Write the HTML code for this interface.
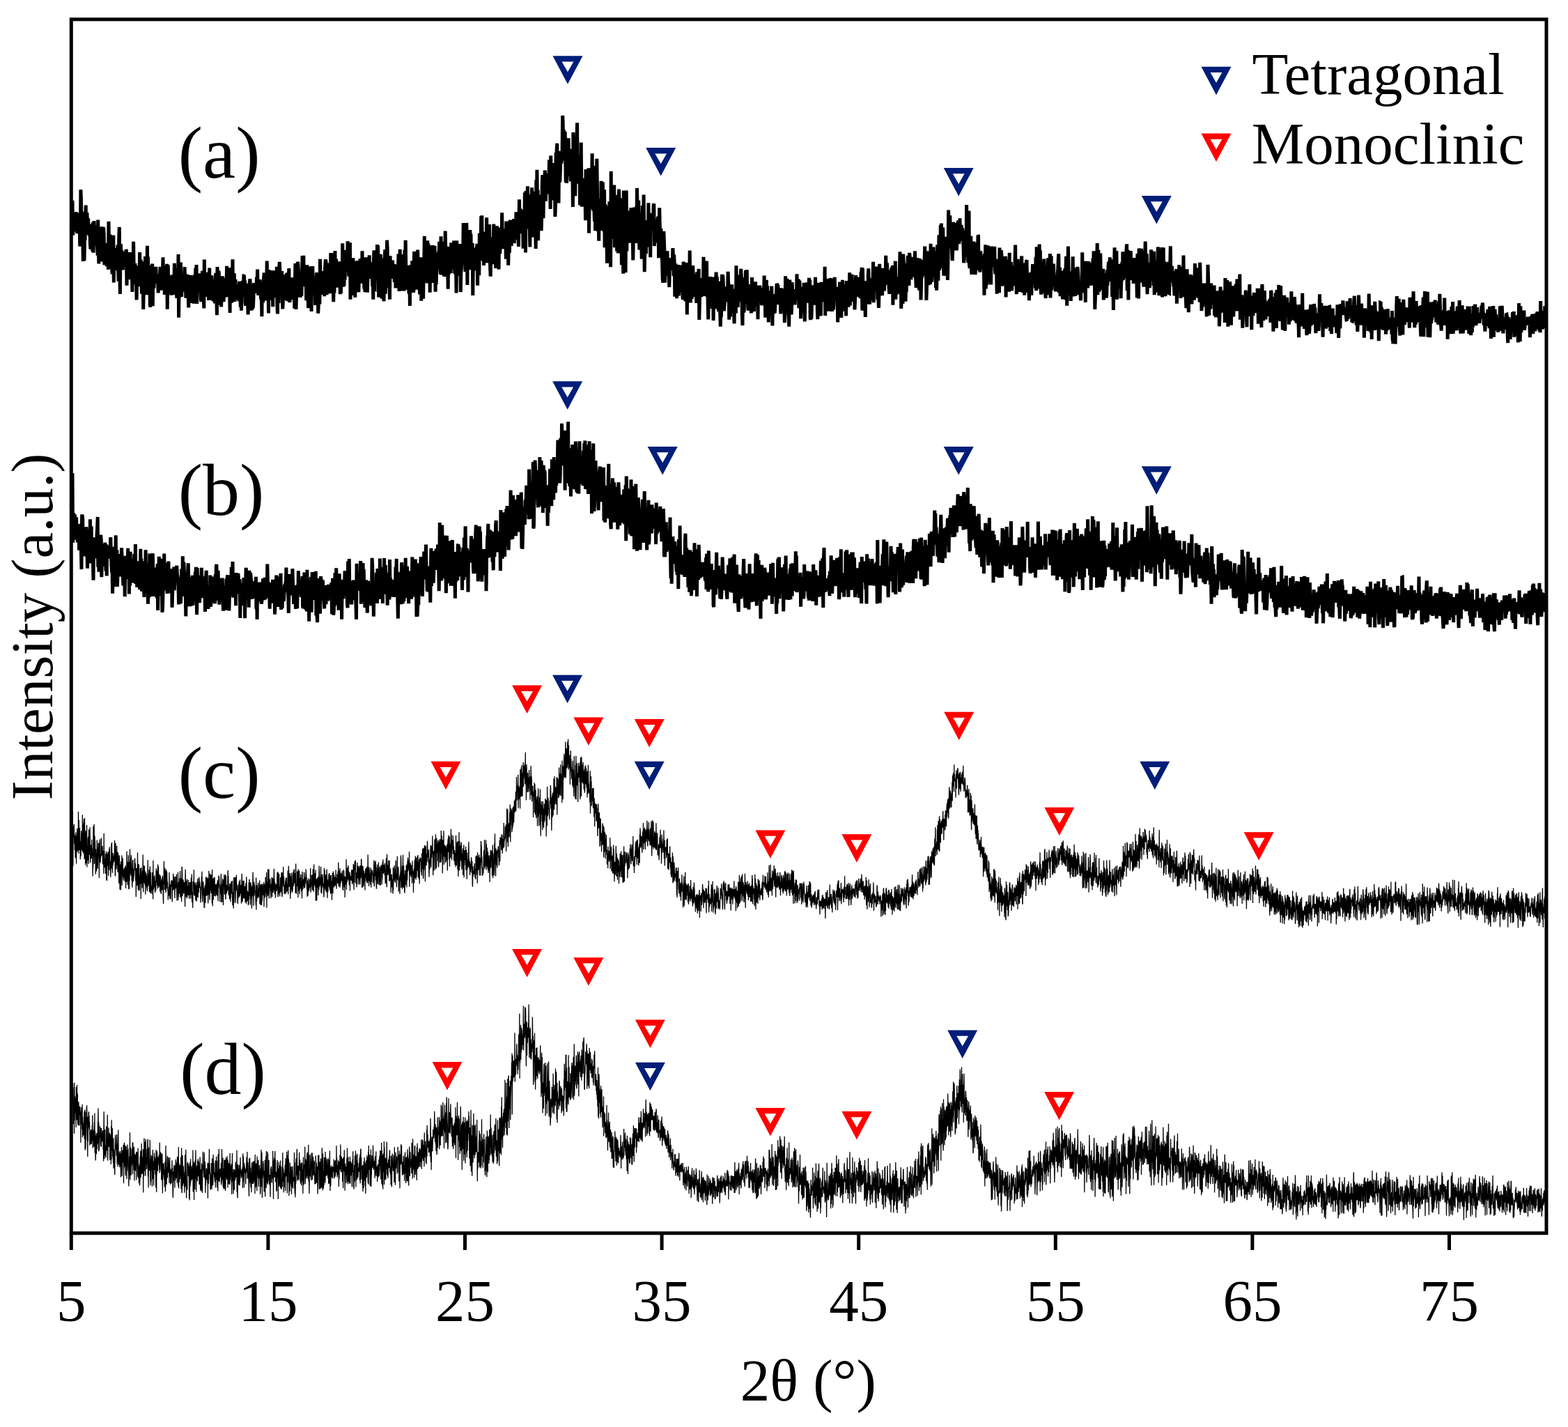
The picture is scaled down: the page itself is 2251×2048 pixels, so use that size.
<!DOCTYPE html><html><head><meta charset="utf-8"><style>html,body{margin:0;padding:0;background:#fff}svg{display:block}</style></head><body>
<svg xmlns="http://www.w3.org/2000/svg" width="2251" height="2048" viewBox="0 0 2251 2048">
<rect width="2251" height="2048" fill="#fff"/>
<polyline points="102.3,323.7 102.9,334.7 103.4,324.0 104.0,287.7 104.6,337.7 105.1,327.8 105.7,306.1 106.3,331.6 106.8,327.2 107.4,326.0 108.0,320.5 108.5,332.5 109.1,304.2 109.6,317.4 110.2,310.7 110.8,335.2 111.3,323.2 111.9,316.1 112.5,305.6 113.0,317.8 113.6,324.1 114.2,318.2 114.7,353.5 115.3,347.5 115.9,272.2 116.4,284.0 117.0,322.5 117.6,317.4 118.1,331.9 118.7,332.4 119.3,374.9 119.8,303.8 120.4,320.4 121.0,374.3 121.5,343.9 122.1,344.6 122.6,319.1 123.2,294.5 123.8,334.9 124.3,334.0 124.9,305.0 125.5,317.6 126.0,331.8 126.6,313.3 127.2,332.5 127.7,337.5 128.3,336.8 128.9,325.6 129.4,350.4 130.0,357.5 130.6,345.7 131.1,321.6 131.7,356.0 132.3,329.9 132.8,360.6 133.4,318.8 134.0,362.7 134.5,343.0 135.1,317.1 135.6,338.0 136.2,346.7 136.8,352.1 137.3,325.6 137.9,323.6 138.5,352.5 139.0,338.8 139.6,354.6 140.2,366.6 140.7,315.5 141.3,357.0 141.9,378.5 142.4,346.6 143.0,336.2 143.6,370.4 144.1,360.4 144.7,374.8 145.3,348.9 145.8,325.4 146.4,355.3 147.0,348.9 147.5,375.5 148.1,363.8 148.6,325.8 149.2,335.7 149.8,380.3 150.3,376.3 150.9,348.7 151.5,362.5 152.0,372.3 152.6,373.1 153.2,382.0 153.7,369.2 154.3,362.2 154.9,359.0 155.4,386.9 156.0,317.9 156.6,362.5 157.1,366.4 157.7,336.3 158.3,373.3 158.8,353.1 159.4,385.0 160.0,364.7 160.5,381.6 161.1,393.3 161.6,376.2 162.2,350.5 162.8,337.7 163.3,405.4 163.9,367.3 164.5,355.8 165.0,373.2 165.6,366.6 166.2,388.2 166.7,371.9 167.3,371.8 167.9,357.4 168.4,381.6 169.0,351.6 169.6,386.1 170.1,403.6 170.7,342.9 171.3,325.9 171.8,386.3 172.4,422.0 173.0,354.9 173.5,350.3 174.1,386.9 174.6,359.2 175.2,366.2 175.8,369.7 176.3,387.3 176.9,369.5 177.5,383.2 178.0,374.8 178.6,362.2 179.2,372.9 179.7,361.0 180.3,380.1 180.9,358.4 181.4,359.5 182.0,409.7 182.6,380.6 183.1,381.0 183.7,392.5 184.3,374.7 184.8,378.9 185.4,392.1 185.9,389.7 186.5,362.0 187.1,401.3 187.6,373.9 188.2,365.3 188.8,368.7 189.3,379.1 189.9,418.9 190.5,364.6 191.0,391.1 191.6,346.7 192.2,388.8 192.7,406.9 193.3,385.1 193.9,377.8 194.4,395.1 195.0,404.7 195.6,404.4 196.1,430.4 196.7,396.3 197.3,381.1 197.8,390.7 198.4,392.1 198.9,396.1 199.5,393.6 200.1,397.9 200.6,362.1 201.2,411.2 201.8,384.0 202.3,372.6 202.9,408.2 203.5,421.7 204.0,405.9 204.6,399.7 205.2,378.6 205.7,443.9 206.3,414.5 206.9,375.3 207.4,382.6 208.0,399.8 208.6,368.0 209.1,401.9 209.7,389.9 210.3,423.0 210.8,418.1 211.4,352.8 211.9,400.7 212.5,368.6 213.1,422.0 213.6,403.9 214.2,411.5 214.8,380.4 215.3,436.9 215.9,440.8 216.5,381.3 217.0,409.4 217.6,389.4 218.2,402.2 218.7,378.5 219.3,439.2 219.9,384.7 220.4,398.0 221.0,413.6 221.6,391.7 222.1,399.9 222.7,393.9 223.3,402.4 223.8,382.8 224.4,397.0 224.9,401.6 225.5,399.3 226.1,406.9 226.6,400.4 227.2,420.5 227.8,400.1 228.3,403.8 228.9,393.9 229.5,396.7 230.0,382.8 230.6,416.8 231.2,385.4 231.7,393.1 232.3,414.2 232.9,415.2 233.4,400.1 234.0,369.4 234.6,415.9 235.1,413.0 235.7,381.4 236.3,423.0 236.8,395.2 237.4,387.2 237.9,410.6 238.5,405.5 239.1,412.9 239.6,378.7 240.2,443.8 240.8,398.0 241.3,380.4 241.9,421.5 242.5,403.2 243.0,416.2 243.6,403.7 244.2,409.2 244.7,415.2 245.3,396.4 245.9,423.7 246.4,402.0 247.0,394.5 247.6,412.7 248.1,419.8 248.7,407.1 249.3,395.0 249.8,423.1 250.4,377.8 250.9,391.6 251.5,411.9 252.1,385.2 252.6,411.5 253.2,409.8 253.8,427.9 254.3,393.4 254.9,398.8 255.5,416.9 256.0,365.0 256.6,455.8 257.2,397.1 257.7,396.5 258.3,426.4 258.9,409.3 259.4,376.5 260.0,421.7 260.6,425.9 261.1,401.3 261.7,404.4 262.3,418.7 262.8,392.5 263.4,417.6 263.9,413.1 264.5,396.7 265.1,383.2 265.6,404.9 266.2,392.7 266.8,427.6 267.3,411.6 267.9,423.4 268.5,411.2 269.0,413.5 269.6,394.0 270.2,420.9 270.7,441.5 271.3,402.6 271.9,397.3 272.4,405.2 273.0,399.2 273.6,395.0 274.1,410.7 274.7,402.9 275.3,435.0 275.8,408.6 276.4,414.8 276.9,426.5 277.5,403.6 278.1,435.7 278.6,397.8 279.2,394.8 279.8,403.1 280.3,407.9 280.9,384.5 281.5,409.6 282.0,380.0 282.6,436.0 283.2,409.3 283.7,399.2 284.3,394.5 284.9,404.3 285.4,407.4 286.0,392.6 286.6,395.0 287.1,408.5 287.7,402.6 288.3,429.3 288.8,433.0 289.4,412.9 289.9,421.3 290.5,388.8 291.1,424.6 291.6,412.7 292.2,422.1 292.8,442.4 293.3,372.6 293.9,418.6 294.5,394.3 295.0,424.9 295.6,390.7 296.2,405.6 296.7,418.4 297.3,425.9 297.9,416.4 298.4,400.9 299.0,405.2 299.6,431.0 300.1,414.9 300.7,384.6 301.3,430.1 301.8,422.3 302.4,430.5 302.9,408.6 303.5,429.5 304.1,395.4 304.6,424.8 305.2,405.5 305.8,426.5 306.3,432.4 306.9,400.9 307.5,413.2 308.0,414.8 308.6,435.5 309.2,426.8 309.7,391.8 310.3,422.1 310.9,427.3 311.4,452.2 312.0,383.1 312.6,403.8 313.1,437.7 313.7,388.8 314.3,391.5 314.8,422.7 315.4,431.7 315.9,401.0 316.5,422.9 317.1,415.1 317.6,440.5 318.2,412.8 318.8,430.8 319.3,396.3 319.9,409.3 320.5,410.8 321.0,433.2 321.6,423.0 322.2,398.7 322.7,424.7 323.3,426.3 323.9,410.4 324.4,407.8 325.0,409.0 325.6,381.8 326.1,416.1 326.7,417.0 327.2,397.0 327.8,426.3 328.4,388.0 328.9,402.9 329.5,404.4 330.1,449.0 330.6,384.2 331.2,423.4 331.8,430.3 332.3,420.1 332.9,434.7 333.5,395.3 334.0,372.4 334.6,427.4 335.2,392.1 335.7,407.8 336.3,392.5 336.9,432.7 337.4,429.4 338.0,401.0 338.6,430.2 339.1,416.2 339.7,411.6 340.2,415.2 340.8,410.6 341.4,425.2 341.9,419.9 342.5,408.2 343.1,432.4 343.6,403.7 344.2,419.7 344.8,422.1 345.3,440.9 345.9,405.8 346.5,445.7 347.0,418.0 347.6,411.5 348.2,403.1 348.7,425.3 349.3,415.7 349.9,395.4 350.4,395.0 351.0,405.0 351.6,402.8 352.1,433.7 352.7,438.6 353.2,429.7 353.8,420.7 354.4,406.9 354.9,415.3 355.5,429.7 356.1,451.4 356.6,430.1 357.2,409.3 357.8,414.8 358.3,405.6 358.9,400.4 359.5,410.7 360.0,417.3 360.6,445.8 361.2,414.7 361.7,437.4 362.3,444.5 362.9,415.0 363.4,441.6 364.0,426.0 364.6,406.2 365.1,418.0 365.7,413.8 366.2,409.3 366.8,409.8 367.4,415.7 367.9,420.7 368.5,397.7 369.1,412.9 369.6,386.5 370.2,417.5 370.8,423.8 371.3,415.7 371.9,417.8 372.5,423.0 373.0,401.1 373.6,408.5 374.2,421.5 374.7,430.0 375.3,419.4 375.9,454.3 376.4,410.8 377.0,429.8 377.6,434.4 378.1,409.9 378.7,397.9 379.2,391.5 379.8,414.9 380.4,431.4 380.9,416.7 381.5,414.9 382.1,405.3 382.6,421.6 383.2,374.5 383.8,415.8 384.3,412.2 384.9,387.7 385.5,449.5 386.0,387.3 386.6,392.7 387.2,390.5 387.7,430.7 388.3,395.8 388.9,422.9 389.4,421.5 390.0,415.7 390.6,388.3 391.1,400.4 391.7,440.2 392.2,388.5 392.8,396.4 393.4,408.0 393.9,424.9 394.5,415.2 395.1,423.7 395.6,392.1 396.2,427.1 396.8,420.5 397.3,382.7 397.9,437.4 398.5,450.5 399.0,397.1 399.6,411.5 400.2,434.9 400.7,384.8 401.3,375.9 401.9,388.0 402.4,400.8 403.0,400.6 403.6,421.3 404.1,415.4 404.7,389.0 405.2,420.6 405.8,443.4 406.4,431.6 406.9,428.1 407.5,411.2 408.1,428.0 408.6,394.0 409.2,424.0 409.8,409.4 410.3,430.6 410.9,419.1 411.5,391.9 412.0,413.2 412.6,432.2 413.2,391.3 413.7,401.3 414.3,397.6 414.9,385.0 415.4,427.8 416.0,433.9 416.6,425.1 417.1,415.4 417.7,410.2 418.2,415.3 418.8,398.4 419.4,426.8 419.9,429.5 420.5,427.6 421.1,402.0 421.6,412.6 422.2,408.4 422.8,442.6 423.3,414.3 423.9,378.0 424.5,418.0 425.0,444.0 425.6,422.9 426.2,426.2 426.7,411.3 427.3,375.8 427.9,378.6 428.4,388.4 429.0,408.1 429.6,415.7 430.1,422.4 430.7,404.1 431.2,427.0 431.8,405.0 432.4,397.4 432.9,424.9 433.5,393.5 434.1,367.0 434.6,390.7 435.2,411.1 435.8,366.7 436.3,402.9 436.9,403.3 437.5,383.7 438.0,382.6 438.6,400.7 439.2,399.1 439.7,431.3 440.3,415.4 440.9,380.4 441.4,393.3 442.0,421.1 442.6,442.3 443.1,415.2 443.7,413.8 444.2,441.5 444.8,407.7 445.4,402.4 445.9,382.5 446.5,398.6 447.1,446.9 447.6,382.1 448.2,407.8 448.8,382.1 449.3,409.7 449.9,423.3 450.5,402.8 451.0,420.3 451.6,420.1 452.2,415.1 452.7,437.9 453.3,420.9 453.9,401.2 454.4,394.3 455.0,391.3 455.6,415.1 456.1,400.5 456.7,449.8 457.2,439.6 457.8,402.3 458.4,400.1 458.9,436.6 459.5,371.7 460.1,397.6 460.6,423.0 461.2,389.1 461.8,396.9 462.3,399.1 462.9,417.4 463.5,407.8 464.0,412.5 464.6,415.9 465.2,405.6 465.7,425.1 466.3,391.7 466.9,378.8 467.4,372.5 468.0,375.2 468.5,394.6 469.1,423.2 469.7,407.6 470.2,393.5 470.8,384.8 471.4,394.6 471.9,396.7 472.5,393.5 473.1,377.5 473.6,394.5 474.2,421.3 474.8,363.1 475.3,397.9 475.9,363.4 476.5,404.9 477.0,387.7 477.6,363.2 478.2,402.5 478.7,433.3 479.3,402.0 479.9,420.8 480.4,398.2 481.0,360.0 481.5,407.7 482.1,390.9 482.7,371.7 483.2,412.1 483.8,402.8 484.4,387.8 484.9,412.7 485.5,380.9 486.1,408.0 486.6,379.0 487.2,405.4 487.8,375.4 488.3,422.2 488.9,399.5 489.5,420.6 490.0,379.2 490.6,385.2 491.2,409.0 491.7,349.3 492.3,373.4 492.9,411.6 493.4,400.9 494.0,410.1 494.5,386.0 495.1,401.8 495.7,377.6 496.2,365.4 496.8,359.1 497.4,380.4 497.9,380.5 498.5,379.1 499.1,346.2 499.6,353.7 500.2,381.2 500.8,396.6 501.3,380.5 501.9,375.0 502.5,348.2 503.0,429.7 503.6,371.1 504.2,423.7 504.7,421.6 505.3,397.4 505.9,381.3 506.4,394.9 507.0,370.3 507.5,397.6 508.1,392.7 508.7,403.1 509.2,411.4 509.8,426.9 510.4,385.5 510.9,413.8 511.5,377.7 512.1,375.8 512.6,381.3 513.2,374.2 513.8,413.2 514.3,412.2 514.9,419.2 515.5,393.6 516.0,399.7 516.6,382.8 517.2,371.5 517.7,403.4 518.3,400.0 518.9,372.7 519.4,406.6 520.0,360.2 520.5,391.5 521.1,382.6 521.7,384.7 522.2,373.6 522.8,414.4 523.4,406.7 523.9,419.1 524.5,398.1 525.1,369.4 525.6,387.9 526.2,371.6 526.8,404.5 527.3,419.7 527.9,402.0 528.5,383.3 529.0,387.9 529.6,399.5 530.2,366.2 530.7,398.4 531.3,399.5 531.9,384.4 532.4,387.0 533.0,399.0 533.5,378.9 534.1,378.8 534.7,411.3 535.2,400.1 535.8,429.7 536.4,375.5 536.9,359.4 537.5,414.8 538.1,415.1 538.6,380.6 539.2,365.7 539.8,394.7 540.3,359.9 540.9,388.7 541.5,351.0 542.0,390.8 542.6,352.2 543.2,390.8 543.7,426.8 544.3,390.2 544.9,411.5 545.4,382.5 546.0,377.4 546.5,364.8 547.1,416.9 547.7,394.1 548.2,428.6 548.8,370.8 549.4,390.3 549.9,396.4 550.5,423.9 551.1,432.2 551.6,381.0 552.2,370.8 552.8,358.2 553.3,421.8 553.9,392.1 554.5,380.3 555.0,392.6 555.6,344.7 556.2,357.6 556.7,412.8 557.3,401.4 557.9,396.2 558.4,372.1 559.0,405.1 559.5,429.8 560.1,367.2 560.7,392.8 561.2,383.4 561.8,399.8 562.4,392.5 562.9,389.0 563.5,373.6 564.1,391.5 564.6,379.0 565.2,388.6 565.8,390.2 566.3,405.0 566.9,379.2 567.5,384.5 568.0,413.4 568.6,386.4 569.2,385.4 569.7,408.8 570.3,396.3 570.9,392.5 571.4,395.0 572.0,364.6 572.5,399.9 573.1,417.8 573.7,402.3 574.2,357.7 574.8,396.0 575.4,371.1 575.9,385.2 576.5,392.5 577.1,365.0 577.6,417.5 578.2,388.2 578.8,406.1 579.3,402.7 579.9,417.4 580.5,414.2 581.0,358.6 581.6,390.1 582.2,344.7 582.7,379.8 583.3,403.9 583.9,408.0 584.4,415.7 585.0,380.9 585.5,395.4 586.1,390.6 586.7,414.9 587.2,421.5 587.8,380.9 588.4,438.9 588.9,388.1 589.5,380.5 590.1,400.5 590.6,403.8 591.2,399.3 591.8,374.3 592.3,418.4 592.9,388.8 593.5,419.6 594.0,416.6 594.6,361.0 595.2,367.0 595.7,366.5 596.3,392.5 596.9,388.2 597.4,392.6 598.0,369.9 598.5,395.6 599.1,415.8 599.7,358.6 600.2,382.2 600.8,391.3 601.4,383.2 601.9,381.7 602.5,422.5 603.1,412.2 603.6,403.0 604.2,369.3 604.8,431.8 605.3,392.4 605.9,372.7 606.5,377.6 607.0,374.3 607.6,428.6 608.2,388.5 608.7,385.4 609.3,338.9 609.8,399.2 610.4,361.5 611.0,359.9 611.5,396.2 612.1,365.1 612.7,400.6 613.2,406.4 613.8,345.3 614.4,379.8 614.9,349.5 615.5,381.0 616.1,401.3 616.6,353.4 617.2,419.7 617.8,375.2 618.3,356.7 618.9,378.8 619.5,397.9 620.0,352.2 620.6,381.0 621.2,351.9 621.7,406.0 622.3,383.8 622.8,371.4 623.4,402.0 624.0,352.9 624.5,371.6 625.1,418.7 625.7,377.0 626.2,408.1 626.8,383.4 627.4,364.4 627.9,373.8 628.5,380.5 629.1,370.0 629.6,361.1 630.2,361.9 630.8,346.8 631.3,380.4 631.9,386.2 632.5,393.6 633.0,339.3 633.6,394.5 634.2,376.9 634.7,346.8 635.3,379.0 635.8,394.0 636.4,387.7 637.0,391.8 637.5,396.3 638.1,395.1 638.7,375.2 639.2,331.5 639.8,359.4 640.4,383.0 640.9,365.3 641.5,389.7 642.1,392.0 642.6,375.8 643.2,414.7 643.8,353.7 644.3,394.2 644.9,364.1 645.5,357.3 646.0,386.4 646.6,360.5 647.2,391.9 647.7,348.4 648.3,373.9 648.8,355.0 649.4,367.8 650.0,364.8 650.5,348.4 651.1,386.4 651.7,345.6 652.2,351.1 652.8,391.0 653.4,392.6 653.9,385.9 654.5,378.8 655.1,420.4 655.6,345.5 656.2,355.5 656.8,350.1 657.3,390.8 657.9,377.7 658.5,395.4 659.0,392.4 659.6,366.7 660.2,353.9 660.7,350.1 661.3,419.1 661.8,392.4 662.4,384.3 663.0,364.2 663.5,367.2 664.1,364.1 664.7,364.5 665.2,320.1 665.8,370.2 666.4,363.3 666.9,377.8 667.5,376.1 668.1,390.0 668.6,371.3 669.2,388.8 669.8,319.9 670.3,347.7 670.9,408.9 671.5,345.1 672.0,365.5 672.6,386.9 673.2,352.4 673.7,387.2 674.3,340.6 674.8,330.0 675.4,342.7 676.0,335.7 676.5,371.2 677.1,364.6 677.7,378.7 678.2,349.1 678.8,423.9 679.4,369.2 679.9,369.8 680.5,380.2 681.1,364.6 681.6,355.7 682.2,370.8 682.8,388.4 683.3,382.5 683.9,388.0 684.5,354.9 685.0,349.9 685.6,409.7 686.2,360.6 686.7,375.7 687.3,380.9 687.8,395.3 688.4,334.7 689.0,353.1 689.5,353.7 690.1,356.1 690.7,310.3 691.2,359.7 691.8,309.3 692.4,367.6 692.9,372.5 693.5,373.6 694.1,334.0 694.6,380.9 695.2,340.9 695.8,332.7 696.3,337.8 696.9,340.4 697.5,362.4 698.0,376.4 698.6,312.2 699.2,346.0 699.7,377.3 700.3,361.8 700.8,368.2 701.4,324.1 702.0,377.4 702.5,322.1 703.1,360.3 703.7,385.6 704.2,396.6 704.8,366.3 705.4,374.0 705.9,341.1 706.5,343.4 707.1,379.1 707.6,353.2 708.2,350.0 708.8,321.5 709.3,355.3 709.9,365.7 710.5,333.8 711.0,339.7 711.6,384.9 712.2,353.9 712.7,343.3 713.3,324.3 713.8,335.2 714.4,342.9 715.0,378.0 715.5,334.2 716.1,386.6 716.7,326.4 717.2,338.4 717.8,364.3 718.4,339.9 718.9,326.5 719.5,341.3 720.1,353.6 720.6,305.4 721.2,337.2 721.8,339.8 722.3,332.8 722.9,357.3 723.5,328.1 724.0,332.1 724.6,340.4 725.2,355.2 725.7,333.7 726.3,371.6 726.8,317.5 727.4,365.5 728.0,317.6 728.5,332.4 729.1,343.6 729.7,380.6 730.2,354.6 730.8,325.4 731.4,362.7 731.9,328.9 732.5,315.7 733.1,342.7 733.6,334.5 734.2,353.0 734.8,319.4 735.3,339.6 735.9,344.8 736.5,336.5 737.0,329.3 737.6,314.2 738.2,349.1 738.7,331.8 739.3,339.3 739.8,320.2 740.4,327.9 741.0,304.3 741.5,328.5 742.1,343.0 742.7,327.6 743.2,343.9 743.8,331.3 744.4,354.0 744.9,319.1 745.5,286.4 746.1,331.8 746.6,318.0 747.2,299.5 747.8,335.0 748.3,325.8 748.9,329.3 749.5,311.5 750.0,322.7 750.6,323.4 751.1,356.8 751.7,301.4 752.3,315.9 752.8,323.7 753.4,276.4 754.0,278.7 754.5,362.5 755.1,274.0 755.7,326.0 756.2,293.7 756.8,295.1 757.4,267.2 757.9,291.1 758.5,328.5 759.1,279.1 759.6,323.3 760.2,316.5 760.8,354.5 761.3,297.9 761.9,336.6 762.5,327.7 763.0,300.7 763.6,269.2 764.1,340.4 764.7,274.9 765.3,294.6 765.8,325.0 766.4,329.8 767.0,284.6 767.5,302.5 768.1,296.8 768.7,329.3 769.2,357.0 769.8,258.6 770.4,321.8 770.9,243.8 771.5,299.7 772.1,272.7 772.6,345.2 773.2,301.6 773.8,279.5 774.3,284.6 774.9,282.1 775.5,299.9 776.0,291.0 776.6,310.2 777.1,331.1 777.7,310.3 778.3,262.5 778.8,251.0 779.4,270.5 780.0,313.3 780.5,277.1 781.1,266.9 781.7,285.1 782.2,244.6 782.8,249.6 783.4,288.7 783.9,266.6 784.5,261.0 785.1,278.3 785.6,254.0 786.2,249.6 786.8,253.4 787.3,277.9 787.9,262.5 788.5,229.5 789.0,249.8 789.6,271.5 790.1,300.0 790.7,223.4 791.3,259.7 791.8,244.7 792.4,271.5 793.0,262.0 793.5,287.4 794.1,263.5 794.7,236.5 795.2,236.5 795.8,260.3 796.4,259.9 796.9,311.1 797.5,292.6 798.1,219.0 798.6,258.2 799.2,214.4 799.8,205.7 800.3,268.1 800.9,262.9 801.5,221.0 802.0,291.5 802.6,222.1 803.1,216.9 803.7,261.6 804.3,246.2 804.8,232.2 805.4,230.8 806.0,234.6 806.5,221.0 807.1,216.2 807.7,165.9 808.2,176.9 808.8,225.6 809.4,186.3 809.9,216.0 810.5,230.6 811.1,188.8 811.6,209.6 812.2,261.5 812.8,228.0 813.3,262.6 813.9,257.9 814.5,240.6 815.0,221.0 815.6,205.0 816.1,198.3 816.7,241.7 817.3,241.6 817.8,224.7 818.4,252.6 819.0,213.9 819.5,260.5 820.1,232.1 820.7,230.4 821.2,231.8 821.8,229.6 822.4,296.9 822.9,189.9 823.5,238.2 824.1,267.0 824.6,253.3 825.2,226.6 825.8,281.2 826.3,207.2 826.9,201.4 827.5,251.2 828.0,198.6 828.6,176.2 829.1,263.0 829.7,261.4 830.3,262.2 830.8,232.3 831.4,251.3 832.0,223.2 832.5,294.6 833.1,271.9 833.7,272.2 834.2,204.4 834.8,277.2 835.4,296.6 835.9,291.0 836.5,281.6 837.1,262.9 837.6,255.7 838.2,281.7 838.8,277.7 839.3,275.6 839.9,263.1 840.5,316.3 841.0,243.0 841.6,273.5 842.1,259.7 842.7,302.6 843.3,313.9 843.8,309.8 844.4,297.8 845.0,241.3 845.5,334.6 846.1,293.8 846.7,277.8 847.2,282.0 847.8,273.1 848.4,294.3 848.9,292.0 849.5,274.7 850.1,220.3 850.6,284.9 851.2,299.5 851.8,301.6 852.3,283.9 852.9,301.2 853.5,317.7 854.0,277.4 854.6,331.2 855.1,238.1 855.7,257.8 856.3,268.3 856.8,227.7 857.4,267.1 858.0,330.1 858.5,330.7 859.1,299.6 859.7,345.6 860.2,305.1 860.8,285.2 861.4,306.7 861.9,296.8 862.5,322.1 863.1,259.7 863.6,331.1 864.2,290.6 864.8,328.5 865.3,261.3 865.9,293.6 866.5,308.2 867.0,332.2 867.6,272.2 868.1,355.2 868.7,321.8 869.3,293.4 869.8,344.0 870.4,312.5 871.0,343.4 871.5,377.6 872.1,333.2 872.7,296.3 873.2,299.7 873.8,329.4 874.4,321.4 874.9,289.3 875.5,294.6 876.1,333.9 876.6,383.2 877.2,245.8 877.8,337.1 878.3,310.4 878.9,339.6 879.5,342.7 880.0,319.6 880.6,289.3 881.1,278.8 881.7,265.6 882.3,355.3 882.8,314.6 883.4,305.6 884.0,313.7 884.5,283.8 885.1,331.4 885.7,360.8 886.2,356.1 886.8,279.7 887.4,363.4 887.9,303.6 888.5,271.6 889.1,291.5 889.6,299.5 890.2,326.9 890.8,298.0 891.3,284.5 891.9,319.3 892.4,380.3 893.0,306.9 893.6,339.3 894.1,328.5 894.7,392.8 895.3,273.4 895.8,356.2 896.4,290.4 897.0,309.3 897.5,322.9 898.1,391.3 898.7,304.4 899.2,273.4 899.8,360.5 900.4,302.0 900.9,318.2 901.5,324.0 902.1,327.2 902.6,320.0 903.2,332.2 903.8,335.8 904.3,348.7 904.9,314.5 905.4,306.3 906.0,298.2 906.6,342.9 907.1,326.2 907.7,342.5 908.3,342.5 908.8,373.4 909.4,334.3 910.0,349.2 910.5,297.6 911.1,301.2 911.7,322.0 912.2,298.6 912.8,348.9 913.4,296.5 913.9,333.3 914.5,269.9 915.1,303.8 915.6,323.9 916.2,326.3 916.8,287.6 917.3,336.4 917.9,358.5 918.4,350.6 919.0,318.1 919.6,320.3 920.1,305.7 920.7,351.3 921.3,371.6 921.8,323.3 922.4,295.0 923.0,341.9 923.5,354.5 924.1,279.5 924.7,341.3 925.2,390.3 925.8,358.3 926.4,352.1 926.9,348.9 927.5,364.3 928.1,316.4 928.6,318.1 929.2,346.9 929.8,320.7 930.3,342.1 930.9,291.3 931.4,352.2 932.0,353.6 932.6,334.6 933.1,336.7 933.7,369.2 934.3,307.2 934.8,310.5 935.4,305.8 936.0,320.3 936.5,306.5 937.1,329.5 937.7,313.4 938.2,295.0 938.8,292.2 939.4,353.1 939.9,325.1 940.5,322.9 941.1,329.8 941.6,328.7 942.2,348.5 942.8,345.5 943.3,321.5 943.9,317.7 944.4,313.3 945.0,311.0 945.6,370.3 946.1,321.0 946.7,298.3 947.3,325.2 947.8,327.7 948.4,353.3 949.0,328.3 949.5,360.3 950.1,358.5 950.7,378.7 951.2,399.4 951.8,405.7 952.4,384.5 952.9,331.9 953.5,349.6 954.1,365.1 954.6,405.6 955.2,377.2 955.8,389.9 956.3,361.9 956.9,379.7 957.4,383.8 958.0,360.3 958.6,388.0 959.1,395.7 959.7,371.0 960.3,397.4 960.8,412.2 961.4,380.2 962.0,380.2 962.5,375.1 963.1,370.1 963.7,387.9 964.2,377.4 964.8,380.4 965.4,371.3 965.9,356.0 966.5,369.2 967.1,396.3 967.6,365.4 968.2,377.2 968.8,425.6 969.3,415.4 969.9,378.2 970.4,405.7 971.0,380.4 971.6,428.1 972.1,383.0 972.7,397.4 973.3,424.8 973.8,380.1 974.4,424.3 975.0,381.6 975.5,403.7 976.1,393.5 976.7,398.4 977.2,403.7 977.8,399.3 978.4,380.5 978.9,418.7 979.5,415.9 980.1,427.5 980.6,429.6 981.2,375.5 981.8,428.1 982.3,428.5 982.9,392.5 983.4,423.8 984.0,432.4 984.6,393.2 985.1,377.1 985.7,397.3 986.3,451.4 986.8,409.4 987.4,381.4 988.0,400.4 988.5,386.2 989.1,398.1 989.7,408.0 990.2,359.6 990.8,413.6 991.4,434.4 991.9,403.3 992.5,399.9 993.1,428.9 993.6,383.2 994.2,383.9 994.8,381.3 995.3,405.6 995.9,416.6 996.4,407.4 997.0,420.1 997.6,425.9 998.1,419.6 998.7,394.4 999.3,405.2 999.8,435.0 1000.4,390.6 1001.0,406.3 1001.5,403.4 1002.1,408.2 1002.7,391.1 1003.2,386.0 1003.8,458.9 1004.4,430.9 1004.9,399.0 1005.5,411.9 1006.1,426.4 1006.6,406.9 1007.2,425.6 1007.8,402.1 1008.3,407.3 1008.9,412.8 1009.4,405.8 1010.0,368.7 1010.6,415.5 1011.1,420.4 1011.7,424.7 1012.3,396.7 1012.8,422.6 1013.4,420.4 1014.0,382.6 1014.5,374.5 1015.1,426.0 1015.7,398.9 1016.2,436.5 1016.8,458.5 1017.4,406.7 1017.9,404.9 1018.5,418.1 1019.1,431.4 1019.6,397.1 1020.2,442.7 1020.8,438.0 1021.3,432.0 1021.9,409.4 1022.4,437.3 1023.0,436.3 1023.6,397.6 1024.1,460.1 1024.7,415.1 1025.3,428.0 1025.8,411.3 1026.4,428.7 1027.0,443.5 1027.5,406.5 1028.1,390.6 1028.7,413.5 1029.2,397.5 1029.8,408.0 1030.4,420.1 1030.9,421.4 1031.5,447.1 1032.1,403.7 1032.6,429.7 1033.2,413.6 1033.7,449.1 1034.3,468.7 1034.9,429.3 1035.4,455.3 1036.0,413.9 1036.6,393.9 1037.1,400.2 1037.7,394.5 1038.3,406.5 1038.8,420.1 1039.4,446.4 1040.0,438.1 1040.5,433.8 1041.1,417.2 1041.7,411.7 1042.2,426.1 1042.8,428.2 1043.4,430.6 1043.9,432.9 1044.5,423.8 1045.1,389.9 1045.6,405.3 1046.2,410.9 1046.7,458.6 1047.3,418.7 1047.9,439.6 1048.4,454.6 1049.0,433.5 1049.6,419.9 1050.1,422.0 1050.7,408.4 1051.3,433.4 1051.8,448.7 1052.4,438.0 1053.0,441.6 1053.5,440.4 1054.1,464.4 1054.7,414.7 1055.2,429.4 1055.8,439.4 1056.4,449.4 1056.9,381.2 1057.5,416.0 1058.1,421.7 1058.6,406.3 1059.2,441.0 1059.7,429.1 1060.3,417.6 1060.9,394.5 1061.4,400.1 1062.0,406.2 1062.6,432.6 1063.1,401.6 1063.7,385.8 1064.3,397.0 1064.8,412.7 1065.4,454.0 1066.0,467.1 1066.5,414.2 1067.1,440.1 1067.7,448.2 1068.2,445.9 1068.8,420.2 1069.4,398.5 1069.9,413.2 1070.5,388.1 1071.1,426.0 1071.6,435.6 1072.2,387.2 1072.7,420.2 1073.3,426.3 1073.9,443.3 1074.4,445.4 1075.0,434.9 1075.6,408.0 1076.1,413.7 1076.7,442.2 1077.3,410.2 1077.8,420.6 1078.4,449.5 1079.0,424.3 1079.5,398.0 1080.1,417.5 1080.7,434.5 1081.2,420.1 1081.8,444.4 1082.4,446.9 1082.9,413.0 1083.5,415.9 1084.1,423.4 1084.6,404.3 1085.2,432.4 1085.7,422.5 1086.3,439.6 1086.9,415.1 1087.4,410.1 1088.0,458.2 1088.6,410.2 1089.1,415.4 1089.7,412.8 1090.3,420.3 1090.8,409.5 1091.4,424.9 1092.0,413.3 1092.5,418.4 1093.1,432.1 1093.7,438.1 1094.2,433.9 1094.8,412.8 1095.4,432.7 1095.9,423.6 1096.5,423.8 1097.1,395.5 1097.6,437.5 1098.2,423.3 1098.7,455.6 1099.3,436.9 1099.9,406.1 1100.4,401.7 1101.0,445.9 1101.6,410.4 1102.1,437.7 1102.7,420.4 1103.3,462.5 1103.8,427.1 1104.4,452.2 1105.0,449.0 1105.5,417.7 1106.1,420.0 1106.7,451.7 1107.2,425.8 1107.8,410.7 1108.4,446.8 1108.9,467.5 1109.5,425.3 1110.1,450.4 1110.6,423.3 1111.2,449.8 1111.7,422.1 1112.3,449.5 1112.9,435.9 1113.4,423.3 1114.0,430.7 1114.6,417.2 1115.1,407.2 1115.7,408.4 1116.3,425.9 1116.8,408.6 1117.4,434.7 1118.0,436.3 1118.5,435.3 1119.1,418.6 1119.7,428.3 1120.2,426.9 1120.8,450.4 1121.4,413.4 1121.9,420.8 1122.5,423.4 1123.1,425.1 1123.6,414.6 1124.2,416.7 1124.7,445.3 1125.3,416.6 1125.9,443.7 1126.4,463.2 1127.0,450.0 1127.6,396.4 1128.1,441.3 1128.7,436.2 1129.3,437.4 1129.8,399.7 1130.4,441.2 1131.0,409.1 1131.5,450.5 1132.1,446.7 1132.7,468.6 1133.2,421.3 1133.8,401.6 1134.4,446.3 1134.9,443.2 1135.5,421.2 1136.1,451.5 1136.6,439.7 1137.2,405.2 1137.7,421.4 1138.3,419.7 1138.9,425.5 1139.4,430.6 1140.0,415.1 1140.6,423.7 1141.1,437.3 1141.7,425.6 1142.3,422.1 1142.8,421.5 1143.4,424.9 1144.0,393.3 1144.5,429.3 1145.1,408.5 1145.7,428.2 1146.2,400.6 1146.8,442.2 1147.4,430.2 1147.9,402.5 1148.5,430.0 1149.1,412.6 1149.6,457.1 1150.2,434.2 1150.7,411.7 1151.3,429.4 1151.9,424.9 1152.4,446.2 1153.0,431.5 1153.6,434.1 1154.1,405.7 1154.7,438.8 1155.3,461.4 1155.8,436.0 1156.4,424.1 1157.0,427.6 1157.5,408.1 1158.1,427.8 1158.7,405.4 1159.2,425.2 1159.8,417.7 1160.4,410.0 1160.9,434.6 1161.5,398.7 1162.1,423.9 1162.6,401.6 1163.2,456.5 1163.7,459.0 1164.3,439.4 1164.9,457.7 1165.4,435.1 1166.0,434.2 1166.6,417.4 1167.1,409.3 1167.7,427.1 1168.3,415.6 1168.8,417.3 1169.4,437.6 1170.0,422.7 1170.5,397.8 1171.1,421.2 1171.7,411.7 1172.2,419.9 1172.8,406.0 1173.4,445.9 1173.9,458.2 1174.5,405.8 1175.0,436.4 1175.6,435.6 1176.2,406.5 1176.7,427.0 1177.3,449.8 1177.9,440.0 1178.4,453.4 1179.0,404.9 1179.6,412.3 1180.1,430.4 1180.7,431.5 1181.3,425.8 1181.8,418.6 1182.4,418.2 1183.0,414.8 1183.5,433.2 1184.1,382.7 1184.7,453.1 1185.2,415.9 1185.8,400.1 1186.4,434.3 1186.9,400.3 1187.5,431.3 1188.0,417.5 1188.6,434.6 1189.2,437.9 1189.7,446.6 1190.3,415.3 1190.9,418.8 1191.4,423.5 1192.0,399.0 1192.6,433.8 1193.1,425.6 1193.7,399.9 1194.3,444.1 1194.8,446.7 1195.4,399.9 1196.0,432.7 1196.5,444.3 1197.1,437.1 1197.7,405.3 1198.2,397.9 1198.8,420.1 1199.4,413.4 1199.9,421.7 1200.5,419.9 1201.0,430.8 1201.6,411.7 1202.2,418.6 1202.7,462.5 1203.3,418.9 1203.9,433.8 1204.4,425.9 1205.0,424.6 1205.6,404.7 1206.1,429.7 1206.7,419.5 1207.3,434.6 1207.8,456.0 1208.4,423.3 1209.0,433.2 1209.5,401.8 1210.1,421.6 1210.7,446.7 1211.2,418.3 1211.8,408.0 1212.4,422.6 1212.9,415.6 1213.5,414.5 1214.0,412.0 1214.6,453.4 1215.2,403.0 1215.7,410.9 1216.3,408.0 1216.9,439.7 1217.4,412.8 1218.0,440.6 1218.6,420.4 1219.1,416.9 1219.7,391.3 1220.3,438.4 1220.8,426.4 1221.4,423.9 1222.0,414.5 1222.5,409.1 1223.1,393.8 1223.7,432.9 1224.2,420.8 1224.8,409.5 1225.4,404.5 1225.9,417.7 1226.5,413.8 1227.0,444.5 1227.6,429.0 1228.2,404.4 1228.7,395.2 1229.3,410.5 1229.9,398.3 1230.4,415.8 1231.0,421.6 1231.6,425.6 1232.1,421.5 1232.7,410.5 1233.3,424.6 1233.8,397.7 1234.4,412.2 1235.0,428.1 1235.5,418.6 1236.1,390.4 1236.7,392.4 1237.2,384.0 1237.8,445.5 1238.4,384.9 1238.9,410.3 1239.5,445.8 1240.0,432.0 1240.6,436.3 1241.2,403.3 1241.7,425.6 1242.3,455.0 1242.9,411.3 1243.4,419.4 1244.0,406.1 1244.6,411.4 1245.1,418.4 1245.7,436.7 1246.3,395.0 1246.8,385.3 1247.4,411.6 1248.0,414.8 1248.5,436.6 1249.1,423.9 1249.7,399.3 1250.2,420.9 1250.8,430.9 1251.4,415.6 1251.9,404.0 1252.5,422.5 1253.0,403.5 1253.6,375.7 1254.2,434.2 1254.7,386.0 1255.3,403.4 1255.9,403.6 1256.4,403.1 1257.0,403.9 1257.6,382.5 1258.1,418.6 1258.7,409.2 1259.3,409.2 1259.8,428.1 1260.4,428.4 1261.0,432.6 1261.5,441.9 1262.1,415.8 1262.7,378.8 1263.2,411.0 1263.8,407.1 1264.4,407.9 1264.9,395.3 1265.5,389.8 1266.0,420.9 1266.6,423.9 1267.2,384.9 1267.7,415.5 1268.3,402.1 1268.9,397.9 1269.4,417.6 1270.0,403.7 1270.6,394.1 1271.1,405.3 1271.7,366.7 1272.3,392.8 1272.8,395.4 1273.4,377.2 1274.0,406.5 1274.5,408.0 1275.1,391.5 1275.7,399.3 1276.2,414.9 1276.8,421.9 1277.4,387.6 1277.9,408.0 1278.5,420.8 1279.0,400.6 1279.6,386.5 1280.2,386.4 1280.7,394.5 1281.3,381.0 1281.9,437.8 1282.4,389.2 1283.0,406.8 1283.6,403.0 1284.1,411.4 1284.7,392.0 1285.3,374.7 1285.8,429.8 1286.4,397.4 1287.0,401.0 1287.5,402.4 1288.1,422.3 1288.7,412.9 1289.2,420.5 1289.8,413.8 1290.4,401.0 1290.9,402.8 1291.5,383.9 1292.0,361.2 1292.6,393.2 1293.2,377.3 1293.7,442.9 1294.3,426.9 1294.9,419.5 1295.4,386.7 1296.0,436.1 1296.6,364.6 1297.1,373.9 1297.7,381.9 1298.3,378.4 1298.8,399.0 1299.4,400.1 1300.0,432.7 1300.5,415.2 1301.1,419.3 1301.7,403.9 1302.2,393.0 1302.8,382.6 1303.4,366.8 1303.9,378.9 1304.5,388.1 1305.0,409.9 1305.6,362.9 1306.2,368.9 1306.7,399.2 1307.3,374.8 1307.9,401.2 1308.4,386.7 1309.0,380.0 1309.6,368.7 1310.1,392.4 1310.7,380.0 1311.3,382.1 1311.8,381.5 1312.4,397.2 1313.0,396.3 1313.5,360.3 1314.1,390.1 1314.7,400.7 1315.2,412.9 1315.8,407.9 1316.3,396.6 1316.9,370.3 1317.5,377.4 1318.0,409.8 1318.6,378.4 1319.2,411.7 1319.7,416.4 1320.3,371.0 1320.9,400.0 1321.4,389.1 1322.0,430.5 1322.6,407.3 1323.1,380.9 1323.7,398.6 1324.3,372.7 1324.8,387.5 1325.4,394.3 1326.0,393.0 1326.5,396.0 1327.1,372.2 1327.7,353.5 1328.2,382.5 1328.8,372.0 1329.3,375.6 1329.9,430.9 1330.5,411.7 1331.0,385.4 1331.6,360.6 1332.2,363.1 1332.7,395.5 1333.3,409.1 1333.9,382.2 1334.4,390.2 1335.0,392.3 1335.6,407.9 1336.1,349.7 1336.7,389.4 1337.3,394.0 1337.8,404.5 1338.4,393.3 1339.0,363.5 1339.5,373.4 1340.1,354.6 1340.7,388.1 1341.2,387.8 1341.8,393.8 1342.3,364.3 1342.9,360.6 1343.5,413.0 1344.0,386.1 1344.6,416.8 1345.2,390.4 1345.7,351.4 1346.3,395.4 1346.9,402.8 1347.4,368.0 1348.0,337.4 1348.6,388.0 1349.1,370.8 1349.7,378.0 1350.3,323.0 1350.8,379.3 1351.4,320.6 1352.0,350.3 1352.5,384.6 1353.1,328.6 1353.7,326.6 1354.2,354.1 1354.8,395.5 1355.3,393.8 1355.9,347.3 1356.5,379.0 1357.0,369.3 1357.6,361.6 1358.2,362.8 1358.7,339.9 1359.3,370.5 1359.9,375.1 1360.4,402.0 1361.0,370.7 1361.6,301.5 1362.1,325.4 1362.7,356.4 1363.3,350.2 1363.8,309.4 1364.4,344.4 1365.0,339.1 1365.5,344.8 1366.1,342.5 1366.7,363.5 1367.2,374.1 1367.8,357.1 1368.3,318.9 1368.9,323.3 1369.5,326.7 1370.0,338.7 1370.6,330.8 1371.2,332.2 1371.7,320.0 1372.3,359.2 1372.9,356.9 1373.4,359.0 1374.0,337.0 1374.6,348.1 1375.1,319.2 1375.7,316.9 1376.3,326.6 1376.8,350.2 1377.4,334.6 1378.0,313.4 1378.5,339.4 1379.1,346.2 1379.7,340.5 1380.2,322.8 1380.8,338.1 1381.3,327.6 1381.9,329.5 1382.5,334.5 1383.0,353.4 1383.6,377.1 1384.2,372.4 1384.7,353.6 1385.3,332.7 1385.9,335.6 1386.4,337.5 1387.0,368.6 1387.6,294.1 1388.1,351.6 1388.7,304.7 1389.3,347.9 1389.8,377.2 1390.4,330.6 1391.0,302.4 1391.5,379.5 1392.1,384.9 1392.7,364.4 1393.2,381.5 1393.8,338.7 1394.3,381.7 1394.9,393.9 1395.5,372.3 1396.0,365.6 1396.6,387.9 1397.2,385.7 1397.7,346.6 1398.3,392.4 1398.9,380.3 1399.4,368.8 1400.0,394.1 1400.6,387.0 1401.1,384.2 1401.7,358.6 1402.3,387.9 1402.8,347.9 1403.4,369.6 1404.0,337.5 1404.5,338.3 1405.1,384.5 1405.7,374.4 1406.2,378.9 1406.8,390.5 1407.3,385.9 1407.9,360.3 1408.5,380.6 1409.0,377.9 1409.6,368.6 1410.2,377.1 1410.7,372.3 1411.3,366.7 1411.9,373.4 1412.4,385.5 1413.0,423.6 1413.6,364.1 1414.1,392.1 1414.7,351.3 1415.3,414.5 1415.8,375.1 1416.4,385.0 1417.0,408.7 1417.5,402.9 1418.1,352.3 1418.7,394.4 1419.2,378.7 1419.8,396.2 1420.3,386.9 1420.9,399.0 1421.5,390.2 1422.0,381.6 1422.6,408.5 1423.2,353.6 1423.7,376.4 1424.3,366.0 1424.9,382.7 1425.4,377.1 1426.0,383.0 1426.6,376.4 1427.1,377.0 1427.7,353.8 1428.3,386.2 1428.8,393.3 1429.4,375.4 1430.0,374.4 1430.5,374.9 1431.1,421.6 1431.7,392.0 1432.2,396.2 1432.8,382.7 1433.3,378.9 1433.9,371.6 1434.5,420.2 1435.0,355.6 1435.6,395.8 1436.2,389.6 1436.7,385.2 1437.3,359.2 1437.9,366.0 1438.4,410.6 1439.0,377.3 1439.6,409.0 1440.1,405.0 1440.7,403.5 1441.3,407.3 1441.8,368.1 1442.4,383.1 1443.0,406.3 1443.5,367.8 1444.1,426.5 1444.7,382.3 1445.2,392.4 1445.8,373.4 1446.3,401.4 1446.9,379.7 1447.5,389.7 1448.0,372.2 1448.6,418.7 1449.2,362.9 1449.7,404.4 1450.3,400.4 1450.9,404.5 1451.4,376.1 1452.0,416.6 1452.6,415.5 1453.1,400.0 1453.7,403.2 1454.3,394.2 1454.8,410.1 1455.4,381.7 1456.0,408.8 1456.5,406.1 1457.1,370.8 1457.6,351.5 1458.2,396.0 1458.8,395.1 1459.3,422.1 1459.9,399.4 1460.5,388.6 1461.0,371.8 1461.6,396.6 1462.2,386.9 1462.7,376.8 1463.3,396.0 1463.9,418.9 1464.4,400.1 1465.0,377.8 1465.6,404.7 1466.1,376.9 1466.7,367.5 1467.3,407.9 1467.8,387.6 1468.4,420.0 1469.0,404.4 1469.5,382.6 1470.1,402.6 1470.6,423.6 1471.2,394.6 1471.8,377.6 1472.3,385.4 1472.9,382.4 1473.5,375.3 1474.0,373.1 1474.6,406.5 1475.2,419.9 1475.7,391.2 1476.3,413.6 1476.9,416.0 1477.4,431.1 1478.0,394.7 1478.6,391.5 1479.1,406.5 1479.7,400.2 1480.3,404.2 1480.8,423.6 1481.4,389.9 1482.0,402.5 1482.5,379.1 1483.1,395.1 1483.6,385.0 1484.2,383.3 1484.8,393.7 1485.3,389.2 1485.9,405.1 1486.5,413.5 1487.0,368.7 1487.6,417.3 1488.2,354.3 1488.7,402.4 1489.3,411.4 1489.9,384.8 1490.4,393.0 1491.0,382.2 1491.6,414.8 1492.1,350.5 1492.7,378.3 1493.3,359.4 1493.8,400.8 1494.4,422.4 1495.0,420.3 1495.5,410.0 1496.1,401.8 1496.6,381.9 1497.2,420.6 1497.8,408.9 1498.3,380.2 1498.9,371.7 1499.5,384.3 1500.0,417.7 1500.6,420.9 1501.2,428.0 1501.7,381.3 1502.3,389.3 1502.9,423.3 1503.4,400.5 1504.0,411.1 1504.6,370.4 1505.1,388.9 1505.7,395.7 1506.3,389.1 1506.8,387.8 1507.4,364.0 1508.0,427.5 1508.5,398.5 1509.1,367.2 1509.6,416.5 1510.2,396.8 1510.8,409.4 1511.3,391.6 1511.9,380.0 1512.5,380.5 1513.0,401.9 1513.6,410.2 1514.2,404.6 1514.7,407.6 1515.3,418.4 1515.9,400.5 1516.4,414.4 1517.0,416.4 1517.6,400.4 1518.1,393.2 1518.7,386.2 1519.3,371.1 1519.8,364.2 1520.4,420.1 1521.0,394.2 1521.5,383.7 1522.1,425.1 1522.6,413.2 1523.2,395.4 1523.8,413.7 1524.3,390.4 1524.9,401.0 1525.5,429.5 1526.0,414.6 1526.6,388.5 1527.2,407.3 1527.7,416.8 1528.3,391.4 1528.9,385.5 1529.4,430.2 1530.0,387.8 1530.6,367.8 1531.1,396.5 1531.7,438.8 1532.3,407.0 1532.8,413.9 1533.4,353.5 1534.0,385.5 1534.5,420.4 1535.1,389.5 1535.6,423.5 1536.2,407.6 1536.8,406.5 1537.3,432.0 1537.9,389.9 1538.5,391.0 1539.0,402.7 1539.6,405.3 1540.2,368.2 1540.7,425.3 1541.3,405.8 1541.9,398.1 1542.4,413.5 1543.0,393.7 1543.6,425.0 1544.1,402.7 1544.7,415.5 1545.3,384.1 1545.8,396.0 1546.4,408.6 1547.0,382.9 1547.5,388.5 1548.1,400.3 1548.6,423.0 1549.2,416.1 1549.8,418.9 1550.3,407.2 1550.9,418.8 1551.5,431.3 1552.0,404.5 1552.6,409.7 1553.2,412.6 1553.7,362.2 1554.3,399.2 1554.9,409.3 1555.4,415.8 1556.0,394.9 1556.6,420.1 1557.1,388.6 1557.7,397.6 1558.3,433.9 1558.8,374.7 1559.4,399.4 1560.0,398.1 1560.5,399.1 1561.1,390.5 1561.6,413.5 1562.2,379.9 1562.8,375.0 1563.3,410.1 1563.9,377.4 1564.5,408.0 1565.0,401.0 1565.6,387.0 1566.2,393.7 1566.7,398.5 1567.3,409.6 1567.9,387.5 1568.4,396.1 1569.0,370.6 1569.6,394.7 1570.1,360.3 1570.7,399.3 1571.3,390.7 1571.8,443.9 1572.4,427.0 1573.0,396.9 1573.5,419.9 1574.1,405.9 1574.6,375.9 1575.2,349.1 1575.8,423.1 1576.3,408.0 1576.9,358.8 1577.5,413.1 1578.0,418.8 1578.6,385.4 1579.2,416.2 1579.7,363.6 1580.3,395.0 1580.9,400.3 1581.4,416.0 1582.0,407.9 1582.6,404.2 1583.1,411.2 1583.7,385.8 1584.3,430.5 1584.8,392.4 1585.4,416.1 1586.0,399.4 1586.5,394.3 1587.1,411.7 1587.6,408.8 1588.2,427.6 1588.8,422.0 1589.3,387.6 1589.9,409.9 1590.5,401.3 1591.0,382.4 1591.6,375.8 1592.2,404.0 1592.7,387.3 1593.3,369.3 1593.9,396.2 1594.4,402.6 1595.0,399.9 1595.6,372.4 1596.1,385.3 1596.7,425.9 1597.3,380.9 1597.8,390.0 1598.4,445.0 1598.9,403.8 1599.5,385.8 1600.1,355.3 1600.6,402.4 1601.2,366.6 1601.8,395.0 1602.3,377.1 1602.9,360.0 1603.5,429.7 1604.0,392.5 1604.6,413.9 1605.2,409.9 1605.7,378.8 1606.3,395.9 1606.9,386.3 1607.4,414.0 1608.0,402.5 1608.6,385.8 1609.1,428.1 1609.7,403.9 1610.3,402.5 1610.8,376.0 1611.4,401.0 1611.9,361.2 1612.5,401.8 1613.1,372.0 1613.6,395.5 1614.2,385.6 1614.8,396.2 1615.3,398.8 1615.9,389.8 1616.5,389.7 1617.0,359.1 1617.6,350.3 1618.2,417.2 1618.7,402.5 1619.3,358.7 1619.9,430.5 1620.4,374.7 1621.0,400.6 1621.6,398.6 1622.1,391.7 1622.7,402.2 1623.3,360.0 1623.8,388.2 1624.4,383.5 1624.9,390.6 1625.5,382.7 1626.1,374.8 1626.6,372.8 1627.2,406.9 1627.8,370.0 1628.3,395.6 1628.9,395.2 1629.5,385.5 1630.0,396.4 1630.6,398.8 1631.2,375.9 1631.7,394.2 1632.3,427.3 1632.9,364.0 1633.4,380.2 1634.0,370.2 1634.6,428.5 1635.1,356.4 1635.7,386.2 1636.3,405.6 1636.8,367.3 1637.4,382.7 1637.9,370.3 1638.5,356.8 1639.1,383.7 1639.6,395.8 1640.2,377.0 1640.8,389.2 1641.3,400.5 1641.9,411.6 1642.5,359.9 1643.0,399.6 1643.6,373.4 1644.2,346.6 1644.7,370.5 1645.3,401.0 1645.9,394.0 1646.4,364.2 1647.0,422.2 1647.6,396.7 1648.1,386.8 1648.7,376.9 1649.3,397.6 1649.8,380.6 1650.4,413.3 1650.9,396.0 1651.5,402.6 1652.1,383.1 1652.6,358.3 1653.2,401.3 1653.8,368.7 1654.3,388.2 1654.9,390.4 1655.5,374.2 1656.0,410.0 1656.6,360.8 1657.2,423.2 1657.7,379.1 1658.3,412.4 1658.9,419.6 1659.4,373.9 1660.0,376.8 1660.6,412.6 1661.1,396.8 1661.7,394.8 1662.3,354.5 1662.8,358.7 1663.4,405.0 1663.9,424.1 1664.5,379.2 1665.1,376.2 1665.6,399.1 1666.2,404.7 1666.8,407.0 1667.3,386.3 1667.9,355.1 1668.5,426.6 1669.0,386.0 1669.6,422.9 1670.2,355.4 1670.7,404.9 1671.3,387.1 1671.9,375.2 1672.4,418.2 1673.0,425.1 1673.6,386.5 1674.1,412.3 1674.7,377.0 1675.3,386.7 1675.8,394.7 1676.4,392.9 1676.9,413.5 1677.5,375.8 1678.1,420.8 1678.6,421.0 1679.2,397.0 1679.8,377.5 1680.3,353.4 1680.9,401.0 1681.5,388.0 1682.0,405.0 1682.6,381.7 1683.2,403.5 1683.7,402.5 1684.3,404.2 1684.9,410.1 1685.4,410.5 1686.0,424.5 1686.6,389.3 1687.1,419.9 1687.7,408.9 1688.3,397.6 1688.8,386.2 1689.4,435.8 1689.9,411.5 1690.5,396.5 1691.1,408.5 1691.6,407.4 1692.2,397.0 1692.8,380.2 1693.3,410.9 1693.9,404.8 1694.5,402.7 1695.0,428.0 1695.6,382.7 1696.2,390.0 1696.7,412.3 1697.3,425.8 1697.9,421.6 1698.4,424.0 1699.0,366.6 1699.6,419.9 1700.1,418.5 1700.7,423.8 1701.3,397.3 1701.8,420.8 1702.4,430.4 1702.9,442.1 1703.5,416.4 1704.1,386.4 1704.6,413.0 1705.2,424.3 1705.8,422.0 1706.3,448.3 1706.9,409.0 1707.5,394.0 1708.0,401.3 1708.6,425.5 1709.2,398.7 1709.7,394.5 1710.3,398.5 1710.9,436.5 1711.4,418.7 1712.0,408.4 1712.6,430.4 1713.1,427.6 1713.7,397.3 1714.3,430.7 1714.8,420.1 1715.4,378.1 1715.9,394.4 1716.5,421.1 1717.1,425.4 1717.6,411.5 1718.2,398.8 1718.8,421.8 1719.3,384.2 1719.9,427.8 1720.5,415.2 1721.0,417.7 1721.6,406.6 1722.2,433.7 1722.7,376.8 1723.3,403.4 1723.9,429.8 1724.4,406.9 1725.0,446.1 1725.6,427.7 1726.1,406.6 1726.7,440.5 1727.3,419.2 1727.8,431.5 1728.4,410.3 1728.9,410.9 1729.5,434.5 1730.1,423.9 1730.6,408.9 1731.2,407.0 1731.8,434.4 1732.3,454.4 1732.9,408.4 1733.5,435.7 1734.0,379.9 1734.6,399.4 1735.2,436.4 1735.7,452.8 1736.3,425.9 1736.9,434.8 1737.4,429.9 1738.0,443.5 1738.6,406.5 1739.1,437.1 1739.7,418.2 1740.2,420.0 1740.8,426.0 1741.4,422.5 1741.9,412.6 1742.5,421.8 1743.1,409.6 1743.6,452.9 1744.2,439.0 1744.8,419.3 1745.3,455.1 1745.9,449.7 1746.5,435.6 1747.0,417.5 1747.6,431.7 1748.2,437.4 1748.7,452.0 1749.3,424.2 1749.9,417.4 1750.4,468.3 1751.0,452.3 1751.6,433.3 1752.1,411.5 1752.7,436.6 1753.2,447.9 1753.8,441.5 1754.4,442.8 1754.9,429.0 1755.5,448.6 1756.1,417.7 1756.6,420.7 1757.2,419.7 1757.8,417.2 1758.3,463.0 1758.9,399.0 1759.5,433.0 1760.0,411.7 1760.6,407.3 1761.2,430.8 1761.7,402.0 1762.3,427.6 1762.9,468.8 1763.4,427.4 1764.0,437.3 1764.6,415.0 1765.1,437.8 1765.7,404.4 1766.2,433.0 1766.8,427.7 1767.4,466.6 1767.9,428.6 1768.5,424.0 1769.1,420.8 1769.6,410.2 1770.2,443.1 1770.8,454.5 1771.3,424.3 1771.9,442.3 1772.5,424.9 1773.0,437.4 1773.6,438.4 1774.2,407.6 1774.7,418.5 1775.3,446.4 1775.9,400.5 1776.4,431.5 1777.0,426.0 1777.6,416.7 1778.1,432.5 1778.7,436.7 1779.2,440.5 1779.8,393.6 1780.4,458.8 1780.9,424.7 1781.5,448.8 1782.1,430.5 1782.6,423.4 1783.2,431.7 1783.8,470.7 1784.3,457.7 1784.9,427.5 1785.5,436.7 1786.0,451.0 1786.6,442.5 1787.2,434.8 1787.7,430.6 1788.3,416.6 1788.9,445.7 1789.4,451.3 1790.0,469.3 1790.6,425.4 1791.1,444.5 1791.7,433.8 1792.2,454.3 1792.8,433.0 1793.4,424.4 1793.9,408.0 1794.5,446.2 1795.1,437.5 1795.6,452.9 1796.2,426.5 1796.8,473.3 1797.3,424.2 1797.9,443.7 1798.5,442.2 1799.0,453.3 1799.6,433.3 1800.2,421.5 1800.7,420.5 1801.3,449.1 1801.9,438.0 1802.4,441.9 1803.0,423.6 1803.6,438.9 1804.1,440.2 1804.7,446.6 1805.2,413.8 1805.8,424.9 1806.4,464.6 1806.9,431.1 1807.5,436.1 1808.1,431.3 1808.6,414.1 1809.2,420.8 1809.8,443.7 1810.3,427.5 1810.9,469.9 1811.5,414.8 1812.0,408.0 1812.6,432.3 1813.2,419.7 1813.7,460.2 1814.3,432.2 1814.9,446.9 1815.4,417.0 1816.0,449.4 1816.6,449.0 1817.1,458.4 1817.7,442.8 1818.2,447.4 1818.8,442.2 1819.4,453.9 1819.9,433.5 1820.5,448.2 1821.1,431.3 1821.6,450.9 1822.2,436.0 1822.8,430.5 1823.3,430.1 1823.9,462.9 1824.5,417.1 1825.0,418.4 1825.6,450.5 1826.2,426.0 1826.7,434.1 1827.3,433.8 1827.9,475.6 1828.4,431.4 1829.0,430.8 1829.6,435.9 1830.1,445.3 1830.7,449.4 1831.2,420.2 1831.8,448.8 1832.4,471.1 1832.9,416.1 1833.5,451.0 1834.1,453.9 1834.6,445.0 1835.2,440.0 1835.8,408.9 1836.3,460.4 1836.9,438.6 1837.5,440.4 1838.0,461.0 1838.6,410.3 1839.2,442.8 1839.7,452.4 1840.3,454.3 1840.9,452.9 1841.4,473.4 1842.0,448.5 1842.6,459.1 1843.1,455.8 1843.7,423.8 1844.2,434.1 1844.8,474.9 1845.4,441.5 1845.9,444.6 1846.5,426.9 1847.1,440.9 1847.6,427.2 1848.2,437.4 1848.8,454.1 1849.3,434.5 1849.9,437.7 1850.5,465.7 1851.0,453.5 1851.6,454.3 1852.2,461.3 1852.7,439.4 1853.3,441.8 1853.9,418.2 1854.4,458.1 1855.0,444.8 1855.6,447.9 1856.1,432.5 1856.7,457.0 1857.2,457.3 1857.8,451.1 1858.4,426.0 1858.9,436.8 1859.5,448.4 1860.1,437.1 1860.6,454.7 1861.2,463.7 1861.8,438.7 1862.3,447.0 1862.9,440.0 1863.5,464.6 1864.0,462.8 1864.6,484.3 1865.2,450.3 1865.7,437.0 1866.3,456.3 1866.9,447.2 1867.4,453.4 1868.0,468.5 1868.6,446.8 1869.1,461.3 1869.7,420.9 1870.2,466.3 1870.8,453.3 1871.4,448.1 1871.9,444.5 1872.5,471.9 1873.1,444.6 1873.6,470.0 1874.2,444.8 1874.8,452.8 1875.3,457.4 1875.9,481.3 1876.5,456.1 1877.0,456.1 1877.6,451.9 1878.2,448.6 1878.7,444.4 1879.3,478.9 1879.9,474.2 1880.4,443.7 1881.0,455.8 1881.5,437.0 1882.1,467.0 1882.7,463.6 1883.2,455.6 1883.8,442.8 1884.4,465.0 1884.9,463.0 1885.5,452.0 1886.1,464.9 1886.6,436.0 1887.2,446.5 1887.8,441.6 1888.3,456.5 1888.9,478.1 1889.5,455.7 1890.0,470.8 1890.6,454.7 1891.2,449.6 1891.7,469.2 1892.3,462.7 1892.9,474.8 1893.4,468.7 1894.0,444.3 1894.5,422.4 1895.1,457.4 1895.7,439.5 1896.2,436.3 1896.8,435.4 1897.4,447.0 1897.9,453.0 1898.5,455.9 1899.1,483.6 1899.6,439.4 1900.2,455.8 1900.8,439.1 1901.3,442.6 1901.9,457.0 1902.5,461.8 1903.0,438.9 1903.6,471.7 1904.2,443.8 1904.7,469.3 1905.3,455.7 1905.9,468.6 1906.4,464.1 1907.0,452.7 1907.5,463.0 1908.1,438.7 1908.7,439.4 1909.2,452.0 1909.8,475.1 1910.4,446.9 1910.9,449.0 1911.5,479.2 1912.1,457.6 1912.6,456.8 1913.2,442.5 1913.8,457.1 1914.3,464.0 1914.9,455.1 1915.5,465.8 1916.0,459.7 1916.6,469.1 1917.2,465.9 1917.7,452.8 1918.3,466.0 1918.9,478.2 1919.4,458.0 1920.0,437.4 1920.5,456.0 1921.1,450.5 1921.7,484.9 1922.2,462.8 1922.8,437.7 1923.4,449.7 1923.9,471.4 1924.5,436.2 1925.1,444.9 1925.6,451.2 1926.2,449.0 1926.8,442.8 1927.3,452.2 1927.9,431.4 1928.5,442.2 1929.0,441.7 1929.6,445.4 1930.2,445.2 1930.7,448.9 1931.3,444.0 1931.9,442.9 1932.4,453.0 1933.0,459.9 1933.5,460.5 1934.1,432.3 1934.7,451.1 1935.2,457.9 1935.8,444.4 1936.4,454.3 1936.9,445.3 1937.5,453.4 1938.1,428.1 1938.6,454.7 1939.2,442.2 1939.8,438.9 1940.3,444.9 1940.9,462.1 1941.5,461.7 1942.0,452.5 1942.6,460.8 1943.2,444.0 1943.7,432.9 1944.3,424.7 1944.9,449.3 1945.4,447.9 1946.0,450.4 1946.5,450.9 1947.1,466.4 1947.7,438.0 1948.2,440.0 1948.8,476.0 1949.4,460.8 1949.9,446.7 1950.5,423.6 1951.1,439.6 1951.6,446.2 1952.2,450.0 1952.8,453.7 1953.3,448.3 1953.9,466.7 1954.5,435.7 1955.0,447.8 1955.6,442.7 1956.2,462.2 1956.7,454.3 1957.3,462.6 1957.9,453.2 1958.4,484.7 1959.0,462.0 1959.5,442.5 1960.1,452.5 1960.7,447.4 1961.2,462.9 1961.8,465.9 1962.4,458.2 1962.9,450.7 1963.5,444.3 1964.1,474.9 1964.6,468.5 1965.2,421.6 1965.8,454.6 1966.3,442.4 1966.9,448.8 1967.5,476.9 1968.0,438.7 1968.6,440.0 1969.2,487.0 1969.7,447.9 1970.3,451.2 1970.9,470.1 1971.4,447.7 1972.0,455.2 1972.5,458.2 1973.1,474.2 1973.7,432.9 1974.2,443.7 1974.8,453.5 1975.4,467.9 1975.9,446.6 1976.5,461.9 1977.1,448.5 1977.6,450.2 1978.2,473.5 1978.8,452.6 1979.3,489.3 1979.9,461.1 1980.5,471.9 1981.0,466.6 1981.6,434.4 1982.2,434.7 1982.7,463.3 1983.3,440.9 1983.9,448.9 1984.4,451.9 1985.0,443.7 1985.5,473.8 1986.1,468.1 1986.7,459.5 1987.2,465.1 1987.8,444.0 1988.4,469.7 1988.9,444.8 1989.5,479.8 1990.1,447.5 1990.6,449.1 1991.2,474.2 1991.8,466.8 1992.3,443.3 1992.9,466.2 1993.5,457.4 1994.0,457.7 1994.6,466.6 1995.2,466.6 1995.7,472.7 1996.3,464.7 1996.9,462.5 1997.4,456.1 1998.0,480.0 1998.5,446.0 1999.1,486.3 1999.7,490.4 2000.2,490.2 2000.8,455.8 2001.4,489.3 2001.9,475.1 2002.5,474.0 2003.1,493.7 2003.6,461.0 2004.2,466.6 2004.8,439.4 2005.3,425.1 2005.9,462.5 2006.5,464.6 2007.0,468.7 2007.6,462.8 2008.2,428.9 2008.7,463.9 2009.3,474.9 2009.9,481.5 2010.4,444.5 2011.0,445.4 2011.5,448.1 2012.1,448.7 2012.7,434.1 2013.2,447.6 2013.8,480.5 2014.4,441.8 2014.9,429.8 2015.5,452.7 2016.1,449.2 2016.6,466.2 2017.2,445.4 2017.8,453.3 2018.3,443.6 2018.9,441.5 2019.5,460.6 2020.0,456.8 2020.6,454.1 2021.2,462.1 2021.7,442.7 2022.3,454.6 2022.8,457.0 2023.4,470.7 2024.0,426.7 2024.5,448.5 2025.1,459.6 2025.7,444.9 2026.2,454.2 2026.8,462.4 2027.4,459.2 2027.9,427.9 2028.5,435.1 2029.1,418.2 2029.6,460.8 2030.2,454.4 2030.8,470.1 2031.3,451.8 2031.9,434.9 2032.5,465.6 2033.0,432.1 2033.6,450.2 2034.2,447.2 2034.7,460.7 2035.3,462.3 2035.8,443.6 2036.4,439.3 2037.0,448.8 2037.5,441.6 2038.1,462.8 2038.7,455.0 2039.2,469.1 2039.8,483.0 2040.4,438.0 2040.9,441.8 2041.5,456.7 2042.1,455.7 2042.6,445.5 2043.2,426.8 2043.8,483.3 2044.3,451.6 2044.9,434.6 2045.5,418.0 2046.0,469.9 2046.6,455.3 2047.2,450.9 2047.7,436.7 2048.3,449.6 2048.8,445.7 2049.4,418.7 2050.0,483.8 2050.5,457.2 2051.1,446.7 2051.7,438.2 2052.2,443.2 2052.8,484.1 2053.4,457.0 2053.9,433.5 2054.5,463.9 2055.1,458.6 2055.6,459.1 2056.2,450.2 2056.8,449.7 2057.3,455.0 2057.9,449.3 2058.5,433.0 2059.0,438.6 2059.6,452.5 2060.2,430.6 2060.7,450.7 2061.3,448.2 2061.8,462.6 2062.4,454.9 2063.0,448.7 2063.5,448.8 2064.1,458.8 2064.7,465.8 2065.2,438.4 2065.8,432.2 2066.4,443.0 2066.9,421.8 2067.5,442.6 2068.1,464.8 2068.6,466.9 2069.2,474.6 2069.8,454.7 2070.3,456.0 2070.9,446.0 2071.5,447.1 2072.0,458.2 2072.6,466.7 2073.2,460.3 2073.7,427.6 2074.3,461.4 2074.8,455.0 2075.4,447.3 2076.0,457.1 2076.5,467.1 2077.1,457.3 2077.7,446.2 2078.2,486.8 2078.8,447.7 2079.4,462.0 2079.9,472.3 2080.5,445.3 2081.1,463.4 2081.6,445.8 2082.2,453.3 2082.8,447.2 2083.3,479.1 2083.9,439.9 2084.5,463.6 2085.0,457.8 2085.6,433.0 2086.2,479.0 2086.7,450.8 2087.3,454.7 2087.8,460.7 2088.4,447.1 2089.0,448.9 2089.5,458.0 2090.1,447.9 2090.7,459.9 2091.2,474.3 2091.8,446.6 2092.4,439.8 2092.9,457.6 2093.5,464.3 2094.1,467.7 2094.6,446.3 2095.2,431.1 2095.8,470.6 2096.3,468.7 2096.9,478.6 2097.5,448.6 2098.0,467.3 2098.6,472.8 2099.2,438.4 2099.7,473.7 2100.3,478.4 2100.8,468.2 2101.4,467.8 2102.0,470.4 2102.5,458.3 2103.1,444.0 2103.7,450.1 2104.2,459.1 2104.8,450.9 2105.4,473.6 2105.9,456.1 2106.5,459.7 2107.1,439.5 2107.6,465.7 2108.2,452.3 2108.8,479.1 2109.3,439.8 2109.9,464.6 2110.5,455.7 2111.0,456.1 2111.6,481.1 2112.2,472.0 2112.7,450.0 2113.3,477.2 2113.8,452.3 2114.4,469.8 2115.0,439.0 2115.5,456.1 2116.1,456.4 2116.7,455.9 2117.2,440.5 2117.8,436.8 2118.4,459.5 2118.9,467.0 2119.5,460.0 2120.1,455.4 2120.6,441.2 2121.2,456.1 2121.8,452.6 2122.3,450.5 2122.9,461.3 2123.5,461.2 2124.0,463.9 2124.6,455.9 2125.2,448.8 2125.7,456.5 2126.3,455.0 2126.8,438.9 2127.4,454.4 2128.0,438.5 2128.5,434.7 2129.1,448.5 2129.7,450.6 2130.2,466.7 2130.8,454.5 2131.4,464.6 2131.9,475.6 2132.5,459.5 2133.1,462.6 2133.6,449.6 2134.2,467.8 2134.8,458.5 2135.3,458.5 2135.9,444.0 2136.5,446.4 2137.0,449.7 2137.6,459.2 2138.2,471.2 2138.7,439.9 2139.3,453.9 2139.8,454.7 2140.4,486.0 2141.0,456.2 2141.5,452.2 2142.1,467.8 2142.7,445.6 2143.2,465.6 2143.8,439.0 2144.4,483.6 2144.9,458.8 2145.5,454.3 2146.1,443.8 2146.6,457.9 2147.2,460.8 2147.8,451.2 2148.3,474.4 2148.9,456.2 2149.5,461.4 2150.0,463.8 2150.6,476.8 2151.2,456.1 2151.7,461.6 2152.3,464.4 2152.8,468.3 2153.4,439.2 2154.0,475.0 2154.5,459.9 2155.1,452.8 2155.7,461.2 2156.2,438.8 2156.8,452.7 2157.4,464.2 2157.9,478.3 2158.5,461.2 2159.1,467.0 2159.6,458.9 2160.2,472.8 2160.8,457.9 2161.3,468.3 2161.9,458.9 2162.5,451.5 2163.0,451.3 2163.6,455.6 2164.1,477.1 2164.7,492.1 2165.3,461.2 2165.8,455.0 2166.4,470.1 2167.0,469.7 2167.5,457.8 2168.1,486.9 2168.7,474.7 2169.2,475.6 2169.8,465.3 2170.4,466.1 2170.9,476.0 2171.5,448.0 2172.1,454.9 2172.6,465.4 2173.2,447.0 2173.8,483.6 2174.3,456.8 2174.9,459.0 2175.5,467.8 2176.0,481.7 2176.6,463.4 2177.1,454.8 2177.7,452.8 2178.3,466.4 2178.8,456.8 2179.4,491.4 2180.0,478.2 2180.5,435.2 2181.1,452.4 2181.7,467.4 2182.2,490.3 2182.8,439.4 2183.4,457.8 2183.9,477.1 2184.5,454.8 2185.1,463.7 2185.6,456.9 2186.2,470.5 2186.8,449.8 2187.3,462.8 2187.9,445.5 2188.5,473.8 2189.0,469.4 2189.6,461.8 2190.1,462.6 2190.7,462.4 2191.3,457.7 2191.8,463.8 2192.4,466.2 2193.0,461.0 2193.5,454.8 2194.1,457.0 2194.7,456.3 2195.2,466.8 2195.8,463.3 2196.4,484.3 2196.9,459.3 2197.5,462.1 2198.1,453.9 2198.6,462.3 2199.2,455.9 2199.8,451.0 2200.3,462.8 2200.9,479.2 2201.5,450.8 2202.0,453.2 2202.6,460.2 2203.1,463.5 2203.7,475.5 2204.3,453.0 2204.8,458.8 2205.4,451.2 2206.0,450.2 2206.5,454.8 2207.1,447.3 2207.7,465.3 2208.2,472.3 2208.8,454.1 2209.4,451.8 2209.9,475.3 2210.5,457.4 2211.1,477.2 2211.6,432.1 2212.2,457.8 2212.8,447.8 2213.3,453.4 2213.9,469.1 2214.5,472.3 2215.0,457.5 2215.6,470.6 2216.1,446.3 2216.7,462.7 2217.3,457.6 2217.8,439.3 2218.4,470.1 2219.0,451.4" fill="none" stroke="#000" stroke-width="5.0" stroke-linejoin="miter" stroke-miterlimit="2"/>
<polyline points="102.3,726.9 102.9,714.3 103.4,720.8 104.0,679.3 104.6,779.0 105.1,767.4 105.7,736.4 106.3,763.5 106.8,754.6 107.4,738.2 108.0,774.7 108.5,748.3 109.1,750.2 109.6,742.3 110.2,772.0 110.8,762.1 111.3,778.4 111.9,755.7 112.5,773.6 113.0,752.1 113.6,789.7 114.2,776.0 114.7,779.5 115.3,781.5 115.9,751.9 116.4,790.1 117.0,817.1 117.6,740.2 118.1,738.9 118.7,744.1 119.3,792.9 119.8,778.6 120.4,798.4 121.0,791.5 121.5,781.5 122.1,783.3 122.6,774.6 123.2,795.8 123.8,756.2 124.3,770.8 124.9,784.4 125.5,815.8 126.0,765.1 126.6,759.2 127.2,769.8 127.7,800.7 128.3,777.1 128.9,808.5 129.4,745.3 130.0,805.3 130.6,803.8 131.1,755.4 131.7,787.1 132.3,808.5 132.8,786.5 133.4,805.0 134.0,832.7 134.5,791.3 135.1,780.6 135.6,771.3 136.2,799.8 136.8,783.4 137.3,784.1 137.9,786.0 138.5,801.3 139.0,767.6 139.6,758.8 140.2,741.9 140.7,813.7 141.3,791.7 141.9,820.6 142.4,790.8 143.0,776.7 143.6,801.2 144.1,790.6 144.7,767.6 145.3,775.3 145.8,828.3 146.4,800.6 147.0,802.2 147.5,788.9 148.1,781.0 148.6,812.8 149.2,793.4 149.8,780.8 150.3,793.6 150.9,778.7 151.5,800.8 152.0,819.8 152.6,781.2 153.2,826.5 153.7,785.3 154.3,802.0 154.9,782.8 155.4,795.3 156.0,801.1 156.6,791.9 157.1,787.0 157.7,787.9 158.3,785.4 158.8,771.0 159.4,797.3 160.0,810.8 160.5,821.3 161.1,816.5 161.6,851.6 162.2,810.8 162.8,795.8 163.3,842.3 163.9,784.9 164.5,825.2 165.0,787.5 165.6,813.8 166.2,768.2 166.7,825.4 167.3,804.8 167.9,789.2 168.4,842.0 169.0,824.3 169.6,810.4 170.1,795.2 170.7,809.5 171.3,807.5 171.8,825.5 172.4,827.3 173.0,798.7 173.5,801.4 174.1,802.1 174.6,786.3 175.2,801.6 175.8,811.8 176.3,827.5 176.9,840.3 177.5,798.4 178.0,825.6 178.6,806.2 179.2,856.3 179.7,814.6 180.3,825.8 180.9,797.6 181.4,800.4 182.0,820.7 182.6,809.4 183.1,824.3 183.7,786.7 184.3,830.9 184.8,800.3 185.4,852.5 185.9,813.0 186.5,840.7 187.1,791.7 187.6,828.0 188.2,802.2 188.8,810.5 189.3,820.9 189.9,814.4 190.5,826.2 191.0,836.0 191.6,834.4 192.2,820.1 192.7,795.1 193.3,806.4 193.9,818.8 194.4,781.0 195.0,838.0 195.6,818.8 196.1,818.8 196.7,842.7 197.3,837.4 197.8,828.9 198.4,805.3 198.9,831.2 199.5,832.2 200.1,808.3 200.6,846.1 201.2,835.8 201.8,787.8 202.3,828.6 202.9,801.9 203.5,848.6 204.0,842.4 204.6,805.6 205.2,810.0 205.7,829.2 206.3,822.8 206.9,857.0 207.4,842.0 208.0,822.5 208.6,839.2 209.1,789.4 209.7,834.4 210.3,845.2 210.8,825.4 211.4,815.4 211.9,839.9 212.5,866.6 213.1,833.4 213.6,808.4 214.2,857.2 214.8,794.5 215.3,839.7 215.9,819.4 216.5,848.1 217.0,814.7 217.6,855.8 218.2,836.7 218.7,798.8 219.3,794.4 219.9,825.6 220.4,855.9 221.0,834.3 221.6,833.3 222.1,827.8 222.7,846.1 223.3,839.6 223.8,837.9 224.4,814.6 224.9,855.0 225.5,858.4 226.1,809.3 226.6,875.9 227.2,846.9 227.8,824.8 228.3,798.9 228.9,846.1 229.5,844.4 230.0,823.4 230.6,801.7 231.2,855.1 231.7,824.0 232.3,826.3 232.9,878.7 233.4,873.9 234.0,852.6 234.6,827.2 235.1,847.4 235.7,794.5 236.3,837.8 236.8,822.3 237.4,813.0 237.9,807.8 238.5,845.9 239.1,838.2 239.6,839.6 240.2,852.0 240.8,821.9 241.3,815.1 241.9,805.6 242.5,831.5 243.0,851.2 243.6,835.1 244.2,849.3 244.7,817.0 245.3,829.8 245.9,824.7 246.4,816.2 247.0,871.8 247.6,853.9 248.1,825.3 248.7,825.4 249.3,838.1 249.8,813.5 250.4,847.1 250.9,816.3 251.5,832.8 252.1,821.3 252.6,831.1 253.2,816.0 253.8,811.8 254.3,822.6 254.9,827.8 255.5,834.8 256.0,841.3 256.6,867.4 257.2,854.8 257.7,835.9 258.3,853.4 258.9,828.3 259.4,866.4 260.0,850.5 260.6,816.6 261.1,854.3 261.7,855.5 262.3,798.3 262.8,827.8 263.4,832.8 263.9,806.9 264.5,822.4 265.1,824.6 265.6,850.6 266.2,847.0 266.8,884.4 267.3,834.8 267.9,862.3 268.5,843.3 269.0,846.8 269.6,821.6 270.2,808.4 270.7,828.7 271.3,855.8 271.9,870.3 272.4,853.1 273.0,851.4 273.6,828.0 274.1,869.6 274.7,866.4 275.3,833.7 275.8,842.2 276.4,825.8 276.9,868.7 277.5,850.3 278.1,841.7 278.6,850.5 279.2,851.2 279.8,836.5 280.3,822.3 280.9,821.7 281.5,813.9 282.0,851.9 282.6,882.2 283.2,815.0 283.7,846.6 284.3,851.3 284.9,827.6 285.4,848.0 286.0,825.8 286.6,865.1 287.1,834.6 287.7,846.5 288.3,856.5 288.8,837.7 289.4,814.8 289.9,836.2 290.5,858.1 291.1,843.9 291.6,849.3 292.2,827.3 292.8,848.0 293.3,857.9 293.9,846.3 294.5,877.9 295.0,842.4 295.6,828.4 296.2,818.8 296.7,865.6 297.3,845.2 297.9,863.4 298.4,854.1 299.0,873.8 299.6,867.7 300.1,840.0 300.7,851.0 301.3,864.7 301.8,825.6 302.4,870.8 302.9,866.8 303.5,863.0 304.1,843.0 304.6,851.5 305.2,827.6 305.8,847.4 306.3,836.5 306.9,847.9 307.5,838.1 308.0,851.2 308.6,866.3 309.2,824.4 309.7,862.0 310.3,812.9 310.9,810.0 311.4,844.4 312.0,846.5 312.6,853.9 313.1,818.7 313.7,845.4 314.3,848.6 314.8,867.6 315.4,844.7 315.9,855.3 316.5,830.0 317.1,843.3 317.6,838.9 318.2,858.3 318.8,829.8 319.3,832.4 319.9,856.1 320.5,876.6 321.0,852.9 321.6,851.6 322.2,840.6 322.7,864.8 323.3,855.5 323.9,875.6 324.4,852.0 325.0,830.5 325.6,836.9 326.1,829.8 326.7,825.4 327.2,867.7 327.8,860.0 328.4,825.6 328.9,876.4 329.5,850.6 330.1,830.3 330.6,853.0 331.2,845.3 331.8,833.4 332.3,813.7 332.9,847.1 333.5,851.4 334.0,806.0 334.6,855.8 335.2,856.9 335.7,838.5 336.3,848.3 336.9,841.7 337.4,832.4 338.0,840.4 338.6,869.2 339.1,822.0 339.7,850.4 340.2,849.6 340.8,834.5 341.4,839.0 341.9,822.9 342.5,832.1 343.1,846.7 343.6,852.0 344.2,831.3 344.8,886.9 345.3,836.8 345.9,848.6 346.5,842.6 347.0,839.7 347.6,868.4 348.2,838.4 348.7,869.0 349.3,865.8 349.9,829.0 350.4,864.1 351.0,835.8 351.6,887.2 352.1,840.4 352.7,831.1 353.2,814.8 353.8,825.3 354.4,837.3 354.9,830.4 355.5,826.5 356.1,835.6 356.6,843.9 357.2,871.8 357.8,818.8 358.3,838.2 358.9,831.5 359.5,822.1 360.0,826.4 360.6,832.5 361.2,859.9 361.7,844.6 362.3,838.9 362.9,858.3 363.4,852.8 364.0,844.3 364.6,854.6 365.1,834.3 365.7,858.8 366.2,856.2 366.8,841.4 367.4,827.9 367.9,874.1 368.5,850.1 369.1,889.0 369.6,837.7 370.2,863.1 370.8,841.5 371.3,853.1 371.9,862.9 372.5,835.5 373.0,847.3 373.6,851.8 374.2,851.0 374.7,859.2 375.3,866.5 375.9,863.3 376.4,853.8 377.0,843.6 377.6,830.4 378.1,837.1 378.7,840.7 379.2,861.1 379.8,843.6 380.4,828.8 380.9,860.3 381.5,836.3 382.1,837.0 382.6,846.1 383.2,858.0 383.8,809.6 384.3,831.2 384.9,853.1 385.5,844.1 386.0,835.7 386.6,841.2 387.2,873.7 387.7,842.8 388.3,862.5 388.9,863.9 389.4,843.0 390.0,858.1 390.6,843.1 391.1,840.5 391.7,831.9 392.2,865.6 392.8,844.2 393.4,841.7 393.9,832.1 394.5,881.6 395.1,863.6 395.6,849.0 396.2,839.6 396.8,825.6 397.3,856.3 397.9,856.2 398.5,827.5 399.0,870.7 399.6,864.1 400.2,834.7 400.7,841.4 401.3,843.5 401.9,853.3 402.4,848.0 403.0,822.7 403.6,875.0 404.1,855.4 404.7,871.2 405.2,871.0 405.8,846.3 406.4,855.4 406.9,862.0 407.5,862.4 408.1,846.6 408.6,838.8 409.2,849.7 409.8,835.5 410.3,839.5 410.9,814.5 411.5,850.1 412.0,831.2 412.6,839.1 413.2,847.4 413.7,853.5 414.3,880.0 414.9,851.4 415.4,824.0 416.0,850.0 416.6,837.6 417.1,854.3 417.7,835.9 418.2,835.4 418.8,838.6 419.4,836.5 419.9,816.2 420.5,835.6 421.1,846.5 421.6,866.9 422.2,841.6 422.8,840.3 423.3,856.5 423.9,855.9 424.5,873.9 425.0,856.9 425.6,846.8 426.2,869.8 426.7,873.2 427.3,839.4 427.9,850.2 428.4,819.3 429.0,841.7 429.6,833.0 430.1,844.4 430.7,840.0 431.2,845.4 431.8,846.6 432.4,856.8 432.9,852.5 433.5,839.2 434.1,827.0 434.6,869.8 435.2,873.1 435.8,841.4 436.3,858.8 436.9,823.4 437.5,822.9 438.0,845.0 438.6,874.8 439.2,832.0 439.7,835.7 440.3,877.5 440.9,817.8 441.4,861.3 442.0,858.7 442.6,847.0 443.1,853.8 443.7,891.8 444.2,831.5 444.8,845.5 445.4,847.0 445.9,839.3 446.5,828.2 447.1,878.8 447.6,855.2 448.2,821.1 448.8,839.3 449.3,858.4 449.9,858.4 450.5,826.5 451.0,849.8 451.6,855.9 452.2,858.2 452.7,858.2 453.3,819.8 453.9,883.4 454.4,855.1 455.0,882.7 455.6,893.1 456.1,848.6 456.7,830.0 457.2,866.4 457.8,848.3 458.4,843.5 458.9,833.4 459.5,880.8 460.1,843.7 460.6,827.0 461.2,843.6 461.8,831.2 462.3,854.2 462.9,844.1 463.5,832.9 464.0,861.9 464.6,840.1 465.2,864.1 465.7,873.5 466.3,845.0 466.9,840.0 467.4,854.9 468.0,867.1 468.5,851.4 469.1,853.9 469.7,850.9 470.2,856.9 470.8,862.5 471.4,838.9 471.9,842.9 472.5,852.0 473.1,839.3 473.6,853.3 474.2,860.3 474.8,850.2 475.3,839.7 475.9,836.4 476.5,881.2 477.0,865.5 477.6,829.8 478.2,834.6 478.7,882.8 479.3,876.1 479.9,851.4 480.4,869.5 481.0,822.3 481.5,848.6 482.1,861.6 482.7,815.2 483.2,834.2 483.8,861.9 484.4,867.9 484.9,837.0 485.5,852.6 486.1,875.7 486.6,840.3 487.2,823.2 487.8,845.7 488.3,839.6 488.9,869.6 489.5,849.1 490.0,831.8 490.6,888.6 491.2,836.9 491.7,854.0 492.3,857.5 492.9,859.2 493.4,848.2 494.0,855.4 494.5,843.6 495.1,819.3 495.7,840.5 496.2,840.7 496.8,840.9 497.4,846.6 497.9,833.2 498.5,867.9 499.1,872.3 499.6,805.4 500.2,844.8 500.8,832.0 501.3,802.1 501.9,852.1 502.5,833.9 503.0,838.3 503.6,833.5 504.2,864.5 504.7,867.3 505.3,850.3 505.9,857.8 506.4,843.5 507.0,848.1 507.5,832.5 508.1,846.4 508.7,833.2 509.2,852.6 509.8,860.7 510.4,851.6 510.9,867.2 511.5,889.0 512.1,808.9 512.6,846.7 513.2,836.4 513.8,838.5 514.3,822.5 514.9,847.7 515.5,842.2 516.0,835.7 516.6,842.5 517.2,836.5 517.7,805.1 518.3,866.7 518.9,841.9 519.4,830.3 520.0,853.1 520.5,835.6 521.1,808.1 521.7,863.9 522.2,816.9 522.8,843.4 523.4,849.5 523.9,872.0 524.5,869.0 525.1,849.9 525.6,832.6 526.2,838.9 526.8,866.7 527.3,879.7 527.9,856.4 528.5,833.9 529.0,865.2 529.6,838.7 530.2,837.9 530.7,840.2 531.3,856.4 531.9,850.3 532.4,863.7 533.0,869.3 533.5,854.4 534.1,800.8 534.7,812.6 535.2,847.3 535.8,843.0 536.4,884.6 536.9,843.3 537.5,840.9 538.1,861.3 538.6,863.5 539.2,838.9 539.8,852.1 540.3,821.7 540.9,825.2 541.5,865.9 542.0,816.1 542.6,859.8 543.2,855.1 543.7,856.6 544.3,859.2 544.9,852.5 545.4,801.5 546.0,822.7 546.5,830.2 547.1,858.6 547.7,820.2 548.2,828.1 548.8,834.4 549.4,865.9 549.9,814.1 550.5,815.6 551.1,852.8 551.6,801.0 552.2,847.2 552.8,832.3 553.3,811.1 553.9,832.8 554.5,821.8 555.0,843.8 555.6,847.5 556.2,868.8 556.7,840.2 557.3,842.3 557.9,829.3 558.4,839.8 559.0,860.4 559.5,803.0 560.1,852.9 560.7,829.7 561.2,841.4 561.8,846.3 562.4,856.5 562.9,844.5 563.5,832.1 564.1,845.8 564.6,839.9 565.2,835.6 565.8,843.6 566.3,856.8 566.9,842.2 567.5,842.5 568.0,813.6 568.6,836.7 569.2,801.9 569.7,853.6 570.3,820.2 570.9,865.2 571.4,887.6 572.0,830.9 572.5,865.9 573.1,847.0 573.7,827.4 574.2,821.5 574.8,850.2 575.4,867.3 575.9,845.8 576.5,807.2 577.1,816.8 577.6,833.6 578.2,866.5 578.8,844.1 579.3,845.0 579.9,863.3 580.5,833.8 581.0,836.2 581.6,834.2 582.2,800.9 582.7,847.6 583.3,846.4 583.9,858.0 584.4,813.0 585.0,820.7 585.5,857.0 586.1,844.2 586.7,866.1 587.2,819.5 587.8,841.5 588.4,823.2 588.9,843.7 589.5,827.1 590.1,848.3 590.6,859.6 591.2,851.1 591.8,799.4 592.3,856.5 592.9,846.2 593.5,815.1 594.0,818.3 594.6,836.9 595.2,848.6 595.7,827.2 596.3,802.6 596.9,841.9 597.4,839.3 598.0,885.3 598.5,808.3 599.1,884.7 599.7,870.7 600.2,840.4 600.8,868.3 601.4,835.5 601.9,853.5 602.5,817.6 603.1,834.2 603.6,811.1 604.2,799.1 604.8,825.9 605.3,817.1 605.9,842.0 606.5,855.8 607.0,825.1 607.6,829.1 608.2,831.1 608.7,791.5 609.3,831.3 609.8,825.2 610.4,823.2 611.0,800.6 611.5,781.5 612.1,816.8 612.7,827.9 613.2,848.4 613.8,843.3 614.4,849.3 614.9,826.0 615.5,841.7 616.1,812.6 616.6,829.2 617.2,834.8 617.8,864.6 618.3,819.0 618.9,786.7 619.5,841.1 620.0,795.3 620.6,809.7 621.2,804.1 621.7,790.7 622.3,836.6 622.8,820.5 623.4,794.6 624.0,808.0 624.5,796.9 625.1,817.9 625.7,796.5 626.2,787.7 626.8,789.5 627.4,793.1 627.9,807.5 628.5,781.6 629.1,798.1 629.6,808.5 630.2,848.2 630.8,817.6 631.3,750.1 631.9,789.6 632.5,792.2 633.0,807.3 633.6,833.5 634.2,816.6 634.7,753.5 635.3,808.0 635.8,804.1 636.4,810.6 637.0,830.5 637.5,779.8 638.1,825.7 638.7,768.5 639.2,804.2 639.8,811.3 640.4,851.2 640.9,789.2 641.5,768.8 642.1,818.6 642.6,790.8 643.2,837.3 643.8,790.2 644.3,787.0 644.9,831.3 645.5,807.4 646.0,826.7 646.6,776.3 647.2,840.7 647.7,794.3 648.3,823.9 648.8,786.1 649.4,775.0 650.0,802.1 650.5,811.3 651.1,840.8 651.7,815.4 652.2,823.3 652.8,822.3 653.4,858.8 653.9,792.0 654.5,835.4 655.1,806.0 655.6,814.4 656.2,797.5 656.8,833.0 657.3,782.5 657.9,781.0 658.5,804.1 659.0,784.2 659.6,822.9 660.2,827.3 660.7,792.3 661.3,824.2 661.8,793.9 662.4,806.7 663.0,807.7 663.5,846.9 664.1,807.3 664.7,787.9 665.2,787.7 665.8,832.4 666.4,771.4 666.9,796.7 667.5,798.5 668.1,755.2 668.6,796.4 669.2,827.8 669.8,811.1 670.3,786.7 670.9,820.9 671.5,817.0 672.0,849.6 672.6,789.5 673.2,797.0 673.7,806.3 674.3,802.2 674.8,807.1 675.4,802.7 676.0,789.6 676.5,769.4 677.1,792.3 677.7,773.7 678.2,781.1 678.8,792.2 679.4,815.5 679.9,823.0 680.5,780.4 681.1,810.2 681.6,821.2 682.2,801.8 682.8,765.4 683.3,753.4 683.9,820.1 684.5,822.6 685.0,807.8 685.6,777.2 686.2,834.2 686.7,828.5 687.3,799.5 687.8,795.2 688.4,755.4 689.0,817.0 689.5,762.8 690.1,814.9 690.7,815.8 691.2,801.0 691.8,834.7 692.4,791.1 692.9,811.7 693.5,816.2 694.1,803.5 694.6,788.0 695.2,825.4 695.8,806.8 696.3,792.5 696.9,792.9 697.5,799.4 698.0,848.2 698.6,798.4 699.2,790.3 699.7,771.3 700.3,767.5 700.8,751.8 701.4,800.2 702.0,795.3 702.5,770.9 703.1,760.3 703.7,786.5 704.2,781.5 704.8,762.1 705.4,798.6 705.9,794.1 706.5,788.8 707.1,806.7 707.6,773.4 708.2,818.4 708.8,763.4 709.3,797.4 709.9,799.3 710.5,778.1 711.0,791.2 711.6,753.0 712.2,747.1 712.7,776.0 713.3,763.1 713.8,792.4 714.4,778.7 715.0,791.2 715.5,783.6 716.1,780.1 716.7,776.9 717.2,765.6 717.8,762.9 718.4,819.3 718.9,732.1 719.5,767.4 720.1,793.9 720.6,779.9 721.2,801.9 721.8,781.6 722.3,739.7 722.9,760.3 723.5,735.2 724.0,789.1 724.6,798.9 725.2,755.3 725.7,777.1 726.3,754.7 726.8,730.6 727.4,752.6 728.0,726.0 728.5,748.5 729.1,765.8 729.7,777.0 730.2,789.4 730.8,751.8 731.4,764.2 731.9,767.9 732.5,770.5 733.1,703.5 733.6,739.0 734.2,774.4 734.8,730.1 735.3,760.8 735.9,773.6 736.5,710.8 737.0,749.2 737.6,758.4 738.2,752.7 738.7,717.1 739.3,759.3 739.8,738.1 740.4,769.1 741.0,759.6 741.5,736.6 742.1,752.5 742.7,732.0 743.2,731.1 743.8,710.3 744.4,740.2 744.9,763.3 745.5,746.8 746.1,742.9 746.6,728.3 747.2,730.0 747.8,758.2 748.3,706.4 748.9,786.8 749.5,737.6 750.0,787.9 750.6,764.6 751.1,727.3 751.7,753.2 752.3,741.4 752.8,745.6 753.4,752.9 754.0,719.9 754.5,717.2 755.1,721.1 755.7,696.9 756.2,723.2 756.8,734.6 757.4,734.3 757.9,732.0 758.5,716.5 759.1,745.2 759.6,673.6 760.2,713.9 760.8,714.8 761.3,744.6 761.9,737.9 762.5,740.5 763.0,720.0 763.6,742.6 764.1,692.7 764.7,718.8 765.3,663.1 765.8,758.5 766.4,754.9 767.0,699.3 767.5,692.5 768.1,660.6 768.7,674.5 769.2,715.7 769.8,708.3 770.4,674.7 770.9,698.9 771.5,694.3 772.1,722.5 772.6,728.2 773.2,704.4 773.8,712.4 774.3,709.0 774.9,656.1 775.5,712.9 776.0,706.4 776.6,726.5 777.1,660.9 777.7,726.1 778.3,690.3 778.8,712.7 779.4,736.0 780.0,667.8 780.5,671.4 781.1,729.0 781.7,674.7 782.2,678.7 782.8,717.7 783.4,696.8 783.9,721.1 784.5,708.5 785.1,699.8 785.6,724.9 786.2,754.8 786.8,696.4 787.3,735.9 787.9,726.7 788.5,700.2 789.0,708.5 789.6,672.7 790.1,680.3 790.7,702.4 791.3,693.2 791.8,726.2 792.4,659.2 793.0,683.6 793.5,673.7 794.1,684.9 794.7,717.2 795.2,656.0 795.8,707.0 796.4,669.3 796.9,675.0 797.5,707.4 798.1,673.8 798.6,696.8 799.2,681.6 799.8,673.2 800.3,667.4 800.9,631.5 801.5,655.4 802.0,677.4 802.6,677.2 803.1,633.2 803.7,693.4 804.3,679.4 804.8,628.7 805.4,632.2 806.0,668.3 806.5,607.7 807.1,630.3 807.7,644.6 808.2,641.5 808.8,644.7 809.4,657.4 809.9,628.7 810.5,638.0 811.1,703.4 811.6,617.7 812.2,643.1 812.8,658.5 813.3,640.9 813.9,689.2 814.5,661.7 815.0,680.3 815.6,605.2 816.1,693.1 816.7,692.7 817.3,645.7 817.8,697.9 818.4,672.6 819.0,689.8 819.5,712.5 820.1,670.4 820.7,643.3 821.2,668.9 821.8,638.1 822.4,650.5 822.9,652.1 823.5,654.1 824.1,701.5 824.6,693.9 825.2,651.5 825.8,702.5 826.3,633.5 826.9,659.5 827.5,673.0 828.0,706.4 828.6,694.6 829.1,687.5 829.7,708.0 830.3,693.2 830.8,708.7 831.4,655.7 832.0,633.4 832.5,664.0 833.1,694.0 833.7,679.7 834.2,694.6 834.8,689.8 835.4,684.7 835.9,691.6 836.5,654.4 837.1,697.3 837.6,646.7 838.2,667.6 838.8,636.3 839.3,681.6 839.9,632.4 840.5,702.0 841.0,638.5 841.6,676.9 842.1,668.6 842.7,652.7 843.3,702.3 843.8,665.0 844.4,709.0 845.0,653.4 845.5,659.5 846.1,633.4 846.7,692.0 847.2,701.1 847.8,686.5 848.4,678.8 848.9,662.8 849.5,736.9 850.1,701.9 850.6,645.2 851.2,680.4 851.8,636.4 852.3,724.1 852.9,733.8 853.5,722.8 854.0,689.8 854.6,678.4 855.1,661.0 855.7,704.1 856.3,676.4 856.8,685.0 857.4,679.7 858.0,687.4 858.5,714.4 859.1,732.3 859.7,698.9 860.2,696.5 860.8,672.0 861.4,669.9 861.9,674.0 862.5,717.4 863.1,703.8 863.6,720.2 864.2,708.7 864.8,690.9 865.3,673.0 865.9,693.2 866.5,670.7 867.0,747.2 867.6,710.0 868.1,696.9 868.7,749.7 869.3,698.4 869.8,719.9 870.4,705.0 871.0,717.4 871.5,702.4 872.1,722.1 872.7,743.4 873.2,685.7 873.8,665.8 874.4,744.4 874.9,719.6 875.5,735.8 876.1,711.5 876.6,752.2 877.2,759.2 877.8,694.9 878.3,735.3 878.9,707.7 879.5,686.3 880.0,715.1 880.6,734.3 881.1,692.4 881.7,694.5 882.3,749.7 882.8,723.8 883.4,732.2 884.0,698.8 884.5,709.7 885.1,726.9 885.7,728.6 886.2,728.0 886.8,759.7 887.4,729.0 887.9,692.2 888.5,706.8 889.1,724.9 889.6,754.2 890.2,711.7 890.8,718.5 891.3,726.8 891.9,712.3 892.4,710.1 893.0,723.2 893.6,750.4 894.1,739.6 894.7,723.1 895.3,738.5 895.8,702.2 896.4,752.3 897.0,747.0 897.5,737.8 898.1,696.1 898.7,776.3 899.2,683.4 899.8,711.0 900.4,713.2 900.9,748.7 901.5,701.4 902.1,739.5 902.6,731.4 903.2,728.8 903.8,754.0 904.3,766.6 904.9,744.7 905.4,730.5 906.0,688.2 906.6,768.9 907.1,731.0 907.7,697.9 908.3,741.7 908.8,769.8 909.4,735.9 910.0,714.1 910.5,788.2 911.1,753.2 911.7,747.8 912.2,762.6 912.8,694.6 913.4,740.0 913.9,738.3 914.5,790.8 915.1,730.6 915.6,731.4 916.2,714.1 916.8,726.7 917.3,740.4 917.9,751.0 918.4,741.7 919.0,789.1 919.6,757.4 920.1,761.0 920.7,777.1 921.3,762.0 921.8,738.0 922.4,716.8 923.0,757.7 923.5,733.0 924.1,779.0 924.7,735.4 925.2,705.1 925.8,753.5 926.4,775.8 926.9,749.3 927.5,757.6 928.1,756.8 928.6,789.5 929.2,759.3 929.8,751.8 930.3,739.4 930.9,717.7 931.4,781.3 932.0,775.6 932.6,731.3 933.1,763.7 933.7,757.5 934.3,742.4 934.8,743.6 935.4,765.5 936.0,724.4 936.5,738.4 937.1,747.4 937.7,748.5 938.2,744.0 938.8,752.6 939.4,758.8 939.9,729.6 940.5,750.5 941.1,738.4 941.6,781.1 942.2,721.5 942.8,746.3 943.3,766.2 943.9,746.6 944.4,746.2 945.0,742.6 945.6,760.7 946.1,731.1 946.7,753.9 947.3,754.1 947.8,726.9 948.4,763.1 949.0,748.7 949.5,765.1 950.1,777.0 950.7,767.1 951.2,736.7 951.8,768.0 952.4,730.0 952.9,748.3 953.5,799.0 954.1,766.6 954.6,799.4 955.2,765.5 955.8,770.7 956.3,749.3 956.9,792.2 957.4,770.5 958.0,788.4 958.6,786.0 959.1,789.3 959.7,786.5 960.3,780.5 960.8,782.6 961.4,770.1 962.0,742.6 962.5,796.5 963.1,829.9 963.7,811.1 964.2,837.7 964.8,801.3 965.4,772.7 965.9,772.6 966.5,807.9 967.1,800.2 967.6,790.5 968.2,809.1 968.8,777.1 969.3,805.6 969.9,789.9 970.4,799.1 971.0,820.2 971.6,794.0 972.1,824.9 972.7,824.4 973.3,782.9 973.8,845.2 974.4,774.1 975.0,797.4 975.5,814.6 976.1,754.4 976.7,821.4 977.2,824.0 977.8,799.3 978.4,807.5 978.9,806.8 979.5,798.8 980.1,824.9 980.6,796.4 981.2,803.4 981.8,812.1 982.3,822.3 982.9,827.8 983.4,776.4 984.0,765.7 984.6,804.3 985.1,806.4 985.7,786.2 986.3,814.5 986.8,821.5 987.4,816.9 988.0,842.9 988.5,789.3 989.1,811.1 989.7,849.8 990.2,825.1 990.8,789.5 991.4,816.4 991.9,836.5 992.5,855.2 993.1,827.0 993.6,837.6 994.2,792.3 994.8,810.0 995.3,839.5 995.9,796.6 996.4,815.1 997.0,779.3 997.6,847.0 998.1,815.0 998.7,829.5 999.3,788.4 999.8,792.6 1000.4,856.0 1001.0,813.0 1001.5,809.4 1002.1,830.9 1002.7,832.1 1003.2,781.8 1003.8,801.9 1004.4,822.8 1004.9,822.2 1005.5,829.4 1006.1,814.0 1006.6,817.3 1007.2,827.5 1007.8,809.6 1008.3,807.0 1008.9,813.0 1009.4,824.4 1010.0,821.6 1010.6,815.2 1011.1,820.1 1011.7,824.4 1012.3,832.1 1012.8,833.2 1013.4,800.4 1014.0,846.0 1014.5,794.7 1015.1,838.0 1015.7,813.1 1016.2,839.2 1016.8,849.1 1017.4,790.4 1017.9,840.4 1018.5,834.1 1019.1,819.6 1019.6,836.9 1020.2,819.6 1020.8,832.1 1021.3,809.0 1021.9,846.0 1022.4,842.3 1023.0,845.7 1023.6,818.0 1024.1,868.2 1024.7,871.2 1025.3,830.2 1025.8,823.9 1026.4,824.4 1027.0,846.4 1027.5,853.4 1028.1,818.1 1028.7,792.7 1029.2,842.4 1029.8,832.7 1030.4,837.1 1030.9,844.2 1031.5,811.8 1032.1,835.5 1032.6,828.4 1033.2,842.0 1033.7,859.0 1034.3,834.8 1034.9,817.8 1035.4,859.9 1036.0,849.4 1036.6,831.3 1037.1,799.5 1037.7,818.1 1038.3,838.6 1038.8,846.8 1039.4,825.5 1040.0,844.9 1040.5,823.7 1041.1,828.0 1041.7,847.2 1042.2,831.4 1042.8,839.7 1043.4,854.5 1043.9,859.8 1044.5,825.6 1045.1,832.5 1045.6,811.3 1046.2,811.8 1046.7,843.9 1047.3,827.8 1047.9,801.4 1048.4,849.0 1049.0,821.9 1049.6,832.5 1050.1,847.2 1050.7,847.0 1051.3,838.1 1051.8,799.6 1052.4,850.6 1053.0,827.5 1053.5,811.2 1054.1,795.6 1054.7,865.8 1055.2,842.4 1055.8,841.9 1056.4,851.8 1056.9,838.2 1057.5,810.5 1058.1,853.4 1058.6,859.9 1059.2,850.3 1059.7,870.6 1060.3,878.0 1060.9,824.4 1061.4,831.5 1062.0,858.0 1062.6,843.9 1063.1,844.7 1063.7,859.1 1064.3,855.3 1064.8,831.9 1065.4,843.2 1066.0,826.7 1066.5,837.0 1067.1,818.9 1067.7,802.1 1068.2,831.2 1068.8,829.4 1069.4,858.9 1069.9,872.5 1070.5,841.9 1071.1,850.8 1071.6,828.9 1072.2,823.2 1072.7,836.0 1073.3,836.1 1073.9,847.7 1074.4,844.1 1075.0,874.8 1075.6,837.7 1076.1,809.4 1076.7,844.4 1077.3,828.9 1077.8,846.0 1078.4,864.2 1079.0,829.1 1079.5,840.3 1080.1,852.0 1080.7,823.0 1081.2,846.0 1081.8,852.5 1082.4,857.7 1082.9,863.3 1083.5,852.5 1084.1,849.3 1084.6,813.9 1085.2,794.4 1085.7,822.2 1086.3,869.4 1086.9,843.4 1087.4,796.4 1088.0,832.6 1088.6,847.9 1089.1,804.1 1089.7,851.9 1090.3,817.8 1090.8,861.0 1091.4,840.9 1092.0,888.0 1092.5,813.8 1093.1,845.6 1093.7,810.7 1094.2,862.6 1094.8,842.2 1095.4,857.9 1095.9,841.6 1096.5,816.3 1097.1,826.4 1097.6,814.8 1098.2,818.4 1098.7,841.9 1099.3,860.1 1099.9,855.8 1100.4,848.9 1101.0,827.4 1101.6,848.6 1102.1,821.5 1102.7,842.3 1103.3,854.7 1103.8,834.3 1104.4,828.6 1105.0,829.3 1105.5,849.8 1106.1,831.5 1106.7,809.4 1107.2,829.2 1107.8,816.2 1108.4,866.8 1108.9,837.3 1109.5,807.8 1110.1,842.1 1110.6,850.9 1111.2,844.1 1111.7,829.5 1112.3,839.4 1112.9,841.9 1113.4,856.1 1114.0,843.4 1114.6,880.9 1115.1,831.8 1115.7,866.1 1116.3,836.3 1116.8,802.2 1117.4,812.6 1118.0,799.8 1118.5,801.7 1119.1,859.2 1119.7,822.4 1120.2,847.2 1120.8,817.7 1121.4,834.9 1121.9,814.3 1122.5,852.0 1123.1,829.9 1123.6,825.9 1124.2,831.5 1124.7,877.5 1125.3,843.4 1125.9,850.9 1126.4,809.9 1127.0,821.5 1127.6,840.0 1128.1,797.5 1128.7,860.4 1129.3,839.3 1129.8,833.5 1130.4,829.9 1131.0,829.1 1131.5,823.7 1132.1,861.0 1132.7,847.0 1133.2,857.9 1133.8,827.3 1134.4,815.8 1134.9,860.1 1135.5,809.5 1136.1,821.7 1136.6,847.9 1137.2,855.4 1137.7,808.3 1138.3,828.9 1138.9,835.1 1139.4,832.1 1140.0,817.9 1140.6,848.3 1141.1,824.8 1141.7,830.6 1142.3,791.2 1142.8,833.5 1143.4,797.6 1144.0,850.0 1144.5,845.9 1145.1,826.4 1145.7,839.7 1146.2,838.9 1146.8,834.0 1147.4,844.2 1147.9,834.8 1148.5,828.0 1149.1,821.9 1149.6,870.7 1150.2,841.7 1150.7,837.7 1151.3,852.5 1151.9,830.8 1152.4,831.1 1153.0,851.9 1153.6,859.2 1154.1,852.3 1154.7,810.1 1155.3,840.6 1155.8,839.2 1156.4,848.7 1157.0,822.5 1157.5,819.5 1158.1,838.0 1158.7,823.0 1159.2,819.7 1159.8,839.1 1160.4,858.5 1160.9,842.7 1161.5,861.8 1162.1,820.2 1162.6,853.4 1163.2,839.2 1163.7,822.0 1164.3,830.8 1164.9,822.0 1165.4,834.4 1166.0,823.9 1166.6,863.0 1167.1,831.1 1167.7,810.1 1168.3,834.0 1168.8,845.2 1169.4,831.3 1170.0,854.2 1170.5,819.3 1171.1,820.2 1171.7,868.6 1172.2,836.7 1172.8,847.0 1173.4,846.0 1173.9,847.4 1174.5,836.8 1175.0,832.0 1175.6,856.8 1176.2,825.8 1176.7,837.5 1177.3,848.5 1177.9,827.2 1178.4,804.8 1179.0,843.6 1179.6,855.5 1180.1,839.2 1180.7,801.4 1181.3,846.4 1181.8,872.1 1182.4,803.5 1183.0,786.0 1183.5,828.5 1184.1,834.6 1184.7,848.4 1185.2,849.2 1185.8,835.2 1186.4,844.0 1186.9,840.0 1187.5,836.0 1188.0,832.5 1188.6,830.7 1189.2,847.4 1189.7,841.7 1190.3,825.6 1190.9,855.2 1191.4,819.9 1192.0,829.6 1192.6,836.8 1193.1,797.3 1193.7,826.9 1194.3,850.9 1194.8,850.1 1195.4,811.3 1196.0,818.4 1196.5,813.7 1197.1,830.1 1197.7,833.4 1198.2,803.9 1198.8,840.9 1199.4,836.2 1199.9,833.5 1200.5,822.0 1201.0,831.5 1201.6,800.7 1202.2,839.6 1202.7,839.3 1203.3,833.2 1203.9,812.5 1204.4,860.0 1205.0,857.3 1205.6,799.3 1206.1,843.6 1206.7,838.6 1207.3,788.2 1207.8,845.8 1208.4,848.4 1209.0,849.7 1209.5,838.5 1210.1,822.5 1210.7,824.9 1211.2,844.3 1211.8,856.7 1212.4,824.3 1212.9,828.0 1213.5,846.5 1214.0,791.2 1214.6,841.0 1215.2,827.6 1215.7,789.4 1216.3,846.2 1216.9,813.4 1217.4,846.0 1218.0,856.9 1218.6,806.1 1219.1,806.7 1219.7,829.2 1220.3,795.5 1220.8,842.7 1221.4,832.0 1222.0,846.8 1222.5,792.8 1223.1,831.3 1223.7,835.9 1224.2,792.5 1224.8,843.4 1225.4,799.9 1225.9,829.2 1226.5,800.5 1227.0,840.0 1227.6,857.1 1228.2,825.7 1228.7,824.8 1229.3,848.4 1229.9,815.2 1230.4,824.2 1231.0,838.4 1231.6,830.6 1232.1,852.0 1232.7,844.6 1233.3,857.9 1233.8,821.5 1234.4,842.9 1235.0,806.8 1235.5,839.0 1236.1,854.9 1236.7,866.1 1237.2,799.1 1237.8,819.2 1238.4,835.7 1238.9,806.2 1239.5,832.7 1240.0,832.6 1240.6,813.6 1241.2,812.7 1241.7,805.5 1242.3,828.3 1242.9,846.2 1243.4,828.1 1244.0,866.5 1244.6,795.2 1245.1,811.9 1245.7,835.2 1246.3,801.5 1246.8,829.2 1247.4,837.9 1248.0,826.0 1248.5,818.5 1249.1,840.2 1249.7,830.5 1250.2,836.2 1250.8,832.9 1251.4,810.2 1251.9,802.2 1252.5,815.7 1253.0,826.0 1253.6,819.2 1254.2,840.3 1254.7,827.4 1255.3,840.7 1255.9,824.8 1256.4,809.2 1257.0,838.3 1257.6,831.9 1258.1,806.9 1258.7,814.9 1259.3,866.4 1259.8,775.0 1260.4,843.1 1261.0,823.0 1261.5,820.4 1262.1,816.0 1262.7,811.8 1263.2,865.4 1263.8,812.8 1264.4,815.2 1264.9,835.7 1265.5,827.8 1266.0,817.1 1266.6,814.9 1267.2,795.2 1267.7,840.2 1268.3,800.0 1268.9,774.2 1269.4,839.2 1270.0,833.4 1270.6,825.6 1271.1,809.3 1271.7,841.3 1272.3,798.4 1272.8,777.5 1273.4,821.5 1274.0,833.5 1274.5,829.8 1275.1,857.1 1275.7,833.6 1276.2,813.5 1276.8,814.0 1277.4,834.3 1277.9,816.2 1278.5,814.7 1279.0,783.9 1279.6,811.1 1280.2,792.4 1280.7,821.1 1281.3,819.1 1281.9,829.9 1282.4,850.1 1283.0,812.8 1283.6,843.4 1284.1,794.8 1284.7,819.1 1285.3,834.1 1285.8,853.0 1286.4,795.2 1287.0,811.1 1287.5,818.6 1288.1,814.0 1288.7,797.9 1289.2,785.0 1289.8,792.7 1290.4,814.3 1290.9,790.4 1291.5,849.4 1292.0,839.0 1292.6,779.6 1293.2,806.3 1293.7,840.8 1294.3,843.1 1294.9,836.8 1295.4,788.5 1296.0,808.6 1296.6,839.8 1297.1,817.5 1297.7,806.8 1298.3,825.0 1298.8,834.1 1299.4,818.0 1300.0,820.0 1300.5,835.8 1301.1,804.6 1301.7,797.8 1302.2,829.9 1302.8,792.3 1303.4,824.7 1303.9,801.1 1304.5,831.3 1305.0,792.2 1305.6,837.0 1306.2,820.6 1306.7,809.1 1307.3,798.3 1307.9,812.0 1308.4,796.6 1309.0,790.8 1309.6,834.8 1310.1,825.0 1310.7,837.0 1311.3,785.9 1311.8,773.8 1312.4,780.4 1313.0,824.0 1313.5,826.7 1314.1,773.7 1314.7,830.1 1315.2,800.8 1315.8,785.2 1316.3,807.0 1316.9,819.4 1317.5,803.4 1318.0,803.7 1318.6,789.9 1319.2,777.9 1319.7,798.4 1320.3,772.8 1320.9,817.2 1321.4,787.4 1322.0,830.7 1322.6,771.6 1323.1,831.8 1323.7,785.0 1324.3,784.3 1324.8,808.0 1325.4,820.0 1326.0,800.4 1326.5,793.4 1327.1,841.2 1327.7,810.3 1328.2,774.8 1328.8,793.7 1329.3,833.5 1329.9,805.0 1330.5,814.8 1331.0,839.4 1331.6,784.6 1332.2,804.3 1332.7,782.2 1333.3,795.2 1333.9,805.6 1334.4,765.8 1335.0,795.8 1335.6,794.9 1336.1,813.1 1336.7,777.8 1337.3,762.8 1337.8,796.7 1338.4,764.2 1339.0,790.6 1339.5,797.8 1340.1,766.8 1340.7,781.7 1341.2,761.7 1341.8,732.6 1342.3,751.2 1342.9,737.1 1343.5,780.2 1344.0,756.7 1344.6,775.1 1345.2,776.2 1345.7,798.6 1346.3,768.7 1346.9,766.9 1347.4,784.9 1348.0,807.1 1348.6,771.5 1349.1,779.5 1349.7,767.8 1350.3,756.7 1350.8,738.8 1351.4,768.1 1352.0,763.6 1352.5,763.3 1353.1,808.0 1353.7,760.2 1354.2,773.0 1354.8,758.6 1355.3,788.8 1355.9,758.5 1356.5,801.1 1357.0,757.7 1357.6,777.9 1358.2,782.1 1358.7,756.3 1359.3,777.5 1359.9,761.1 1360.4,744.1 1361.0,745.3 1361.6,764.6 1362.1,792.8 1362.7,747.1 1363.3,766.9 1363.8,739.6 1364.4,760.0 1365.0,728.7 1365.5,738.2 1366.1,752.9 1366.7,737.8 1367.2,746.6 1367.8,770.9 1368.3,748.2 1368.9,736.0 1369.5,725.3 1370.0,738.4 1370.6,770.5 1371.2,745.7 1371.7,743.7 1372.3,759.9 1372.9,761.5 1373.4,764.0 1374.0,736.6 1374.6,724.9 1375.1,709.4 1375.7,728.0 1376.3,733.4 1376.8,754.2 1377.4,745.5 1378.0,727.3 1378.5,755.1 1379.1,712.2 1379.7,715.5 1380.2,712.3 1380.8,713.2 1381.3,729.0 1381.9,716.5 1382.5,717.7 1383.0,760.4 1383.6,706.1 1384.2,715.8 1384.7,732.8 1385.3,747.5 1385.9,749.5 1386.4,735.8 1387.0,734.9 1387.6,738.1 1388.1,759.4 1388.7,727.4 1389.3,699.9 1389.8,751.9 1390.4,725.9 1391.0,749.3 1391.5,779.6 1392.1,754.9 1392.7,791.1 1393.2,723.2 1393.8,761.3 1394.3,765.5 1394.9,775.5 1395.5,744.4 1396.0,762.9 1396.6,762.5 1397.2,762.4 1397.7,733.1 1398.3,726.3 1398.9,773.0 1399.4,769.5 1400.0,763.7 1400.6,776.4 1401.1,786.0 1401.7,740.5 1402.3,780.9 1402.8,796.0 1403.4,786.8 1404.0,778.5 1404.5,781.3 1405.1,737.5 1405.7,757.5 1406.2,789.5 1406.8,799.5 1407.3,778.9 1407.9,760.4 1408.5,767.5 1409.0,788.7 1409.6,813.4 1410.2,788.5 1410.7,761.8 1411.3,786.2 1411.9,782.8 1412.4,823.3 1413.0,787.2 1413.6,776.1 1414.1,774.3 1414.7,750.9 1415.3,755.1 1415.8,767.6 1416.4,761.2 1417.0,782.5 1417.5,781.1 1418.1,799.1 1418.7,811.5 1419.2,783.8 1419.8,777.1 1420.3,743.1 1420.9,790.2 1421.5,796.6 1422.0,767.4 1422.6,775.8 1423.2,770.0 1423.7,807.1 1424.3,798.5 1424.9,811.5 1425.4,761.8 1426.0,836.2 1426.6,770.1 1427.1,767.2 1427.7,792.9 1428.3,778.0 1428.8,827.8 1429.4,782.0 1430.0,776.9 1430.5,812.0 1431.1,817.6 1431.7,775.4 1432.2,783.2 1432.8,785.8 1433.3,790.1 1433.9,829.0 1434.5,819.8 1435.0,815.9 1435.6,820.4 1436.2,794.4 1436.7,812.3 1437.3,792.7 1437.9,778.8 1438.4,829.1 1439.0,758.1 1439.6,794.8 1440.1,782.9 1440.7,760.4 1441.3,787.1 1441.8,796.6 1442.4,804.8 1443.0,778.3 1443.5,811.2 1444.1,802.0 1444.7,812.5 1445.2,756.0 1445.8,786.6 1446.3,783.4 1446.9,808.1 1447.5,781.1 1448.0,785.9 1448.6,773.0 1449.2,772.1 1449.7,777.6 1450.3,816.7 1450.9,775.2 1451.4,748.1 1452.0,803.2 1452.6,788.1 1453.1,808.7 1453.7,808.5 1454.3,791.3 1454.8,789.2 1455.4,786.7 1456.0,797.9 1456.5,782.3 1457.1,802.2 1457.6,826.4 1458.2,784.6 1458.8,785.4 1459.3,785.2 1459.9,810.6 1460.5,811.5 1461.0,827.3 1461.6,812.6 1462.2,800.7 1462.7,807.4 1463.3,771.4 1463.9,809.5 1464.4,801.6 1465.0,840.4 1465.6,826.1 1466.1,781.2 1466.7,786.5 1467.3,815.9 1467.8,755.9 1468.4,779.3 1469.0,805.5 1469.5,811.0 1470.1,801.7 1470.6,821.6 1471.2,792.3 1471.8,799.8 1472.3,793.9 1472.9,775.5 1473.5,798.7 1474.0,786.5 1474.6,799.3 1475.2,748.8 1475.7,799.9 1476.3,786.6 1476.9,785.1 1477.4,798.5 1478.0,788.0 1478.6,816.4 1479.1,822.9 1479.7,815.5 1480.3,817.1 1480.8,804.8 1481.4,798.1 1482.0,771.2 1482.5,789.6 1483.1,821.6 1483.6,812.4 1484.2,786.7 1484.8,798.7 1485.3,817.8 1485.9,792.8 1486.5,828.9 1487.0,780.4 1487.6,811.7 1488.2,809.6 1488.7,798.8 1489.3,801.2 1489.9,805.9 1490.4,748.6 1491.0,804.2 1491.6,817.7 1492.1,802.4 1492.7,817.3 1493.3,769.9 1493.8,792.4 1494.4,800.3 1495.0,788.1 1495.5,817.4 1496.1,803.0 1496.6,782.5 1497.2,809.3 1497.8,809.2 1498.3,783.5 1498.9,805.0 1499.5,799.7 1500.0,799.1 1500.6,766.2 1501.2,817.5 1501.7,804.5 1502.3,790.6 1502.9,798.1 1503.4,797.6 1504.0,784.4 1504.6,778.5 1505.1,792.3 1505.7,777.9 1506.3,780.0 1506.8,766.1 1507.4,784.5 1508.0,811.1 1508.5,795.0 1509.1,791.8 1509.6,784.5 1510.2,782.4 1510.8,760.4 1511.3,825.9 1511.9,776.7 1512.5,760.8 1513.0,800.5 1513.6,797.7 1514.2,781.8 1514.7,762.0 1515.3,764.1 1515.9,825.9 1516.4,790.9 1517.0,779.9 1517.6,832.8 1518.1,782.5 1518.7,774.7 1519.3,805.8 1519.8,802.3 1520.4,827.7 1521.0,762.1 1521.5,801.3 1522.1,759.5 1522.6,805.3 1523.2,781.9 1523.8,786.1 1524.3,780.5 1524.9,814.2 1525.5,831.1 1526.0,794.9 1526.6,791.5 1527.2,786.4 1527.7,808.5 1528.3,775.4 1528.9,849.2 1529.4,792.9 1530.0,834.9 1530.6,801.5 1531.1,769.0 1531.7,765.0 1532.3,789.9 1532.8,783.7 1533.4,794.1 1534.0,774.7 1534.5,850.8 1535.1,846.4 1535.6,761.0 1536.2,811.1 1536.8,826.9 1537.3,793.7 1537.9,796.3 1538.5,825.4 1539.0,813.6 1539.6,775.4 1540.2,828.9 1540.7,791.2 1541.3,842.4 1541.9,780.4 1542.4,750.8 1543.0,803.2 1543.6,827.5 1544.1,811.9 1544.7,803.8 1545.3,779.8 1545.8,820.1 1546.4,758.7 1547.0,816.9 1547.5,772.4 1548.1,785.6 1548.6,769.4 1549.2,778.1 1549.8,831.2 1550.3,771.7 1550.9,801.9 1551.5,779.6 1552.0,820.1 1552.6,766.6 1553.2,796.8 1553.7,816.7 1554.3,846.9 1554.9,769.5 1555.4,776.2 1556.0,794.4 1556.6,828.6 1557.1,772.2 1557.7,813.4 1558.3,780.6 1558.8,771.1 1559.4,758.4 1560.0,797.0 1560.5,815.9 1561.1,791.2 1561.6,745.4 1562.2,780.4 1562.8,814.8 1563.3,812.4 1563.9,798.7 1564.5,825.8 1565.0,763.4 1565.6,764.3 1566.2,846.8 1566.7,807.9 1567.3,788.2 1567.9,781.9 1568.4,740.9 1569.0,812.5 1569.6,746.2 1570.1,748.6 1570.7,792.7 1571.3,828.5 1571.8,785.1 1572.4,802.9 1573.0,784.5 1573.5,803.8 1574.1,756.5 1574.6,843.4 1575.2,772.9 1575.8,808.2 1576.3,748.3 1576.9,836.7 1577.5,805.9 1578.0,842.4 1578.6,781.0 1579.2,820.5 1579.7,792.6 1580.3,795.8 1580.9,827.2 1581.4,776.2 1582.0,814.6 1582.6,842.9 1583.1,838.6 1583.7,822.8 1584.3,806.0 1584.8,775.9 1585.4,832.2 1586.0,783.0 1586.5,827.3 1587.1,791.6 1587.6,799.8 1588.2,799.7 1588.8,814.2 1589.3,789.7 1589.9,804.4 1590.5,787.8 1591.0,812.8 1591.6,807.0 1592.2,810.4 1592.7,780.0 1593.3,808.0 1593.9,801.2 1594.4,814.2 1595.0,801.4 1595.6,776.7 1596.1,817.7 1596.7,783.9 1597.3,807.0 1597.8,749.9 1598.4,812.3 1598.9,816.1 1599.5,777.8 1600.1,814.2 1600.6,791.0 1601.2,833.5 1601.8,816.1 1602.3,769.9 1602.9,795.1 1603.5,757.3 1604.0,792.3 1604.6,813.2 1605.2,820.1 1605.7,797.5 1606.3,794.3 1606.9,804.0 1607.4,785.5 1608.0,808.0 1608.6,827.3 1609.1,804.9 1609.7,821.1 1610.3,781.4 1610.8,788.5 1611.4,808.6 1611.9,849.4 1612.5,825.0 1613.1,841.9 1613.6,801.8 1614.2,830.7 1614.8,759.7 1615.3,812.5 1615.9,749.0 1616.5,828.7 1617.0,810.1 1617.6,826.1 1618.2,807.2 1618.7,785.0 1619.3,778.5 1619.9,800.6 1620.4,831.6 1621.0,810.1 1621.6,781.4 1622.1,780.2 1622.7,776.4 1623.3,787.8 1623.8,790.2 1624.4,780.2 1624.9,791.5 1625.5,752.7 1626.1,827.9 1626.6,795.7 1627.2,826.0 1627.8,795.7 1628.3,783.5 1628.9,789.8 1629.5,792.5 1630.0,770.7 1630.6,777.0 1631.2,831.7 1631.7,807.7 1632.3,772.1 1632.9,796.7 1633.4,763.4 1634.0,816.8 1634.6,758.3 1635.1,803.6 1635.7,782.2 1636.3,781.8 1636.8,761.0 1637.4,773.7 1637.9,761.1 1638.5,758.1 1639.1,789.4 1639.6,834.9 1640.2,770.3 1640.8,802.8 1641.3,778.7 1641.9,762.0 1642.5,811.6 1643.0,794.8 1643.6,807.2 1644.2,782.7 1644.7,783.7 1645.3,760.7 1645.9,774.2 1646.4,821.2 1647.0,726.3 1647.6,790.5 1648.1,816.7 1648.7,800.8 1649.3,803.0 1649.8,775.7 1650.4,809.4 1650.9,810.3 1651.5,781.8 1652.1,823.2 1652.6,771.5 1653.2,725.4 1653.8,783.3 1654.3,781.0 1654.9,763.6 1655.5,773.1 1656.0,771.4 1656.6,740.7 1657.2,814.2 1657.7,785.1 1658.3,841.2 1658.9,785.0 1659.4,795.0 1660.0,749.7 1660.6,810.1 1661.1,760.2 1661.7,799.1 1662.3,808.4 1662.8,804.7 1663.4,767.2 1663.9,768.1 1664.5,805.2 1665.1,815.5 1665.6,821.9 1666.2,787.5 1666.8,785.9 1667.3,830.7 1667.9,775.1 1668.5,807.0 1669.0,782.2 1669.6,756.6 1670.2,764.0 1670.7,800.8 1671.3,795.7 1671.9,802.3 1672.4,783.0 1673.0,779.8 1673.6,798.2 1674.1,787.7 1674.7,755.2 1675.3,782.5 1675.8,831.8 1676.4,775.5 1676.9,805.9 1677.5,791.7 1678.1,810.6 1678.6,774.2 1679.2,765.2 1679.8,804.8 1680.3,778.9 1680.9,794.3 1681.5,788.2 1682.0,817.5 1682.6,801.7 1683.2,799.4 1683.7,774.5 1684.3,761.3 1684.9,778.1 1685.4,816.1 1686.0,813.1 1686.6,810.9 1687.1,789.1 1687.7,775.4 1688.3,824.3 1688.8,803.0 1689.4,811.2 1689.9,778.6 1690.5,784.7 1691.1,814.6 1691.6,816.9 1692.2,778.8 1692.8,807.6 1693.3,775.7 1693.9,828.8 1694.5,816.8 1695.0,852.6 1695.6,836.0 1696.2,788.8 1696.7,807.9 1697.3,793.5 1697.9,807.3 1698.4,821.6 1699.0,804.8 1699.6,806.5 1700.1,776.5 1700.7,818.4 1701.3,805.9 1701.8,820.1 1702.4,829.4 1702.9,807.9 1703.5,822.6 1704.1,794.9 1704.6,828.6 1705.2,808.1 1705.8,796.2 1706.3,804.3 1706.9,779.3 1707.5,796.1 1708.0,801.1 1708.6,811.1 1709.2,809.1 1709.7,797.6 1710.3,807.7 1710.9,766.7 1711.4,814.2 1712.0,824.3 1712.6,829.5 1713.1,835.9 1713.7,809.2 1714.3,812.0 1714.8,803.9 1715.4,804.1 1715.9,816.9 1716.5,842.6 1717.1,779.6 1717.6,804.7 1718.2,820.9 1718.8,794.7 1719.3,824.2 1719.9,787.4 1720.5,808.8 1721.0,782.1 1721.6,822.1 1722.2,800.5 1722.7,830.1 1723.3,811.0 1723.9,797.6 1724.4,808.8 1725.0,820.2 1725.6,817.6 1726.1,812.8 1726.7,811.1 1727.3,818.6 1727.8,835.7 1728.4,807.3 1728.9,827.9 1729.5,792.6 1730.1,838.1 1730.6,827.0 1731.2,812.9 1731.8,813.6 1732.3,786.5 1732.9,822.5 1733.5,816.0 1734.0,793.3 1734.6,812.6 1735.2,833.0 1735.7,825.3 1736.3,827.5 1736.9,811.3 1737.4,839.3 1738.0,822.3 1738.6,839.7 1739.1,866.8 1739.7,784.0 1740.2,813.6 1740.8,823.8 1741.4,809.3 1741.9,844.2 1742.5,817.3 1743.1,857.1 1743.6,839.3 1744.2,833.0 1744.8,824.4 1745.3,841.6 1745.9,834.8 1746.5,854.2 1747.0,833.8 1747.6,846.0 1748.2,833.9 1748.7,832.6 1749.3,795.6 1749.9,826.6 1750.4,834.2 1751.0,803.8 1751.6,799.6 1752.1,821.0 1752.7,832.9 1753.2,793.9 1753.8,833.6 1754.4,846.4 1754.9,822.8 1755.5,832.6 1756.1,837.1 1756.6,815.2 1757.2,840.5 1757.8,837.3 1758.3,804.2 1758.9,838.9 1759.5,846.0 1760.0,807.8 1760.6,846.2 1761.2,824.1 1761.7,803.1 1762.3,809.2 1762.9,812.3 1763.4,840.4 1764.0,820.5 1764.6,822.4 1765.1,805.4 1765.7,830.8 1766.2,806.1 1766.8,817.5 1767.4,842.8 1767.9,843.9 1768.5,820.7 1769.1,830.2 1769.6,841.7 1770.2,831.3 1770.8,855.1 1771.3,857.8 1771.9,830.2 1772.5,808.2 1773.0,829.2 1773.6,858.5 1774.2,854.3 1774.7,855.5 1775.3,854.4 1775.9,823.1 1776.4,838.4 1777.0,854.2 1777.6,838.5 1778.1,850.5 1778.7,814.4 1779.2,810.5 1779.8,872.6 1780.4,848.9 1780.9,846.1 1781.5,862.6 1782.1,877.3 1782.6,880.7 1783.2,789.1 1783.8,842.6 1784.3,855.0 1784.9,799.0 1785.5,801.6 1786.0,832.4 1786.6,871.8 1787.2,854.0 1787.7,877.2 1788.3,841.8 1788.9,856.9 1789.4,865.6 1790.0,845.6 1790.6,836.7 1791.1,839.5 1791.7,791.7 1792.2,843.6 1792.8,802.5 1793.4,822.3 1793.9,851.2 1794.5,845.6 1795.1,800.6 1795.6,848.2 1796.2,852.6 1796.8,842.4 1797.3,851.7 1797.9,849.6 1798.5,807.3 1799.0,835.3 1799.6,833.9 1800.2,816.9 1800.7,838.8 1801.3,824.7 1801.9,838.4 1802.4,824.1 1803.0,859.7 1803.6,881.5 1804.1,830.0 1804.7,841.5 1805.2,841.9 1805.8,849.3 1806.4,838.1 1806.9,800.4 1807.5,848.1 1808.1,839.4 1808.6,822.2 1809.2,838.4 1809.8,832.9 1810.3,846.7 1810.9,836.7 1811.5,837.5 1812.0,844.7 1812.6,847.4 1813.2,843.4 1813.7,864.6 1814.3,847.9 1814.9,829.6 1815.4,875.1 1816.0,846.1 1816.6,872.4 1817.1,825.1 1817.7,854.6 1818.2,875.7 1818.8,867.7 1819.4,846.6 1819.9,834.6 1820.5,834.5 1821.1,842.2 1821.6,828.2 1822.2,832.5 1822.8,828.3 1823.3,828.4 1823.9,850.5 1824.5,815.4 1825.0,849.5 1825.6,858.8 1826.2,830.6 1826.7,831.4 1827.3,847.7 1827.9,846.8 1828.4,863.9 1829.0,813.9 1829.6,846.8 1830.1,871.9 1830.7,849.8 1831.2,878.3 1831.8,885.3 1832.4,839.7 1832.9,874.2 1833.5,857.9 1834.1,849.2 1834.6,844.9 1835.2,846.1 1835.8,834.8 1836.3,847.3 1836.9,865.9 1837.5,871.4 1838.0,844.3 1838.6,859.7 1839.2,858.9 1839.7,812.0 1840.3,863.2 1840.9,831.1 1841.4,832.7 1842.0,865.8 1842.6,879.8 1843.1,833.8 1843.7,837.7 1844.2,836.8 1844.8,843.9 1845.4,846.5 1845.9,839.2 1846.5,826.2 1847.1,882.5 1847.6,845.2 1848.2,841.0 1848.8,868.5 1849.3,847.9 1849.9,871.9 1850.5,867.1 1851.0,870.6 1851.6,848.0 1852.2,865.2 1852.7,829.4 1853.3,832.5 1853.9,856.4 1854.4,850.4 1855.0,877.6 1855.6,851.3 1856.1,827.0 1856.7,857.2 1857.2,851.5 1857.8,859.6 1858.4,837.6 1858.9,844.2 1859.5,858.0 1860.1,869.3 1860.6,864.1 1861.2,869.8 1861.8,834.1 1862.3,854.4 1862.9,861.5 1863.5,873.7 1864.0,862.3 1864.6,854.1 1865.2,856.1 1865.7,856.6 1866.3,834.9 1866.9,858.5 1867.4,871.1 1868.0,869.6 1868.6,828.0 1869.1,858.1 1869.7,833.8 1870.2,875.8 1870.8,866.8 1871.4,869.6 1871.9,847.4 1872.5,826.9 1873.1,841.3 1873.6,852.5 1874.2,834.0 1874.8,842.0 1875.3,886.3 1875.9,837.0 1876.5,867.0 1877.0,828.2 1877.6,862.2 1878.2,871.6 1878.7,865.3 1879.3,877.5 1879.9,886.9 1880.4,836.1 1881.0,862.4 1881.5,866.6 1882.1,865.1 1882.7,883.7 1883.2,862.8 1883.8,877.6 1884.4,876.9 1884.9,860.8 1885.5,867.2 1886.1,846.4 1886.6,863.6 1887.2,861.6 1887.8,856.3 1888.3,851.3 1888.9,874.1 1889.5,857.0 1890.0,894.9 1890.6,879.5 1891.2,870.8 1891.7,849.6 1892.3,873.1 1892.9,861.1 1893.4,860.3 1894.0,841.8 1894.5,868.0 1895.1,862.8 1895.7,851.8 1896.2,848.6 1896.8,854.8 1897.4,838.7 1897.9,850.6 1898.5,880.2 1899.1,849.1 1899.6,894.4 1900.2,838.6 1900.8,875.7 1901.3,875.7 1901.9,876.8 1902.5,867.8 1903.0,834.6 1903.6,876.6 1904.2,875.4 1904.7,859.7 1905.3,823.0 1905.9,875.4 1906.4,844.9 1907.0,854.8 1907.5,878.0 1908.1,879.3 1908.7,864.9 1909.2,850.5 1909.8,885.1 1910.4,876.6 1910.9,856.6 1911.5,844.3 1912.1,863.3 1912.6,838.3 1913.2,886.1 1913.8,866.9 1914.3,853.7 1914.9,865.5 1915.5,833.8 1916.0,858.3 1916.6,849.7 1917.2,835.3 1917.7,849.9 1918.3,864.9 1918.9,837.8 1919.4,856.7 1920.0,837.5 1920.5,862.9 1921.1,833.0 1921.7,870.9 1922.2,870.2 1922.8,872.9 1923.4,887.9 1923.9,862.9 1924.5,862.2 1925.1,869.7 1925.6,853.3 1926.2,831.5 1926.8,841.9 1927.3,842.0 1927.9,863.7 1928.5,851.1 1929.0,854.9 1929.6,869.6 1930.2,864.0 1930.7,891.8 1931.3,860.5 1931.9,846.9 1932.4,880.8 1933.0,855.1 1933.5,860.5 1934.1,876.9 1934.7,864.6 1935.2,872.6 1935.8,852.5 1936.4,857.6 1936.9,872.1 1937.5,854.1 1938.1,856.4 1938.6,861.9 1939.2,887.0 1939.8,885.2 1940.3,866.3 1940.9,863.9 1941.5,852.2 1942.0,883.2 1942.6,869.4 1943.2,877.6 1943.7,841.7 1944.3,875.6 1944.9,865.7 1945.4,875.1 1946.0,879.4 1946.5,863.8 1947.1,858.1 1947.7,874.3 1948.2,845.3 1948.8,885.7 1949.4,869.2 1949.9,847.0 1950.5,883.8 1951.1,878.9 1951.6,887.7 1952.2,879.6 1952.8,871.9 1953.3,863.9 1953.9,848.3 1954.5,876.1 1955.0,873.7 1955.6,858.2 1956.2,873.8 1956.7,851.1 1957.3,881.0 1957.9,867.2 1958.4,868.6 1959.0,853.8 1959.5,879.4 1960.1,867.4 1960.7,856.2 1961.2,870.9 1961.8,861.8 1962.4,880.9 1962.9,841.7 1963.5,847.4 1964.1,896.0 1964.6,857.4 1965.2,872.6 1965.8,858.9 1966.3,868.3 1966.9,900.2 1967.5,834.8 1968.0,873.4 1968.6,865.9 1969.2,865.6 1969.7,853.0 1970.3,850.6 1970.9,886.0 1971.4,872.9 1972.0,846.8 1972.5,865.2 1973.1,844.8 1973.7,900.5 1974.2,871.0 1974.8,837.6 1975.4,879.4 1975.9,874.9 1976.5,870.1 1977.1,868.0 1977.6,856.9 1978.2,862.4 1978.8,834.4 1979.3,885.3 1979.9,896.1 1980.5,873.1 1981.0,874.8 1981.6,844.5 1982.2,858.9 1982.7,843.7 1983.3,845.4 1983.9,873.7 1984.4,887.2 1985.0,864.5 1985.5,901.1 1986.1,878.2 1986.7,831.0 1987.2,859.4 1987.8,885.6 1988.4,868.0 1988.9,881.6 1989.5,839.8 1990.1,885.2 1990.6,847.5 1991.2,870.9 1991.8,898.2 1992.3,866.9 1992.9,862.2 1993.5,877.5 1994.0,853.0 1994.6,851.2 1995.2,880.8 1995.7,842.9 1996.3,846.8 1996.9,892.8 1997.4,846.7 1998.0,872.7 1998.5,882.9 1999.1,865.0 1999.7,849.6 2000.2,878.6 2000.8,851.6 2001.4,898.4 2001.9,900.0 2002.5,850.3 2003.1,875.0 2003.6,855.3 2004.2,871.9 2004.8,862.2 2005.3,851.1 2005.9,874.0 2006.5,840.8 2007.0,870.9 2007.6,863.8 2008.2,854.2 2008.7,880.1 2009.3,866.8 2009.9,860.9 2010.4,863.7 2011.0,862.8 2011.5,880.5 2012.1,861.6 2012.7,828.5 2013.2,828.3 2013.8,849.4 2014.4,846.0 2014.9,861.3 2015.5,844.2 2016.1,852.7 2016.6,886.1 2017.2,844.2 2017.8,878.5 2018.3,863.1 2018.9,885.5 2019.5,879.0 2020.0,865.8 2020.6,881.8 2021.2,868.3 2021.7,847.1 2022.3,872.5 2022.8,872.6 2023.4,862.9 2024.0,868.7 2024.5,857.8 2025.1,869.7 2025.7,860.2 2026.2,840.2 2026.8,860.2 2027.4,889.3 2027.9,877.2 2028.5,887.7 2029.1,864.1 2029.6,857.6 2030.2,847.2 2030.8,866.2 2031.3,879.8 2031.9,876.5 2032.5,875.2 2033.0,855.5 2033.6,865.1 2034.2,851.1 2034.7,876.2 2035.3,872.5 2035.8,853.0 2036.4,865.1 2037.0,827.6 2037.5,874.4 2038.1,850.6 2038.7,857.8 2039.2,873.2 2039.8,874.4 2040.4,853.4 2040.9,889.1 2041.5,895.9 2042.1,887.1 2042.6,885.1 2043.2,865.5 2043.8,886.6 2044.3,851.1 2044.9,847.6 2045.5,867.7 2046.0,869.3 2046.6,851.9 2047.2,893.5 2047.7,842.7 2048.3,833.3 2048.8,859.6 2049.4,891.8 2050.0,877.9 2050.5,871.8 2051.1,868.6 2051.7,875.4 2052.2,871.7 2052.8,868.4 2053.4,865.0 2053.9,841.9 2054.5,882.4 2055.1,860.5 2055.6,873.3 2056.2,875.3 2056.8,883.9 2057.3,855.4 2057.9,880.9 2058.5,881.4 2059.0,866.5 2059.6,867.5 2060.2,870.8 2060.7,852.5 2061.3,861.5 2061.8,851.0 2062.4,887.6 2063.0,856.8 2063.5,852.4 2064.1,871.7 2064.7,877.9 2065.2,863.8 2065.8,854.8 2066.4,876.4 2066.9,883.2 2067.5,844.5 2068.1,884.3 2068.6,842.6 2069.2,880.5 2069.8,863.3 2070.3,866.2 2070.9,881.2 2071.5,892.3 2072.0,902.2 2072.6,891.0 2073.2,880.3 2073.7,849.2 2074.3,863.4 2074.8,871.6 2075.4,860.4 2076.0,878.3 2076.5,865.6 2077.1,896.4 2077.7,866.4 2078.2,850.0 2078.8,861.3 2079.4,858.2 2079.9,879.5 2080.5,889.8 2081.1,884.0 2081.6,883.9 2082.2,858.5 2082.8,852.2 2083.3,856.7 2083.9,869.0 2084.5,863.4 2085.0,872.6 2085.6,883.4 2086.2,869.5 2086.7,893.1 2087.3,857.0 2087.8,877.4 2088.4,867.3 2089.0,882.6 2089.5,867.5 2090.1,860.3 2090.7,866.1 2091.2,855.2 2091.8,852.0 2092.4,879.1 2092.9,858.9 2093.5,884.8 2094.1,901.2 2094.6,861.9 2095.2,879.7 2095.8,866.0 2096.3,839.9 2096.9,865.6 2097.5,888.1 2098.0,849.4 2098.6,864.3 2099.2,864.1 2099.7,845.8 2100.3,871.0 2100.8,864.3 2101.4,874.6 2102.0,866.9 2102.5,845.9 2103.1,868.2 2103.7,875.4 2104.2,863.0 2104.8,874.7 2105.4,874.6 2105.9,836.1 2106.5,876.0 2107.1,838.1 2107.6,848.7 2108.2,865.4 2108.8,853.4 2109.3,855.9 2109.9,883.5 2110.5,852.3 2111.0,884.8 2111.6,894.1 2112.2,888.2 2112.7,852.4 2113.3,846.3 2113.8,869.3 2114.4,899.0 2115.0,865.7 2115.5,860.8 2116.1,867.2 2116.7,879.9 2117.2,886.4 2117.8,869.4 2118.4,867.7 2118.9,877.0 2119.5,870.4 2120.1,864.1 2120.6,844.8 2121.2,872.0 2121.8,861.8 2122.3,867.2 2122.9,866.5 2123.5,858.2 2124.0,879.0 2124.6,886.5 2125.2,878.9 2125.7,862.2 2126.3,874.1 2126.8,881.8 2127.4,870.5 2128.0,882.1 2128.5,852.0 2129.1,869.3 2129.7,893.2 2130.2,887.0 2130.8,871.1 2131.4,874.8 2131.9,904.1 2132.5,889.1 2133.1,863.5 2133.6,878.2 2134.2,867.4 2134.8,865.6 2135.3,857.0 2135.9,884.7 2136.5,906.3 2137.0,886.7 2137.6,855.7 2138.2,882.0 2138.7,853.5 2139.3,877.6 2139.8,889.4 2140.4,895.5 2141.0,876.0 2141.5,878.9 2142.1,874.4 2142.7,871.8 2143.2,896.4 2143.8,860.6 2144.4,851.4 2144.9,899.0 2145.5,906.3 2146.1,851.3 2146.6,887.3 2147.2,885.4 2147.8,867.9 2148.3,860.3 2148.9,876.0 2149.5,869.0 2150.0,885.3 2150.6,864.7 2151.2,890.3 2151.7,864.6 2152.3,896.6 2152.8,886.1 2153.4,889.6 2154.0,868.0 2154.5,870.1 2155.1,872.0 2155.7,890.0 2156.2,863.9 2156.8,862.1 2157.4,870.0 2157.9,878.2 2158.5,872.0 2159.1,872.1 2159.6,854.5 2160.2,864.2 2160.8,857.8 2161.3,887.7 2161.9,872.2 2162.5,882.3 2163.0,854.2 2163.6,872.2 2164.1,877.9 2164.7,857.7 2165.3,863.4 2165.8,865.2 2166.4,874.5 2167.0,876.4 2167.5,852.4 2168.1,877.0 2168.7,875.2 2169.2,876.3 2169.8,859.9 2170.4,871.1 2170.9,889.9 2171.5,887.9 2172.1,862.9 2172.6,893.9 2173.2,865.3 2173.8,858.5 2174.3,886.7 2174.9,875.3 2175.5,902.8 2176.0,867.2 2176.6,872.2 2177.1,880.4 2177.7,873.7 2178.3,864.2 2178.8,869.7 2179.4,869.2 2180.0,869.1 2180.5,868.7 2181.1,847.4 2181.7,881.4 2182.2,860.0 2182.8,865.1 2183.4,857.3 2183.9,865.3 2184.5,881.7 2185.1,885.6 2185.6,872.3 2186.2,869.9 2186.8,860.1 2187.3,863.3 2187.9,870.4 2188.5,864.8 2189.0,853.0 2189.6,867.5 2190.1,851.8 2190.7,895.3 2191.3,870.4 2191.8,858.1 2192.4,872.3 2193.0,855.2 2193.5,862.0 2194.1,887.0 2194.7,883.2 2195.2,848.5 2195.8,849.3 2196.4,857.5 2196.9,896.0 2197.5,865.2 2198.1,867.8 2198.6,857.0 2199.2,882.4 2199.8,877.2 2200.3,839.5 2200.9,851.6 2201.5,837.7 2202.0,846.9 2202.6,851.6 2203.1,844.1 2203.7,853.8 2204.3,872.7 2204.8,879.2 2205.4,865.4 2206.0,874.4 2206.5,845.7 2207.1,885.5 2207.7,897.3 2208.2,863.7 2208.8,874.1 2209.4,871.5 2209.9,836.7 2210.5,881.5 2211.1,874.3 2211.6,845.5 2212.2,862.6 2212.8,885.0 2213.3,877.2 2213.9,850.3 2214.5,861.9 2215.0,860.7 2215.6,872.8 2216.1,861.2 2216.7,872.1 2217.3,869.4 2217.8,851.4 2218.4,878.3 2219.0,876.6" fill="none" stroke="#000" stroke-width="5.0" stroke-linejoin="miter" stroke-miterlimit="2"/>
<polyline points="102.3,1236.7 102.6,1157.6 102.9,1207.4 103.1,1189.6 103.4,1191.9 103.7,1196.4 104.0,1163.7 104.3,1196.5 104.6,1185.2 104.8,1243.0 105.1,1205.4 105.4,1195.1 105.7,1196.6 106.0,1189.7 106.3,1182.9 106.5,1195.2 106.8,1211.2 107.1,1198.3 107.4,1220.2 107.7,1199.4 108.0,1203.7 108.2,1231.4 108.5,1213.5 108.8,1194.6 109.1,1200.7 109.4,1214.0 109.6,1239.4 109.9,1199.7 110.2,1200.4 110.5,1223.1 110.8,1189.1 111.1,1200.1 111.3,1221.5 111.6,1216.2 111.9,1207.6 112.2,1218.2 112.5,1164.8 112.8,1224.9 113.0,1189.4 113.3,1176.8 113.6,1212.0 113.9,1219.9 114.2,1199.5 114.5,1188.3 114.7,1208.3 115.0,1207.1 115.3,1233.5 115.6,1221.8 115.9,1212.1 116.1,1228.7 116.4,1205.3 116.7,1192.6 117.0,1219.8 117.3,1220.0 117.6,1205.9 117.8,1195.9 118.1,1214.3 118.4,1169.2 118.7,1222.9 119.0,1219.5 119.3,1181.6 119.5,1212.2 119.8,1194.1 120.1,1225.0 120.4,1175.4 120.7,1195.6 121.0,1224.7 121.2,1232.9 121.5,1174.0 121.8,1203.8 122.1,1218.7 122.4,1202.2 122.6,1241.5 122.9,1192.2 123.2,1219.9 123.5,1195.2 123.8,1239.0 124.1,1213.8 124.3,1207.8 124.6,1184.1 124.9,1244.6 125.2,1228.2 125.5,1228.4 125.8,1235.3 126.0,1221.5 126.3,1204.3 126.6,1201.6 126.9,1201.8 127.2,1240.0 127.5,1190.6 127.7,1205.9 128.0,1210.9 128.3,1220.5 128.6,1226.7 128.9,1195.3 129.1,1187.2 129.4,1217.2 129.7,1238.2 130.0,1230.5 130.3,1221.4 130.6,1212.4 130.8,1223.0 131.1,1214.0 131.4,1232.2 131.7,1205.0 132.0,1220.9 132.3,1216.9 132.5,1228.1 132.8,1222.9 133.1,1257.7 133.4,1244.4 133.7,1244.5 134.0,1185.8 134.2,1214.2 134.5,1209.9 134.8,1229.0 135.1,1182.7 135.4,1239.8 135.6,1238.1 135.9,1199.5 136.2,1204.9 136.5,1208.0 136.8,1221.9 137.1,1231.8 137.3,1254.7 137.6,1218.5 137.9,1234.2 138.2,1224.5 138.5,1250.4 138.8,1234.2 139.0,1244.3 139.3,1205.5 139.6,1219.7 139.9,1210.0 140.2,1246.9 140.5,1233.6 140.7,1218.6 141.0,1216.4 141.3,1231.3 141.6,1212.9 141.9,1209.5 142.1,1231.7 142.4,1260.1 142.7,1220.7 143.0,1216.0 143.3,1206.6 143.6,1204.3 143.8,1233.2 144.1,1238.4 144.4,1225.6 144.7,1230.7 145.0,1227.5 145.3,1228.0 145.5,1202.5 145.8,1219.1 146.1,1228.1 146.4,1214.4 146.7,1219.3 147.0,1214.2 147.2,1221.8 147.5,1240.2 147.8,1221.0 148.1,1225.1 148.4,1240.1 148.6,1237.6 148.9,1253.9 149.2,1196.0 149.5,1241.3 149.8,1221.0 150.1,1230.6 150.3,1241.5 150.6,1245.5 150.9,1245.0 151.2,1231.7 151.5,1254.0 151.8,1225.3 152.0,1227.7 152.3,1242.2 152.6,1221.8 152.9,1263.3 153.2,1246.1 153.5,1263.9 153.7,1230.5 154.0,1225.3 154.3,1233.9 154.6,1242.7 154.9,1222.8 155.1,1237.6 155.4,1231.8 155.7,1256.7 156.0,1222.4 156.3,1248.5 156.6,1223.1 156.8,1218.4 157.1,1222.4 157.4,1215.4 157.7,1235.7 158.0,1249.3 158.3,1236.4 158.5,1243.5 158.8,1258.9 159.1,1238.5 159.4,1237.6 159.7,1230.7 160.0,1210.8 160.2,1246.6 160.5,1209.0 160.8,1245.4 161.1,1235.5 161.4,1252.8 161.6,1235.1 161.9,1224.0 162.2,1241.9 162.5,1228.3 162.8,1234.1 163.1,1237.7 163.3,1235.2 163.6,1234.6 163.9,1225.2 164.2,1235.0 164.5,1206.0 164.8,1235.8 165.0,1220.5 165.3,1255.2 165.6,1257.6 165.9,1209.8 166.2,1241.2 166.5,1237.4 166.7,1223.9 167.0,1247.5 167.3,1233.0 167.6,1213.8 167.9,1236.2 168.1,1238.2 168.4,1242.1 168.7,1222.5 169.0,1250.0 169.3,1252.0 169.6,1224.3 169.8,1231.7 170.1,1240.5 170.4,1233.5 170.7,1267.8 171.0,1245.3 171.3,1227.5 171.5,1231.0 171.8,1241.9 172.1,1276.7 172.4,1240.5 172.7,1245.2 173.0,1251.1 173.2,1243.1 173.5,1277.4 173.8,1236.3 174.1,1255.2 174.4,1246.8 174.6,1253.7 174.9,1227.5 175.2,1270.7 175.5,1243.2 175.8,1245.6 176.1,1231.6 176.3,1234.8 176.6,1253.8 176.9,1260.1 177.2,1256.8 177.5,1263.6 177.8,1256.5 178.0,1246.7 178.3,1258.6 178.6,1255.2 178.9,1245.2 179.2,1257.4 179.4,1265.6 179.7,1250.5 180.0,1242.1 180.3,1257.8 180.6,1275.1 180.9,1244.6 181.1,1246.5 181.4,1246.0 181.7,1265.8 182.0,1221.7 182.3,1253.6 182.6,1265.7 182.8,1236.9 183.1,1270.2 183.4,1256.6 183.7,1241.2 184.0,1252.1 184.3,1227.3 184.5,1241.4 184.8,1275.8 185.1,1236.9 185.4,1276.3 185.7,1248.9 185.9,1264.4 186.2,1250.9 186.5,1218.4 186.8,1242.4 187.1,1253.4 187.4,1234.5 187.6,1231.8 187.9,1256.4 188.2,1242.1 188.5,1227.3 188.8,1241.9 189.1,1263.9 189.3,1245.1 189.6,1265.3 189.9,1273.8 190.2,1252.7 190.5,1236.4 190.8,1234.1 191.0,1252.3 191.3,1265.3 191.6,1256.8 191.9,1260.9 192.2,1247.0 192.4,1257.7 192.7,1246.9 193.0,1249.1 193.3,1235.5 193.6,1231.7 193.9,1247.3 194.1,1238.6 194.4,1240.8 194.7,1264.0 195.0,1253.1 195.3,1287.3 195.6,1268.0 195.8,1246.1 196.1,1266.2 196.4,1260.4 196.7,1245.8 197.0,1271.2 197.3,1244.8 197.5,1223.5 197.8,1267.3 198.1,1247.5 198.4,1277.3 198.7,1247.3 198.9,1240.0 199.2,1278.6 199.5,1241.7 199.8,1259.8 200.1,1277.4 200.4,1258.7 200.6,1256.1 200.9,1258.7 201.2,1269.1 201.5,1246.1 201.8,1266.1 202.1,1265.7 202.3,1289.9 202.6,1253.1 202.9,1245.0 203.2,1268.3 203.5,1252.5 203.8,1262.2 204.0,1260.1 204.3,1274.6 204.6,1249.2 204.9,1257.2 205.2,1226.4 205.4,1246.2 205.7,1280.2 206.0,1249.3 206.3,1249.1 206.6,1242.0 206.9,1267.1 207.1,1261.6 207.4,1242.7 207.7,1268.6 208.0,1263.0 208.3,1270.0 208.6,1250.6 208.8,1283.8 209.1,1265.4 209.4,1258.2 209.7,1252.7 210.0,1256.6 210.3,1272.0 210.5,1256.4 210.8,1275.2 211.1,1268.4 211.4,1279.1 211.7,1271.8 211.9,1259.7 212.2,1234.2 212.5,1264.9 212.8,1271.8 213.1,1263.2 213.4,1268.7 213.6,1254.6 213.9,1255.9 214.2,1248.2 214.5,1280.2 214.8,1263.6 215.1,1254.7 215.3,1243.2 215.6,1259.6 215.9,1281.7 216.2,1268.2 216.5,1252.0 216.8,1281.7 217.0,1281.8 217.3,1275.7 217.6,1273.1 217.9,1278.3 218.2,1269.9 218.4,1273.2 218.7,1251.9 219.0,1283.3 219.3,1266.0 219.6,1290.6 219.9,1234.9 220.1,1272.7 220.4,1276.6 220.7,1258.5 221.0,1269.5 221.3,1273.6 221.6,1271.4 221.8,1256.2 222.1,1261.7 222.4,1277.7 222.7,1281.3 223.0,1265.2 223.3,1265.0 223.5,1266.8 223.8,1278.3 224.1,1249.8 224.4,1246.2 224.7,1266.0 224.9,1249.3 225.2,1256.5 225.5,1265.7 225.8,1271.1 226.1,1250.0 226.4,1275.6 226.6,1240.6 226.9,1272.2 227.2,1243.4 227.5,1247.6 227.8,1273.7 228.1,1259.5 228.3,1254.3 228.6,1259.1 228.9,1271.5 229.2,1264.5 229.5,1264.9 229.8,1279.7 230.0,1255.7 230.3,1259.1 230.6,1258.5 230.9,1281.4 231.2,1279.1 231.4,1283.1 231.7,1265.3 232.0,1263.7 232.3,1277.4 232.6,1260.6 232.9,1277.2 233.1,1275.8 233.4,1256.7 233.7,1265.1 234.0,1264.6 234.3,1289.7 234.6,1297.3 234.8,1265.1 235.1,1266.7 235.4,1235.9 235.7,1269.4 236.0,1266.6 236.3,1252.3 236.5,1277.3 236.8,1245.8 237.1,1264.0 237.4,1268.8 237.7,1250.3 237.9,1278.6 238.2,1281.3 238.5,1248.6 238.8,1248.4 239.1,1275.4 239.4,1267.0 239.6,1251.2 239.9,1263.5 240.2,1266.1 240.5,1265.7 240.8,1278.7 241.1,1272.8 241.3,1291.4 241.6,1286.2 241.9,1276.9 242.2,1282.3 242.5,1285.6 242.8,1277.5 243.0,1251.8 243.3,1279.6 243.6,1269.2 243.9,1289.8 244.2,1269.6 244.4,1275.4 244.7,1272.8 245.0,1290.8 245.3,1270.9 245.6,1265.1 245.9,1272.8 246.1,1262.9 246.4,1271.0 246.7,1268.8 247.0,1272.5 247.3,1294.5 247.6,1263.7 247.8,1269.6 248.1,1266.5 248.4,1278.1 248.7,1253.7 249.0,1260.2 249.3,1268.9 249.5,1276.7 249.8,1269.0 250.1,1263.0 250.4,1258.3 250.7,1276.5 250.9,1288.9 251.2,1274.2 251.5,1272.5 251.8,1275.9 252.1,1257.7 252.4,1266.1 252.6,1266.8 252.9,1274.2 253.2,1270.0 253.5,1254.6 253.8,1285.3 254.1,1292.8 254.3,1267.3 254.6,1276.0 254.9,1274.4 255.2,1281.1 255.5,1251.8 255.8,1292.0 256.0,1265.1 256.3,1287.5 256.6,1272.4 256.9,1266.4 257.2,1269.7 257.4,1283.0 257.7,1260.6 258.0,1266.9 258.3,1265.6 258.6,1250.1 258.9,1288.3 259.1,1279.3 259.4,1271.8 259.7,1286.7 260.0,1260.2 260.3,1271.3 260.6,1293.9 260.8,1284.6 261.1,1244.8 261.4,1244.0 261.7,1259.8 262.0,1285.8 262.3,1267.0 262.5,1270.2 262.8,1280.4 263.1,1262.2 263.4,1275.7 263.7,1282.8 263.9,1278.9 264.2,1278.1 264.5,1266.1 264.8,1279.6 265.1,1268.3 265.4,1289.3 265.6,1301.2 265.9,1264.9 266.2,1247.8 266.5,1268.8 266.8,1278.4 267.1,1286.5 267.3,1286.9 267.6,1264.8 267.9,1264.8 268.2,1289.4 268.5,1261.4 268.8,1287.4 269.0,1271.8 269.3,1283.7 269.6,1283.1 269.9,1284.0 270.2,1284.6 270.4,1263.1 270.7,1278.5 271.0,1275.2 271.3,1278.8 271.6,1289.9 271.9,1272.0 272.1,1266.8 272.4,1266.7 272.7,1271.8 273.0,1284.5 273.3,1265.9 273.6,1289.5 273.8,1279.2 274.1,1273.0 274.4,1259.8 274.7,1278.6 275.0,1283.9 275.3,1254.6 275.5,1289.9 275.8,1295.3 276.1,1279.7 276.4,1281.5 276.7,1303.1 276.9,1290.3 277.2,1265.0 277.5,1275.5 277.8,1273.8 278.1,1273.9 278.4,1248.2 278.6,1284.7 278.9,1268.1 279.2,1277.6 279.5,1274.0 279.8,1286.0 280.1,1272.1 280.3,1266.2 280.6,1282.0 280.9,1292.4 281.2,1271.8 281.5,1291.9 281.8,1278.7 282.0,1269.3 282.3,1293.8 282.6,1265.9 282.9,1287.7 283.2,1269.7 283.4,1281.0 283.7,1260.9 284.0,1265.6 284.3,1288.3 284.6,1277.8 284.9,1276.0 285.1,1270.3 285.4,1280.9 285.7,1258.9 286.0,1262.2 286.3,1273.7 286.6,1265.6 286.8,1267.2 287.1,1274.7 287.4,1273.9 287.7,1272.9 288.0,1295.4 288.3,1287.6 288.5,1290.2 288.8,1275.2 289.1,1269.5 289.4,1258.2 289.7,1271.4 289.9,1250.7 290.2,1268.6 290.5,1284.6 290.8,1294.8 291.1,1287.0 291.4,1265.3 291.6,1281.4 291.9,1266.1 292.2,1285.3 292.5,1274.2 292.8,1285.7 293.1,1302.9 293.3,1286.5 293.6,1302.9 293.9,1277.6 294.2,1271.6 294.5,1291.4 294.8,1296.0 295.0,1268.9 295.3,1276.4 295.6,1258.4 295.9,1273.1 296.2,1286.1 296.4,1274.4 296.7,1268.7 297.0,1258.7 297.3,1279.8 297.6,1285.0 297.9,1282.6 298.1,1278.5 298.4,1260.3 298.7,1296.4 299.0,1274.8 299.3,1273.7 299.6,1284.2 299.8,1249.7 300.1,1274.7 300.4,1273.8 300.7,1279.9 301.0,1291.5 301.3,1281.1 301.5,1253.6 301.8,1271.4 302.1,1277.9 302.4,1277.2 302.7,1260.2 302.9,1255.6 303.2,1282.0 303.5,1279.5 303.8,1275.2 304.1,1254.9 304.4,1296.6 304.6,1248.1 304.9,1271.1 305.2,1300.4 305.5,1273.6 305.8,1278.2 306.1,1261.4 306.3,1291.6 306.6,1260.1 306.9,1278.5 307.2,1277.1 307.5,1262.9 307.8,1286.0 308.0,1258.6 308.3,1267.3 308.6,1275.1 308.9,1270.5 309.2,1281.0 309.4,1286.5 309.7,1272.0 310.0,1269.0 310.3,1269.3 310.6,1271.1 310.9,1285.1 311.1,1272.9 311.4,1280.3 311.7,1274.4 312.0,1265.4 312.3,1285.7 312.6,1263.1 312.8,1275.5 313.1,1293.2 313.4,1262.4 313.7,1274.8 314.0,1256.6 314.3,1269.4 314.5,1257.6 314.8,1271.1 315.1,1269.0 315.4,1277.0 315.7,1294.3 315.9,1278.8 316.2,1283.3 316.5,1274.8 316.8,1272.5 317.1,1265.5 317.4,1254.0 317.6,1276.3 317.9,1294.9 318.2,1281.1 318.5,1269.1 318.8,1295.1 319.1,1270.3 319.3,1268.1 319.6,1261.0 319.9,1264.0 320.2,1272.5 320.5,1299.3 320.7,1273.0 321.0,1263.2 321.3,1268.2 321.6,1272.8 321.9,1255.1 322.2,1277.0 322.4,1283.8 322.7,1279.3 323.0,1282.6 323.3,1260.1 323.6,1255.3 323.9,1290.9 324.1,1288.7 324.4,1257.3 324.7,1278.2 325.0,1276.1 325.3,1282.4 325.6,1278.4 325.8,1270.0 326.1,1278.4 326.4,1278.0 326.7,1275.6 327.0,1254.1 327.2,1248.9 327.5,1266.9 327.8,1256.9 328.1,1279.4 328.4,1285.0 328.7,1279.7 328.9,1272.2 329.2,1277.5 329.5,1290.6 329.8,1268.1 330.1,1287.8 330.4,1285.3 330.6,1280.1 330.9,1294.3 331.2,1268.5 331.5,1288.3 331.8,1266.1 332.1,1268.1 332.3,1264.7 332.6,1282.6 332.9,1266.2 333.2,1278.1 333.5,1264.0 333.7,1290.3 334.0,1299.5 334.3,1280.4 334.6,1297.3 334.9,1284.5 335.2,1303.7 335.4,1279.1 335.7,1259.2 336.0,1295.8 336.3,1276.6 336.6,1265.8 336.9,1270.4 337.1,1258.9 337.4,1276.3 337.7,1265.6 338.0,1296.1 338.3,1286.4 338.6,1258.7 338.8,1260.6 339.1,1271.9 339.4,1255.8 339.7,1277.4 340.0,1278.3 340.2,1269.6 340.5,1272.4 340.8,1284.9 341.1,1296.0 341.4,1296.9 341.7,1279.5 341.9,1289.4 342.2,1270.5 342.5,1284.2 342.8,1267.9 343.1,1288.1 343.4,1264.7 343.6,1268.0 343.9,1279.5 344.2,1286.3 344.5,1262.6 344.8,1273.4 345.1,1281.4 345.3,1282.6 345.6,1269.9 345.9,1281.1 346.2,1276.9 346.5,1296.8 346.7,1286.8 347.0,1264.4 347.3,1254.0 347.6,1281.5 347.9,1294.5 348.2,1282.5 348.4,1290.9 348.7,1274.6 349.0,1264.1 349.3,1289.2 349.6,1281.4 349.9,1288.4 350.1,1263.7 350.4,1282.3 350.7,1272.7 351.0,1289.7 351.3,1273.2 351.6,1272.8 351.8,1273.0 352.1,1295.0 352.4,1280.3 352.7,1270.9 353.0,1267.7 353.2,1267.4 353.5,1297.3 353.8,1258.2 354.1,1269.7 354.4,1287.4 354.7,1293.8 354.9,1277.9 355.2,1289.0 355.5,1288.7 355.8,1291.4 356.1,1280.1 356.4,1299.3 356.6,1282.1 356.9,1297.9 357.2,1266.6 357.5,1290.9 357.8,1264.7 358.1,1261.8 358.3,1285.6 358.6,1269.8 358.9,1285.0 359.2,1266.9 359.5,1298.8 359.7,1279.8 360.0,1266.2 360.3,1281.7 360.6,1290.1 360.9,1270.4 361.2,1285.8 361.4,1304.0 361.7,1289.9 362.0,1279.5 362.3,1272.8 362.6,1286.4 362.9,1261.5 363.1,1251.5 363.4,1271.5 363.7,1266.6 364.0,1300.2 364.3,1281.1 364.6,1267.7 364.8,1265.5 365.1,1285.3 365.4,1269.5 365.7,1272.4 366.0,1278.2 366.2,1280.4 366.5,1280.4 366.8,1280.6 367.1,1294.8 367.4,1299.5 367.7,1259.5 367.9,1305.8 368.2,1280.7 368.5,1294.0 368.8,1270.3 369.1,1283.0 369.4,1281.7 369.6,1280.4 369.9,1289.2 370.2,1286.6 370.5,1267.0 370.8,1277.6 371.1,1287.6 371.3,1287.1 371.6,1274.9 371.9,1275.5 372.2,1277.0 372.5,1265.7 372.7,1263.5 373.0,1297.4 373.3,1274.0 373.6,1279.7 373.9,1269.6 374.2,1293.9 374.4,1299.3 374.7,1275.7 375.0,1284.4 375.3,1269.2 375.6,1299.1 375.9,1289.1 376.1,1268.0 376.4,1292.8 376.7,1282.1 377.0,1282.7 377.3,1281.9 377.6,1269.6 377.8,1271.1 378.1,1284.9 378.4,1276.8 378.7,1266.0 379.0,1301.4 379.2,1274.6 379.5,1270.4 379.8,1268.7 380.1,1285.1 380.4,1288.4 380.7,1279.7 380.9,1287.0 381.2,1258.8 381.5,1272.1 381.8,1270.9 382.1,1276.4 382.4,1282.1 382.6,1251.9 382.9,1302.8 383.2,1265.7 383.5,1280.1 383.8,1285.8 384.1,1286.0 384.3,1278.6 384.6,1247.6 384.9,1262.6 385.2,1284.5 385.5,1264.4 385.7,1262.7 386.0,1247.2 386.3,1289.6 386.6,1281.1 386.9,1264.3 387.2,1273.2 387.4,1273.5 387.7,1261.3 388.0,1271.3 388.3,1277.4 388.6,1280.9 388.9,1289.3 389.1,1274.5 389.4,1268.6 389.7,1278.8 390.0,1266.4 390.3,1258.9 390.6,1287.3 390.8,1269.1 391.1,1275.0 391.4,1281.2 391.7,1260.2 392.0,1281.0 392.2,1278.6 392.5,1272.0 392.8,1277.8 393.1,1264.0 393.4,1246.7 393.7,1269.5 393.9,1262.0 394.2,1283.1 394.5,1275.8 394.8,1266.3 395.1,1273.1 395.4,1288.6 395.6,1285.9 395.9,1276.7 396.2,1277.4 396.5,1268.9 396.8,1270.6 397.1,1279.1 397.3,1270.6 397.6,1275.5 397.9,1258.6 398.2,1251.9 398.5,1251.5 398.7,1266.4 399.0,1287.3 399.3,1285.5 399.6,1259.5 399.9,1252.8 400.2,1280.6 400.4,1276.6 400.7,1254.8 401.0,1283.6 401.3,1273.0 401.6,1286.6 401.9,1274.8 402.1,1281.3 402.4,1274.4 402.7,1259.2 403.0,1267.7 403.3,1262.3 403.6,1280.2 403.8,1258.4 404.1,1251.9 404.4,1278.2 404.7,1283.6 405.0,1287.1 405.2,1282.8 405.5,1251.9 405.8,1261.4 406.1,1263.1 406.4,1269.3 406.7,1243.9 406.9,1269.3 407.2,1272.6 407.5,1257.9 407.8,1270.5 408.1,1283.2 408.4,1269.5 408.6,1281.5 408.9,1280.9 409.2,1273.6 409.5,1273.2 409.8,1264.2 410.1,1283.3 410.3,1262.9 410.6,1260.1 410.9,1276.7 411.2,1259.6 411.5,1273.2 411.7,1280.6 412.0,1269.0 412.3,1269.2 412.6,1278.8 412.9,1276.8 413.2,1249.5 413.4,1252.1 413.7,1283.4 414.0,1272.2 414.3,1242.8 414.6,1251.4 414.9,1267.6 415.1,1255.6 415.4,1272.7 415.7,1268.0 416.0,1272.9 416.3,1253.1 416.6,1274.3 416.8,1290.1 417.1,1257.3 417.4,1282.3 417.7,1278.3 418.0,1274.2 418.2,1265.7 418.5,1252.6 418.8,1255.9 419.1,1275.3 419.4,1277.8 419.7,1280.6 419.9,1277.5 420.2,1276.7 420.5,1260.8 420.8,1251.5 421.1,1268.2 421.4,1271.6 421.6,1266.6 421.9,1247.5 422.2,1259.3 422.5,1247.9 422.8,1267.2 423.1,1253.0 423.3,1263.5 423.6,1269.3 423.9,1267.1 424.2,1281.7 424.5,1252.3 424.7,1239.6 425.0,1276.7 425.3,1282.1 425.6,1282.5 425.9,1268.9 426.2,1271.9 426.4,1267.0 426.7,1250.2 427.0,1258.8 427.3,1271.4 427.6,1258.7 427.9,1288.2 428.1,1247.3 428.4,1260.4 428.7,1278.7 429.0,1258.4 429.3,1252.1 429.6,1249.4 429.8,1257.0 430.1,1283.5 430.4,1270.4 430.7,1271.7 431.0,1259.4 431.2,1275.6 431.5,1266.9 431.8,1254.7 432.1,1260.3 432.4,1268.0 432.7,1279.5 432.9,1264.9 433.2,1271.6 433.5,1289.6 433.8,1256.2 434.1,1250.9 434.4,1277.3 434.6,1270.9 434.9,1264.5 435.2,1268.8 435.5,1261.8 435.8,1271.8 436.1,1261.7 436.3,1275.2 436.6,1251.8 436.9,1256.0 437.2,1267.1 437.5,1260.1 437.7,1274.0 438.0,1265.2 438.3,1259.3 438.6,1268.2 438.9,1259.5 439.2,1247.3 439.4,1252.3 439.7,1256.3 440.0,1260.2 440.3,1266.9 440.6,1276.6 440.9,1272.3 441.1,1286.9 441.4,1280.9 441.7,1263.6 442.0,1285.4 442.3,1279.8 442.6,1260.5 442.8,1269.6 443.1,1278.8 443.4,1268.8 443.7,1277.9 444.0,1270.6 444.2,1274.2 444.5,1262.1 444.8,1270.4 445.1,1261.6 445.4,1273.9 445.7,1245.9 445.9,1269.9 446.2,1280.7 446.5,1272.8 446.8,1265.6 447.1,1272.3 447.4,1255.9 447.6,1256.1 447.9,1261.7 448.2,1264.2 448.5,1277.4 448.8,1255.4 449.1,1277.8 449.3,1247.3 449.6,1256.6 449.9,1265.5 450.2,1279.7 450.5,1258.7 450.7,1240.6 451.0,1270.9 451.3,1265.6 451.6,1253.2 451.9,1253.6 452.2,1257.7 452.4,1267.1 452.7,1273.8 453.0,1248.5 453.3,1292.7 453.6,1265.5 453.9,1261.6 454.1,1273.9 454.4,1267.3 454.7,1292.7 455.0,1278.9 455.3,1261.6 455.6,1261.3 455.8,1260.1 456.1,1261.9 456.4,1273.9 456.7,1258.3 457.0,1285.1 457.2,1265.0 457.5,1264.2 457.8,1277.2 458.1,1242.5 458.4,1254.9 458.7,1273.0 458.9,1266.1 459.2,1265.8 459.5,1270.7 459.8,1258.8 460.1,1263.9 460.4,1249.8 460.6,1243.7 460.9,1280.9 461.2,1254.9 461.5,1257.5 461.8,1282.5 462.0,1278.5 462.3,1259.7 462.6,1259.7 462.9,1265.0 463.2,1254.6 463.5,1272.4 463.7,1267.7 464.0,1267.5 464.3,1274.9 464.6,1274.4 464.9,1287.7 465.2,1283.9 465.4,1245.7 465.7,1276.6 466.0,1252.7 466.3,1249.0 466.6,1274.4 466.9,1257.6 467.1,1262.2 467.4,1278.6 467.7,1258.1 468.0,1255.3 468.3,1269.8 468.5,1280.4 468.8,1272.2 469.1,1247.5 469.4,1258.2 469.7,1264.1 470.0,1288.8 470.2,1276.5 470.5,1276.0 470.8,1280.2 471.1,1262.3 471.4,1271.6 471.7,1271.8 471.9,1254.4 472.2,1265.7 472.5,1272.5 472.8,1253.0 473.1,1275.3 473.4,1274.7 473.6,1277.9 473.9,1256.4 474.2,1266.8 474.5,1282.7 474.8,1274.8 475.0,1256.0 475.3,1267.9 475.6,1282.0 475.9,1264.3 476.2,1269.6 476.5,1291.8 476.7,1264.5 477.0,1263.6 477.3,1253.0 477.6,1257.0 477.9,1282.3 478.2,1263.0 478.4,1250.6 478.7,1253.5 479.0,1264.6 479.3,1273.5 479.6,1255.5 479.9,1272.7 480.1,1258.4 480.4,1268.4 480.7,1270.2 481.0,1271.2 481.3,1258.8 481.5,1261.9 481.8,1269.8 482.1,1248.4 482.4,1265.7 482.7,1269.6 483.0,1275.8 483.2,1263.0 483.5,1261.1 483.8,1264.9 484.1,1254.5 484.4,1260.6 484.7,1267.9 484.9,1266.3 485.2,1250.5 485.5,1259.0 485.8,1237.7 486.1,1272.2 486.4,1256.3 486.6,1265.4 486.9,1249.4 487.2,1261.4 487.5,1267.6 487.8,1273.9 488.0,1246.0 488.3,1272.1 488.6,1260.1 488.9,1252.8 489.2,1267.5 489.5,1258.3 489.7,1258.2 490.0,1253.4 490.3,1264.3 490.6,1262.0 490.9,1259.4 491.2,1250.1 491.4,1255.3 491.7,1266.1 492.0,1276.4 492.3,1260.9 492.6,1277.9 492.9,1260.9 493.1,1248.1 493.4,1268.4 493.7,1249.5 494.0,1265.6 494.3,1273.4 494.5,1257.1 494.8,1259.6 495.1,1288.1 495.4,1263.4 495.7,1263.6 496.0,1269.7 496.2,1259.2 496.5,1259.3 496.8,1264.8 497.1,1233.2 497.4,1276.9 497.7,1247.4 497.9,1247.2 498.2,1266.3 498.5,1260.2 498.8,1245.0 499.1,1262.2 499.4,1246.2 499.6,1251.4 499.9,1241.7 500.2,1249.7 500.5,1264.1 500.8,1260.8 501.0,1262.9 501.3,1270.1 501.6,1258.6 501.9,1251.2 502.2,1255.6 502.5,1278.4 502.7,1259.2 503.0,1262.5 503.3,1257.5 503.6,1261.5 503.9,1263.6 504.2,1258.4 504.4,1256.6 504.7,1249.1 505.0,1248.3 505.3,1263.0 505.6,1267.0 505.9,1268.9 506.1,1258.6 506.4,1248.2 506.7,1265.3 507.0,1265.0 507.3,1239.9 507.5,1267.1 507.8,1264.4 508.1,1277.2 508.4,1244.1 508.7,1242.2 509.0,1266.6 509.2,1236.0 509.5,1248.5 509.8,1244.2 510.1,1245.0 510.4,1234.4 510.7,1254.1 510.9,1268.3 511.2,1262.0 511.5,1261.9 511.8,1252.4 512.1,1273.6 512.4,1262.7 512.6,1268.8 512.9,1238.1 513.2,1260.4 513.5,1242.7 513.8,1260.3 514.0,1258.5 514.3,1242.8 514.6,1258.1 514.9,1269.6 515.2,1261.8 515.5,1262.8 515.7,1245.6 516.0,1247.7 516.3,1242.5 516.6,1257.1 516.9,1269.5 517.2,1260.6 517.4,1255.3 517.7,1242.1 518.0,1260.5 518.3,1252.4 518.6,1232.6 518.9,1234.6 519.1,1251.0 519.4,1244.3 519.7,1274.3 520.0,1255.2 520.3,1242.5 520.5,1248.9 520.8,1273.3 521.1,1243.3 521.4,1263.5 521.7,1259.5 522.0,1271.7 522.2,1260.6 522.5,1249.5 522.8,1260.5 523.1,1255.0 523.4,1265.7 523.7,1253.5 523.9,1277.5 524.2,1253.0 524.5,1259.3 524.8,1246.4 525.1,1255.6 525.4,1254.4 525.6,1256.0 525.9,1264.6 526.2,1247.7 526.5,1244.0 526.8,1267.0 527.0,1250.6 527.3,1246.0 527.6,1267.5 527.9,1263.0 528.2,1226.4 528.5,1249.3 528.7,1263.0 529.0,1263.6 529.3,1247.7 529.6,1272.1 529.9,1244.4 530.2,1250.9 530.4,1255.2 530.7,1253.6 531.0,1263.1 531.3,1265.6 531.6,1253.0 531.9,1270.0 532.1,1245.4 532.4,1251.0 532.7,1273.7 533.0,1254.6 533.3,1266.0 533.5,1248.3 533.8,1250.3 534.1,1252.1 534.4,1255.4 534.7,1249.3 535.0,1253.5 535.2,1261.2 535.5,1267.4 535.8,1254.5 536.1,1260.8 536.4,1263.9 536.7,1240.5 536.9,1234.6 537.2,1272.1 537.5,1268.6 537.8,1253.7 538.1,1257.2 538.4,1241.9 538.6,1236.7 538.9,1256.6 539.2,1235.4 539.5,1263.6 539.8,1244.8 540.0,1256.2 540.3,1275.6 540.6,1275.0 540.9,1249.5 541.2,1265.2 541.5,1240.5 541.7,1245.7 542.0,1256.9 542.3,1268.9 542.6,1245.7 542.9,1258.9 543.2,1253.6 543.4,1237.5 543.7,1250.8 544.0,1270.0 544.3,1251.2 544.6,1258.2 544.9,1262.0 545.1,1243.5 545.4,1266.7 545.7,1269.9 546.0,1270.9 546.3,1267.6 546.5,1246.6 546.8,1245.2 547.1,1242.9 547.4,1241.5 547.7,1242.9 548.0,1264.0 548.2,1269.6 548.5,1244.8 548.8,1262.0 549.1,1237.6 549.4,1248.7 549.7,1240.8 549.9,1233.4 550.2,1253.3 550.5,1253.6 550.8,1247.9 551.1,1246.6 551.4,1241.1 551.6,1251.3 551.9,1245.8 552.2,1255.8 552.5,1238.7 552.8,1255.8 553.0,1259.2 553.3,1268.0 553.6,1265.7 553.9,1255.5 554.2,1245.1 554.5,1231.5 554.7,1253.3 555.0,1270.3 555.3,1273.3 555.6,1225.9 555.9,1244.5 556.2,1249.4 556.4,1241.2 556.7,1255.9 557.0,1254.2 557.3,1247.6 557.6,1253.4 557.9,1234.9 558.1,1242.3 558.4,1243.3 558.7,1264.8 559.0,1234.7 559.3,1251.6 559.5,1263.5 559.8,1253.6 560.1,1264.0 560.4,1246.5 560.7,1259.6 561.0,1265.3 561.2,1281.2 561.5,1263.3 561.8,1271.7 562.1,1254.8 562.4,1255.9 562.7,1273.6 562.9,1261.8 563.2,1271.9 563.5,1263.5 563.8,1280.4 564.1,1282.5 564.4,1245.2 564.6,1277.5 564.9,1260.5 565.2,1261.1 565.5,1254.0 565.8,1264.1 566.0,1242.2 566.3,1246.9 566.6,1246.5 566.9,1259.2 567.2,1266.8 567.5,1264.7 567.7,1260.3 568.0,1248.9 568.3,1235.0 568.6,1260.9 568.9,1257.9 569.2,1260.5 569.4,1273.3 569.7,1254.1 570.0,1253.9 570.3,1228.7 570.6,1263.2 570.9,1255.9 571.1,1247.7 571.4,1261.2 571.7,1244.0 572.0,1249.9 572.3,1279.8 572.5,1265.2 572.8,1267.3 573.1,1265.1 573.4,1263.7 573.7,1258.3 574.0,1283.1 574.2,1254.9 574.5,1264.5 574.8,1253.0 575.1,1251.4 575.4,1227.6 575.7,1232.4 575.9,1273.9 576.2,1273.1 576.5,1249.9 576.8,1254.7 577.1,1262.3 577.4,1243.0 577.6,1276.1 577.9,1242.3 578.2,1246.0 578.5,1226.8 578.8,1272.8 579.0,1255.2 579.3,1274.0 579.6,1242.2 579.9,1258.3 580.2,1255.1 580.5,1256.5 580.7,1279.4 581.0,1281.7 581.3,1270.8 581.6,1248.9 581.9,1264.8 582.2,1270.3 582.4,1260.5 582.7,1260.6 583.0,1259.4 583.3,1242.1 583.6,1256.4 583.9,1273.4 584.1,1240.6 584.4,1254.1 584.7,1263.6 585.0,1235.6 585.3,1251.1 585.5,1231.1 585.8,1244.9 586.1,1234.5 586.4,1241.0 586.7,1246.1 587.0,1248.8 587.2,1249.6 587.5,1222.3 587.8,1272.7 588.1,1248.5 588.4,1237.7 588.7,1243.7 588.9,1255.8 589.2,1238.7 589.5,1246.2 589.8,1245.4 590.1,1258.5 590.4,1241.6 590.6,1257.3 590.9,1255.8 591.2,1249.3 591.5,1267.4 591.8,1251.3 592.0,1235.6 592.3,1254.8 592.6,1252.5 592.9,1250.2 593.2,1253.8 593.5,1280.9 593.7,1253.6 594.0,1256.5 594.3,1247.2 594.6,1267.6 594.9,1249.5 595.2,1239.6 595.4,1234.0 595.7,1257.0 596.0,1259.9 596.3,1228.6 596.6,1239.8 596.9,1257.6 597.1,1262.4 597.4,1230.9 597.7,1242.7 598.0,1258.9 598.3,1240.4 598.5,1241.2 598.8,1239.7 599.1,1229.1 599.4,1246.9 599.7,1250.0 600.0,1226.9 600.2,1246.6 600.5,1259.8 600.8,1247.5 601.1,1257.1 601.4,1236.7 601.7,1262.1 601.9,1232.9 602.2,1268.4 602.5,1236.8 602.8,1232.8 603.1,1230.2 603.3,1236.3 603.6,1234.9 603.9,1231.9 604.2,1236.5 604.5,1249.6 604.8,1252.2 605.0,1235.5 605.3,1256.5 605.6,1226.1 605.9,1225.5 606.2,1223.8 606.5,1247.1 606.7,1217.7 607.0,1219.5 607.3,1255.6 607.6,1261.3 607.9,1256.1 608.2,1217.2 608.4,1237.5 608.7,1248.4 609.0,1238.2 609.3,1214.5 609.6,1231.7 609.8,1212.9 610.1,1219.1 610.4,1265.2 610.7,1244.8 611.0,1215.1 611.3,1214.4 611.5,1241.0 611.8,1226.2 612.1,1242.2 612.4,1225.2 612.7,1231.1 613.0,1236.9 613.2,1219.2 613.5,1206.7 613.8,1216.5 614.1,1223.1 614.4,1229.6 614.7,1231.4 614.9,1231.1 615.2,1238.9 615.5,1219.2 615.8,1250.6 616.1,1258.8 616.3,1235.9 616.6,1233.2 616.9,1247.7 617.2,1239.2 617.5,1232.5 617.8,1227.4 618.0,1219.2 618.3,1212.9 618.6,1238.3 618.9,1245.3 619.2,1213.8 619.5,1227.3 619.7,1231.1 620.0,1221.9 620.3,1217.0 620.6,1221.9 620.9,1199.6 621.2,1226.1 621.4,1222.6 621.7,1256.2 622.0,1239.4 622.3,1221.2 622.6,1225.7 622.8,1249.7 623.1,1247.9 623.4,1227.7 623.7,1223.1 624.0,1204.4 624.3,1219.8 624.5,1221.8 624.8,1213.7 625.1,1248.0 625.4,1197.2 625.7,1221.4 626.0,1228.8 626.2,1229.0 626.5,1246.3 626.8,1202.8 627.1,1211.7 627.4,1223.3 627.7,1223.6 627.9,1216.1 628.2,1210.5 628.5,1236.1 628.8,1206.1 629.1,1212.5 629.3,1240.5 629.6,1244.5 629.9,1232.4 630.2,1208.1 630.5,1208.3 630.8,1207.6 631.0,1204.4 631.3,1214.5 631.6,1238.2 631.9,1223.5 632.2,1209.8 632.5,1209.5 632.7,1203.9 633.0,1237.4 633.3,1192.1 633.6,1224.3 633.9,1200.3 634.2,1205.7 634.4,1199.6 634.7,1234.1 635.0,1219.4 635.3,1253.3 635.6,1206.1 635.8,1205.3 636.1,1228.9 636.4,1228.6 636.7,1216.7 637.0,1192.3 637.3,1241.0 637.5,1228.7 637.8,1226.3 638.1,1212.4 638.4,1229.8 638.7,1212.9 639.0,1221.4 639.2,1218.1 639.5,1238.5 639.8,1214.2 640.1,1216.0 640.4,1236.4 640.7,1224.0 640.9,1220.6 641.2,1217.5 641.5,1234.3 641.8,1211.8 642.1,1227.6 642.3,1249.5 642.6,1226.6 642.9,1209.9 643.2,1204.1 643.5,1223.1 643.8,1203.7 644.0,1198.6 644.3,1210.4 644.6,1205.6 644.9,1233.4 645.2,1200.6 645.5,1243.5 645.7,1210.5 646.0,1222.8 646.3,1230.7 646.6,1224.3 646.9,1231.4 647.2,1207.3 647.4,1189.7 647.7,1218.4 648.0,1197.5 648.3,1213.1 648.6,1234.6 648.8,1218.5 649.1,1212.9 649.4,1205.4 649.7,1217.2 650.0,1218.9 650.3,1199.0 650.5,1225.6 650.8,1206.2 651.1,1224.5 651.4,1215.1 651.7,1235.5 652.0,1233.6 652.2,1221.7 652.5,1220.0 652.8,1227.8 653.1,1241.2 653.4,1236.8 653.7,1224.1 653.9,1226.4 654.2,1244.3 654.5,1199.0 654.8,1230.1 655.1,1209.9 655.3,1242.1 655.6,1216.2 655.9,1221.9 656.2,1208.4 656.5,1224.2 656.8,1235.5 657.0,1248.1 657.3,1207.0 657.6,1218.8 657.9,1258.1 658.2,1238.9 658.5,1225.8 658.7,1233.5 659.0,1194.2 659.3,1249.4 659.6,1229.1 659.9,1206.9 660.2,1243.8 660.4,1218.8 660.7,1213.4 661.0,1235.5 661.3,1234.0 661.6,1222.1 661.8,1227.8 662.1,1210.2 662.4,1209.0 662.7,1242.1 663.0,1248.2 663.3,1236.0 663.5,1235.4 663.8,1224.9 664.1,1228.8 664.4,1217.8 664.7,1255.7 665.0,1223.4 665.2,1237.3 665.5,1231.8 665.8,1212.4 666.1,1259.4 666.4,1227.2 666.7,1221.9 666.9,1234.5 667.2,1220.6 667.5,1233.8 667.8,1220.1 668.1,1241.7 668.3,1234.8 668.6,1215.1 668.9,1249.0 669.2,1237.4 669.5,1219.5 669.8,1240.2 670.0,1241.4 670.3,1261.7 670.6,1223.8 670.9,1248.1 671.2,1235.0 671.5,1245.2 671.7,1233.2 672.0,1236.3 672.3,1244.3 672.6,1220.8 672.9,1208.3 673.2,1237.9 673.4,1232.0 673.7,1239.7 674.0,1247.7 674.3,1235.9 674.6,1255.9 674.8,1238.9 675.1,1241.3 675.4,1251.6 675.7,1248.5 676.0,1239.2 676.3,1242.5 676.5,1230.3 676.8,1232.6 677.1,1242.9 677.4,1253.1 677.7,1235.8 678.0,1253.9 678.2,1269.6 678.5,1272.8 678.8,1243.3 679.1,1257.9 679.4,1251.8 679.7,1254.2 679.9,1254.8 680.2,1250.3 680.5,1254.5 680.8,1245.5 681.1,1239.1 681.3,1246.2 681.6,1249.5 681.9,1259.6 682.2,1247.6 682.5,1252.7 682.8,1262.1 683.0,1229.1 683.3,1238.4 683.6,1249.5 683.9,1242.2 684.2,1227.6 684.5,1255.4 684.7,1240.5 685.0,1227.5 685.3,1267.7 685.6,1223.3 685.9,1240.9 686.2,1231.6 686.4,1242.4 686.7,1248.6 687.0,1229.3 687.3,1239.1 687.6,1238.6 687.8,1226.4 688.1,1256.4 688.4,1242.5 688.7,1236.0 689.0,1230.7 689.3,1235.2 689.5,1241.7 689.8,1233.2 690.1,1256.8 690.4,1207.0 690.7,1209.6 691.0,1235.6 691.2,1213.6 691.5,1238.0 691.8,1229.8 692.1,1246.8 692.4,1244.4 692.7,1256.7 692.9,1251.2 693.2,1255.7 693.5,1245.6 693.8,1253.0 694.1,1245.0 694.3,1229.8 694.6,1220.6 694.9,1221.1 695.2,1244.4 695.5,1205.3 695.8,1239.9 696.0,1227.0 696.3,1247.5 696.6,1240.0 696.9,1226.7 697.2,1237.2 697.5,1205.5 697.7,1240.5 698.0,1243.2 698.3,1211.2 698.6,1248.4 698.9,1234.8 699.2,1238.7 699.4,1216.6 699.7,1244.5 700.0,1244.1 700.3,1235.8 700.6,1222.3 700.8,1246.3 701.1,1252.9 701.4,1241.2 701.7,1249.4 702.0,1227.4 702.3,1237.5 702.5,1240.5 702.8,1237.3 703.1,1266.0 703.4,1240.9 703.7,1227.3 704.0,1246.4 704.2,1219.8 704.5,1239.7 704.8,1245.0 705.1,1227.3 705.4,1229.5 705.7,1220.7 705.9,1235.3 706.2,1223.9 706.5,1257.0 706.8,1241.7 707.1,1229.5 707.3,1212.8 707.6,1260.2 707.9,1249.8 708.2,1238.2 708.5,1234.1 708.8,1233.5 709.0,1224.4 709.3,1256.6 709.6,1233.2 709.9,1210.3 710.2,1220.8 710.5,1196.5 710.7,1238.5 711.0,1239.7 711.3,1253.4 711.6,1257.6 711.9,1217.6 712.2,1234.3 712.4,1241.6 712.7,1238.6 713.0,1220.3 713.3,1238.2 713.6,1233.7 713.8,1245.4 714.1,1225.9 714.4,1222.7 714.7,1218.7 715.0,1220.3 715.3,1214.6 715.5,1220.2 715.8,1231.6 716.1,1230.7 716.4,1242.3 716.7,1238.5 717.0,1231.2 717.2,1205.9 717.5,1228.9 717.8,1236.3 718.1,1201.4 718.4,1203.2 718.7,1204.7 718.9,1202.7 719.2,1212.3 719.5,1202.6 719.8,1220.0 720.1,1197.2 720.3,1211.3 720.6,1205.4 720.9,1198.2 721.2,1225.1 721.5,1210.4 721.8,1216.7 722.0,1203.9 722.3,1217.4 722.6,1215.4 722.9,1204.1 723.2,1180.9 723.5,1216.0 723.7,1213.4 724.0,1205.6 724.3,1205.7 724.6,1203.3 724.9,1203.5 725.2,1186.2 725.4,1198.5 725.7,1202.9 726.0,1189.3 726.3,1183.6 726.6,1222.0 726.8,1203.9 727.1,1190.5 727.4,1187.1 727.7,1160.5 728.0,1172.6 728.3,1188.2 728.5,1208.8 728.8,1161.5 729.1,1179.5 729.4,1214.9 729.7,1196.7 730.0,1192.2 730.2,1202.1 730.5,1182.9 730.8,1181.1 731.1,1192.7 731.4,1193.7 731.7,1165.9 731.9,1201.3 732.2,1154.6 732.5,1168.3 732.8,1208.4 733.1,1169.0 733.3,1184.5 733.6,1160.3 733.9,1168.9 734.2,1162.4 734.5,1166.0 734.8,1179.8 735.0,1194.2 735.3,1181.0 735.6,1189.7 735.9,1159.8 736.2,1186.6 736.5,1173.0 736.7,1183.4 737.0,1157.3 737.3,1159.0 737.6,1180.5 737.9,1168.9 738.2,1160.9 738.4,1148.8 738.7,1156.1 739.0,1163.4 739.3,1165.8 739.6,1146.8 739.8,1148.8 740.1,1158.8 740.4,1136.1 740.7,1164.0 741.0,1149.7 741.3,1146.9 741.5,1114.9 741.8,1124.3 742.1,1131.3 742.4,1136.8 742.7,1128.6 743.0,1148.6 743.2,1144.3 743.5,1137.7 743.8,1111.7 744.1,1159.7 744.4,1135.0 744.6,1146.6 744.9,1127.7 745.2,1136.4 745.5,1145.5 745.8,1138.1 746.1,1147.6 746.3,1130.4 746.6,1160.6 746.9,1104.2 747.2,1122.6 747.5,1143.6 747.8,1125.1 748.0,1121.5 748.3,1101.6 748.6,1143.3 748.9,1098.1 749.2,1131.7 749.5,1126.4 749.7,1135.3 750.0,1142.8 750.3,1110.9 750.6,1108.5 750.9,1114.7 751.1,1093.7 751.4,1129.3 751.7,1110.9 752.0,1118.1 752.3,1098.7 752.6,1114.2 752.8,1104.2 753.1,1111.2 753.4,1095.7 753.7,1125.8 754.0,1102.4 754.3,1079.8 754.5,1122.3 754.8,1109.4 755.1,1101.6 755.4,1148.6 755.7,1114.9 756.0,1097.1 756.2,1108.2 756.5,1123.2 756.8,1115.1 757.1,1136.9 757.4,1135.0 757.6,1109.0 757.9,1121.6 758.2,1131.0 758.5,1116.5 758.8,1116.4 759.1,1136.4 759.3,1130.9 759.6,1105.0 759.9,1117.9 760.2,1120.6 760.5,1125.5 760.8,1117.5 761.0,1147.8 761.3,1115.3 761.6,1114.3 761.9,1133.6 762.2,1098.9 762.5,1117.1 762.7,1141.6 763.0,1114.3 763.3,1121.8 763.6,1150.3 763.9,1141.9 764.1,1136.9 764.4,1140.3 764.7,1127.7 765.0,1142.6 765.3,1135.9 765.6,1173.1 765.8,1148.0 766.1,1136.1 766.4,1140.9 766.7,1143.1 767.0,1123.2 767.3,1132.0 767.5,1166.5 767.8,1125.0 768.1,1137.6 768.4,1161.4 768.7,1169.1 769.0,1133.4 769.2,1169.8 769.5,1144.3 769.8,1174.1 770.1,1158.2 770.4,1147.6 770.6,1162.9 770.9,1161.2 771.2,1142.8 771.5,1185.5 771.8,1150.3 772.1,1172.6 772.3,1149.7 772.6,1131.2 772.9,1142.0 773.2,1157.4 773.5,1169.4 773.8,1185.6 774.0,1162.2 774.3,1157.6 774.6,1144.6 774.9,1162.4 775.2,1168.1 775.5,1132.4 775.7,1184.1 776.0,1182.4 776.3,1199.8 776.6,1154.1 776.9,1168.6 777.1,1168.9 777.4,1150.0 777.7,1157.6 778.0,1156.4 778.3,1179.1 778.6,1178.0 778.8,1191.2 779.1,1165.0 779.4,1150.0 779.7,1176.9 780.0,1175.5 780.3,1179.6 780.5,1188.0 780.8,1160.4 781.1,1180.7 781.4,1153.5 781.7,1170.5 782.0,1178.2 782.2,1165.8 782.5,1170.5 782.8,1145.9 783.1,1156.8 783.4,1168.5 783.6,1147.8 783.9,1152.7 784.2,1200.5 784.5,1168.9 784.8,1152.1 785.1,1148.6 785.3,1185.0 785.6,1129.0 785.9,1157.6 786.2,1171.8 786.5,1153.2 786.8,1169.4 787.0,1144.9 787.3,1160.4 787.6,1160.9 787.9,1160.1 788.2,1161.8 788.5,1159.8 788.7,1176.2 789.0,1154.4 789.3,1149.0 789.6,1153.5 789.9,1152.8 790.1,1133.4 790.4,1127.0 790.7,1135.4 791.0,1160.4 791.3,1144.8 791.6,1148.1 791.8,1192.1 792.1,1170.9 792.4,1149.2 792.7,1141.8 793.0,1172.9 793.3,1138.1 793.5,1169.4 793.8,1158.4 794.1,1170.4 794.4,1136.2 794.7,1161.4 795.0,1117.4 795.2,1142.9 795.5,1162.2 795.8,1155.4 796.1,1114.1 796.4,1153.9 796.6,1149.5 796.9,1140.5 797.2,1129.1 797.5,1135.6 797.8,1130.1 798.1,1154.1 798.3,1145.6 798.6,1154.7 798.9,1147.9 799.2,1115.2 799.5,1137.5 799.8,1169.4 800.0,1116.0 800.3,1137.8 800.6,1120.0 800.9,1117.5 801.2,1134.7 801.5,1145.5 801.7,1142.3 802.0,1136.7 802.3,1143.9 802.6,1101.4 802.9,1140.4 803.1,1133.0 803.4,1122.7 803.7,1124.6 804.0,1110.0 804.3,1141.9 804.6,1109.9 804.8,1097.3 805.1,1120.2 805.4,1110.1 805.7,1117.5 806.0,1142.3 806.3,1114.6 806.5,1118.0 806.8,1151.9 807.1,1091.5 807.4,1119.3 807.7,1131.5 808.0,1136.3 808.2,1147.3 808.5,1099.2 808.8,1119.0 809.1,1106.7 809.4,1100.0 809.6,1094.7 809.9,1081.8 810.2,1110.2 810.5,1116.1 810.8,1085.7 811.1,1114.5 811.3,1092.3 811.6,1083.9 811.9,1064.4 812.2,1116.6 812.5,1109.4 812.8,1091.8 813.0,1089.7 813.3,1074.0 813.6,1102.7 813.9,1092.4 814.2,1101.4 814.5,1094.6 814.7,1067.9 815.0,1064.6 815.3,1096.0 815.6,1060.7 815.9,1093.4 816.1,1104.5 816.4,1069.6 816.7,1102.3 817.0,1092.8 817.3,1101.6 817.6,1083.4 817.8,1094.2 818.1,1102.3 818.4,1125.9 818.7,1108.9 819.0,1105.8 819.3,1077.3 819.5,1104.7 819.8,1088.9 820.1,1099.7 820.4,1106.0 820.7,1118.2 821.0,1112.8 821.2,1107.0 821.5,1103.8 821.8,1127.6 822.1,1091.8 822.4,1107.6 822.6,1130.2 822.9,1105.3 823.2,1122.8 823.5,1124.5 823.8,1143.0 824.1,1129.9 824.3,1085.3 824.6,1112.9 824.9,1118.4 825.2,1127.9 825.5,1121.4 825.8,1146.5 826.0,1134.4 826.3,1097.9 826.6,1107.5 826.9,1084.8 827.2,1147.4 827.5,1117.7 827.7,1118.1 828.0,1095.2 828.3,1113.5 828.6,1127.3 828.9,1113.4 829.1,1113.3 829.4,1109.3 829.7,1151.1 830.0,1109.9 830.3,1095.1 830.6,1109.9 830.8,1112.3 831.1,1116.1 831.4,1113.4 831.7,1099.3 832.0,1113.6 832.3,1122.7 832.5,1094.2 832.8,1147.3 833.1,1142.7 833.4,1087.2 833.7,1109.7 834.0,1131.1 834.2,1136.0 834.5,1142.7 834.8,1086.1 835.1,1097.3 835.4,1106.4 835.6,1122.6 835.9,1097.5 836.2,1120.5 836.5,1120.6 836.8,1124.5 837.1,1093.8 837.3,1116.2 837.6,1114.2 837.9,1106.7 838.2,1132.5 838.5,1108.3 838.8,1134.3 839.0,1103.5 839.3,1137.7 839.6,1136.7 839.9,1099.9 840.2,1116.9 840.5,1116.6 840.7,1098.5 841.0,1125.5 841.3,1123.6 841.6,1102.8 841.9,1118.1 842.1,1130.7 842.4,1116.1 842.7,1108.8 843.0,1144.6 843.3,1106.8 843.6,1127.3 843.8,1139.7 844.1,1135.8 844.4,1097.8 844.7,1121.1 845.0,1124.9 845.3,1124.7 845.5,1138.0 845.8,1137.7 846.1,1132.6 846.4,1135.5 846.7,1147.5 847.0,1151.9 847.2,1106.3 847.5,1167.5 847.8,1128.0 848.1,1148.7 848.4,1113.9 848.6,1131.3 848.9,1121.2 849.2,1156.8 849.5,1154.7 849.8,1142.6 850.1,1140.9 850.3,1150.0 850.6,1131.3 850.9,1137.1 851.2,1135.6 851.5,1159.9 851.8,1149.1 852.0,1130.8 852.3,1155.6 852.6,1159.1 852.9,1172.6 853.2,1145.5 853.5,1160.8 853.7,1186.3 854.0,1152.8 854.3,1153.5 854.6,1167.3 854.9,1154.1 855.1,1162.6 855.4,1156.6 855.7,1153.9 856.0,1178.8 856.3,1162.3 856.6,1154.6 856.8,1166.1 857.1,1169.4 857.4,1176.9 857.7,1187.0 858.0,1200.0 858.3,1159.3 858.5,1174.2 858.8,1153.5 859.1,1183.2 859.4,1188.7 859.7,1173.6 860.0,1171.2 860.2,1171.4 860.5,1165.7 860.8,1196.3 861.1,1215.1 861.4,1174.5 861.6,1213.7 861.9,1191.0 862.2,1174.8 862.5,1202.7 862.8,1206.6 863.1,1202.9 863.3,1195.2 863.6,1222.6 863.9,1197.4 864.2,1211.1 864.5,1212.5 864.8,1193.0 865.0,1181.5 865.3,1184.1 865.6,1202.5 865.9,1213.1 866.2,1185.3 866.5,1200.0 866.7,1230.4 867.0,1187.0 867.3,1217.4 867.6,1216.5 867.9,1222.8 868.1,1193.7 868.4,1218.0 868.7,1196.0 869.0,1232.2 869.3,1204.1 869.6,1220.9 869.8,1206.2 870.1,1218.9 870.4,1197.9 870.7,1222.0 871.0,1226.6 871.3,1219.4 871.5,1240.7 871.8,1225.4 872.1,1231.3 872.4,1228.3 872.7,1246.2 873.0,1214.8 873.2,1220.3 873.5,1221.5 873.8,1232.7 874.1,1228.8 874.4,1236.6 874.6,1230.4 874.9,1220.9 875.2,1227.2 875.5,1234.0 875.8,1202.2 876.1,1247.0 876.3,1223.5 876.6,1226.7 876.9,1234.9 877.2,1229.2 877.5,1215.2 877.8,1230.6 878.0,1250.6 878.3,1246.7 878.6,1249.3 878.9,1227.8 879.2,1232.1 879.5,1247.9 879.7,1253.5 880.0,1236.0 880.3,1224.1 880.6,1212.6 880.9,1253.8 881.1,1218.1 881.4,1242.3 881.7,1248.2 882.0,1265.6 882.3,1240.2 882.6,1236.8 882.8,1244.1 883.1,1245.0 883.4,1255.5 883.7,1247.8 884.0,1230.2 884.3,1213.9 884.5,1243.8 884.8,1232.1 885.1,1258.0 885.4,1224.7 885.7,1243.7 885.9,1232.4 886.2,1230.9 886.5,1262.5 886.8,1244.3 887.1,1240.2 887.4,1251.9 887.6,1233.3 887.9,1238.7 888.2,1235.6 888.5,1268.3 888.8,1248.1 889.1,1252.0 889.3,1258.3 889.6,1242.4 889.9,1243.1 890.2,1224.7 890.5,1250.6 890.8,1247.7 891.0,1239.1 891.3,1258.9 891.6,1221.6 891.9,1248.8 892.2,1226.3 892.4,1228.9 892.7,1240.3 893.0,1259.2 893.3,1227.7 893.6,1229.8 893.9,1227.0 894.1,1266.8 894.4,1248.0 894.7,1246.4 895.0,1266.7 895.3,1244.0 895.6,1214.5 895.8,1234.1 896.1,1225.3 896.4,1265.2 896.7,1222.1 897.0,1243.3 897.3,1232.9 897.5,1233.6 897.8,1239.1 898.1,1236.9 898.4,1229.9 898.7,1222.8 898.9,1229.8 899.2,1224.7 899.5,1226.2 899.8,1238.7 900.1,1235.1 900.4,1242.8 900.6,1233.6 900.9,1260.3 901.2,1227.0 901.5,1223.4 901.8,1248.4 902.1,1226.6 902.3,1236.8 902.6,1247.1 902.9,1233.3 903.2,1229.8 903.5,1245.9 903.8,1237.7 904.0,1226.5 904.3,1217.9 904.6,1227.8 904.9,1211.5 905.2,1220.9 905.4,1217.8 905.7,1234.8 906.0,1240.3 906.3,1222.3 906.6,1224.6 906.9,1216.0 907.1,1212.1 907.4,1223.6 907.7,1235.7 908.0,1234.2 908.3,1235.3 908.6,1224.2 908.8,1200.0 909.1,1238.5 909.4,1243.1 909.7,1237.7 910.0,1237.2 910.3,1239.3 910.5,1253.1 910.8,1229.0 911.1,1244.1 911.4,1234.5 911.7,1232.5 911.9,1222.1 912.2,1219.1 912.5,1209.1 912.8,1230.1 913.1,1218.5 913.4,1207.1 913.6,1212.3 913.9,1206.6 914.2,1240.9 914.5,1217.7 914.8,1221.7 915.1,1204.8 915.3,1206.5 915.6,1231.7 915.9,1215.2 916.2,1220.3 916.5,1239.7 916.8,1242.2 917.0,1224.4 917.3,1221.3 917.6,1217.7 917.9,1210.7 918.2,1238.5 918.4,1198.2 918.7,1211.4 919.0,1188.5 919.3,1195.9 919.6,1215.8 919.9,1215.8 920.1,1213.8 920.4,1205.2 920.7,1200.0 921.0,1201.5 921.3,1202.8 921.6,1220.1 921.8,1224.0 922.1,1211.1 922.4,1198.7 922.7,1193.3 923.0,1207.7 923.3,1200.8 923.5,1181.0 923.8,1218.9 924.1,1201.7 924.4,1197.4 924.7,1190.3 924.9,1189.7 925.2,1210.3 925.5,1187.7 925.8,1199.6 926.1,1205.4 926.4,1219.3 926.6,1203.9 926.9,1195.8 927.2,1190.4 927.5,1206.0 927.8,1208.0 928.1,1191.3 928.3,1203.5 928.6,1195.1 928.9,1177.8 929.2,1185.3 929.5,1207.0 929.8,1214.6 930.0,1205.9 930.3,1195.7 930.6,1189.9 930.9,1204.9 931.2,1202.7 931.4,1180.0 931.7,1206.9 932.0,1191.1 932.3,1207.6 932.6,1206.2 932.9,1208.7 933.1,1213.0 933.4,1208.9 933.7,1188.5 934.0,1189.1 934.3,1213.5 934.6,1207.1 934.8,1183.2 935.1,1178.3 935.4,1212.7 935.7,1228.4 936.0,1212.4 936.3,1200.1 936.5,1206.2 936.8,1177.2 937.1,1191.8 937.4,1215.7 937.7,1214.1 937.9,1179.2 938.2,1218.4 938.5,1211.0 938.8,1215.9 939.1,1202.7 939.4,1205.4 939.6,1192.9 939.9,1209.6 940.2,1216.6 940.5,1195.2 940.8,1210.8 941.1,1200.5 941.3,1219.2 941.6,1218.7 941.9,1181.3 942.2,1212.9 942.5,1219.8 942.8,1201.5 943.0,1205.8 943.3,1206.7 943.6,1195.3 943.9,1207.6 944.2,1227.5 944.4,1215.0 944.7,1227.6 945.0,1221.6 945.3,1224.2 945.6,1211.8 945.9,1219.7 946.1,1234.5 946.4,1228.3 946.7,1215.1 947.0,1203.3 947.3,1200.8 947.6,1214.8 947.8,1217.3 948.1,1190.8 948.4,1215.2 948.7,1216.9 949.0,1216.6 949.3,1206.8 949.5,1239.5 949.8,1224.0 950.1,1197.8 950.4,1205.8 950.7,1223.8 950.9,1220.6 951.2,1216.3 951.5,1214.7 951.8,1212.7 952.1,1210.3 952.4,1204.1 952.6,1223.5 952.9,1191.5 953.2,1209.3 953.5,1233.1 953.8,1209.9 954.1,1205.7 954.3,1242.6 954.6,1233.1 954.9,1219.7 955.2,1215.2 955.5,1220.0 955.8,1219.2 956.0,1221.1 956.3,1215.8 956.6,1231.5 956.9,1219.2 957.2,1205.1 957.4,1211.8 957.7,1227.5 958.0,1216.2 958.3,1203.3 958.6,1246.9 958.9,1235.7 959.1,1224.9 959.4,1225.0 959.7,1237.7 960.0,1248.4 960.3,1225.6 960.6,1238.4 960.8,1226.8 961.1,1238.6 961.4,1222.0 961.7,1214.5 962.0,1237.6 962.3,1236.4 962.5,1246.3 962.8,1230.6 963.1,1255.1 963.4,1240.8 963.7,1258.4 963.9,1236.9 964.2,1259.2 964.5,1241.4 964.8,1244.6 965.1,1254.9 965.4,1223.6 965.6,1232.5 965.9,1267.2 966.2,1228.8 966.5,1241.3 966.8,1254.2 967.1,1265.7 967.3,1243.3 967.6,1251.5 967.9,1237.5 968.2,1246.9 968.5,1264.1 968.8,1256.7 969.0,1253.2 969.3,1259.3 969.6,1256.6 969.9,1257.7 970.2,1252.3 970.4,1245.7 970.7,1265.8 971.0,1245.1 971.3,1271.3 971.6,1284.9 971.9,1278.5 972.1,1288.1 972.4,1250.0 972.7,1265.8 973.0,1254.0 973.3,1255.7 973.6,1245.0 973.8,1251.6 974.1,1276.6 974.4,1275.4 974.7,1282.1 975.0,1281.9 975.3,1278.6 975.5,1260.8 975.8,1269.6 976.1,1280.3 976.4,1287.0 976.7,1268.7 976.9,1267.8 977.2,1268.7 977.5,1292.7 977.8,1280.8 978.1,1270.7 978.4,1265.6 978.6,1279.9 978.9,1255.2 979.2,1272.5 979.5,1268.7 979.8,1268.7 980.1,1278.2 980.3,1280.9 980.6,1302.6 980.9,1277.6 981.2,1284.8 981.5,1267.3 981.8,1257.4 982.0,1290.7 982.3,1300.6 982.6,1265.8 982.9,1276.9 983.2,1291.2 983.4,1279.3 983.7,1251.8 984.0,1290.6 984.3,1277.1 984.6,1287.6 984.9,1267.7 985.1,1289.9 985.4,1291.9 985.7,1271.1 986.0,1285.8 986.3,1272.5 986.6,1274.3 986.8,1269.6 987.1,1275.5 987.4,1272.7 987.7,1295.0 988.0,1278.5 988.3,1267.9 988.5,1298.0 988.8,1288.3 989.1,1293.8 989.4,1281.4 989.7,1290.7 989.9,1281.4 990.2,1271.3 990.5,1284.2 990.8,1284.9 991.1,1285.0 991.4,1293.6 991.6,1262.9 991.9,1287.5 992.2,1274.5 992.5,1280.9 992.8,1289.9 993.1,1285.5 993.3,1276.8 993.6,1294.3 993.9,1284.7 994.2,1296.8 994.5,1300.7 994.8,1281.6 995.0,1272.9 995.3,1287.3 995.6,1296.4 995.9,1290.6 996.2,1272.8 996.4,1266.6 996.7,1276.0 997.0,1276.0 997.3,1295.3 997.6,1288.7 997.9,1298.7 998.1,1287.3 998.4,1308.8 998.7,1288.9 999.0,1295.6 999.3,1284.2 999.6,1294.7 999.8,1302.6 1000.1,1299.1 1000.4,1305.3 1000.7,1282.8 1001.0,1295.8 1001.3,1311.0 1001.5,1293.7 1001.8,1288.8 1002.1,1288.0 1002.4,1284.4 1002.7,1292.5 1002.9,1307.4 1003.2,1296.2 1003.5,1290.4 1003.8,1281.2 1004.1,1277.1 1004.4,1316.9 1004.6,1285.1 1004.9,1291.9 1005.2,1284.9 1005.5,1292.7 1005.8,1285.6 1006.1,1291.9 1006.3,1307.9 1006.6,1281.8 1006.9,1296.9 1007.2,1289.8 1007.5,1299.1 1007.8,1282.5 1008.0,1295.3 1008.3,1278.9 1008.6,1268.9 1008.9,1274.8 1009.2,1279.1 1009.4,1277.0 1009.7,1286.4 1010.0,1303.2 1010.3,1276.7 1010.6,1295.4 1010.9,1291.8 1011.1,1281.7 1011.4,1279.1 1011.7,1295.0 1012.0,1295.6 1012.3,1285.9 1012.6,1288.2 1012.8,1289.8 1013.1,1274.6 1013.4,1291.2 1013.7,1293.5 1014.0,1310.4 1014.3,1275.1 1014.5,1279.8 1014.8,1290.9 1015.1,1283.1 1015.4,1285.2 1015.7,1290.0 1015.9,1286.5 1016.2,1289.5 1016.5,1295.0 1016.8,1271.2 1017.1,1296.4 1017.4,1263.9 1017.6,1309.6 1017.9,1300.6 1018.2,1282.9 1018.5,1301.7 1018.8,1288.3 1019.1,1295.0 1019.3,1298.7 1019.6,1294.0 1019.9,1290.0 1020.2,1297.2 1020.5,1287.8 1020.8,1285.7 1021.0,1279.1 1021.3,1269.3 1021.6,1308.3 1021.9,1299.0 1022.2,1274.0 1022.4,1294.6 1022.7,1292.5 1023.0,1264.8 1023.3,1280.5 1023.6,1288.9 1023.9,1309.8 1024.1,1302.7 1024.4,1304.6 1024.7,1293.8 1025.0,1301.6 1025.3,1276.7 1025.6,1297.2 1025.8,1298.6 1026.1,1275.7 1026.4,1293.1 1026.7,1307.6 1027.0,1312.2 1027.2,1306.3 1027.5,1281.9 1027.8,1288.9 1028.1,1283.9 1028.4,1303.9 1028.7,1280.1 1028.9,1277.7 1029.2,1271.0 1029.5,1291.8 1029.8,1294.5 1030.1,1282.6 1030.4,1280.7 1030.6,1287.2 1030.9,1304.6 1031.2,1273.7 1031.5,1288.6 1031.8,1291.4 1032.1,1293.3 1032.3,1303.3 1032.6,1298.4 1032.9,1291.9 1033.2,1305.5 1033.5,1301.8 1033.7,1291.9 1034.0,1291.2 1034.3,1274.9 1034.6,1289.9 1034.9,1279.3 1035.2,1275.2 1035.4,1285.0 1035.7,1268.4 1036.0,1277.8 1036.3,1282.0 1036.6,1291.6 1036.9,1284.0 1037.1,1292.1 1037.4,1305.5 1037.7,1296.7 1038.0,1274.2 1038.3,1267.0 1038.6,1276.7 1038.8,1276.9 1039.1,1264.4 1039.4,1267.2 1039.7,1267.2 1040.0,1279.6 1040.2,1302.5 1040.5,1305.5 1040.8,1274.5 1041.1,1280.7 1041.4,1270.3 1041.7,1267.2 1041.9,1284.6 1042.2,1285.8 1042.5,1278.0 1042.8,1292.1 1043.1,1281.1 1043.4,1297.0 1043.6,1279.0 1043.9,1294.1 1044.2,1282.2 1044.5,1285.8 1044.8,1291.2 1045.1,1269.3 1045.3,1275.8 1045.6,1283.2 1045.9,1280.8 1046.2,1286.7 1046.5,1274.8 1046.7,1268.9 1047.0,1282.4 1047.3,1286.7 1047.6,1274.5 1047.9,1296.9 1048.2,1291.1 1048.4,1292.7 1048.7,1292.0 1049.0,1273.8 1049.3,1306.7 1049.6,1275.4 1049.9,1287.5 1050.1,1291.3 1050.4,1287.0 1050.7,1285.4 1051.0,1274.4 1051.3,1279.0 1051.6,1283.8 1051.8,1297.7 1052.1,1276.1 1052.4,1291.0 1052.7,1288.2 1053.0,1284.3 1053.2,1277.3 1053.5,1281.9 1053.8,1264.4 1054.1,1284.6 1054.4,1287.0 1054.7,1277.7 1054.9,1289.2 1055.2,1286.8 1055.5,1275.4 1055.8,1292.5 1056.1,1277.4 1056.4,1307.6 1056.6,1271.9 1056.9,1274.2 1057.2,1276.1 1057.5,1285.6 1057.8,1295.7 1058.1,1283.9 1058.3,1278.4 1058.6,1303.6 1058.9,1293.9 1059.2,1279.5 1059.5,1281.2 1059.7,1265.5 1060.0,1282.7 1060.3,1301.1 1060.6,1269.3 1060.9,1266.4 1061.2,1283.4 1061.4,1255.7 1061.7,1297.0 1062.0,1265.0 1062.3,1273.5 1062.6,1279.6 1062.9,1294.4 1063.1,1285.5 1063.4,1260.1 1063.7,1262.3 1064.0,1283.0 1064.3,1257.5 1064.6,1277.2 1064.8,1271.2 1065.1,1289.0 1065.4,1293.3 1065.7,1254.6 1066.0,1284.6 1066.2,1286.8 1066.5,1271.2 1066.8,1272.9 1067.1,1266.2 1067.4,1275.5 1067.7,1283.7 1067.9,1293.8 1068.2,1294.8 1068.5,1275.8 1068.8,1269.7 1069.1,1289.7 1069.4,1253.7 1069.6,1263.1 1069.9,1285.5 1070.2,1302.9 1070.5,1269.7 1070.8,1279.4 1071.1,1265.9 1071.3,1277.3 1071.6,1277.2 1071.9,1269.7 1072.2,1282.2 1072.5,1276.0 1072.7,1283.4 1073.0,1275.5 1073.3,1264.4 1073.6,1279.2 1073.9,1287.0 1074.2,1268.9 1074.4,1292.3 1074.7,1282.4 1075.0,1273.4 1075.3,1277.7 1075.6,1272.7 1075.9,1267.3 1076.1,1287.3 1076.4,1287.3 1076.7,1272.5 1077.0,1275.5 1077.3,1275.4 1077.6,1285.4 1077.8,1294.0 1078.1,1270.7 1078.4,1281.5 1078.7,1278.0 1079.0,1284.5 1079.2,1294.3 1079.5,1268.9 1079.8,1256.0 1080.1,1276.9 1080.4,1261.2 1080.7,1297.4 1080.9,1271.4 1081.2,1276.1 1081.5,1282.0 1081.8,1281.7 1082.1,1274.9 1082.4,1279.6 1082.6,1290.1 1082.9,1276.4 1083.2,1300.3 1083.5,1283.9 1083.8,1254.7 1084.1,1290.1 1084.3,1261.0 1084.6,1284.2 1084.9,1305.3 1085.2,1292.1 1085.5,1267.6 1085.7,1270.9 1086.0,1279.9 1086.3,1295.5 1086.6,1271.3 1086.9,1291.3 1087.2,1282.3 1087.4,1277.6 1087.7,1276.7 1088.0,1296.9 1088.3,1261.6 1088.6,1265.5 1088.9,1287.6 1089.1,1288.5 1089.4,1263.0 1089.7,1267.0 1090.0,1264.3 1090.3,1282.8 1090.6,1269.3 1090.8,1292.0 1091.1,1284.6 1091.4,1278.9 1091.7,1278.0 1092.0,1281.5 1092.2,1284.6 1092.5,1275.3 1092.8,1277.8 1093.1,1283.4 1093.4,1273.8 1093.7,1285.3 1093.9,1272.6 1094.2,1265.5 1094.5,1275.8 1094.8,1291.7 1095.1,1289.8 1095.4,1255.5 1095.6,1276.3 1095.9,1267.2 1096.2,1268.9 1096.5,1268.4 1096.8,1269.5 1097.1,1266.0 1097.3,1268.5 1097.6,1273.8 1097.9,1257.9 1098.2,1257.4 1098.5,1258.4 1098.7,1258.0 1099.0,1276.8 1099.3,1257.9 1099.6,1269.0 1099.9,1270.4 1100.2,1277.3 1100.4,1269.6 1100.7,1280.7 1101.0,1268.2 1101.3,1271.4 1101.6,1276.8 1101.9,1252.3 1102.1,1272.4 1102.4,1284.4 1102.7,1268.9 1103.0,1264.8 1103.3,1288.0 1103.6,1268.2 1103.8,1280.3 1104.1,1241.8 1104.4,1267.6 1104.7,1260.9 1105.0,1270.2 1105.2,1278.6 1105.5,1264.1 1105.8,1263.1 1106.1,1240.8 1106.4,1273.5 1106.7,1279.0 1106.9,1266.3 1107.2,1259.5 1107.5,1268.2 1107.8,1275.0 1108.1,1270.7 1108.4,1285.5 1108.6,1257.7 1108.9,1249.2 1109.2,1268.2 1109.5,1276.1 1109.8,1258.2 1110.1,1263.1 1110.3,1256.5 1110.6,1250.2 1110.9,1255.7 1111.2,1242.1 1111.5,1266.2 1111.7,1268.2 1112.0,1272.6 1112.3,1255.2 1112.6,1257.2 1112.9,1246.6 1113.2,1248.9 1113.4,1273.1 1113.7,1287.7 1114.0,1253.3 1114.3,1260.1 1114.6,1273.8 1114.9,1257.2 1115.1,1270.4 1115.4,1261.4 1115.7,1261.5 1116.0,1274.0 1116.3,1262.2 1116.6,1251.9 1116.8,1273.4 1117.1,1265.3 1117.4,1259.5 1117.7,1257.0 1118.0,1271.2 1118.2,1258.0 1118.5,1266.7 1118.8,1275.8 1119.1,1264.5 1119.4,1276.9 1119.7,1251.7 1119.9,1272.2 1120.2,1271.5 1120.5,1285.3 1120.8,1266.4 1121.1,1275.4 1121.4,1264.7 1121.6,1255.6 1121.9,1257.5 1122.2,1259.4 1122.5,1274.7 1122.8,1258.8 1123.1,1267.3 1123.3,1276.2 1123.6,1279.8 1123.9,1276.8 1124.2,1282.5 1124.5,1255.7 1124.7,1262.4 1125.0,1270.8 1125.3,1279.0 1125.6,1272.8 1125.9,1259.9 1126.2,1265.9 1126.4,1251.0 1126.7,1276.3 1127.0,1249.8 1127.3,1270.4 1127.6,1279.3 1127.9,1277.6 1128.1,1251.9 1128.4,1270.7 1128.7,1265.1 1129.0,1265.7 1129.3,1285.6 1129.6,1271.8 1129.8,1254.3 1130.1,1258.0 1130.4,1276.4 1130.7,1271.5 1131.0,1257.7 1131.2,1252.2 1131.5,1263.8 1131.8,1265.0 1132.1,1278.0 1132.4,1263.4 1132.7,1276.6 1132.9,1282.2 1133.2,1253.5 1133.5,1264.0 1133.8,1285.9 1134.1,1265.5 1134.4,1270.0 1134.6,1280.2 1134.9,1262.7 1135.2,1266.4 1135.5,1253.9 1135.8,1276.7 1136.1,1266.2 1136.3,1267.6 1136.6,1248.3 1136.9,1281.7 1137.2,1279.0 1137.5,1264.0 1137.7,1284.9 1138.0,1249.3 1138.3,1271.9 1138.6,1255.5 1138.9,1297.0 1139.2,1250.1 1139.4,1260.8 1139.7,1265.7 1140.0,1281.9 1140.3,1282.4 1140.6,1278.0 1140.9,1271.7 1141.1,1296.4 1141.4,1267.2 1141.7,1278.0 1142.0,1292.9 1142.3,1262.5 1142.6,1267.0 1142.8,1286.9 1143.1,1280.4 1143.4,1262.4 1143.7,1276.4 1144.0,1296.1 1144.2,1273.9 1144.5,1285.0 1144.8,1278.2 1145.1,1270.0 1145.4,1293.8 1145.7,1287.4 1145.9,1290.0 1146.2,1276.3 1146.5,1279.1 1146.8,1280.5 1147.1,1283.0 1147.4,1275.0 1147.6,1273.6 1147.9,1292.5 1148.2,1267.8 1148.5,1274.8 1148.8,1275.7 1149.1,1274.4 1149.3,1267.5 1149.6,1272.2 1149.9,1288.6 1150.2,1276.8 1150.5,1273.1 1150.7,1298.1 1151.0,1267.4 1151.3,1291.9 1151.6,1285.1 1151.9,1267.7 1152.2,1277.7 1152.4,1278.1 1152.7,1295.6 1153.0,1291.9 1153.3,1279.8 1153.6,1270.7 1153.9,1265.6 1154.1,1281.5 1154.4,1269.0 1154.7,1281.8 1155.0,1281.7 1155.3,1287.9 1155.6,1294.5 1155.8,1285.5 1156.1,1289.5 1156.4,1283.0 1156.7,1295.7 1157.0,1293.6 1157.2,1301.8 1157.5,1299.8 1157.8,1278.3 1158.1,1271.0 1158.4,1292.8 1158.7,1298.2 1158.9,1279.7 1159.2,1302.2 1159.5,1287.9 1159.8,1286.1 1160.1,1290.7 1160.4,1272.7 1160.6,1270.3 1160.9,1283.7 1161.2,1275.3 1161.5,1287.2 1161.8,1287.5 1162.1,1265.1 1162.3,1279.4 1162.6,1293.1 1162.9,1265.4 1163.2,1284.4 1163.5,1274.0 1163.7,1267.9 1164.0,1299.5 1164.3,1299.2 1164.6,1283.9 1164.9,1283.2 1165.2,1302.7 1165.4,1300.8 1165.7,1288.5 1166.0,1297.6 1166.3,1289.9 1166.6,1285.7 1166.9,1295.3 1167.1,1284.7 1167.4,1295.2 1167.7,1286.8 1168.0,1284.7 1168.3,1283.7 1168.5,1294.2 1168.8,1299.1 1169.1,1294.1 1169.4,1281.1 1169.7,1296.2 1170.0,1281.0 1170.2,1278.8 1170.5,1288.2 1170.8,1298.5 1171.1,1297.4 1171.4,1296.2 1171.7,1304.6 1171.9,1299.5 1172.2,1287.4 1172.5,1299.0 1172.8,1288.5 1173.1,1295.3 1173.4,1297.4 1173.6,1290.9 1173.9,1276.9 1174.2,1290.4 1174.5,1288.9 1174.8,1291.0 1175.0,1288.1 1175.3,1281.2 1175.6,1276.5 1175.9,1299.2 1176.2,1300.6 1176.5,1296.6 1176.7,1292.5 1177.0,1312.5 1177.3,1299.8 1177.6,1293.5 1177.9,1301.6 1178.2,1292.9 1178.4,1300.6 1178.7,1296.6 1179.0,1299.2 1179.3,1294.7 1179.6,1289.7 1179.9,1299.3 1180.1,1305.4 1180.4,1285.6 1180.7,1289.5 1181.0,1284.1 1181.3,1303.4 1181.5,1292.8 1181.8,1303.8 1182.1,1287.5 1182.4,1303.3 1182.7,1289.8 1183.0,1291.0 1183.2,1300.9 1183.5,1292.0 1183.8,1290.1 1184.1,1304.5 1184.4,1295.0 1184.7,1307.5 1184.9,1318.2 1185.2,1289.7 1185.5,1291.7 1185.8,1280.1 1186.1,1283.2 1186.4,1300.2 1186.6,1297.1 1186.9,1296.8 1187.2,1298.3 1187.5,1285.6 1187.8,1277.4 1188.0,1303.8 1188.3,1295.6 1188.6,1303.9 1188.9,1292.5 1189.2,1299.9 1189.5,1287.4 1189.7,1292.3 1190.0,1290.6 1190.3,1295.5 1190.6,1305.1 1190.9,1297.7 1191.2,1269.6 1191.4,1290.2 1191.7,1291.1 1192.0,1298.5 1192.3,1292.0 1192.6,1283.9 1192.9,1282.9 1193.1,1287.0 1193.4,1283.3 1193.7,1303.3 1194.0,1295.3 1194.3,1290.0 1194.5,1298.4 1194.8,1309.5 1195.1,1286.9 1195.4,1288.4 1195.7,1285.7 1196.0,1276.7 1196.2,1282.2 1196.5,1279.2 1196.8,1292.4 1197.1,1291.9 1197.4,1295.7 1197.7,1280.0 1197.9,1296.5 1198.2,1277.7 1198.5,1285.0 1198.8,1298.8 1199.1,1298.1 1199.4,1296.5 1199.6,1306.0 1199.9,1295.8 1200.2,1283.4 1200.5,1283.5 1200.8,1278.1 1201.0,1287.4 1201.3,1277.9 1201.6,1279.0 1201.9,1275.4 1202.2,1268.5 1202.5,1306.4 1202.7,1292.6 1203.0,1264.4 1203.3,1288.0 1203.6,1278.3 1203.9,1263.2 1204.2,1281.2 1204.4,1285.1 1204.7,1288.4 1205.0,1293.2 1205.3,1274.5 1205.6,1281.9 1205.9,1288.5 1206.1,1287.1 1206.4,1285.5 1206.7,1282.6 1207.0,1293.2 1207.3,1269.4 1207.5,1267.0 1207.8,1297.4 1208.1,1284.8 1208.4,1291.1 1208.7,1282.6 1209.0,1276.9 1209.2,1276.0 1209.5,1281.6 1209.8,1275.7 1210.1,1279.5 1210.4,1279.3 1210.7,1287.8 1210.9,1287.5 1211.2,1295.0 1211.5,1273.2 1211.8,1279.5 1212.1,1288.9 1212.4,1283.1 1212.6,1257.3 1212.9,1283.1 1213.2,1279.5 1213.5,1275.1 1213.8,1275.6 1214.0,1272.7 1214.3,1290.4 1214.6,1285.9 1214.9,1281.4 1215.2,1289.9 1215.5,1288.1 1215.7,1271.4 1216.0,1269.2 1216.3,1269.6 1216.6,1286.2 1216.9,1278.9 1217.2,1290.4 1217.4,1283.9 1217.7,1277.0 1218.0,1267.0 1218.3,1276.3 1218.6,1299.8 1218.9,1272.2 1219.1,1270.9 1219.4,1276.5 1219.7,1291.3 1220.0,1278.1 1220.3,1268.0 1220.5,1272.6 1220.8,1277.0 1221.1,1278.9 1221.4,1287.7 1221.7,1299.1 1222.0,1290.8 1222.2,1283.9 1222.5,1277.6 1222.8,1270.2 1223.1,1283.1 1223.4,1289.7 1223.7,1285.3 1223.9,1276.3 1224.2,1283.7 1224.5,1275.2 1224.8,1275.7 1225.1,1275.0 1225.4,1277.8 1225.6,1276.2 1225.9,1286.4 1226.2,1276.8 1226.5,1275.8 1226.8,1286.4 1227.0,1283.0 1227.3,1287.1 1227.6,1269.2 1227.9,1288.6 1228.2,1276.1 1228.5,1266.3 1228.7,1274.5 1229.0,1264.4 1229.3,1266.5 1229.6,1271.9 1229.9,1284.5 1230.2,1263.0 1230.4,1278.1 1230.7,1272.9 1231.0,1289.8 1231.3,1277.0 1231.6,1280.7 1231.9,1288.2 1232.1,1264.7 1232.4,1271.6 1232.7,1260.8 1233.0,1266.8 1233.3,1277.6 1233.5,1272.9 1233.8,1278.4 1234.1,1271.0 1234.4,1268.5 1234.7,1273.8 1235.0,1267.1 1235.2,1265.0 1235.5,1260.7 1235.8,1274.6 1236.1,1280.1 1236.4,1264.6 1236.7,1271.9 1236.9,1254.8 1237.2,1265.3 1237.5,1277.3 1237.8,1264.6 1238.1,1281.1 1238.4,1273.4 1238.6,1280.8 1238.9,1272.3 1239.2,1264.3 1239.5,1277.7 1239.8,1284.9 1240.0,1273.4 1240.3,1282.2 1240.6,1272.0 1240.9,1275.7 1241.2,1290.9 1241.5,1279.1 1241.7,1270.7 1242.0,1285.0 1242.3,1280.4 1242.6,1275.2 1242.9,1287.0 1243.2,1258.7 1243.4,1286.3 1243.7,1299.1 1244.0,1284.1 1244.3,1263.6 1244.6,1294.6 1244.9,1305.1 1245.1,1287.7 1245.4,1272.3 1245.7,1276.2 1246.0,1281.6 1246.3,1284.9 1246.5,1294.5 1246.8,1288.9 1247.1,1262.3 1247.4,1281.1 1247.7,1282.8 1248.0,1302.2 1248.2,1279.1 1248.5,1271.6 1248.8,1282.2 1249.1,1287.9 1249.4,1267.9 1249.7,1296.1 1249.9,1284.6 1250.2,1294.1 1250.5,1293.0 1250.8,1291.7 1251.1,1300.3 1251.4,1303.0 1251.6,1283.3 1251.9,1286.8 1252.2,1297.7 1252.5,1289.4 1252.8,1282.4 1253.0,1289.3 1253.3,1280.3 1253.6,1283.9 1253.9,1266.3 1254.2,1290.5 1254.5,1307.3 1254.7,1296.7 1255.0,1296.6 1255.3,1291.9 1255.6,1283.0 1255.9,1295.4 1256.2,1291.4 1256.4,1289.7 1256.7,1293.6 1257.0,1285.9 1257.3,1293.0 1257.6,1298.3 1257.9,1301.9 1258.1,1293.7 1258.4,1300.5 1258.7,1294.3 1259.0,1270.3 1259.3,1273.6 1259.5,1290.5 1259.8,1281.5 1260.1,1298.1 1260.4,1279.5 1260.7,1288.4 1261.0,1287.0 1261.2,1285.1 1261.5,1286.7 1261.8,1292.2 1262.1,1293.3 1262.4,1287.2 1262.7,1294.1 1262.9,1297.7 1263.2,1290.4 1263.5,1285.5 1263.8,1285.6 1264.1,1287.6 1264.4,1287.0 1264.6,1293.1 1264.9,1315.7 1265.2,1303.4 1265.5,1292.7 1265.8,1298.2 1266.0,1298.2 1266.3,1304.9 1266.6,1306.5 1266.9,1282.8 1267.2,1314.6 1267.5,1283.9 1267.7,1293.3 1268.0,1284.1 1268.3,1275.4 1268.6,1274.6 1268.9,1312.1 1269.2,1307.3 1269.4,1282.6 1269.7,1281.2 1270.0,1307.3 1270.3,1282.8 1270.6,1297.0 1270.9,1312.9 1271.1,1300.1 1271.4,1307.4 1271.7,1294.6 1272.0,1275.3 1272.3,1284.1 1272.5,1274.3 1272.8,1295.5 1273.1,1279.0 1273.4,1293.5 1273.7,1287.1 1274.0,1285.1 1274.2,1297.3 1274.5,1287.3 1274.8,1283.7 1275.1,1302.1 1275.4,1291.6 1275.7,1277.0 1275.9,1303.9 1276.2,1277.6 1276.5,1294.2 1276.8,1297.2 1277.1,1289.2 1277.4,1283.4 1277.6,1288.5 1277.9,1288.2 1278.2,1280.6 1278.5,1300.4 1278.8,1285.6 1279.0,1284.3 1279.3,1305.6 1279.6,1284.2 1279.9,1276.1 1280.2,1290.9 1280.5,1291.7 1280.7,1291.9 1281.0,1312.7 1281.3,1285.9 1281.6,1305.2 1281.9,1300.5 1282.2,1306.3 1282.4,1290.6 1282.7,1288.3 1283.0,1289.5 1283.3,1294.7 1283.6,1301.2 1283.9,1308.1 1284.1,1273.3 1284.4,1302.0 1284.7,1294.8 1285.0,1291.4 1285.3,1280.3 1285.5,1294.2 1285.8,1272.1 1286.1,1303.1 1286.4,1280.8 1286.7,1289.0 1287.0,1288.4 1287.2,1295.8 1287.5,1276.3 1287.8,1298.1 1288.1,1293.8 1288.4,1305.2 1288.7,1292.4 1288.9,1287.9 1289.2,1269.8 1289.5,1285.2 1289.8,1305.6 1290.1,1284.0 1290.4,1283.5 1290.6,1287.0 1290.9,1297.0 1291.2,1270.2 1291.5,1306.4 1291.8,1293.9 1292.0,1295.1 1292.3,1287.6 1292.6,1307.6 1292.9,1283.0 1293.2,1295.6 1293.5,1288.2 1293.7,1274.2 1294.0,1285.5 1294.3,1294.1 1294.6,1283.8 1294.9,1282.4 1295.2,1286.2 1295.4,1277.4 1295.7,1274.9 1296.0,1286.7 1296.3,1276.3 1296.6,1291.6 1296.9,1292.9 1297.1,1298.6 1297.4,1295.3 1297.7,1282.5 1298.0,1289.4 1298.3,1273.3 1298.5,1289.2 1298.8,1279.7 1299.1,1298.4 1299.4,1277.4 1299.7,1286.1 1300.0,1276.5 1300.2,1290.5 1300.5,1290.5 1300.8,1273.7 1301.1,1303.7 1301.4,1288.6 1301.7,1269.0 1301.9,1274.1 1302.2,1264.6 1302.5,1262.7 1302.8,1281.5 1303.1,1261.6 1303.4,1286.5 1303.6,1265.9 1303.9,1278.5 1304.2,1299.7 1304.5,1278.5 1304.8,1281.6 1305.0,1294.5 1305.3,1278.5 1305.6,1287.0 1305.9,1273.2 1306.2,1277.5 1306.5,1282.5 1306.7,1281.2 1307.0,1273.1 1307.3,1283.1 1307.6,1286.8 1307.9,1287.0 1308.2,1280.7 1308.4,1270.3 1308.7,1286.6 1309.0,1288.0 1309.3,1269.0 1309.6,1255.2 1309.8,1276.4 1310.1,1288.4 1310.4,1286.6 1310.7,1265.4 1311.0,1290.5 1311.3,1267.6 1311.5,1285.8 1311.8,1271.7 1312.1,1285.6 1312.4,1280.5 1312.7,1272.7 1313.0,1282.0 1313.2,1267.7 1313.5,1270.2 1313.8,1270.5 1314.1,1264.7 1314.4,1282.6 1314.7,1282.3 1314.9,1272.5 1315.2,1262.3 1315.5,1276.5 1315.8,1274.4 1316.1,1277.6 1316.3,1270.7 1316.6,1268.2 1316.9,1284.4 1317.2,1263.7 1317.5,1267.6 1317.8,1251.1 1318.0,1265.1 1318.3,1263.7 1318.6,1264.8 1318.9,1273.8 1319.2,1261.4 1319.5,1271.5 1319.7,1263.1 1320.0,1262.0 1320.3,1247.4 1320.6,1270.0 1320.9,1271.9 1321.2,1255.2 1321.4,1258.8 1321.7,1246.1 1322.0,1260.4 1322.3,1252.5 1322.6,1267.2 1322.8,1261.8 1323.1,1268.8 1323.4,1253.8 1323.7,1244.6 1324.0,1260.8 1324.3,1255.2 1324.5,1279.7 1324.8,1263.0 1325.1,1275.1 1325.4,1265.4 1325.7,1256.4 1326.0,1243.6 1326.2,1256.7 1326.5,1265.2 1326.8,1259.3 1327.1,1261.6 1327.4,1261.0 1327.7,1243.7 1327.9,1260.4 1328.2,1248.6 1328.5,1256.2 1328.8,1270.5 1329.1,1235.3 1329.3,1253.0 1329.6,1259.0 1329.9,1266.4 1330.2,1255.5 1330.5,1245.7 1330.8,1262.4 1331.0,1259.9 1331.3,1234.9 1331.6,1254.0 1331.9,1234.9 1332.2,1228.9 1332.5,1241.8 1332.7,1242.1 1333.0,1228.5 1333.3,1270.0 1333.6,1235.0 1333.9,1252.0 1334.2,1254.7 1334.4,1269.3 1334.7,1241.2 1335.0,1261.1 1335.3,1230.5 1335.6,1241.3 1335.8,1236.3 1336.1,1228.8 1336.4,1242.2 1336.7,1258.2 1337.0,1259.4 1337.3,1242.7 1337.5,1221.9 1337.8,1224.3 1338.1,1238.6 1338.4,1237.2 1338.7,1236.0 1339.0,1225.7 1339.2,1217.7 1339.5,1231.6 1339.8,1225.2 1340.1,1240.0 1340.4,1215.6 1340.7,1231.6 1340.9,1236.2 1341.2,1242.1 1341.5,1240.9 1341.8,1206.3 1342.1,1203.4 1342.3,1217.3 1342.6,1204.7 1342.9,1187.3 1343.2,1229.1 1343.5,1216.9 1343.8,1221.9 1344.0,1211.2 1344.3,1221.4 1344.6,1210.0 1344.9,1207.5 1345.2,1226.9 1345.5,1190.5 1345.7,1209.5 1346.0,1184.0 1346.3,1219.1 1346.6,1198.2 1346.9,1186.0 1347.2,1178.0 1347.4,1196.0 1347.7,1221.0 1348.0,1202.9 1348.3,1177.8 1348.6,1171.2 1348.8,1222.0 1349.1,1187.1 1349.4,1175.6 1349.7,1194.0 1350.0,1198.5 1350.3,1209.6 1350.5,1187.7 1350.8,1180.8 1351.1,1196.6 1351.4,1178.1 1351.7,1191.3 1352.0,1188.3 1352.2,1197.1 1352.5,1176.3 1352.8,1175.8 1353.1,1186.6 1353.4,1187.9 1353.7,1164.1 1353.9,1171.2 1354.2,1182.1 1354.5,1174.8 1354.8,1205.7 1355.1,1186.3 1355.3,1191.9 1355.6,1175.3 1355.9,1176.4 1356.2,1176.1 1356.5,1186.6 1356.8,1169.2 1357.0,1191.2 1357.3,1162.9 1357.6,1182.8 1357.9,1172.9 1358.2,1164.2 1358.5,1186.3 1358.7,1177.8 1359.0,1162.8 1359.3,1154.6 1359.6,1172.5 1359.9,1151.8 1360.2,1166.7 1360.4,1148.2 1360.7,1159.1 1361.0,1146.3 1361.3,1153.1 1361.6,1173.9 1361.8,1173.8 1362.1,1146.1 1362.4,1147.4 1362.7,1129.4 1363.0,1151.8 1363.3,1160.5 1363.5,1135.7 1363.8,1133.8 1364.1,1147.7 1364.4,1135.5 1364.7,1143.4 1365.0,1158.4 1365.2,1144.3 1365.5,1145.6 1365.8,1158.9 1366.1,1138.1 1366.4,1142.3 1366.7,1133.6 1366.9,1122.6 1367.2,1149.6 1367.5,1112.7 1367.8,1129.1 1368.1,1113.1 1368.3,1115.9 1368.6,1109.1 1368.9,1120.2 1369.2,1127.7 1369.5,1136.4 1369.8,1097.3 1370.0,1121.4 1370.3,1114.0 1370.6,1111.3 1370.9,1117.4 1371.2,1121.1 1371.5,1117.5 1371.7,1118.8 1372.0,1144.8 1372.3,1120.0 1372.6,1122.8 1372.9,1105.2 1373.2,1131.8 1373.4,1112.6 1373.7,1117.7 1374.0,1109.6 1374.3,1117.7 1374.6,1107.8 1374.8,1103.5 1375.1,1102.2 1375.4,1114.3 1375.7,1119.0 1376.0,1127.4 1376.3,1138.5 1376.5,1140.9 1376.8,1111.3 1377.1,1110.5 1377.4,1127.9 1377.7,1108.5 1378.0,1132.3 1378.2,1131.4 1378.5,1107.7 1378.8,1128.0 1379.1,1136.2 1379.4,1124.6 1379.7,1115.8 1379.9,1117.3 1380.2,1124.9 1380.5,1110.6 1380.8,1123.4 1381.1,1116.6 1381.3,1110.6 1381.6,1107.8 1381.9,1126.0 1382.2,1108.7 1382.5,1122.3 1382.8,1098.8 1383.0,1119.4 1383.3,1124.1 1383.6,1128.0 1383.9,1136.0 1384.2,1132.0 1384.5,1133.5 1384.7,1124.7 1385.0,1116.6 1385.3,1116.1 1385.6,1121.9 1385.9,1134.9 1386.2,1145.0 1386.4,1138.2 1386.7,1137.5 1387.0,1145.1 1387.3,1133.2 1387.6,1140.2 1387.8,1137.8 1388.1,1142.7 1388.4,1138.6 1388.7,1126.7 1389.0,1138.7 1389.3,1134.5 1389.5,1166.0 1389.8,1163.4 1390.1,1139.8 1390.4,1138.0 1390.7,1149.5 1391.0,1132.2 1391.2,1166.3 1391.5,1151.6 1391.8,1147.6 1392.1,1166.9 1392.4,1170.8 1392.7,1158.1 1392.9,1169.5 1393.2,1138.1 1393.5,1150.1 1393.8,1150.0 1394.1,1141.6 1394.3,1172.8 1394.6,1191.3 1394.9,1148.3 1395.2,1158.6 1395.5,1179.6 1395.8,1164.1 1396.0,1168.7 1396.3,1160.1 1396.6,1175.1 1396.9,1160.2 1397.2,1182.5 1397.5,1180.8 1397.7,1180.1 1398.0,1167.2 1398.3,1175.1 1398.6,1184.6 1398.9,1169.0 1399.2,1169.1 1399.4,1154.3 1399.7,1176.7 1400.0,1182.6 1400.3,1197.3 1400.6,1171.8 1400.8,1169.9 1401.1,1203.9 1401.4,1203.6 1401.7,1177.1 1402.0,1186.2 1402.3,1170.8 1402.5,1193.7 1402.8,1211.8 1403.1,1206.7 1403.4,1184.8 1403.7,1202.6 1404.0,1191.3 1404.2,1205.3 1404.5,1195.7 1404.8,1211.5 1405.1,1220.6 1405.4,1210.0 1405.7,1211.6 1405.9,1213.1 1406.2,1220.3 1406.5,1205.3 1406.8,1209.5 1407.1,1210.9 1407.3,1230.3 1407.6,1216.9 1407.9,1223.0 1408.2,1212.4 1408.5,1201.0 1408.8,1215.2 1409.0,1226.0 1409.3,1217.2 1409.6,1215.0 1409.9,1218.4 1410.2,1230.6 1410.5,1230.5 1410.7,1226.1 1411.0,1215.4 1411.3,1219.7 1411.6,1258.2 1411.9,1228.1 1412.2,1238.9 1412.4,1236.0 1412.7,1216.0 1413.0,1250.8 1413.3,1236.3 1413.6,1225.1 1413.8,1246.8 1414.1,1231.2 1414.4,1243.3 1414.7,1223.8 1415.0,1239.1 1415.3,1250.6 1415.5,1237.3 1415.8,1226.8 1416.1,1235.2 1416.4,1254.7 1416.7,1227.6 1417.0,1231.1 1417.2,1258.9 1417.5,1251.8 1417.8,1250.8 1418.1,1246.8 1418.4,1258.2 1418.7,1264.6 1418.9,1260.9 1419.2,1234.9 1419.5,1265.2 1419.8,1237.9 1420.1,1279.9 1420.3,1254.0 1420.6,1267.5 1420.9,1264.7 1421.2,1253.5 1421.5,1276.6 1421.8,1265.3 1422.0,1289.1 1422.3,1272.0 1422.6,1268.7 1422.9,1293.5 1423.2,1282.9 1423.5,1266.9 1423.7,1257.7 1424.0,1291.3 1424.3,1283.5 1424.6,1284.1 1424.9,1266.1 1425.2,1263.3 1425.4,1260.6 1425.7,1285.7 1426.0,1270.7 1426.3,1281.1 1426.6,1247.7 1426.8,1286.7 1427.1,1266.4 1427.4,1247.3 1427.7,1260.8 1428.0,1281.6 1428.3,1295.4 1428.5,1249.9 1428.8,1262.0 1429.1,1280.5 1429.4,1260.9 1429.7,1274.9 1430.0,1268.3 1430.2,1282.3 1430.5,1264.0 1430.8,1278.2 1431.1,1272.8 1431.4,1285.0 1431.7,1283.3 1431.9,1296.8 1432.2,1287.8 1432.5,1306.3 1432.8,1266.2 1433.1,1282.5 1433.3,1295.1 1433.6,1287.2 1433.9,1258.6 1434.2,1290.2 1434.5,1280.6 1434.8,1314.6 1435.0,1285.6 1435.3,1295.2 1435.6,1275.8 1435.9,1295.7 1436.2,1260.0 1436.5,1275.5 1436.7,1283.3 1437.0,1268.8 1437.3,1300.1 1437.6,1288.6 1437.9,1308.6 1438.2,1271.7 1438.4,1279.0 1438.7,1297.1 1439.0,1283.2 1439.3,1299.6 1439.6,1297.5 1439.8,1280.8 1440.1,1291.6 1440.4,1296.8 1440.7,1293.4 1441.0,1288.1 1441.3,1284.9 1441.5,1288.3 1441.8,1303.1 1442.1,1316.3 1442.4,1274.4 1442.7,1279.5 1443.0,1289.9 1443.2,1309.7 1443.5,1281.9 1443.8,1320.0 1444.1,1320.2 1444.4,1264.9 1444.7,1301.0 1444.9,1299.9 1445.2,1287.3 1445.5,1269.8 1445.8,1295.5 1446.1,1287.2 1446.3,1306.2 1446.6,1298.6 1446.9,1280.2 1447.2,1315.2 1447.5,1313.6 1447.8,1309.4 1448.0,1291.8 1448.3,1302.3 1448.6,1292.1 1448.9,1284.1 1449.2,1267.8 1449.5,1293.8 1449.7,1266.2 1450.0,1298.7 1450.3,1273.3 1450.6,1292.4 1450.9,1286.1 1451.1,1275.5 1451.4,1276.7 1451.7,1282.0 1452.0,1307.1 1452.3,1293.3 1452.6,1285.2 1452.8,1298.4 1453.1,1273.9 1453.4,1269.4 1453.7,1276.8 1454.0,1300.1 1454.3,1283.7 1454.5,1288.4 1454.8,1288.2 1455.1,1281.4 1455.4,1301.5 1455.7,1294.9 1456.0,1275.5 1456.2,1273.2 1456.5,1285.0 1456.8,1274.1 1457.1,1284.8 1457.4,1293.5 1457.6,1284.8 1457.9,1286.0 1458.2,1277.2 1458.5,1273.0 1458.8,1269.9 1459.1,1297.9 1459.3,1272.3 1459.6,1282.3 1459.9,1282.2 1460.2,1285.9 1460.5,1276.0 1460.8,1260.0 1461.0,1304.9 1461.3,1265.8 1461.6,1285.9 1461.9,1264.9 1462.2,1285.9 1462.5,1264.3 1462.7,1297.8 1463.0,1282.3 1463.3,1256.7 1463.6,1296.5 1463.9,1252.2 1464.1,1270.9 1464.4,1288.3 1464.7,1269.4 1465.0,1289.6 1465.3,1273.9 1465.6,1265.7 1465.8,1288.0 1466.1,1272.8 1466.4,1266.0 1466.7,1283.1 1467.0,1267.9 1467.3,1253.7 1467.5,1261.2 1467.8,1297.7 1468.1,1297.3 1468.4,1249.8 1468.7,1278.5 1469.0,1283.5 1469.2,1264.4 1469.5,1275.8 1469.8,1254.4 1470.1,1262.5 1470.4,1279.2 1470.6,1265.0 1470.9,1263.4 1471.2,1261.9 1471.5,1247.9 1471.8,1251.6 1472.1,1257.1 1472.3,1261.7 1472.6,1252.1 1472.9,1285.9 1473.2,1240.3 1473.5,1248.3 1473.8,1253.3 1474.0,1267.4 1474.3,1242.6 1474.6,1263.3 1474.9,1249.2 1475.2,1249.5 1475.5,1264.3 1475.7,1268.8 1476.0,1271.0 1476.3,1243.2 1476.6,1270.2 1476.9,1270.1 1477.1,1260.8 1477.4,1262.0 1477.7,1256.5 1478.0,1253.8 1478.3,1266.0 1478.6,1275.7 1478.8,1251.5 1479.1,1258.7 1479.4,1265.5 1479.7,1236.3 1480.0,1273.5 1480.3,1257.4 1480.5,1270.5 1480.8,1248.6 1481.1,1240.9 1481.4,1249.6 1481.7,1254.9 1482.0,1239.6 1482.2,1262.5 1482.5,1254.5 1482.8,1237.9 1483.1,1257.0 1483.4,1249.3 1483.6,1251.6 1483.9,1246.2 1484.2,1242.2 1484.5,1236.0 1484.8,1252.6 1485.1,1251.7 1485.3,1257.1 1485.6,1242.3 1485.9,1256.5 1486.2,1261.5 1486.5,1236.6 1486.8,1253.5 1487.0,1278.2 1487.3,1244.6 1487.6,1246.9 1487.9,1250.2 1488.2,1244.2 1488.5,1261.3 1488.7,1249.5 1489.0,1249.2 1489.3,1240.8 1489.6,1257.1 1489.9,1249.2 1490.1,1245.3 1490.4,1246.4 1490.7,1269.9 1491.0,1250.2 1491.3,1253.5 1491.6,1266.8 1491.8,1248.9 1492.1,1261.9 1492.4,1237.3 1492.7,1257.7 1493.0,1223.2 1493.3,1251.0 1493.5,1243.6 1493.8,1239.9 1494.1,1261.8 1494.4,1257.3 1494.7,1258.6 1495.0,1266.3 1495.2,1254.1 1495.5,1254.5 1495.8,1246.4 1496.1,1270.1 1496.4,1257.7 1496.6,1236.9 1496.9,1235.7 1497.2,1237.0 1497.5,1236.8 1497.8,1261.4 1498.1,1249.0 1498.3,1258.1 1498.6,1235.7 1498.9,1235.3 1499.2,1259.3 1499.5,1219.9 1499.8,1229.5 1500.0,1218.2 1500.3,1235.4 1500.6,1270.7 1500.9,1233.8 1501.2,1255.5 1501.5,1262.4 1501.7,1234.4 1502.0,1233.6 1502.3,1246.0 1502.6,1249.8 1502.9,1222.7 1503.1,1231.6 1503.4,1260.9 1503.7,1231.2 1504.0,1245.2 1504.3,1252.8 1504.6,1236.3 1504.8,1237.9 1505.1,1233.2 1505.4,1231.7 1505.7,1232.1 1506.0,1219.7 1506.3,1232.9 1506.5,1236.0 1506.8,1246.9 1507.1,1233.2 1507.4,1230.2 1507.7,1260.1 1508.0,1237.4 1508.2,1234.6 1508.5,1230.9 1508.8,1236.8 1509.1,1226.5 1509.4,1230.4 1509.6,1226.2 1509.9,1221.7 1510.2,1230.5 1510.5,1219.4 1510.8,1255.5 1511.1,1221.5 1511.3,1255.4 1511.6,1238.3 1511.9,1244.7 1512.2,1251.2 1512.5,1214.7 1512.8,1252.9 1513.0,1239.3 1513.3,1227.7 1513.6,1224.4 1513.9,1237.1 1514.2,1214.1 1514.5,1253.5 1514.7,1230.5 1515.0,1241.4 1515.3,1233.5 1515.6,1227.0 1515.9,1227.3 1516.1,1221.3 1516.4,1245.9 1516.7,1230.8 1517.0,1236.7 1517.3,1235.9 1517.6,1238.0 1517.8,1235.0 1518.1,1244.4 1518.4,1221.7 1518.7,1217.2 1519.0,1227.2 1519.3,1224.4 1519.5,1228.7 1519.8,1241.5 1520.1,1238.8 1520.4,1233.8 1520.7,1217.6 1521.0,1232.5 1521.2,1228.4 1521.5,1234.8 1521.8,1225.5 1522.1,1220.6 1522.4,1226.5 1522.6,1216.1 1522.9,1213.9 1523.2,1226.8 1523.5,1223.8 1523.8,1235.3 1524.1,1224.9 1524.3,1208.8 1524.6,1238.8 1524.9,1241.5 1525.2,1209.2 1525.5,1215.6 1525.8,1234.9 1526.0,1225.9 1526.3,1206.5 1526.6,1238.1 1526.9,1226.0 1527.2,1229.3 1527.5,1239.8 1527.7,1218.3 1528.0,1217.9 1528.3,1235.0 1528.6,1238.7 1528.9,1229.3 1529.1,1242.3 1529.4,1234.0 1529.7,1242.4 1530.0,1219.9 1530.3,1227.7 1530.6,1243.4 1530.8,1220.8 1531.1,1221.9 1531.4,1233.6 1531.7,1229.0 1532.0,1221.4 1532.3,1213.4 1532.5,1250.1 1532.8,1234.8 1533.1,1251.8 1533.4,1224.3 1533.7,1236.2 1534.0,1233.6 1534.2,1236.9 1534.5,1216.7 1534.8,1251.0 1535.1,1232.8 1535.4,1239.0 1535.6,1224.5 1535.9,1255.5 1536.2,1218.3 1536.5,1260.2 1536.8,1232.3 1537.1,1233.1 1537.3,1229.2 1537.6,1254.9 1537.9,1227.4 1538.2,1227.3 1538.5,1226.6 1538.8,1244.4 1539.0,1245.2 1539.3,1229.9 1539.6,1245.3 1539.9,1258.1 1540.2,1247.9 1540.5,1244.3 1540.7,1227.1 1541.0,1259.1 1541.3,1248.5 1541.6,1222.6 1541.9,1231.2 1542.1,1212.0 1542.4,1247.1 1542.7,1225.5 1543.0,1237.8 1543.3,1258.4 1543.6,1223.6 1543.8,1252.2 1544.1,1237.8 1544.4,1228.2 1544.7,1258.0 1545.0,1247.2 1545.3,1233.6 1545.5,1249.0 1545.8,1235.2 1546.1,1232.0 1546.4,1238.3 1546.7,1255.6 1547.0,1223.3 1547.2,1227.1 1547.5,1254.8 1547.8,1226.3 1548.1,1241.5 1548.4,1240.4 1548.6,1228.1 1548.9,1235.2 1549.2,1243.2 1549.5,1243.9 1549.8,1253.1 1550.1,1248.1 1550.3,1257.1 1550.6,1248.4 1550.9,1240.5 1551.2,1254.2 1551.5,1252.0 1551.8,1257.5 1552.0,1244.9 1552.3,1245.3 1552.6,1245.7 1552.9,1228.6 1553.2,1253.4 1553.5,1239.4 1553.7,1238.4 1554.0,1243.6 1554.3,1274.9 1554.6,1238.6 1554.9,1267.9 1555.1,1222.4 1555.4,1245.7 1555.7,1273.9 1556.0,1252.0 1556.3,1254.8 1556.6,1243.0 1556.8,1225.5 1557.1,1257.1 1557.4,1262.6 1557.7,1264.4 1558.0,1275.3 1558.3,1250.0 1558.5,1257.7 1558.8,1223.9 1559.1,1246.7 1559.4,1252.9 1559.7,1267.2 1560.0,1274.6 1560.2,1271.6 1560.5,1257.0 1560.8,1249.4 1561.1,1250.2 1561.4,1250.6 1561.6,1253.0 1561.9,1266.2 1562.2,1248.7 1562.5,1230.0 1562.8,1236.0 1563.1,1280.7 1563.3,1268.3 1563.6,1244.9 1563.9,1247.8 1564.2,1260.4 1564.5,1255.0 1564.8,1255.3 1565.0,1226.1 1565.3,1233.6 1565.6,1253.1 1565.9,1260.1 1566.2,1255.3 1566.5,1271.3 1566.7,1251.9 1567.0,1254.5 1567.3,1252.1 1567.6,1263.7 1567.9,1243.5 1568.1,1277.3 1568.4,1237.7 1568.7,1261.3 1569.0,1260.5 1569.3,1271.5 1569.6,1237.3 1569.8,1240.4 1570.1,1248.7 1570.4,1261.8 1570.7,1263.9 1571.0,1223.8 1571.3,1249.6 1571.5,1257.1 1571.8,1258.7 1572.1,1259.2 1572.4,1253.1 1572.7,1256.6 1573.0,1231.6 1573.2,1267.0 1573.5,1226.9 1573.8,1254.1 1574.1,1245.0 1574.4,1261.2 1574.6,1244.7 1574.9,1268.8 1575.2,1262.3 1575.5,1266.1 1575.8,1272.3 1576.1,1273.5 1576.3,1256.7 1576.6,1269.9 1576.9,1266.0 1577.2,1270.0 1577.5,1262.5 1577.8,1231.7 1578.0,1257.9 1578.3,1261.2 1578.6,1255.3 1578.9,1252.9 1579.2,1264.3 1579.5,1253.8 1579.7,1271.4 1580.0,1279.5 1580.3,1263.8 1580.6,1275.0 1580.9,1249.1 1581.1,1251.8 1581.4,1260.7 1581.7,1252.3 1582.0,1265.4 1582.3,1265.8 1582.6,1285.4 1582.8,1258.0 1583.1,1281.2 1583.4,1251.6 1583.7,1261.8 1584.0,1275.6 1584.3,1269.1 1584.5,1235.1 1584.8,1264.2 1585.1,1270.9 1585.4,1245.1 1585.7,1258.9 1586.0,1260.8 1586.2,1270.0 1586.5,1281.4 1586.8,1247.0 1587.1,1253.0 1587.4,1285.4 1587.6,1280.4 1587.9,1287.3 1588.2,1264.5 1588.5,1278.3 1588.8,1234.5 1589.1,1270.8 1589.3,1252.2 1589.6,1246.3 1589.9,1250.5 1590.2,1278.0 1590.5,1284.5 1590.8,1258.3 1591.0,1260.1 1591.3,1280.4 1591.6,1255.8 1591.9,1268.1 1592.2,1273.0 1592.4,1280.6 1592.7,1261.1 1593.0,1234.2 1593.3,1261.9 1593.6,1273.5 1593.9,1257.9 1594.1,1256.3 1594.4,1251.1 1594.7,1269.2 1595.0,1265.4 1595.3,1266.7 1595.6,1262.9 1595.8,1279.5 1596.1,1266.8 1596.4,1261.3 1596.7,1247.3 1597.0,1256.4 1597.3,1261.6 1597.5,1280.9 1597.8,1267.6 1598.1,1256.6 1598.4,1270.8 1598.7,1269.0 1598.9,1254.5 1599.2,1266.3 1599.5,1245.6 1599.8,1261.2 1600.1,1286.3 1600.4,1272.3 1600.6,1267.5 1600.9,1270.6 1601.2,1268.2 1601.5,1243.2 1601.8,1252.4 1602.1,1249.2 1602.3,1264.2 1602.6,1269.9 1602.9,1284.5 1603.2,1255.5 1603.5,1242.3 1603.8,1260.9 1604.0,1256.4 1604.3,1260.1 1604.6,1256.7 1604.9,1262.9 1605.2,1248.3 1605.4,1259.5 1605.7,1268.0 1606.0,1257.1 1606.3,1261.5 1606.6,1245.5 1606.9,1264.8 1607.1,1251.7 1607.4,1243.9 1607.7,1249.3 1608.0,1246.7 1608.3,1249.1 1608.6,1243.6 1608.8,1272.8 1609.1,1261.9 1609.4,1255.8 1609.7,1255.2 1610.0,1247.5 1610.3,1259.0 1610.5,1244.8 1610.8,1246.4 1611.1,1236.8 1611.4,1262.4 1611.7,1261.5 1611.9,1260.0 1612.2,1259.8 1612.5,1213.9 1612.8,1245.6 1613.1,1257.3 1613.4,1250.0 1613.6,1222.4 1613.9,1246.5 1614.2,1251.0 1614.5,1234.5 1614.8,1226.1 1615.1,1232.8 1615.3,1209.7 1615.6,1243.1 1615.9,1228.1 1616.2,1234.6 1616.5,1236.0 1616.8,1236.6 1617.0,1258.0 1617.3,1225.9 1617.6,1233.6 1617.9,1208.4 1618.2,1227.1 1618.4,1210.3 1618.7,1245.3 1619.0,1234.7 1619.3,1226.6 1619.6,1245.9 1619.9,1220.6 1620.1,1231.4 1620.4,1222.7 1620.7,1221.0 1621.0,1229.9 1621.3,1224.7 1621.6,1230.5 1621.8,1217.6 1622.1,1211.3 1622.4,1249.5 1622.7,1236.3 1623.0,1226.3 1623.3,1233.7 1623.5,1217.4 1623.8,1235.3 1624.1,1210.9 1624.4,1235.9 1624.7,1234.4 1624.9,1228.5 1625.2,1238.5 1625.5,1227.8 1625.8,1250.7 1626.1,1236.6 1626.4,1208.0 1626.6,1214.7 1626.9,1249.2 1627.2,1220.1 1627.5,1231.6 1627.8,1219.6 1628.1,1246.3 1628.3,1240.6 1628.6,1236.6 1628.9,1220.5 1629.2,1221.6 1629.5,1243.4 1629.8,1217.9 1630.0,1197.0 1630.3,1244.9 1630.6,1237.1 1630.9,1207.1 1631.2,1227.5 1631.4,1231.4 1631.7,1226.1 1632.0,1244.6 1632.3,1239.0 1632.6,1212.4 1632.9,1220.4 1633.1,1234.0 1633.4,1234.0 1633.7,1217.1 1634.0,1235.9 1634.3,1210.3 1634.6,1231.4 1634.8,1197.6 1635.1,1226.3 1635.4,1246.4 1635.7,1239.1 1636.0,1208.7 1636.3,1188.5 1636.5,1222.3 1636.8,1232.2 1637.1,1219.5 1637.4,1220.9 1637.7,1199.6 1637.9,1210.1 1638.2,1200.2 1638.5,1199.6 1638.8,1208.9 1639.1,1234.1 1639.4,1220.1 1639.6,1204.9 1639.9,1212.6 1640.2,1202.1 1640.5,1206.5 1640.8,1216.1 1641.1,1194.0 1641.3,1217.0 1641.6,1204.9 1641.9,1227.0 1642.2,1200.6 1642.5,1215.3 1642.8,1201.3 1643.0,1218.9 1643.3,1189.4 1643.6,1205.0 1643.9,1200.5 1644.2,1191.0 1644.4,1206.6 1644.7,1208.7 1645.0,1203.3 1645.3,1197.7 1645.6,1201.8 1645.9,1201.2 1646.1,1223.7 1646.4,1216.9 1646.7,1226.9 1647.0,1222.0 1647.3,1232.9 1647.6,1210.7 1647.8,1213.7 1648.1,1211.2 1648.4,1205.2 1648.7,1218.2 1649.0,1214.7 1649.3,1215.9 1649.5,1213.0 1649.8,1222.6 1650.1,1192.1 1650.4,1216.5 1650.7,1208.8 1650.9,1201.3 1651.2,1204.9 1651.5,1215.0 1651.8,1218.8 1652.1,1205.8 1652.4,1217.2 1652.6,1212.9 1652.9,1221.3 1653.2,1221.5 1653.5,1218.7 1653.8,1205.3 1654.1,1196.3 1654.3,1227.2 1654.6,1200.6 1654.9,1221.0 1655.2,1212.1 1655.5,1231.6 1655.8,1210.5 1656.0,1208.4 1656.3,1187.3 1656.6,1220.3 1656.9,1212.9 1657.2,1206.0 1657.4,1208.9 1657.7,1229.6 1658.0,1219.2 1658.3,1225.0 1658.6,1212.1 1658.9,1219.2 1659.1,1227.3 1659.4,1212.7 1659.7,1232.2 1660.0,1213.8 1660.3,1240.7 1660.6,1210.7 1660.8,1212.4 1661.1,1219.8 1661.4,1214.4 1661.7,1217.7 1662.0,1218.9 1662.3,1234.5 1662.5,1214.0 1662.8,1234.5 1663.1,1231.2 1663.4,1222.6 1663.7,1218.7 1663.9,1244.7 1664.2,1191.1 1664.5,1216.4 1664.8,1220.9 1665.1,1229.3 1665.4,1223.7 1665.6,1234.8 1665.9,1230.7 1666.2,1237.6 1666.5,1217.3 1666.8,1230.8 1667.1,1245.7 1667.3,1217.8 1667.6,1228.5 1667.9,1209.2 1668.2,1231.7 1668.5,1217.5 1668.8,1235.0 1669.0,1213.6 1669.3,1228.5 1669.6,1215.7 1669.9,1228.2 1670.2,1234.0 1670.4,1256.6 1670.7,1234.8 1671.0,1235.8 1671.3,1252.9 1671.6,1243.8 1671.9,1218.0 1672.1,1237.8 1672.4,1233.1 1672.7,1242.0 1673.0,1238.7 1673.3,1210.8 1673.6,1225.9 1673.8,1255.3 1674.1,1243.9 1674.4,1222.9 1674.7,1227.8 1675.0,1230.7 1675.3,1217.7 1675.5,1205.2 1675.8,1241.0 1676.1,1221.7 1676.4,1226.3 1676.7,1225.6 1676.9,1230.2 1677.2,1229.7 1677.5,1254.7 1677.8,1231.7 1678.1,1243.3 1678.4,1235.7 1678.6,1252.3 1678.9,1237.9 1679.2,1211.6 1679.5,1259.6 1679.8,1258.0 1680.1,1245.8 1680.3,1217.6 1680.6,1254.3 1680.9,1242.3 1681.2,1227.8 1681.5,1231.3 1681.8,1253.1 1682.0,1230.7 1682.3,1236.8 1682.6,1229.6 1682.9,1245.8 1683.2,1228.3 1683.4,1246.9 1683.7,1236.1 1684.0,1265.9 1684.3,1234.6 1684.6,1241.8 1684.9,1253.0 1685.1,1252.0 1685.4,1222.2 1685.7,1243.9 1686.0,1247.0 1686.3,1250.7 1686.6,1240.3 1686.8,1261.4 1687.1,1260.3 1687.4,1238.6 1687.7,1230.0 1688.0,1242.9 1688.3,1251.3 1688.5,1258.1 1688.8,1230.2 1689.1,1236.8 1689.4,1220.7 1689.7,1233.3 1689.9,1259.7 1690.2,1272.4 1690.5,1255.7 1690.8,1245.0 1691.1,1243.7 1691.4,1271.7 1691.6,1262.7 1691.9,1250.5 1692.2,1241.4 1692.5,1238.7 1692.8,1248.4 1693.1,1271.2 1693.3,1245.9 1693.6,1244.6 1693.9,1252.5 1694.2,1246.0 1694.5,1261.2 1694.8,1236.8 1695.0,1250.7 1695.3,1241.0 1695.6,1260.3 1695.9,1251.8 1696.2,1240.5 1696.4,1243.2 1696.7,1249.3 1697.0,1268.1 1697.3,1256.9 1697.6,1253.8 1697.9,1237.8 1698.1,1231.3 1698.4,1230.9 1698.7,1242.7 1699.0,1255.3 1699.3,1251.1 1699.6,1264.8 1699.8,1237.2 1700.1,1248.3 1700.4,1247.7 1700.7,1238.4 1701.0,1223.5 1701.3,1240.3 1701.5,1261.7 1701.8,1228.4 1702.1,1260.6 1702.4,1260.8 1702.7,1247.8 1702.9,1253.1 1703.2,1247.8 1703.5,1249.5 1703.8,1267.2 1704.1,1263.4 1704.4,1261.4 1704.6,1252.2 1704.9,1247.4 1705.2,1251.9 1705.5,1232.7 1705.8,1237.6 1706.1,1249.3 1706.3,1226.0 1706.6,1248.0 1706.9,1246.2 1707.2,1245.4 1707.5,1245.8 1707.8,1239.1 1708.0,1272.9 1708.3,1223.1 1708.6,1237.7 1708.9,1224.5 1709.2,1250.5 1709.4,1257.4 1709.7,1268.2 1710.0,1236.8 1710.3,1253.9 1710.6,1234.4 1710.9,1244.5 1711.1,1253.3 1711.4,1226.8 1711.7,1242.8 1712.0,1237.0 1712.3,1249.6 1712.6,1255.2 1712.8,1227.2 1713.1,1244.2 1713.4,1228.7 1713.7,1218.9 1714.0,1232.5 1714.3,1238.2 1714.5,1231.6 1714.8,1233.0 1715.1,1263.0 1715.4,1248.6 1715.7,1260.9 1715.9,1265.5 1716.2,1250.2 1716.5,1277.8 1716.8,1254.3 1717.1,1250.8 1717.4,1239.3 1717.6,1245.3 1717.9,1254.4 1718.2,1251.2 1718.5,1253.3 1718.8,1254.8 1719.1,1233.9 1719.3,1241.1 1719.6,1246.1 1719.9,1244.6 1720.2,1234.8 1720.5,1250.5 1720.8,1240.9 1721.0,1264.2 1721.3,1242.1 1721.6,1255.2 1721.9,1227.8 1722.2,1250.6 1722.4,1265.1 1722.7,1253.6 1723.0,1261.3 1723.3,1256.0 1723.6,1249.9 1723.9,1260.0 1724.1,1259.1 1724.4,1259.1 1724.7,1247.2 1725.0,1248.6 1725.3,1227.6 1725.6,1256.2 1725.8,1242.1 1726.1,1246.0 1726.4,1265.7 1726.7,1258.1 1727.0,1260.8 1727.3,1247.2 1727.5,1262.3 1727.8,1256.9 1728.1,1259.2 1728.4,1255.7 1728.7,1277.6 1728.9,1243.7 1729.2,1260.7 1729.5,1261.5 1729.8,1269.8 1730.1,1264.9 1730.4,1252.9 1730.6,1261.0 1730.9,1278.1 1731.2,1272.8 1731.5,1255.0 1731.8,1262.4 1732.1,1258.8 1732.3,1277.0 1732.6,1255.7 1732.9,1277.3 1733.2,1281.7 1733.5,1260.1 1733.7,1289.6 1734.0,1259.3 1734.3,1260.0 1734.6,1271.9 1734.9,1256.6 1735.2,1264.4 1735.4,1248.9 1735.7,1258.6 1736.0,1264.8 1736.3,1247.4 1736.6,1273.0 1736.9,1273.6 1737.1,1263.3 1737.4,1273.0 1737.7,1273.2 1738.0,1255.5 1738.3,1272.2 1738.6,1268.3 1738.8,1257.6 1739.1,1270.5 1739.4,1252.8 1739.7,1237.9 1740.0,1271.6 1740.2,1269.2 1740.5,1288.7 1740.8,1262.7 1741.1,1277.6 1741.4,1256.1 1741.7,1253.1 1741.9,1263.3 1742.2,1270.0 1742.5,1267.1 1742.8,1281.4 1743.1,1282.4 1743.4,1252.5 1743.6,1262.0 1743.9,1290.8 1744.2,1285.5 1744.5,1254.7 1744.8,1260.0 1745.1,1294.0 1745.3,1258.0 1745.6,1285.3 1745.9,1245.5 1746.2,1267.7 1746.5,1257.8 1746.7,1274.8 1747.0,1286.5 1747.3,1276.6 1747.6,1283.6 1747.9,1285.7 1748.2,1291.8 1748.4,1275.4 1748.7,1247.4 1749.0,1252.0 1749.3,1282.6 1749.6,1279.2 1749.9,1285.0 1750.1,1267.5 1750.4,1265.5 1750.7,1248.3 1751.0,1257.3 1751.3,1269.2 1751.6,1262.5 1751.8,1250.6 1752.1,1288.8 1752.4,1271.1 1752.7,1274.1 1753.0,1272.2 1753.2,1270.6 1753.5,1257.9 1753.8,1281.7 1754.1,1264.1 1754.4,1258.6 1754.7,1286.7 1754.9,1272.7 1755.2,1279.0 1755.5,1248.1 1755.8,1293.4 1756.1,1261.5 1756.4,1257.8 1756.6,1267.0 1756.9,1260.1 1757.2,1261.2 1757.5,1278.3 1757.8,1290.4 1758.1,1269.6 1758.3,1272.8 1758.6,1273.7 1758.9,1275.3 1759.2,1257.5 1759.5,1294.0 1759.7,1255.5 1760.0,1265.3 1760.3,1298.9 1760.6,1272.1 1760.9,1261.2 1761.2,1275.2 1761.4,1302.2 1761.7,1275.0 1762.0,1260.4 1762.3,1277.2 1762.6,1278.3 1762.9,1264.2 1763.1,1277.7 1763.4,1246.9 1763.7,1280.6 1764.0,1277.7 1764.3,1276.2 1764.6,1267.1 1764.8,1292.1 1765.1,1283.7 1765.4,1292.2 1765.7,1267.9 1766.0,1285.0 1766.2,1297.1 1766.5,1293.3 1766.8,1264.1 1767.1,1275.2 1767.4,1267.6 1767.7,1272.1 1767.9,1275.6 1768.2,1297.6 1768.5,1294.6 1768.8,1274.1 1769.1,1286.8 1769.4,1268.4 1769.6,1260.3 1769.9,1252.4 1770.2,1265.3 1770.5,1300.7 1770.8,1278.4 1771.1,1282.7 1771.3,1289.1 1771.6,1251.7 1771.9,1273.1 1772.2,1276.4 1772.5,1291.9 1772.7,1281.3 1773.0,1255.3 1773.3,1254.8 1773.6,1280.0 1773.9,1278.8 1774.2,1258.8 1774.4,1259.0 1774.7,1277.3 1775.0,1260.0 1775.3,1280.7 1775.6,1273.3 1775.9,1272.9 1776.1,1300.6 1776.4,1266.2 1776.7,1262.5 1777.0,1270.0 1777.3,1248.5 1777.6,1286.1 1777.8,1284.5 1778.1,1277.6 1778.4,1276.2 1778.7,1275.6 1779.0,1257.4 1779.2,1274.5 1779.5,1276.0 1779.8,1286.7 1780.1,1280.1 1780.4,1289.1 1780.7,1285.0 1780.9,1252.1 1781.2,1267.4 1781.5,1284.6 1781.8,1271.7 1782.1,1276.7 1782.4,1287.4 1782.6,1264.8 1782.9,1279.3 1783.2,1297.1 1783.5,1277.8 1783.8,1268.6 1784.1,1277.5 1784.3,1272.9 1784.6,1262.2 1784.9,1285.4 1785.2,1277.8 1785.5,1254.8 1785.7,1292.3 1786.0,1266.3 1786.3,1278.6 1786.6,1283.4 1786.9,1276.3 1787.2,1262.5 1787.4,1250.4 1787.7,1271.2 1788.0,1280.8 1788.3,1262.9 1788.6,1272.5 1788.9,1292.8 1789.1,1264.8 1789.4,1304.6 1789.7,1281.1 1790.0,1261.7 1790.3,1281.1 1790.6,1272.9 1790.8,1291.5 1791.1,1259.9 1791.4,1283.4 1791.7,1261.4 1792.0,1278.6 1792.2,1292.7 1792.5,1275.8 1792.8,1290.2 1793.1,1269.9 1793.4,1284.6 1793.7,1265.1 1793.9,1269.7 1794.2,1272.7 1794.5,1254.3 1794.8,1260.7 1795.1,1264.5 1795.4,1292.1 1795.6,1273.0 1795.9,1256.9 1796.2,1255.9 1796.5,1269.1 1796.8,1256.2 1797.1,1272.1 1797.3,1256.2 1797.6,1256.5 1797.9,1279.0 1798.2,1246.2 1798.5,1296.0 1798.7,1259.1 1799.0,1250.1 1799.3,1274.9 1799.6,1280.6 1799.9,1283.0 1800.2,1273.5 1800.4,1258.5 1800.7,1265.2 1801.0,1269.2 1801.3,1278.4 1801.6,1279.9 1801.9,1277.0 1802.1,1279.2 1802.4,1242.3 1802.7,1262.9 1803.0,1283.8 1803.3,1264.5 1803.6,1269.5 1803.8,1262.1 1804.1,1269.5 1804.4,1263.4 1804.7,1247.2 1805.0,1276.5 1805.2,1277.4 1805.5,1261.9 1805.8,1248.1 1806.1,1269.0 1806.4,1258.2 1806.7,1285.5 1806.9,1270.6 1807.2,1254.7 1807.5,1265.7 1807.8,1296.2 1808.1,1272.2 1808.4,1264.9 1808.6,1271.7 1808.9,1261.2 1809.2,1285.9 1809.5,1259.0 1809.8,1283.3 1810.1,1289.0 1810.3,1288.1 1810.6,1276.0 1810.9,1272.8 1811.2,1278.6 1811.5,1281.6 1811.7,1285.6 1812.0,1279.2 1812.3,1282.6 1812.6,1274.5 1812.9,1270.7 1813.2,1293.7 1813.4,1285.8 1813.7,1289.5 1814.0,1301.0 1814.3,1272.9 1814.6,1274.4 1814.9,1277.3 1815.1,1292.4 1815.4,1265.4 1815.7,1274.5 1816.0,1292.1 1816.3,1264.3 1816.6,1291.4 1816.8,1302.1 1817.1,1288.5 1817.4,1273.8 1817.7,1278.7 1818.0,1272.5 1818.2,1283.5 1818.5,1295.7 1818.8,1296.7 1819.1,1258.6 1819.4,1276.1 1819.7,1289.3 1819.9,1281.5 1820.2,1259.4 1820.5,1288.5 1820.8,1292.6 1821.1,1286.4 1821.4,1285.8 1821.6,1297.8 1821.9,1270.4 1822.2,1283.7 1822.5,1292.1 1822.8,1314.0 1823.1,1279.3 1823.3,1297.2 1823.6,1308.5 1823.9,1297.4 1824.2,1298.8 1824.5,1303.5 1824.7,1268.3 1825.0,1295.2 1825.3,1284.3 1825.6,1307.6 1825.9,1294.9 1826.2,1293.2 1826.4,1292.5 1826.7,1275.9 1827.0,1301.5 1827.3,1272.1 1827.6,1288.8 1827.9,1287.2 1828.1,1303.1 1828.4,1291.9 1828.7,1282.1 1829.0,1300.1 1829.3,1312.5 1829.6,1280.7 1829.8,1308.9 1830.1,1285.3 1830.4,1290.6 1830.7,1291.1 1831.0,1281.5 1831.2,1312.7 1831.5,1303.2 1831.8,1301.3 1832.1,1278.6 1832.4,1302.4 1832.7,1284.5 1832.9,1311.1 1833.2,1274.6 1833.5,1303.9 1833.8,1277.4 1834.1,1278.6 1834.4,1298.6 1834.6,1306.2 1834.9,1309.4 1835.2,1292.0 1835.5,1290.4 1835.8,1307.8 1836.1,1283.7 1836.3,1284.3 1836.6,1303.8 1836.9,1303.1 1837.2,1299.0 1837.5,1312.8 1837.7,1279.2 1838.0,1304.0 1838.3,1324.2 1838.6,1293.9 1838.9,1284.0 1839.2,1313.5 1839.4,1305.6 1839.7,1313.4 1840.0,1307.6 1840.3,1294.2 1840.6,1297.1 1840.9,1285.9 1841.1,1325.3 1841.4,1289.1 1841.7,1296.0 1842.0,1292.2 1842.3,1305.4 1842.6,1317.0 1842.8,1294.5 1843.1,1305.8 1843.4,1309.3 1843.7,1326.2 1844.0,1298.3 1844.2,1304.1 1844.5,1320.3 1844.8,1284.4 1845.1,1301.1 1845.4,1302.4 1845.7,1288.4 1845.9,1299.2 1846.2,1304.2 1846.5,1314.8 1846.8,1312.5 1847.1,1295.6 1847.4,1291.1 1847.6,1313.2 1847.9,1284.6 1848.2,1296.0 1848.5,1289.2 1848.8,1284.1 1849.1,1305.5 1849.3,1286.1 1849.6,1295.4 1849.9,1317.1 1850.2,1320.8 1850.5,1287.2 1850.7,1292.2 1851.0,1292.9 1851.3,1287.6 1851.6,1318.4 1851.9,1313.5 1852.2,1309.0 1852.4,1292.1 1852.7,1312.2 1853.0,1305.8 1853.3,1303.4 1853.6,1310.5 1853.9,1319.6 1854.1,1303.2 1854.4,1299.3 1854.7,1292.3 1855.0,1320.5 1855.3,1310.0 1855.6,1278.4 1855.8,1306.1 1856.1,1313.9 1856.4,1286.5 1856.7,1287.7 1857.0,1316.9 1857.2,1301.7 1857.5,1288.2 1857.8,1305.5 1858.1,1309.3 1858.4,1294.4 1858.7,1296.3 1858.9,1305.9 1859.2,1304.8 1859.5,1325.9 1859.8,1321.0 1860.1,1311.7 1860.4,1298.3 1860.6,1299.1 1860.9,1280.6 1861.2,1305.4 1861.5,1301.7 1861.8,1298.8 1862.1,1314.8 1862.3,1321.0 1862.6,1285.5 1862.9,1311.2 1863.2,1311.6 1863.5,1299.4 1863.7,1298.3 1864.0,1326.1 1864.3,1314.8 1864.6,1330.7 1864.9,1297.6 1865.2,1294.2 1865.4,1303.2 1865.7,1316.2 1866.0,1321.3 1866.3,1328.7 1866.6,1298.9 1866.9,1289.7 1867.1,1317.5 1867.4,1316.5 1867.7,1312.7 1868.0,1322.7 1868.3,1296.9 1868.6,1287.5 1868.8,1329.6 1869.1,1309.5 1869.4,1302.6 1869.7,1315.2 1870.0,1331.4 1870.2,1308.1 1870.5,1325.9 1870.8,1307.0 1871.1,1327.9 1871.4,1308.1 1871.7,1319.7 1871.9,1305.7 1872.2,1312.8 1872.5,1308.4 1872.8,1301.0 1873.1,1307.0 1873.4,1313.8 1873.6,1304.4 1873.9,1299.5 1874.2,1310.4 1874.5,1322.2 1874.8,1304.6 1875.0,1294.0 1875.3,1295.4 1875.6,1305.7 1875.9,1324.3 1876.2,1293.5 1876.5,1318.4 1876.7,1303.1 1877.0,1297.5 1877.3,1299.1 1877.6,1318.4 1877.9,1299.8 1878.2,1320.7 1878.4,1328.4 1878.7,1295.1 1879.0,1290.2 1879.3,1284.8 1879.6,1311.1 1879.9,1294.7 1880.1,1297.6 1880.4,1295.7 1880.7,1320.3 1881.0,1312.3 1881.3,1311.6 1881.5,1284.7 1881.8,1294.8 1882.1,1303.9 1882.4,1303.1 1882.7,1308.0 1883.0,1322.8 1883.2,1312.2 1883.5,1313.5 1883.8,1302.8 1884.1,1299.5 1884.4,1298.7 1884.7,1302.9 1884.9,1285.2 1885.2,1297.4 1885.5,1304.3 1885.8,1298.4 1886.1,1303.4 1886.4,1282.8 1886.6,1297.5 1886.9,1303.9 1887.2,1317.0 1887.5,1305.1 1887.8,1301.1 1888.0,1297.1 1888.3,1304.1 1888.6,1297.7 1888.9,1311.9 1889.2,1297.3 1889.5,1311.0 1889.7,1296.0 1890.0,1286.4 1890.3,1286.7 1890.6,1313.7 1890.9,1296.6 1891.2,1297.6 1891.4,1329.6 1891.7,1289.7 1892.0,1302.6 1892.3,1287.4 1892.6,1295.8 1892.9,1308.8 1893.1,1299.4 1893.4,1324.4 1893.7,1292.0 1894.0,1294.8 1894.3,1286.7 1894.5,1302.8 1894.8,1293.8 1895.1,1300.9 1895.4,1293.3 1895.7,1307.7 1896.0,1295.1 1896.2,1303.5 1896.5,1301.1 1896.8,1293.9 1897.1,1302.5 1897.4,1302.4 1897.7,1308.3 1897.9,1279.9 1898.2,1319.3 1898.5,1303.8 1898.8,1307.3 1899.1,1308.4 1899.4,1286.8 1899.6,1310.7 1899.9,1305.7 1900.2,1296.8 1900.5,1311.6 1900.8,1299.4 1901.0,1290.9 1901.3,1312.3 1901.6,1311.2 1901.9,1306.1 1902.2,1300.8 1902.5,1320.4 1902.7,1295.8 1903.0,1304.8 1903.3,1300.3 1903.6,1300.1 1903.9,1307.7 1904.2,1291.2 1904.4,1308.0 1904.7,1305.3 1905.0,1298.4 1905.3,1294.0 1905.6,1286.6 1905.9,1303.1 1906.1,1321.2 1906.4,1295.0 1906.7,1291.6 1907.0,1294.4 1907.3,1305.0 1907.5,1307.6 1907.8,1305.9 1908.1,1301.3 1908.4,1288.1 1908.7,1313.4 1909.0,1298.1 1909.2,1306.2 1909.5,1302.8 1909.8,1301.8 1910.1,1310.9 1910.4,1303.4 1910.7,1325.2 1910.9,1318.3 1911.2,1312.0 1911.5,1298.7 1911.8,1310.9 1912.1,1305.7 1912.4,1309.9 1912.6,1302.7 1912.9,1290.3 1913.2,1291.0 1913.5,1301.0 1913.8,1311.4 1914.0,1300.9 1914.3,1295.0 1914.6,1299.6 1914.9,1309.1 1915.2,1296.2 1915.5,1295.7 1915.7,1302.8 1916.0,1308.9 1916.3,1287.9 1916.6,1297.0 1916.9,1301.3 1917.2,1296.5 1917.4,1307.1 1917.7,1310.8 1918.0,1292.9 1918.3,1326.8 1918.6,1305.6 1918.9,1319.0 1919.1,1309.7 1919.4,1280.7 1919.7,1287.0 1920.0,1304.1 1920.3,1307.0 1920.5,1307.9 1920.8,1278.9 1921.1,1293.8 1921.4,1306.3 1921.7,1315.2 1922.0,1306.8 1922.2,1285.3 1922.5,1294.6 1922.8,1297.1 1923.1,1296.0 1923.4,1312.3 1923.7,1313.8 1923.9,1315.1 1924.2,1288.3 1924.5,1286.4 1924.8,1283.6 1925.1,1297.6 1925.4,1301.5 1925.6,1285.0 1925.9,1303.3 1926.2,1303.1 1926.5,1298.0 1926.8,1305.4 1927.0,1289.1 1927.3,1288.2 1927.6,1316.6 1927.9,1296.0 1928.2,1311.1 1928.5,1292.8 1928.7,1274.6 1929.0,1306.1 1929.3,1286.1 1929.6,1290.2 1929.9,1309.8 1930.2,1282.8 1930.4,1296.9 1930.7,1312.7 1931.0,1322.6 1931.3,1288.8 1931.6,1301.6 1931.9,1292.4 1932.1,1313.6 1932.4,1294.2 1932.7,1314.7 1933.0,1285.7 1933.3,1308.5 1933.5,1316.3 1933.8,1307.1 1934.1,1299.8 1934.4,1294.0 1934.7,1284.7 1935.0,1310.2 1935.2,1310.0 1935.5,1303.3 1935.8,1285.2 1936.1,1289.2 1936.4,1297.7 1936.7,1318.5 1936.9,1320.3 1937.2,1310.1 1937.5,1283.1 1937.8,1275.8 1938.1,1299.2 1938.4,1303.9 1938.6,1317.3 1938.9,1288.6 1939.2,1311.1 1939.5,1294.6 1939.8,1304.8 1940.0,1291.8 1940.3,1292.5 1940.6,1291.2 1940.9,1295.6 1941.2,1286.8 1941.5,1288.3 1941.7,1300.8 1942.0,1283.6 1942.3,1293.4 1942.6,1290.9 1942.9,1294.7 1943.2,1311.1 1943.4,1289.3 1943.7,1316.2 1944.0,1276.6 1944.3,1287.3 1944.6,1305.6 1944.9,1272.4 1945.1,1294.9 1945.4,1302.6 1945.7,1281.5 1946.0,1314.4 1946.3,1318.7 1946.5,1298.5 1946.8,1298.0 1947.1,1307.0 1947.4,1308.9 1947.7,1292.7 1948.0,1293.2 1948.2,1321.0 1948.5,1300.5 1948.8,1295.9 1949.1,1287.9 1949.4,1271.8 1949.7,1295.9 1949.9,1298.2 1950.2,1296.7 1950.5,1295.3 1950.8,1306.7 1951.1,1300.7 1951.4,1299.6 1951.6,1295.2 1951.9,1293.4 1952.2,1298.5 1952.5,1289.3 1952.8,1310.2 1953.0,1300.3 1953.3,1297.2 1953.6,1320.2 1953.9,1306.3 1954.2,1284.0 1954.5,1287.3 1954.7,1296.0 1955.0,1291.3 1955.3,1311.8 1955.6,1305.5 1955.9,1307.0 1956.2,1309.1 1956.4,1307.2 1956.7,1276.4 1957.0,1281.1 1957.3,1285.3 1957.6,1302.5 1957.9,1299.2 1958.1,1317.5 1958.4,1311.2 1958.7,1311.9 1959.0,1289.0 1959.3,1295.7 1959.5,1307.7 1959.8,1283.9 1960.1,1288.7 1960.4,1316.9 1960.7,1320.5 1961.0,1276.2 1961.2,1295.5 1961.5,1282.4 1961.8,1273.3 1962.1,1286.3 1962.4,1302.0 1962.7,1303.1 1962.9,1298.7 1963.2,1310.4 1963.5,1286.0 1963.8,1292.5 1964.1,1312.5 1964.4,1304.0 1964.6,1286.3 1964.9,1281.2 1965.2,1295.7 1965.5,1297.4 1965.8,1298.7 1966.0,1293.2 1966.3,1296.3 1966.6,1287.8 1966.9,1294.2 1967.2,1287.4 1967.5,1280.4 1967.7,1296.1 1968.0,1285.6 1968.3,1285.6 1968.6,1301.1 1968.9,1298.5 1969.2,1316.1 1969.4,1314.1 1969.7,1290.5 1970.0,1291.4 1970.3,1287.0 1970.6,1278.9 1970.9,1312.3 1971.1,1302.2 1971.4,1288.0 1971.7,1314.9 1972.0,1302.3 1972.3,1303.3 1972.5,1289.3 1972.8,1268.9 1973.1,1301.9 1973.4,1285.8 1973.7,1277.3 1974.0,1300.7 1974.2,1301.0 1974.5,1283.4 1974.8,1293.8 1975.1,1299.8 1975.4,1294.5 1975.7,1287.5 1975.9,1311.4 1976.2,1290.8 1976.5,1307.6 1976.8,1293.2 1977.1,1290.6 1977.4,1308.8 1977.6,1286.7 1977.9,1298.2 1978.2,1300.2 1978.5,1307.2 1978.8,1293.4 1979.0,1276.0 1979.3,1274.1 1979.6,1273.2 1979.9,1280.4 1980.2,1292.2 1980.5,1290.0 1980.7,1287.8 1981.0,1292.2 1981.3,1284.8 1981.6,1292.8 1981.9,1294.5 1982.2,1318.5 1982.4,1290.3 1982.7,1290.6 1983.0,1289.8 1983.3,1283.7 1983.6,1302.8 1983.9,1278.0 1984.1,1317.1 1984.4,1274.5 1984.7,1292.4 1985.0,1305.0 1985.3,1299.5 1985.5,1302.1 1985.8,1275.4 1986.1,1303.7 1986.4,1300.1 1986.7,1311.9 1987.0,1293.1 1987.2,1294.4 1987.5,1274.3 1987.8,1299.8 1988.1,1280.7 1988.4,1297.8 1988.7,1314.5 1988.9,1282.6 1989.2,1296.2 1989.5,1287.0 1989.8,1286.2 1990.1,1270.4 1990.4,1288.1 1990.6,1297.0 1990.9,1308.3 1991.2,1311.7 1991.5,1291.3 1991.8,1304.2 1992.0,1291.8 1992.3,1282.2 1992.6,1287.3 1992.9,1303.3 1993.2,1301.2 1993.5,1272.3 1993.7,1299.2 1994.0,1288.9 1994.3,1300.2 1994.6,1294.7 1994.9,1277.5 1995.2,1276.3 1995.4,1291.6 1995.7,1292.7 1996.0,1294.0 1996.3,1278.5 1996.6,1309.3 1996.9,1265.6 1997.1,1308.4 1997.4,1290.1 1997.7,1286.0 1998.0,1312.7 1998.3,1290.9 1998.5,1293.0 1998.8,1285.9 1999.1,1298.7 1999.4,1298.9 1999.7,1310.2 2000.0,1306.4 2000.2,1292.4 2000.5,1284.7 2000.8,1287.2 2001.1,1283.1 2001.4,1287.0 2001.7,1285.4 2001.9,1296.3 2002.2,1294.0 2002.5,1283.7 2002.8,1295.7 2003.1,1265.8 2003.4,1291.3 2003.6,1265.6 2003.9,1287.8 2004.2,1300.1 2004.5,1294.9 2004.8,1279.1 2005.0,1290.1 2005.3,1290.7 2005.6,1285.4 2005.9,1294.2 2006.2,1284.5 2006.5,1282.3 2006.7,1280.7 2007.0,1298.0 2007.3,1281.4 2007.6,1274.5 2007.9,1302.4 2008.2,1283.6 2008.4,1275.2 2008.7,1300.3 2009.0,1285.2 2009.3,1285.7 2009.6,1282.6 2009.9,1300.6 2010.1,1301.1 2010.4,1304.9 2010.7,1284.6 2011.0,1321.8 2011.3,1285.6 2011.5,1279.4 2011.8,1289.1 2012.1,1271.5 2012.4,1283.7 2012.7,1288.2 2013.0,1295.6 2013.2,1309.9 2013.5,1299.4 2013.8,1290.8 2014.1,1295.0 2014.4,1280.0 2014.7,1312.3 2014.9,1297.2 2015.2,1300.4 2015.5,1288.3 2015.8,1284.7 2016.1,1282.8 2016.3,1284.4 2016.6,1287.9 2016.9,1305.1 2017.2,1286.4 2017.5,1302.3 2017.8,1305.4 2018.0,1299.8 2018.3,1305.8 2018.6,1268.2 2018.9,1298.8 2019.2,1290.2 2019.5,1312.2 2019.7,1300.2 2020.0,1292.0 2020.3,1296.6 2020.6,1298.8 2020.9,1317.7 2021.2,1291.5 2021.4,1299.9 2021.7,1289.8 2022.0,1299.9 2022.3,1301.2 2022.6,1299.1 2022.8,1295.0 2023.1,1315.7 2023.4,1310.3 2023.7,1303.2 2024.0,1290.2 2024.3,1302.9 2024.5,1299.3 2024.8,1309.0 2025.1,1304.6 2025.4,1289.9 2025.7,1305.1 2026.0,1320.7 2026.2,1305.0 2026.5,1284.9 2026.8,1293.1 2027.1,1310.3 2027.4,1313.9 2027.7,1280.3 2027.9,1312.0 2028.2,1319.7 2028.5,1317.3 2028.8,1283.3 2029.1,1299.8 2029.3,1316.2 2029.6,1309.2 2029.9,1295.3 2030.2,1288.1 2030.5,1299.2 2030.8,1306.6 2031.0,1287.7 2031.3,1298.0 2031.6,1315.7 2031.9,1316.5 2032.2,1302.6 2032.5,1317.2 2032.7,1298.6 2033.0,1292.5 2033.3,1292.1 2033.6,1287.1 2033.9,1294.6 2034.2,1296.1 2034.4,1326.6 2034.7,1312.8 2035.0,1327.5 2035.3,1288.0 2035.6,1309.1 2035.8,1294.5 2036.1,1282.2 2036.4,1307.2 2036.7,1291.5 2037.0,1309.1 2037.3,1326.8 2037.5,1300.7 2037.8,1298.0 2038.1,1290.6 2038.4,1280.2 2038.7,1295.9 2039.0,1288.4 2039.2,1300.7 2039.5,1294.2 2039.8,1302.4 2040.1,1304.5 2040.4,1313.1 2040.7,1284.0 2040.9,1288.0 2041.2,1315.8 2041.5,1309.0 2041.8,1288.8 2042.1,1325.3 2042.3,1268.2 2042.6,1292.2 2042.9,1293.0 2043.2,1303.0 2043.5,1280.0 2043.8,1296.7 2044.0,1299.2 2044.3,1311.0 2044.6,1272.4 2044.9,1287.6 2045.2,1288.1 2045.5,1308.2 2045.7,1319.9 2046.0,1316.9 2046.3,1286.5 2046.6,1298.0 2046.9,1292.9 2047.2,1294.6 2047.4,1285.9 2047.7,1297.1 2048.0,1293.5 2048.3,1301.8 2048.6,1292.4 2048.8,1323.3 2049.1,1273.5 2049.4,1286.8 2049.7,1287.0 2050.0,1296.3 2050.3,1305.7 2050.5,1293.3 2050.8,1322.7 2051.1,1298.6 2051.4,1312.2 2051.7,1293.0 2052.0,1284.5 2052.2,1322.2 2052.5,1283.0 2052.8,1274.4 2053.1,1284.3 2053.4,1295.8 2053.7,1311.0 2053.9,1289.7 2054.2,1289.8 2054.5,1296.4 2054.8,1302.9 2055.1,1282.3 2055.3,1296.5 2055.6,1285.5 2055.9,1298.0 2056.2,1298.8 2056.5,1305.3 2056.8,1315.3 2057.0,1285.8 2057.3,1280.9 2057.6,1294.1 2057.9,1293.0 2058.2,1292.8 2058.5,1302.7 2058.7,1294.2 2059.0,1303.2 2059.3,1292.9 2059.6,1290.8 2059.9,1281.5 2060.2,1300.5 2060.4,1292.5 2060.7,1307.1 2061.0,1299.7 2061.3,1284.9 2061.6,1294.3 2061.8,1290.0 2062.1,1289.4 2062.4,1273.8 2062.7,1293.5 2063.0,1291.7 2063.3,1275.4 2063.5,1294.1 2063.8,1294.9 2064.1,1276.0 2064.4,1276.0 2064.7,1293.1 2065.0,1299.2 2065.2,1293.3 2065.5,1267.4 2065.8,1275.8 2066.1,1295.9 2066.4,1276.5 2066.7,1302.1 2066.9,1302.7 2067.2,1278.4 2067.5,1291.7 2067.8,1297.3 2068.1,1294.3 2068.3,1282.7 2068.6,1285.7 2068.9,1287.2 2069.2,1308.0 2069.5,1296.4 2069.8,1302.8 2070.0,1291.5 2070.3,1295.3 2070.6,1299.3 2070.9,1286.5 2071.2,1279.6 2071.5,1293.6 2071.7,1283.7 2072.0,1282.0 2072.3,1279.4 2072.6,1271.7 2072.9,1290.5 2073.2,1277.3 2073.4,1279.3 2073.7,1285.2 2074.0,1274.0 2074.3,1295.6 2074.6,1299.9 2074.8,1275.4 2075.1,1284.8 2075.4,1286.5 2075.7,1286.3 2076.0,1290.4 2076.3,1293.7 2076.5,1281.6 2076.8,1298.5 2077.1,1265.9 2077.4,1276.9 2077.7,1301.1 2078.0,1284.6 2078.2,1294.1 2078.5,1304.3 2078.8,1311.0 2079.1,1276.5 2079.4,1280.8 2079.7,1281.0 2079.9,1281.4 2080.2,1293.6 2080.5,1266.5 2080.8,1295.5 2081.1,1289.8 2081.3,1308.4 2081.6,1271.6 2081.9,1298.3 2082.2,1285.7 2082.5,1281.9 2082.8,1301.1 2083.0,1301.3 2083.3,1274.0 2083.6,1300.9 2083.9,1287.4 2084.2,1286.1 2084.5,1284.9 2084.7,1289.9 2085.0,1283.6 2085.3,1292.2 2085.6,1262.4 2085.9,1302.4 2086.2,1294.7 2086.4,1284.3 2086.7,1295.9 2087.0,1288.7 2087.3,1298.6 2087.6,1304.3 2087.8,1297.1 2088.1,1262.9 2088.4,1307.6 2088.7,1292.4 2089.0,1299.9 2089.3,1282.0 2089.5,1289.7 2089.8,1289.0 2090.1,1298.6 2090.4,1300.7 2090.7,1296.3 2091.0,1295.1 2091.2,1302.7 2091.5,1305.6 2091.8,1300.3 2092.1,1288.0 2092.4,1302.3 2092.7,1284.9 2092.9,1295.3 2093.2,1310.1 2093.5,1274.5 2093.8,1278.4 2094.1,1265.0 2094.3,1315.2 2094.6,1294.1 2094.9,1297.8 2095.2,1295.3 2095.5,1290.5 2095.8,1281.5 2096.0,1294.9 2096.3,1280.6 2096.6,1299.9 2096.9,1311.4 2097.2,1320.0 2097.5,1281.4 2097.7,1287.5 2098.0,1281.5 2098.3,1271.7 2098.6,1278.0 2098.9,1290.5 2099.2,1304.3 2099.4,1307.3 2099.7,1281.6 2100.0,1300.6 2100.3,1290.1 2100.6,1295.6 2100.8,1305.3 2101.1,1304.9 2101.4,1304.6 2101.7,1297.0 2102.0,1296.7 2102.3,1296.7 2102.5,1300.9 2102.8,1292.7 2103.1,1299.3 2103.4,1295.6 2103.7,1310.6 2104.0,1282.4 2104.2,1289.4 2104.5,1295.2 2104.8,1293.2 2105.1,1267.3 2105.4,1307.4 2105.7,1312.3 2105.9,1274.2 2106.2,1278.1 2106.5,1310.5 2106.8,1276.4 2107.1,1296.0 2107.3,1293.5 2107.6,1289.7 2107.9,1299.1 2108.2,1281.8 2108.5,1275.3 2108.8,1287.7 2109.0,1292.7 2109.3,1297.5 2109.6,1304.9 2109.9,1313.1 2110.2,1301.5 2110.5,1294.4 2110.7,1301.0 2111.0,1280.7 2111.3,1286.6 2111.6,1286.1 2111.9,1276.5 2112.2,1304.8 2112.4,1282.7 2112.7,1278.2 2113.0,1283.4 2113.3,1313.4 2113.6,1310.8 2113.8,1298.8 2114.1,1303.6 2114.4,1273.4 2114.7,1284.7 2115.0,1299.3 2115.3,1283.0 2115.5,1278.5 2115.8,1286.8 2116.1,1305.1 2116.4,1313.7 2116.7,1283.4 2117.0,1312.4 2117.2,1280.7 2117.5,1297.5 2117.8,1295.5 2118.1,1291.7 2118.4,1316.9 2118.7,1306.0 2118.9,1297.0 2119.2,1309.3 2119.5,1288.4 2119.8,1301.8 2120.1,1314.2 2120.3,1302.0 2120.6,1320.6 2120.9,1284.1 2121.2,1282.3 2121.5,1293.9 2121.8,1294.8 2122.0,1291.1 2122.3,1314.8 2122.6,1301.9 2122.9,1285.7 2123.2,1289.5 2123.5,1303.1 2123.7,1282.9 2124.0,1302.4 2124.3,1285.5 2124.6,1297.3 2124.9,1301.0 2125.2,1280.3 2125.4,1292.5 2125.7,1293.3 2126.0,1299.6 2126.3,1307.2 2126.6,1297.3 2126.8,1281.7 2127.1,1293.3 2127.4,1287.4 2127.7,1295.9 2128.0,1310.2 2128.3,1309.4 2128.5,1312.6 2128.8,1288.7 2129.1,1278.2 2129.4,1287.2 2129.7,1298.6 2130.0,1291.7 2130.2,1284.5 2130.5,1298.2 2130.8,1314.0 2131.1,1295.4 2131.4,1304.1 2131.7,1324.4 2131.9,1292.7 2132.2,1309.3 2132.5,1281.9 2132.8,1289.5 2133.1,1297.8 2133.3,1313.2 2133.6,1301.8 2133.9,1294.2 2134.2,1308.1 2134.5,1318.8 2134.8,1318.3 2135.0,1290.1 2135.3,1308.3 2135.6,1293.9 2135.9,1309.4 2136.2,1314.2 2136.5,1287.2 2136.7,1327.0 2137.0,1277.7 2137.3,1302.9 2137.6,1279.5 2137.9,1294.7 2138.2,1319.9 2138.4,1317.0 2138.7,1324.3 2139.0,1297.1 2139.3,1289.2 2139.6,1289.2 2139.8,1329.9 2140.1,1313.5 2140.4,1289.5 2140.7,1301.4 2141.0,1300.2 2141.3,1312.9 2141.5,1293.9 2141.8,1279.7 2142.1,1291.8 2142.4,1308.0 2142.7,1302.2 2143.0,1294.3 2143.2,1285.6 2143.5,1316.1 2143.8,1308.7 2144.1,1290.7 2144.4,1294.5 2144.7,1323.8 2144.9,1297.8 2145.2,1317.8 2145.5,1299.5 2145.8,1299.6 2146.1,1295.8 2146.3,1308.9 2146.6,1307.5 2146.9,1290.8 2147.2,1322.8 2147.5,1296.7 2147.8,1295.0 2148.0,1316.1 2148.3,1292.5 2148.6,1299.4 2148.9,1305.0 2149.2,1313.1 2149.5,1282.0 2149.7,1290.1 2150.0,1273.3 2150.3,1308.4 2150.6,1305.0 2150.9,1308.7 2151.2,1305.3 2151.4,1293.7 2151.7,1308.8 2152.0,1288.5 2152.3,1290.0 2152.6,1297.4 2152.8,1313.8 2153.1,1285.5 2153.4,1330.6 2153.7,1292.5 2154.0,1282.2 2154.3,1303.3 2154.5,1290.8 2154.8,1309.6 2155.1,1312.0 2155.4,1289.0 2155.7,1307.6 2156.0,1294.5 2156.2,1304.6 2156.5,1295.3 2156.8,1299.7 2157.1,1305.4 2157.4,1319.0 2157.6,1296.3 2157.9,1310.9 2158.2,1320.5 2158.5,1291.6 2158.8,1314.9 2159.1,1297.7 2159.3,1305.8 2159.6,1307.3 2159.9,1298.4 2160.2,1319.9 2160.5,1317.2 2160.8,1303.4 2161.0,1301.3 2161.3,1302.6 2161.6,1308.7 2161.9,1308.5 2162.2,1284.9 2162.5,1310.2 2162.7,1307.9 2163.0,1297.5 2163.3,1292.5 2163.6,1281.2 2163.9,1305.9 2164.1,1293.7 2164.4,1296.6 2164.7,1331.1 2165.0,1284.0 2165.3,1277.9 2165.6,1310.9 2165.8,1279.8 2166.1,1294.8 2166.4,1301.8 2166.7,1289.8 2167.0,1315.8 2167.3,1301.7 2167.5,1303.2 2167.8,1292.7 2168.1,1288.5 2168.4,1298.4 2168.7,1324.4 2169.0,1300.3 2169.2,1308.1 2169.5,1307.0 2169.8,1290.3 2170.1,1310.6 2170.4,1294.9 2170.6,1279.9 2170.9,1278.6 2171.2,1309.3 2171.5,1324.8 2171.8,1309.5 2172.1,1315.1 2172.3,1287.5 2172.6,1274.5 2172.9,1323.4 2173.2,1313.6 2173.5,1281.7 2173.8,1304.7 2174.0,1301.4 2174.3,1300.1 2174.6,1288.7 2174.9,1306.8 2175.2,1310.5 2175.5,1285.2 2175.7,1306.5 2176.0,1283.7 2176.3,1310.3 2176.6,1299.3 2176.9,1313.2 2177.1,1307.8 2177.4,1282.0 2177.7,1289.0 2178.0,1303.0 2178.3,1309.3 2178.6,1317.1 2178.8,1287.6 2179.1,1300.5 2179.4,1331.8 2179.7,1303.6 2180.0,1290.9 2180.3,1280.5 2180.5,1307.8 2180.8,1313.7 2181.1,1293.0 2181.4,1313.0 2181.7,1316.4 2182.0,1320.3 2182.2,1311.2 2182.5,1299.6 2182.8,1293.9 2183.1,1314.2 2183.4,1286.2 2183.6,1321.9 2183.9,1310.8 2184.2,1299.6 2184.5,1280.5 2184.8,1292.4 2185.1,1284.4 2185.3,1289.7 2185.6,1308.8 2185.9,1330.6 2186.2,1290.0 2186.5,1292.7 2186.8,1328.6 2187.0,1304.1 2187.3,1307.3 2187.6,1294.3 2187.9,1322.5 2188.2,1304.1 2188.5,1312.5 2188.7,1313.4 2189.0,1322.4 2189.3,1308.3 2189.6,1295.9 2189.9,1310.1 2190.1,1302.4 2190.4,1281.6 2190.7,1295.7 2191.0,1284.4 2191.3,1301.2 2191.6,1297.3 2191.8,1298.8 2192.1,1282.8 2192.4,1309.9 2192.7,1305.4 2193.0,1316.3 2193.3,1288.4 2193.5,1297.0 2193.8,1294.9 2194.1,1308.8 2194.4,1294.5 2194.7,1309.9 2195.0,1289.5 2195.2,1308.6 2195.5,1305.0 2195.8,1302.6 2196.1,1301.0 2196.4,1302.0 2196.6,1315.0 2196.9,1315.9 2197.2,1314.4 2197.5,1305.0 2197.8,1297.0 2198.1,1295.9 2198.3,1300.2 2198.6,1302.5 2198.9,1296.2 2199.2,1288.6 2199.5,1290.5 2199.8,1312.6 2200.0,1294.9 2200.3,1302.8 2200.6,1298.0 2200.9,1306.8 2201.2,1300.1 2201.5,1317.1 2201.7,1305.7 2202.0,1289.4 2202.3,1303.4 2202.6,1289.8 2202.9,1298.6 2203.1,1314.2 2203.4,1286.3 2203.7,1310.0 2204.0,1302.3 2204.3,1315.7 2204.6,1303.2 2204.8,1314.5 2205.1,1304.4 2205.4,1317.4 2205.7,1305.8 2206.0,1293.8 2206.3,1305.0 2206.5,1303.2 2206.8,1324.2 2207.1,1293.1 2207.4,1283.9 2207.7,1318.0 2208.0,1294.8 2208.2,1281.9 2208.5,1291.1 2208.8,1293.1 2209.1,1297.2 2209.4,1329.1 2209.6,1299.2 2209.9,1309.7 2210.2,1307.9 2210.5,1294.9 2210.8,1280.6 2211.1,1324.6 2211.3,1295.8 2211.6,1291.5 2211.9,1308.5 2212.2,1291.1 2212.5,1294.9 2212.8,1313.3 2213.0,1295.6 2213.3,1303.9 2213.6,1296.8 2213.9,1319.6 2214.2,1281.7 2214.5,1274.4 2214.7,1302.4 2215.0,1297.1 2215.3,1331.1 2215.6,1302.2 2215.9,1302.3 2216.1,1310.5 2216.4,1304.6 2216.7,1308.5 2217.0,1289.8 2217.3,1297.0 2217.6,1318.7 2217.8,1286.2 2218.1,1296.1 2218.4,1305.3 2218.7,1309.8 2219.0,1301.3 2219.3,1308.6" fill="none" stroke="#000" stroke-width="1.3" stroke-linejoin="miter" stroke-miterlimit="2"/>
<polyline points="102.3,1568.4 102.6,1577.0 102.9,1610.3 103.1,1592.9 103.4,1552.5 103.7,1582.1 104.0,1571.6 104.3,1585.8 104.6,1555.1 104.8,1588.5 105.1,1588.9 105.4,1613.1 105.7,1591.3 106.0,1595.3 106.3,1560.2 106.5,1627.1 106.8,1553.8 107.1,1607.7 107.4,1582.9 107.7,1573.6 108.0,1578.1 108.2,1578.4 108.5,1597.5 108.8,1589.3 109.1,1617.9 109.4,1560.0 109.6,1592.7 109.9,1577.5 110.2,1607.4 110.5,1556.9 110.8,1588.7 111.1,1599.0 111.3,1569.6 111.6,1613.6 111.9,1599.9 112.2,1615.0 112.5,1614.7 112.8,1581.1 113.0,1584.8 113.3,1595.7 113.6,1613.0 113.9,1615.3 114.2,1588.4 114.5,1590.7 114.7,1587.8 115.0,1592.1 115.3,1598.7 115.6,1601.0 115.9,1639.9 116.1,1595.5 116.4,1599.8 116.7,1613.4 117.0,1589.2 117.3,1599.9 117.6,1607.1 117.8,1620.9 118.1,1584.9 118.4,1632.3 118.7,1602.7 119.0,1612.4 119.3,1624.7 119.5,1621.9 119.8,1629.4 120.1,1614.4 120.4,1611.6 120.7,1617.9 121.0,1595.6 121.2,1634.5 121.5,1600.5 121.8,1592.5 122.1,1650.7 122.4,1613.1 122.6,1595.5 122.9,1648.6 123.2,1611.2 123.5,1635.9 123.8,1603.6 124.1,1614.2 124.3,1589.7 124.6,1586.4 124.9,1603.0 125.2,1618.7 125.5,1634.0 125.8,1660.1 126.0,1602.7 126.3,1638.1 126.6,1610.5 126.9,1618.4 127.2,1595.7 127.5,1595.9 127.7,1608.2 128.0,1601.2 128.3,1621.8 128.6,1610.0 128.9,1643.7 129.1,1625.0 129.4,1625.4 129.7,1642.3 130.0,1631.8 130.3,1622.5 130.6,1621.7 130.8,1621.4 131.1,1642.0 131.4,1637.2 131.7,1630.2 132.0,1637.8 132.3,1615.0 132.5,1633.2 132.8,1600.5 133.1,1647.7 133.4,1626.5 133.7,1628.3 134.0,1635.5 134.2,1625.3 134.5,1621.3 134.8,1646.0 135.1,1627.9 135.4,1610.6 135.6,1633.8 135.9,1597.6 136.2,1654.7 136.5,1623.9 136.8,1627.8 137.1,1665.4 137.3,1663.8 137.6,1629.5 137.9,1638.3 138.2,1646.3 138.5,1656.5 138.8,1626.0 139.0,1630.6 139.3,1649.3 139.6,1633.3 139.9,1641.7 140.2,1639.4 140.5,1609.9 140.7,1614.8 141.0,1590.5 141.3,1625.3 141.6,1652.6 141.9,1611.2 142.1,1651.2 142.4,1647.4 142.7,1629.6 143.0,1630.6 143.3,1632.3 143.6,1616.4 143.8,1626.4 144.1,1630.6 144.4,1642.0 144.7,1645.2 145.0,1619.3 145.3,1646.1 145.5,1619.0 145.8,1629.6 146.1,1638.9 146.4,1632.4 146.7,1630.8 147.0,1637.7 147.2,1623.9 147.5,1622.3 147.8,1630.1 148.1,1650.2 148.4,1632.2 148.6,1666.6 148.9,1637.9 149.2,1595.3 149.5,1627.1 149.8,1663.2 150.1,1635.2 150.3,1627.9 150.6,1620.7 150.9,1658.4 151.2,1653.2 151.5,1647.8 151.8,1643.9 152.0,1661.5 152.3,1651.2 152.6,1616.4 152.9,1650.8 153.2,1640.8 153.5,1636.3 153.7,1651.4 154.0,1639.2 154.3,1599.7 154.6,1665.8 154.9,1657.1 155.1,1637.6 155.4,1633.6 155.7,1644.1 156.0,1618.5 156.3,1645.9 156.6,1637.0 156.8,1635.2 157.1,1625.7 157.4,1630.1 157.7,1660.9 158.0,1665.0 158.3,1651.1 158.5,1642.0 158.8,1628.0 159.1,1655.5 159.4,1671.0 159.7,1616.1 160.0,1664.1 160.2,1607.2 160.5,1638.7 160.8,1651.4 161.1,1621.7 161.4,1619.3 161.6,1648.7 161.9,1660.8 162.2,1637.9 162.5,1669.3 162.8,1633.2 163.1,1676.8 163.3,1649.1 163.6,1651.3 163.9,1658.1 164.2,1653.3 164.5,1679.7 164.8,1686.1 165.0,1657.9 165.3,1646.0 165.6,1628.9 165.9,1636.4 166.2,1649.8 166.5,1648.1 166.7,1649.4 167.0,1650.4 167.3,1659.1 167.6,1627.7 167.9,1633.5 168.1,1670.6 168.4,1666.0 168.7,1642.7 169.0,1674.4 169.3,1640.8 169.6,1648.3 169.8,1621.5 170.1,1667.7 170.4,1653.3 170.7,1672.0 171.0,1666.1 171.3,1655.9 171.5,1657.3 171.8,1675.3 172.1,1652.3 172.4,1652.7 172.7,1656.8 173.0,1669.8 173.2,1672.1 173.5,1689.5 173.8,1655.4 174.1,1678.9 174.4,1646.2 174.6,1668.1 174.9,1660.0 175.2,1687.9 175.5,1668.8 175.8,1650.7 176.1,1668.6 176.3,1664.8 176.6,1653.5 176.9,1654.1 177.2,1643.1 177.5,1698.3 177.8,1662.0 178.0,1676.6 178.3,1639.9 178.6,1641.4 178.9,1657.7 179.2,1657.9 179.4,1674.5 179.7,1643.5 180.0,1670.3 180.3,1687.3 180.6,1645.5 180.9,1677.1 181.1,1645.0 181.4,1667.7 181.7,1668.2 182.0,1692.0 182.3,1650.3 182.6,1665.3 182.8,1680.5 183.1,1642.4 183.4,1662.7 183.7,1648.0 184.0,1651.0 184.3,1675.1 184.5,1675.5 184.8,1702.4 185.1,1687.5 185.4,1686.2 185.7,1661.2 185.9,1659.0 186.2,1666.7 186.5,1625.2 186.8,1693.3 187.1,1653.2 187.4,1646.6 187.6,1657.1 187.9,1680.3 188.2,1686.8 188.5,1658.9 188.8,1673.1 189.1,1664.7 189.3,1648.6 189.6,1668.9 189.9,1666.6 190.2,1639.7 190.5,1685.3 190.8,1639.4 191.0,1670.7 191.3,1648.6 191.6,1652.9 191.9,1654.9 192.2,1679.4 192.4,1645.7 192.7,1664.2 193.0,1694.4 193.3,1655.8 193.6,1667.4 193.9,1679.5 194.1,1658.1 194.4,1676.5 194.7,1657.1 195.0,1680.7 195.3,1669.9 195.6,1652.8 195.8,1693.4 196.1,1667.6 196.4,1664.6 196.7,1653.6 197.0,1661.6 197.3,1668.2 197.5,1673.0 197.8,1689.0 198.1,1647.7 198.4,1664.4 198.7,1691.1 198.9,1673.9 199.2,1677.9 199.5,1698.3 199.8,1676.8 200.1,1679.1 200.4,1670.5 200.6,1701.5 200.9,1689.3 201.2,1659.0 201.5,1680.8 201.8,1651.8 202.1,1690.2 202.3,1683.1 202.6,1668.9 202.9,1664.9 203.2,1641.1 203.5,1684.9 203.8,1669.9 204.0,1666.6 204.3,1684.4 204.6,1660.7 204.9,1662.1 205.2,1660.4 205.4,1649.2 205.7,1711.5 206.0,1669.1 206.3,1666.5 206.6,1687.8 206.9,1633.4 207.1,1672.1 207.4,1672.9 207.7,1656.2 208.0,1680.6 208.3,1638.4 208.6,1672.9 208.8,1687.7 209.1,1634.9 209.4,1647.9 209.7,1669.7 210.0,1671.9 210.3,1661.1 210.5,1678.0 210.8,1675.9 211.1,1648.9 211.4,1669.9 211.7,1649.9 211.9,1636.3 212.2,1635.0 212.5,1688.8 212.8,1669.2 213.1,1704.5 213.4,1646.7 213.6,1665.4 213.9,1677.2 214.2,1669.1 214.5,1680.1 214.8,1674.2 215.1,1661.4 215.3,1635.9 215.6,1656.0 215.9,1701.1 216.2,1685.2 216.5,1695.6 216.8,1662.7 217.0,1669.5 217.3,1658.1 217.6,1679.5 217.9,1674.1 218.2,1680.8 218.4,1702.9 218.7,1659.4 219.0,1685.9 219.3,1650.1 219.6,1692.2 219.9,1666.4 220.1,1672.7 220.4,1676.2 220.7,1701.6 221.0,1673.6 221.3,1665.8 221.6,1654.4 221.8,1678.9 222.1,1660.1 222.4,1666.0 222.7,1674.1 223.0,1685.8 223.3,1662.7 223.5,1686.0 223.8,1704.4 224.1,1650.0 224.4,1697.7 224.7,1711.0 224.9,1665.2 225.2,1685.4 225.5,1652.3 225.8,1680.9 226.1,1669.9 226.4,1680.4 226.6,1660.1 226.9,1661.8 227.2,1668.0 227.5,1663.6 227.8,1665.2 228.1,1672.1 228.3,1657.1 228.6,1673.1 228.9,1683.5 229.2,1639.7 229.5,1678.9 229.8,1663.2 230.0,1657.0 230.3,1653.3 230.6,1661.5 230.9,1663.3 231.2,1681.4 231.4,1654.7 231.7,1693.0 232.0,1662.2 232.3,1687.2 232.6,1693.9 232.9,1655.8 233.1,1693.9 233.4,1712.5 233.7,1669.4 234.0,1686.6 234.3,1675.1 234.6,1678.8 234.8,1674.5 235.1,1669.5 235.4,1690.0 235.7,1692.7 236.0,1678.3 236.3,1703.4 236.5,1696.6 236.8,1690.4 237.1,1667.1 237.4,1710.3 237.7,1700.9 237.9,1643.9 238.2,1661.1 238.5,1671.6 238.8,1694.9 239.1,1700.0 239.4,1675.0 239.6,1683.8 239.9,1691.3 240.2,1659.1 240.5,1689.7 240.8,1675.1 241.1,1683.2 241.3,1679.5 241.6,1661.0 241.9,1664.1 242.2,1681.2 242.5,1682.7 242.8,1676.3 243.0,1698.0 243.3,1674.9 243.6,1660.9 243.9,1675.2 244.2,1678.0 244.4,1678.8 244.7,1700.0 245.0,1689.4 245.3,1698.3 245.6,1691.3 245.9,1678.6 246.1,1698.2 246.4,1677.1 246.7,1685.5 247.0,1665.2 247.3,1683.2 247.6,1676.3 247.8,1687.7 248.1,1711.3 248.4,1719.1 248.7,1698.4 249.0,1681.5 249.3,1695.4 249.5,1685.8 249.8,1672.3 250.1,1681.2 250.4,1678.2 250.7,1672.5 250.9,1704.7 251.2,1673.7 251.5,1674.5 251.8,1693.9 252.1,1671.4 252.4,1664.1 252.6,1669.0 252.9,1690.6 253.2,1688.9 253.5,1687.7 253.8,1675.5 254.1,1668.3 254.3,1697.7 254.6,1659.8 254.9,1679.8 255.2,1661.9 255.5,1676.8 255.8,1681.0 256.0,1703.2 256.3,1646.3 256.6,1705.6 256.9,1669.5 257.2,1688.5 257.4,1696.8 257.7,1671.6 258.0,1682.6 258.3,1692.0 258.6,1682.1 258.9,1672.4 259.1,1687.3 259.4,1686.1 259.7,1660.4 260.0,1706.2 260.3,1688.2 260.6,1647.4 260.8,1671.4 261.1,1712.2 261.4,1710.2 261.7,1689.2 262.0,1658.1 262.3,1681.3 262.5,1702.0 262.8,1691.5 263.1,1680.0 263.4,1673.6 263.7,1698.5 263.9,1682.1 264.2,1690.7 264.5,1693.4 264.8,1711.7 265.1,1688.6 265.4,1689.9 265.6,1657.5 265.9,1703.5 266.2,1700.1 266.5,1685.8 266.8,1650.1 267.1,1677.2 267.3,1687.4 267.6,1719.4 267.9,1695.6 268.2,1698.9 268.5,1699.4 268.8,1707.6 269.0,1668.6 269.3,1673.1 269.6,1668.0 269.9,1682.2 270.2,1681.1 270.4,1688.3 270.7,1670.6 271.0,1688.3 271.3,1673.4 271.6,1720.2 271.9,1678.6 272.1,1722.6 272.4,1712.8 272.7,1668.3 273.0,1702.2 273.3,1696.8 273.6,1663.2 273.8,1696.8 274.1,1685.8 274.4,1692.7 274.7,1673.8 275.0,1686.2 275.3,1693.6 275.5,1684.2 275.8,1677.5 276.1,1684.5 276.4,1671.6 276.7,1692.3 276.9,1650.6 277.2,1710.4 277.5,1687.8 277.8,1694.2 278.1,1700.1 278.4,1667.4 278.6,1722.1 278.9,1669.2 279.2,1693.9 279.5,1691.7 279.8,1707.0 280.1,1686.4 280.3,1664.6 280.6,1691.5 280.9,1650.4 281.2,1683.3 281.5,1679.2 281.8,1710.5 282.0,1681.9 282.3,1679.2 282.6,1674.4 282.9,1672.9 283.2,1677.5 283.4,1695.3 283.7,1665.6 284.0,1682.7 284.3,1663.3 284.6,1683.3 284.9,1688.4 285.1,1666.7 285.4,1676.9 285.7,1687.3 286.0,1697.5 286.3,1700.3 286.6,1683.8 286.8,1670.1 287.1,1660.4 287.4,1697.5 287.7,1706.9 288.0,1691.0 288.3,1709.5 288.5,1678.3 288.8,1679.2 289.1,1709.5 289.4,1669.6 289.7,1694.5 289.9,1691.1 290.2,1687.5 290.5,1711.9 290.8,1671.5 291.1,1678.4 291.4,1652.7 291.6,1668.7 291.9,1677.0 292.2,1678.9 292.5,1681.7 292.8,1689.5 293.1,1674.5 293.3,1654.1 293.6,1687.1 293.9,1691.3 294.2,1666.7 294.5,1672.5 294.8,1711.9 295.0,1700.5 295.3,1701.4 295.6,1694.9 295.9,1686.8 296.2,1676.6 296.4,1693.3 296.7,1681.4 297.0,1677.6 297.3,1684.2 297.6,1683.1 297.9,1698.1 298.1,1669.4 298.4,1719.7 298.7,1668.7 299.0,1677.7 299.3,1698.9 299.6,1671.3 299.8,1676.8 300.1,1684.7 300.4,1648.9 300.7,1676.4 301.0,1669.3 301.3,1680.5 301.5,1692.0 301.8,1694.2 302.1,1707.6 302.4,1706.7 302.7,1700.3 302.9,1683.7 303.2,1700.5 303.5,1668.9 303.8,1682.8 304.1,1706.7 304.4,1696.6 304.6,1662.6 304.9,1675.1 305.2,1698.4 305.5,1693.9 305.8,1701.1 306.1,1656.9 306.3,1664.7 306.6,1680.5 306.9,1669.3 307.2,1684.0 307.5,1684.7 307.8,1689.9 308.0,1682.5 308.3,1693.3 308.6,1696.6 308.9,1686.9 309.2,1665.6 309.4,1704.6 309.7,1688.0 310.0,1691.2 310.3,1687.3 310.6,1659.7 310.9,1693.6 311.1,1674.5 311.4,1665.7 311.7,1704.5 312.0,1679.9 312.3,1689.1 312.6,1698.4 312.8,1709.6 313.1,1656.6 313.4,1673.1 313.7,1695.0 314.0,1674.3 314.3,1649.0 314.5,1686.8 314.8,1688.0 315.1,1696.8 315.4,1688.1 315.7,1677.8 315.9,1687.9 316.2,1684.0 316.5,1676.8 316.8,1688.5 317.1,1690.0 317.4,1669.0 317.6,1700.4 317.9,1697.3 318.2,1696.7 318.5,1649.2 318.8,1686.4 319.1,1682.7 319.3,1669.2 319.6,1693.5 319.9,1661.4 320.2,1703.4 320.5,1690.5 320.7,1676.8 321.0,1706.4 321.3,1691.6 321.6,1689.7 321.9,1664.6 322.2,1692.6 322.4,1706.1 322.7,1701.4 323.0,1664.7 323.3,1705.8 323.6,1709.0 323.9,1697.4 324.1,1678.6 324.4,1661.5 324.7,1670.5 325.0,1675.6 325.3,1688.6 325.6,1692.8 325.8,1673.0 326.1,1659.3 326.4,1678.0 326.7,1664.0 327.0,1704.6 327.2,1665.4 327.5,1691.5 327.8,1696.8 328.1,1669.2 328.4,1699.4 328.7,1681.9 328.9,1672.0 329.2,1669.6 329.5,1685.7 329.8,1700.3 330.1,1655.0 330.4,1693.3 330.6,1681.7 330.9,1672.4 331.2,1682.4 331.5,1683.8 331.8,1683.1 332.1,1696.4 332.3,1670.3 332.6,1714.1 332.9,1697.7 333.2,1675.1 333.5,1654.9 333.7,1683.9 334.0,1678.0 334.3,1695.6 334.6,1695.3 334.9,1713.4 335.2,1682.5 335.4,1696.5 335.7,1678.1 336.0,1678.9 336.3,1707.9 336.6,1682.6 336.9,1683.1 337.1,1679.4 337.4,1689.7 337.7,1693.9 338.0,1683.1 338.3,1667.6 338.6,1690.1 338.8,1672.6 339.1,1679.7 339.4,1688.3 339.7,1688.9 340.0,1650.7 340.2,1710.9 340.5,1697.3 340.8,1714.5 341.1,1719.6 341.4,1671.0 341.7,1676.7 341.9,1688.9 342.2,1699.3 342.5,1677.4 342.8,1680.3 343.1,1701.3 343.4,1671.7 343.6,1688.2 343.9,1701.4 344.2,1681.0 344.5,1696.7 344.8,1683.2 345.1,1660.9 345.3,1676.6 345.6,1681.7 345.9,1679.6 346.2,1685.0 346.5,1690.6 346.7,1688.9 347.0,1687.2 347.3,1677.9 347.6,1681.1 347.9,1678.7 348.2,1675.4 348.4,1704.9 348.7,1655.4 349.0,1687.5 349.3,1659.2 349.6,1674.8 349.9,1695.8 350.1,1679.3 350.4,1704.6 350.7,1669.1 351.0,1678.9 351.3,1673.7 351.6,1683.3 351.8,1678.3 352.1,1677.2 352.4,1684.1 352.7,1699.4 353.0,1684.9 353.2,1683.4 353.5,1678.0 353.8,1671.6 354.1,1660.4 354.4,1666.3 354.7,1682.5 354.9,1653.1 355.2,1691.6 355.5,1675.4 355.8,1667.5 356.1,1673.4 356.4,1691.4 356.6,1687.1 356.9,1685.5 357.2,1708.1 357.5,1717.0 357.8,1662.7 358.1,1695.5 358.3,1670.9 358.6,1661.8 358.9,1674.8 359.2,1698.2 359.5,1678.4 359.7,1676.1 360.0,1704.6 360.3,1691.3 360.6,1682.7 360.9,1711.3 361.2,1691.5 361.4,1673.4 361.7,1668.1 362.0,1678.2 362.3,1687.2 362.6,1698.9 362.9,1697.5 363.1,1686.6 363.4,1667.2 363.7,1698.9 364.0,1686.2 364.3,1668.4 364.6,1666.1 364.8,1688.0 365.1,1689.8 365.4,1696.8 365.7,1666.1 366.0,1713.3 366.2,1657.0 366.5,1683.7 366.8,1704.5 367.1,1700.0 367.4,1669.8 367.7,1693.4 367.9,1702.7 368.2,1695.2 368.5,1669.2 368.8,1709.2 369.1,1659.4 369.4,1684.5 369.6,1667.6 369.9,1677.3 370.2,1678.7 370.5,1691.1 370.8,1664.5 371.1,1686.8 371.3,1703.0 371.6,1684.6 371.9,1691.6 372.2,1689.9 372.5,1672.1 372.7,1677.7 373.0,1684.1 373.3,1690.6 373.6,1714.0 373.9,1708.0 374.2,1676.4 374.4,1676.9 374.7,1668.1 375.0,1650.1 375.3,1703.3 375.6,1691.5 375.9,1654.1 376.1,1683.8 376.4,1719.1 376.7,1691.1 377.0,1691.4 377.3,1686.9 377.6,1672.3 377.8,1666.2 378.1,1671.4 378.4,1686.2 378.7,1680.4 379.0,1694.7 379.2,1710.8 379.5,1693.3 379.8,1697.0 380.1,1679.0 380.4,1664.8 380.7,1717.3 380.9,1695.5 381.2,1702.5 381.5,1678.9 381.8,1659.0 382.1,1704.7 382.4,1652.1 382.6,1682.2 382.9,1676.7 383.2,1688.2 383.5,1697.2 383.8,1697.4 384.1,1653.0 384.3,1700.0 384.6,1656.1 384.9,1695.2 385.2,1678.3 385.5,1667.8 385.7,1677.0 386.0,1665.0 386.3,1684.9 386.6,1699.5 386.9,1697.4 387.2,1685.9 387.4,1702.0 387.7,1693.0 388.0,1718.1 388.3,1693.3 388.6,1676.4 388.9,1681.0 389.1,1673.9 389.4,1681.1 389.7,1683.3 390.0,1696.0 390.3,1697.5 390.6,1686.4 390.8,1692.1 391.1,1674.4 391.4,1677.3 391.7,1651.8 392.0,1673.9 392.2,1678.2 392.5,1720.7 392.8,1665.2 393.1,1686.8 393.4,1680.8 393.7,1661.9 393.9,1689.9 394.2,1686.1 394.5,1663.7 394.8,1652.1 395.1,1685.1 395.4,1664.3 395.6,1696.4 395.9,1681.9 396.2,1694.3 396.5,1681.6 396.8,1709.8 397.1,1696.9 397.3,1709.7 397.6,1688.3 397.9,1670.9 398.2,1664.9 398.5,1678.9 398.7,1691.0 399.0,1676.9 399.3,1721.1 399.6,1685.6 399.9,1693.6 400.2,1687.8 400.4,1667.4 400.7,1702.7 401.0,1696.5 401.3,1699.8 401.6,1672.4 401.9,1686.9 402.1,1686.0 402.4,1704.5 402.7,1665.5 403.0,1696.9 403.3,1706.0 403.6,1680.2 403.8,1674.2 404.1,1706.9 404.4,1690.4 404.7,1703.9 405.0,1698.2 405.2,1703.0 405.5,1683.9 405.8,1654.2 406.1,1695.8 406.4,1676.2 406.7,1696.1 406.9,1678.5 407.2,1711.5 407.5,1682.8 407.8,1699.3 408.1,1703.6 408.4,1685.3 408.6,1691.5 408.9,1686.2 409.2,1672.3 409.5,1709.0 409.8,1672.3 410.1,1662.3 410.3,1678.5 410.6,1688.2 410.9,1687.2 411.2,1680.9 411.5,1679.1 411.7,1653.1 412.0,1695.5 412.3,1712.5 412.6,1674.7 412.9,1658.1 413.2,1697.2 413.4,1683.1 413.7,1650.7 414.0,1674.1 414.3,1663.2 414.6,1667.5 414.9,1716.2 415.1,1700.8 415.4,1683.2 415.7,1685.9 416.0,1709.9 416.3,1668.7 416.6,1697.0 416.8,1675.8 417.1,1698.5 417.4,1689.0 417.7,1674.1 418.0,1702.0 418.2,1694.0 418.5,1714.0 418.8,1679.2 419.1,1687.6 419.4,1674.8 419.7,1704.4 419.9,1673.7 420.2,1685.1 420.5,1705.6 420.8,1693.5 421.1,1689.8 421.4,1689.4 421.6,1690.5 421.9,1695.2 422.2,1680.4 422.5,1654.1 422.8,1705.7 423.1,1668.3 423.3,1713.5 423.6,1689.1 423.9,1718.6 424.2,1702.9 424.5,1691.0 424.7,1698.7 425.0,1662.4 425.3,1686.9 425.6,1678.3 425.9,1684.1 426.2,1651.6 426.4,1649.1 426.7,1694.7 427.0,1684.1 427.3,1676.2 427.6,1681.6 427.9,1672.7 428.1,1675.2 428.4,1693.4 428.7,1678.9 429.0,1693.5 429.3,1671.2 429.6,1653.7 429.8,1671.7 430.1,1679.7 430.4,1664.2 430.7,1675.6 431.0,1673.7 431.2,1696.2 431.5,1694.7 431.8,1698.7 432.1,1669.1 432.4,1686.5 432.7,1701.4 432.9,1683.8 433.2,1679.7 433.5,1668.6 433.8,1693.9 434.1,1683.4 434.4,1696.4 434.6,1678.0 434.9,1713.1 435.2,1679.8 435.5,1660.6 435.8,1683.3 436.1,1687.6 436.3,1700.3 436.6,1672.2 436.9,1671.1 437.2,1675.3 437.5,1673.3 437.7,1645.8 438.0,1690.8 438.3,1699.2 438.6,1667.1 438.9,1663.5 439.2,1676.8 439.4,1666.0 439.7,1691.4 440.0,1669.0 440.3,1688.5 440.6,1659.0 440.9,1656.2 441.1,1653.9 441.4,1655.9 441.7,1685.2 442.0,1691.7 442.3,1680.5 442.6,1681.6 442.8,1643.1 443.1,1695.6 443.4,1658.3 443.7,1698.5 444.0,1713.0 444.2,1678.7 444.5,1687.5 444.8,1687.3 445.1,1656.6 445.4,1659.5 445.7,1666.3 445.9,1679.6 446.2,1690.4 446.5,1678.8 446.8,1694.3 447.1,1668.8 447.4,1654.5 447.6,1677.4 447.9,1676.1 448.2,1654.6 448.5,1693.3 448.8,1662.1 449.1,1665.8 449.3,1680.8 449.6,1660.3 449.9,1687.2 450.2,1683.6 450.5,1684.7 450.7,1677.6 451.0,1670.2 451.3,1665.7 451.6,1682.7 451.9,1699.5 452.2,1690.4 452.4,1683.9 452.7,1694.0 453.0,1699.3 453.3,1658.6 453.6,1677.8 453.9,1697.8 454.1,1668.4 454.4,1671.4 454.7,1688.5 455.0,1675.4 455.3,1698.0 455.6,1674.2 455.8,1688.6 456.1,1713.8 456.4,1697.4 456.7,1658.1 457.0,1663.1 457.2,1663.6 457.5,1678.8 457.8,1657.5 458.1,1688.4 458.4,1706.8 458.7,1704.3 458.9,1667.8 459.2,1675.4 459.5,1675.1 459.8,1666.9 460.1,1706.6 460.4,1669.1 460.6,1662.5 460.9,1685.7 461.2,1685.3 461.5,1704.1 461.8,1704.3 462.0,1677.3 462.3,1647.3 462.6,1690.8 462.9,1692.9 463.2,1708.5 463.5,1655.6 463.7,1662.0 464.0,1704.8 464.3,1705.9 464.6,1700.8 464.9,1680.1 465.2,1700.7 465.4,1671.8 465.7,1661.0 466.0,1679.6 466.3,1682.2 466.6,1693.2 466.9,1697.8 467.1,1653.0 467.4,1685.1 467.7,1688.3 468.0,1660.9 468.3,1676.6 468.5,1681.6 468.8,1687.8 469.1,1667.4 469.4,1671.4 469.7,1663.6 470.0,1686.3 470.2,1675.8 470.5,1671.8 470.8,1691.1 471.1,1678.5 471.4,1662.4 471.7,1699.0 471.9,1696.5 472.2,1688.4 472.5,1664.9 472.8,1698.5 473.1,1671.8 473.4,1651.6 473.6,1678.9 473.9,1709.1 474.2,1673.7 474.5,1689.9 474.8,1702.2 475.0,1683.5 475.3,1675.6 475.6,1680.7 475.9,1689.6 476.2,1672.4 476.5,1685.8 476.7,1689.0 477.0,1674.3 477.3,1691.4 477.6,1688.9 477.9,1675.0 478.2,1677.1 478.4,1681.7 478.7,1677.5 479.0,1676.6 479.3,1663.8 479.6,1681.4 479.9,1691.2 480.1,1689.6 480.4,1666.7 480.7,1688.3 481.0,1689.0 481.3,1665.0 481.5,1687.5 481.8,1676.6 482.1,1673.5 482.4,1682.9 482.7,1675.9 483.0,1644.2 483.2,1682.3 483.5,1661.5 483.8,1677.5 484.1,1689.5 484.4,1675.1 484.7,1671.7 484.9,1680.8 485.2,1686.3 485.5,1665.4 485.8,1668.6 486.1,1686.2 486.4,1703.3 486.6,1678.2 486.9,1691.9 487.2,1666.5 487.5,1678.2 487.8,1679.1 488.0,1657.8 488.3,1677.5 488.6,1674.8 488.9,1642.4 489.2,1676.2 489.5,1682.0 489.7,1681.1 490.0,1682.2 490.3,1659.7 490.6,1665.5 490.9,1673.9 491.2,1663.2 491.4,1669.4 491.7,1695.8 492.0,1662.8 492.3,1671.2 492.6,1705.2 492.9,1674.4 493.1,1660.7 493.4,1680.4 493.7,1679.2 494.0,1678.6 494.3,1650.4 494.5,1680.8 494.8,1682.4 495.1,1708.7 495.4,1687.2 495.7,1669.8 496.0,1681.5 496.2,1687.1 496.5,1674.4 496.8,1676.0 497.1,1698.2 497.4,1684.5 497.7,1685.0 497.9,1661.9 498.2,1683.8 498.5,1647.4 498.8,1696.6 499.1,1670.1 499.4,1687.4 499.6,1699.4 499.9,1660.5 500.2,1695.8 500.5,1681.2 500.8,1695.8 501.0,1672.1 501.3,1667.0 501.6,1698.2 501.9,1684.5 502.2,1678.7 502.5,1659.9 502.7,1698.8 503.0,1672.7 503.3,1674.6 503.6,1667.1 503.9,1678.2 504.2,1687.3 504.4,1677.0 504.7,1676.6 505.0,1669.2 505.3,1701.4 505.6,1703.5 505.9,1673.2 506.1,1663.9 506.4,1681.9 506.7,1652.3 507.0,1681.6 507.3,1682.0 507.5,1680.3 507.8,1702.8 508.1,1706.7 508.4,1684.8 508.7,1672.0 509.0,1694.0 509.2,1695.7 509.5,1658.8 509.8,1666.2 510.1,1673.6 510.4,1651.4 510.7,1660.1 510.9,1703.6 511.2,1657.7 511.5,1691.0 511.8,1664.9 512.1,1693.4 512.4,1682.8 512.6,1692.0 512.9,1655.7 513.2,1682.3 513.5,1668.7 513.8,1689.8 514.0,1689.1 514.3,1680.4 514.6,1675.7 514.9,1677.5 515.2,1681.7 515.5,1669.6 515.7,1670.7 516.0,1667.5 516.3,1661.0 516.6,1694.2 516.9,1656.7 517.2,1698.3 517.4,1688.9 517.7,1650.5 518.0,1648.6 518.3,1678.0 518.6,1660.7 518.9,1679.8 519.1,1692.7 519.4,1683.3 519.7,1674.2 520.0,1674.7 520.3,1700.9 520.5,1671.9 520.8,1705.2 521.1,1710.1 521.4,1672.0 521.7,1682.5 522.0,1705.0 522.2,1666.7 522.5,1684.6 522.8,1694.4 523.1,1661.3 523.4,1683.6 523.7,1679.7 523.9,1669.3 524.2,1702.0 524.5,1675.4 524.8,1713.2 525.1,1688.8 525.4,1666.2 525.6,1681.5 525.9,1665.2 526.2,1690.2 526.5,1687.6 526.8,1658.3 527.0,1670.5 527.3,1684.5 527.6,1677.8 527.9,1661.3 528.2,1694.0 528.5,1698.2 528.7,1653.1 529.0,1699.8 529.3,1644.0 529.6,1674.0 529.9,1665.5 530.2,1667.2 530.4,1678.7 530.7,1657.3 531.0,1674.0 531.3,1702.1 531.6,1682.6 531.9,1698.9 532.1,1689.0 532.4,1649.6 532.7,1703.2 533.0,1688.6 533.3,1685.4 533.5,1669.0 533.8,1666.7 534.1,1658.3 534.4,1672.4 534.7,1676.5 535.0,1672.1 535.2,1672.1 535.5,1643.8 535.8,1662.5 536.1,1661.8 536.4,1678.9 536.7,1667.0 536.9,1666.9 537.2,1675.3 537.5,1666.3 537.8,1669.2 538.1,1690.9 538.4,1671.0 538.6,1659.2 538.9,1682.8 539.2,1685.9 539.5,1683.1 539.8,1652.4 540.0,1687.9 540.3,1673.7 540.6,1675.0 540.9,1674.3 541.2,1680.1 541.5,1680.5 541.7,1695.9 542.0,1676.5 542.3,1671.3 542.6,1682.7 542.9,1670.9 543.2,1689.6 543.4,1674.9 543.7,1684.0 544.0,1664.2 544.3,1687.8 544.6,1681.9 544.9,1658.9 545.1,1666.2 545.4,1673.3 545.7,1651.3 546.0,1654.8 546.3,1679.3 546.5,1679.5 546.8,1692.7 547.1,1651.6 547.4,1665.9 547.7,1639.9 548.0,1698.9 548.2,1650.9 548.5,1667.7 548.8,1701.6 549.1,1693.8 549.4,1658.0 549.7,1706.7 549.9,1678.5 550.2,1655.4 550.5,1675.5 550.8,1681.3 551.1,1681.2 551.4,1638.1 551.6,1700.0 551.9,1646.2 552.2,1667.9 552.5,1693.6 552.8,1677.3 553.0,1670.6 553.3,1661.7 553.6,1680.2 553.9,1692.7 554.2,1662.6 554.5,1677.8 554.7,1665.4 555.0,1664.7 555.3,1638.8 555.6,1675.3 555.9,1686.0 556.2,1669.0 556.4,1687.8 556.7,1674.2 557.0,1690.7 557.3,1673.9 557.6,1665.9 557.9,1663.9 558.1,1673.1 558.4,1676.3 558.7,1659.5 559.0,1669.4 559.3,1651.0 559.5,1650.8 559.8,1681.9 560.1,1677.5 560.4,1685.6 560.7,1674.0 561.0,1675.7 561.2,1700.5 561.5,1658.8 561.8,1676.3 562.1,1696.3 562.4,1703.5 562.7,1680.6 562.9,1670.1 563.2,1655.4 563.5,1669.3 563.8,1674.1 564.1,1672.0 564.4,1679.6 564.6,1680.5 564.9,1664.4 565.2,1657.8 565.5,1667.1 565.8,1678.4 566.0,1696.9 566.3,1646.3 566.6,1688.2 566.9,1667.1 567.2,1688.5 567.5,1700.7 567.7,1679.2 568.0,1653.8 568.3,1665.0 568.6,1677.0 568.9,1666.3 569.2,1670.3 569.4,1659.4 569.7,1667.9 570.0,1661.7 570.3,1684.6 570.6,1676.0 570.9,1682.7 571.1,1646.1 571.4,1664.3 571.7,1659.8 572.0,1664.5 572.3,1657.6 572.5,1660.0 572.8,1695.4 573.1,1666.9 573.4,1651.6 573.7,1666.4 574.0,1705.6 574.2,1681.8 574.5,1656.6 574.8,1667.0 575.1,1669.7 575.4,1671.3 575.7,1642.2 575.9,1656.1 576.2,1668.0 576.5,1644.1 576.8,1667.7 577.1,1671.6 577.4,1682.4 577.6,1686.8 577.9,1667.6 578.2,1673.9 578.5,1680.8 578.8,1686.0 579.0,1671.5 579.3,1658.7 579.6,1679.4 579.9,1683.4 580.2,1672.5 580.5,1679.0 580.7,1694.7 581.0,1662.4 581.3,1659.3 581.6,1653.4 581.9,1675.5 582.2,1684.7 582.4,1662.3 582.7,1697.9 583.0,1661.1 583.3,1674.2 583.6,1668.2 583.9,1691.3 584.1,1660.3 584.4,1695.3 584.7,1667.3 585.0,1649.3 585.3,1661.1 585.5,1667.4 585.8,1695.7 586.1,1662.4 586.4,1669.6 586.7,1701.7 587.0,1672.1 587.2,1660.0 587.5,1658.2 587.8,1645.5 588.1,1675.0 588.4,1688.1 588.7,1663.8 588.9,1653.0 589.2,1673.5 589.5,1669.3 589.8,1666.9 590.1,1675.9 590.4,1669.4 590.6,1663.3 590.9,1684.2 591.2,1640.1 591.5,1651.2 591.8,1664.3 592.0,1647.6 592.3,1691.8 592.6,1634.5 592.9,1679.2 593.2,1677.1 593.5,1673.5 593.7,1674.8 594.0,1659.3 594.3,1656.9 594.6,1690.1 594.9,1665.7 595.2,1645.1 595.4,1648.6 595.7,1643.9 596.0,1672.7 596.3,1686.0 596.6,1662.9 596.9,1669.7 597.1,1659.2 597.4,1680.7 597.7,1680.3 598.0,1680.7 598.3,1694.1 598.5,1646.3 598.8,1677.9 599.1,1640.7 599.4,1676.1 599.7,1677.3 600.0,1675.6 600.2,1676.6 600.5,1661.6 600.8,1653.4 601.1,1675.1 601.4,1652.9 601.7,1673.6 601.9,1648.8 602.2,1667.1 602.5,1666.0 602.8,1648.0 603.1,1655.7 603.3,1674.9 603.6,1660.6 603.9,1668.0 604.2,1650.8 604.5,1660.9 604.8,1635.5 605.0,1646.2 605.3,1677.8 605.6,1666.3 605.9,1657.6 606.2,1659.2 606.5,1635.4 606.7,1662.8 607.0,1636.5 607.3,1643.9 607.6,1666.1 607.9,1643.0 608.2,1646.1 608.4,1652.5 608.7,1655.0 609.0,1674.3 609.3,1625.5 609.6,1645.7 609.8,1661.2 610.1,1643.6 610.4,1644.7 610.7,1637.7 611.0,1645.3 611.3,1660.2 611.5,1669.3 611.8,1654.7 612.1,1670.7 612.4,1650.0 612.7,1621.6 613.0,1659.7 613.2,1615.1 613.5,1646.0 613.8,1646.5 614.1,1628.0 614.4,1642.5 614.7,1636.8 614.9,1647.4 615.2,1639.9 615.5,1654.2 615.8,1638.0 616.1,1653.5 616.3,1643.4 616.6,1647.0 616.9,1644.6 617.2,1634.7 617.5,1659.9 617.8,1651.0 618.0,1604.9 618.3,1621.4 618.6,1668.0 618.9,1635.8 619.2,1678.9 619.5,1646.6 619.7,1646.6 620.0,1631.5 620.3,1635.0 620.6,1640.8 620.9,1652.6 621.2,1639.1 621.4,1636.4 621.7,1620.9 622.0,1628.8 622.3,1629.1 622.6,1633.4 622.8,1623.3 623.1,1617.0 623.4,1629.2 623.7,1594.8 624.0,1608.9 624.3,1619.5 624.5,1638.7 624.8,1620.6 625.1,1613.7 625.4,1641.8 625.7,1628.3 626.0,1652.0 626.2,1626.1 626.5,1617.7 626.8,1622.7 627.1,1657.2 627.4,1653.1 627.7,1630.0 627.9,1644.2 628.2,1603.6 628.5,1647.2 628.8,1631.6 629.1,1624.1 629.3,1625.5 629.6,1628.9 629.9,1616.7 630.2,1617.5 630.5,1603.0 630.8,1649.2 631.0,1607.3 631.3,1619.1 631.6,1638.4 631.9,1641.0 632.2,1643.9 632.5,1608.9 632.7,1610.7 633.0,1616.4 633.3,1585.4 633.6,1631.2 633.9,1587.6 634.2,1612.6 634.4,1629.8 634.7,1628.1 635.0,1605.4 635.3,1628.1 635.6,1630.4 635.8,1582.0 636.1,1606.1 636.4,1621.5 636.7,1617.1 637.0,1605.3 637.3,1606.5 637.5,1648.2 637.8,1601.0 638.1,1625.4 638.4,1585.5 638.7,1615.6 639.0,1624.9 639.2,1599.6 639.5,1596.4 639.8,1640.4 640.1,1604.6 640.4,1626.6 640.7,1583.3 640.9,1639.5 641.2,1574.4 641.5,1593.7 641.8,1599.9 642.1,1609.9 642.3,1614.8 642.6,1640.3 642.9,1649.4 643.2,1646.2 643.5,1627.6 643.8,1616.9 644.0,1576.2 644.3,1612.2 644.6,1603.5 644.9,1625.6 645.2,1596.3 645.5,1599.7 645.7,1601.5 646.0,1626.9 646.3,1618.6 646.6,1597.1 646.9,1584.5 647.2,1605.7 647.4,1604.7 647.7,1606.5 648.0,1618.2 648.3,1630.2 648.6,1631.5 648.8,1605.1 649.1,1603.7 649.4,1645.6 649.7,1613.8 650.0,1631.8 650.3,1622.4 650.5,1626.3 650.8,1648.9 651.1,1615.6 651.4,1640.6 651.7,1630.4 652.0,1618.3 652.2,1612.7 652.5,1611.8 652.8,1643.4 653.1,1640.7 653.4,1606.8 653.7,1630.3 653.9,1589.3 654.2,1624.5 654.5,1662.0 654.8,1601.7 655.1,1630.0 655.3,1613.0 655.6,1626.5 655.9,1605.2 656.2,1628.9 656.5,1581.7 656.8,1621.0 657.0,1620.1 657.3,1624.6 657.6,1664.8 657.9,1604.8 658.2,1613.9 658.5,1601.3 658.7,1637.0 659.0,1627.9 659.3,1605.5 659.6,1645.9 659.9,1633.6 660.2,1656.0 660.4,1643.4 660.7,1630.7 661.0,1614.3 661.3,1588.1 661.6,1618.2 661.8,1651.7 662.1,1625.6 662.4,1614.1 662.7,1635.3 663.0,1645.0 663.3,1678.9 663.5,1612.2 663.8,1624.6 664.1,1609.4 664.4,1617.3 664.7,1649.2 665.0,1629.4 665.2,1603.1 665.5,1657.6 665.8,1666.1 666.1,1647.1 666.4,1612.3 666.7,1610.9 666.9,1656.9 667.2,1612.0 667.5,1620.9 667.8,1603.4 668.1,1669.5 668.3,1618.9 668.6,1628.8 668.9,1617.5 669.2,1618.8 669.5,1609.3 669.8,1654.0 670.0,1618.8 670.3,1661.0 670.6,1607.0 670.9,1641.8 671.2,1651.4 671.5,1609.6 671.7,1637.2 672.0,1621.2 672.3,1610.7 672.6,1624.1 672.9,1595.3 673.2,1626.7 673.4,1601.9 673.7,1645.7 674.0,1662.9 674.3,1660.7 674.6,1618.3 674.8,1630.8 675.1,1673.6 675.4,1660.2 675.7,1647.9 676.0,1593.1 676.3,1629.7 676.5,1681.5 676.8,1646.9 677.1,1629.2 677.4,1640.4 677.7,1687.7 678.0,1666.0 678.2,1614.5 678.5,1618.0 678.8,1642.4 679.1,1668.4 679.4,1627.3 679.7,1631.6 679.9,1598.0 680.2,1631.5 680.5,1656.9 680.8,1657.5 681.1,1615.6 681.3,1662.3 681.6,1629.4 681.9,1617.7 682.2,1657.6 682.5,1614.1 682.8,1638.4 683.0,1630.4 683.3,1645.8 683.6,1653.8 683.9,1640.6 684.2,1632.9 684.5,1640.1 684.7,1607.1 685.0,1649.3 685.3,1695.2 685.6,1660.5 685.9,1677.2 686.2,1653.7 686.4,1654.0 686.7,1663.1 687.0,1667.9 687.3,1667.2 687.6,1636.5 687.8,1654.4 688.1,1622.7 688.4,1675.5 688.7,1653.2 689.0,1647.9 689.3,1627.2 689.5,1663.5 689.8,1674.7 690.1,1664.3 690.4,1676.8 690.7,1637.4 691.0,1673.1 691.2,1653.6 691.5,1606.3 691.8,1659.5 692.1,1632.6 692.4,1650.5 692.7,1639.6 692.9,1635.1 693.2,1675.9 693.5,1642.1 693.8,1657.5 694.1,1668.4 694.3,1645.7 694.6,1627.6 694.9,1655.2 695.2,1651.9 695.5,1634.9 695.8,1656.4 696.0,1680.9 696.3,1674.5 696.6,1686.9 696.9,1683.5 697.2,1658.4 697.5,1654.6 697.7,1631.2 698.0,1679.3 698.3,1642.1 698.6,1666.3 698.9,1689.3 699.2,1656.6 699.4,1622.5 699.7,1631.9 700.0,1646.3 700.3,1682.0 700.6,1646.7 700.8,1650.6 701.1,1630.5 701.4,1660.7 701.7,1655.3 702.0,1670.0 702.3,1632.2 702.5,1664.9 702.8,1621.1 703.1,1636.5 703.4,1638.6 703.7,1645.6 704.0,1657.9 704.2,1599.6 704.5,1646.6 704.8,1639.4 705.1,1618.8 705.4,1640.4 705.7,1656.2 705.9,1636.4 706.2,1635.2 706.5,1660.1 706.8,1628.8 707.1,1667.4 707.3,1652.6 707.6,1653.3 707.9,1656.5 708.2,1670.3 708.5,1627.4 708.8,1667.5 709.0,1623.0 709.3,1649.9 709.6,1654.6 709.9,1644.3 710.2,1616.5 710.5,1613.9 710.7,1615.9 711.0,1638.5 711.3,1642.9 711.6,1650.9 711.9,1605.1 712.2,1644.8 712.4,1659.7 712.7,1640.7 713.0,1636.5 713.3,1654.1 713.6,1670.4 713.8,1667.9 714.1,1668.6 714.4,1607.4 714.7,1666.1 715.0,1627.6 715.3,1652.3 715.5,1620.6 715.8,1641.3 716.1,1620.4 716.4,1626.2 716.7,1673.3 717.0,1604.5 717.2,1650.7 717.5,1629.8 717.8,1603.4 718.1,1654.9 718.4,1626.1 718.7,1612.3 718.9,1630.6 719.2,1604.9 719.5,1657.5 719.8,1588.1 720.1,1608.1 720.3,1574.8 720.6,1622.5 720.9,1633.9 721.2,1635.2 721.5,1647.6 721.8,1613.0 722.0,1602.3 722.3,1631.1 722.6,1597.1 722.9,1616.5 723.2,1598.0 723.5,1591.4 723.7,1605.0 724.0,1629.4 724.3,1623.9 724.6,1606.2 724.9,1549.8 725.2,1601.4 725.4,1608.5 725.7,1611.0 726.0,1582.7 726.3,1619.1 726.6,1603.4 726.8,1554.0 727.1,1610.4 727.4,1628.6 727.7,1597.9 728.0,1574.0 728.3,1629.5 728.5,1610.9 728.8,1548.3 729.1,1609.4 729.4,1593.8 729.7,1589.7 730.0,1543.7 730.2,1543.9 730.5,1582.6 730.8,1619.1 731.1,1579.5 731.4,1576.2 731.7,1559.3 731.9,1562.5 732.2,1591.9 732.5,1551.1 732.8,1607.2 733.1,1575.1 733.3,1569.9 733.6,1558.6 733.9,1544.0 734.2,1552.6 734.5,1524.8 734.8,1556.2 735.0,1511.7 735.3,1599.4 735.6,1548.3 735.9,1514.7 736.2,1551.9 736.5,1547.2 736.7,1531.0 737.0,1547.0 737.3,1522.3 737.6,1535.4 737.9,1532.8 738.2,1545.9 738.4,1521.7 738.7,1538.5 739.0,1482.2 739.3,1552.8 739.6,1532.0 739.8,1538.5 740.1,1519.8 740.4,1543.0 740.7,1521.6 741.0,1525.5 741.3,1521.5 741.5,1507.1 741.8,1498.1 742.1,1528.7 742.4,1529.9 742.7,1514.1 743.0,1541.6 743.2,1516.3 743.5,1523.2 743.8,1535.5 744.1,1526.2 744.4,1505.8 744.6,1485.0 744.9,1491.2 745.2,1483.9 745.5,1523.1 745.8,1454.7 746.1,1547.7 746.3,1483.5 746.6,1525.5 746.9,1507.6 747.2,1511.8 747.5,1470.8 747.8,1520.7 748.0,1495.1 748.3,1509.9 748.6,1474.8 748.9,1493.6 749.2,1478.0 749.5,1499.2 749.7,1506.4 750.0,1485.5 750.3,1499.1 750.6,1499.7 750.9,1486.1 751.1,1480.6 751.4,1443.4 751.7,1507.6 752.0,1487.3 752.3,1477.2 752.6,1486.2 752.8,1469.2 753.1,1472.8 753.4,1489.5 753.7,1445.3 754.0,1472.2 754.3,1484.9 754.5,1446.4 754.8,1457.5 755.1,1509.2 755.4,1530.3 755.7,1490.0 756.0,1498.8 756.2,1466.3 756.5,1515.1 756.8,1485.4 757.1,1489.4 757.4,1496.9 757.6,1476.4 757.9,1474.3 758.2,1489.6 758.5,1468.0 758.8,1479.0 759.1,1441.4 759.3,1471.1 759.6,1503.4 759.9,1517.9 760.2,1507.8 760.5,1477.6 760.8,1497.8 761.0,1476.7 761.3,1474.8 761.6,1519.2 761.9,1491.0 762.2,1492.7 762.5,1504.3 762.7,1520.7 763.0,1504.5 763.3,1497.6 763.6,1510.5 763.9,1502.6 764.1,1498.6 764.4,1459.6 764.7,1488.4 765.0,1504.8 765.3,1487.0 765.6,1547.9 765.8,1557.0 766.1,1546.6 766.4,1493.2 766.7,1523.3 767.0,1522.6 767.3,1522.2 767.5,1482.6 767.8,1536.1 768.1,1553.1 768.4,1535.7 768.7,1563.8 769.0,1514.3 769.2,1535.9 769.5,1549.4 769.8,1504.0 770.1,1521.7 770.4,1509.5 770.6,1544.4 770.9,1503.3 771.2,1534.3 771.5,1517.6 771.8,1548.3 772.1,1519.6 772.3,1528.0 772.6,1537.4 772.9,1517.2 773.2,1524.7 773.5,1529.5 773.8,1524.8 774.0,1541.6 774.3,1520.8 774.6,1539.3 774.9,1531.7 775.2,1525.3 775.5,1516.0 775.7,1500.2 776.0,1525.6 776.3,1552.7 776.6,1534.4 776.9,1574.2 777.1,1522.3 777.4,1535.5 777.7,1510.7 778.0,1569.0 778.3,1517.2 778.6,1555.7 778.8,1553.2 779.1,1597.4 779.4,1576.9 779.7,1566.2 780.0,1553.4 780.3,1591.0 780.5,1544.5 780.8,1526.8 781.1,1572.4 781.4,1553.4 781.7,1540.7 782.0,1563.5 782.2,1567.9 782.5,1525.1 782.8,1579.3 783.1,1601.6 783.4,1552.1 783.6,1529.3 783.9,1567.5 784.2,1560.2 784.5,1580.1 784.8,1584.0 785.1,1562.6 785.3,1598.3 785.6,1526.0 785.9,1552.7 786.2,1572.3 786.5,1577.7 786.8,1568.1 787.0,1580.5 787.3,1544.2 787.6,1523.5 787.9,1590.9 788.2,1602.7 788.5,1575.1 788.7,1551.1 789.0,1561.8 789.3,1590.5 789.6,1582.9 789.9,1607.3 790.1,1615.2 790.4,1607.2 790.7,1576.9 791.0,1604.2 791.3,1592.5 791.6,1586.1 791.8,1585.2 792.1,1579.3 792.4,1559.4 792.7,1588.7 793.0,1564.2 793.3,1579.3 793.5,1597.2 793.8,1596.6 794.1,1540.4 794.4,1565.1 794.7,1556.0 795.0,1585.0 795.2,1563.2 795.5,1598.7 795.8,1568.9 796.1,1588.2 796.4,1557.4 796.6,1562.2 796.9,1571.8 797.2,1586.8 797.5,1533.5 797.8,1578.8 798.1,1546.0 798.3,1580.3 798.6,1538.3 798.9,1567.0 799.2,1601.5 799.5,1606.7 799.8,1554.0 800.0,1611.5 800.3,1566.1 800.6,1575.7 800.9,1585.5 801.2,1576.8 801.5,1582.0 801.7,1578.2 802.0,1592.4 802.3,1578.5 802.6,1564.3 802.9,1552.0 803.1,1551.0 803.4,1571.0 803.7,1587.5 804.0,1578.7 804.3,1565.0 804.6,1580.2 804.8,1558.7 805.1,1572.8 805.4,1579.5 805.7,1561.6 806.0,1597.3 806.3,1592.4 806.5,1562.3 806.8,1581.2 807.1,1571.8 807.4,1574.3 807.7,1573.8 808.0,1594.4 808.2,1573.4 808.5,1572.7 808.8,1585.7 809.1,1584.6 809.4,1601.6 809.6,1548.5 809.9,1579.1 810.2,1526.8 810.5,1565.3 810.8,1537.7 811.1,1536.7 811.3,1561.1 811.6,1541.1 811.9,1556.9 812.2,1514.1 812.5,1590.5 812.8,1513.5 813.0,1547.6 813.3,1596.0 813.6,1532.5 813.9,1595.4 814.2,1582.8 814.5,1558.0 814.7,1551.9 815.0,1553.1 815.3,1564.3 815.6,1578.4 815.9,1585.2 816.1,1514.2 816.4,1575.1 816.7,1569.5 817.0,1531.3 817.3,1574.4 817.6,1574.8 817.8,1574.0 818.1,1553.6 818.4,1570.7 818.7,1579.0 819.0,1540.3 819.3,1543.2 819.5,1541.0 819.8,1576.7 820.1,1552.6 820.4,1536.9 820.7,1530.4 821.0,1524.9 821.2,1555.1 821.5,1567.3 821.8,1575.6 822.1,1528.9 822.4,1529.1 822.6,1529.0 822.9,1530.4 823.2,1516.7 823.5,1578.2 823.8,1556.0 824.1,1535.7 824.3,1498.3 824.6,1572.8 824.9,1560.4 825.2,1546.7 825.5,1558.3 825.8,1529.4 826.0,1556.0 826.3,1531.3 826.6,1551.4 826.9,1538.5 827.2,1514.5 827.5,1518.9 827.7,1562.4 828.0,1560.4 828.3,1535.7 828.6,1524.6 828.9,1529.1 829.1,1545.6 829.4,1509.2 829.7,1556.4 830.0,1519.5 830.3,1512.6 830.6,1534.5 830.8,1573.6 831.1,1519.7 831.4,1525.8 831.7,1509.2 832.0,1537.5 832.3,1537.4 832.5,1531.1 832.8,1522.9 833.1,1537.7 833.4,1545.9 833.7,1520.1 834.0,1523.5 834.2,1515.1 834.5,1516.2 834.8,1550.7 835.1,1506.3 835.4,1529.2 835.6,1545.6 835.9,1514.6 836.2,1535.3 836.5,1537.8 836.8,1494.5 837.1,1541.1 837.3,1502.2 837.6,1523.5 837.9,1491.3 838.2,1489.1 838.5,1514.7 838.8,1549.5 839.0,1564.0 839.3,1563.3 839.6,1543.1 839.9,1539.3 840.2,1531.1 840.5,1528.9 840.7,1510.4 841.0,1509.2 841.3,1525.8 841.6,1527.1 841.9,1507.8 842.1,1498.0 842.4,1506.8 842.7,1562.7 843.0,1508.4 843.3,1547.1 843.6,1543.5 843.8,1541.3 844.1,1512.1 844.4,1558.6 844.7,1528.9 845.0,1513.8 845.3,1512.3 845.5,1522.7 845.8,1561.9 846.1,1503.9 846.4,1515.0 846.7,1527.1 847.0,1535.7 847.2,1509.8 847.5,1511.5 847.8,1519.3 848.1,1540.2 848.4,1526.6 848.6,1526.1 848.9,1533.6 849.2,1532.6 849.5,1546.8 849.8,1519.7 850.1,1532.2 850.3,1522.1 850.6,1544.9 850.9,1546.9 851.2,1530.1 851.5,1553.5 851.8,1531.9 852.0,1557.8 852.3,1529.7 852.6,1529.4 852.9,1513.5 853.2,1522.5 853.5,1533.9 853.7,1508.2 854.0,1542.5 854.3,1557.6 854.6,1554.1 854.9,1550.2 855.1,1558.9 855.4,1541.3 855.7,1544.1 856.0,1565.7 856.3,1552.3 856.6,1570.9 856.8,1550.0 857.1,1569.0 857.4,1578.8 857.7,1560.3 858.0,1588.4 858.3,1587.9 858.5,1532.0 858.8,1602.5 859.1,1544.7 859.4,1605.4 859.7,1558.4 860.0,1541.6 860.2,1554.3 860.5,1582.9 860.8,1562.3 861.1,1570.4 861.4,1598.5 861.6,1566.7 861.9,1590.6 862.2,1603.7 862.5,1558.3 862.8,1570.0 863.1,1592.2 863.3,1590.3 863.6,1596.2 863.9,1563.3 864.2,1582.1 864.5,1602.2 864.8,1606.5 865.0,1618.2 865.3,1594.7 865.6,1590.5 865.9,1587.7 866.2,1589.3 866.5,1573.4 866.7,1630.4 867.0,1599.2 867.3,1596.2 867.6,1598.1 867.9,1616.9 868.1,1611.0 868.4,1598.6 868.7,1626.3 869.0,1616.1 869.3,1610.2 869.6,1613.8 869.8,1632.5 870.1,1626.2 870.4,1615.2 870.7,1633.1 871.0,1586.1 871.3,1630.2 871.5,1607.7 871.8,1611.9 872.1,1618.6 872.4,1651.2 872.7,1621.7 873.0,1622.9 873.2,1634.9 873.5,1596.8 873.8,1624.4 874.1,1639.0 874.4,1614.8 874.6,1639.3 874.9,1620.2 875.2,1610.0 875.5,1646.7 875.8,1635.6 876.1,1646.8 876.3,1639.0 876.6,1621.3 876.9,1653.5 877.2,1645.7 877.5,1646.6 877.8,1635.2 878.0,1624.9 878.3,1663.1 878.6,1653.8 878.9,1645.1 879.2,1633.8 879.5,1662.8 879.7,1630.6 880.0,1632.1 880.3,1675.4 880.6,1653.0 880.9,1657.9 881.1,1655.2 881.4,1676.1 881.7,1651.1 882.0,1652.8 882.3,1632.7 882.6,1646.5 882.8,1623.6 883.1,1640.7 883.4,1646.3 883.7,1657.4 884.0,1666.9 884.3,1637.3 884.5,1631.8 884.8,1651.7 885.1,1635.2 885.4,1672.8 885.7,1666.7 885.9,1634.5 886.2,1652.1 886.5,1667.7 886.8,1636.2 887.1,1642.6 887.4,1648.8 887.6,1669.6 887.9,1657.1 888.2,1647.1 888.5,1655.4 888.8,1651.5 889.1,1653.7 889.3,1658.2 889.6,1655.0 889.9,1661.1 890.2,1652.0 890.5,1647.9 890.8,1647.5 891.0,1629.1 891.3,1644.9 891.6,1677.1 891.9,1650.9 892.2,1659.0 892.4,1663.8 892.7,1644.8 893.0,1646.8 893.3,1658.9 893.6,1638.5 893.9,1664.3 894.1,1661.1 894.4,1654.9 894.7,1655.2 895.0,1661.9 895.3,1653.2 895.6,1620.0 895.8,1658.9 896.1,1638.7 896.4,1644.9 896.7,1646.0 897.0,1646.1 897.3,1628.6 897.5,1625.5 897.8,1651.0 898.1,1652.8 898.4,1658.1 898.7,1634.7 898.9,1648.2 899.2,1663.4 899.5,1647.4 899.8,1644.5 900.1,1680.8 900.4,1629.7 900.6,1641.6 900.9,1637.6 901.2,1645.9 901.5,1684.9 901.8,1638.5 902.1,1649.1 902.3,1645.5 902.6,1641.9 902.9,1663.4 903.2,1645.1 903.5,1665.7 903.8,1669.9 904.0,1643.1 904.3,1668.6 904.6,1632.3 904.9,1652.7 905.2,1661.8 905.4,1633.0 905.7,1645.7 906.0,1652.6 906.3,1653.4 906.6,1649.6 906.9,1671.6 907.1,1641.7 907.4,1659.6 907.7,1671.6 908.0,1633.5 908.3,1635.6 908.6,1626.6 908.8,1649.9 909.1,1658.9 909.4,1615.2 909.7,1625.8 910.0,1629.5 910.3,1667.5 910.5,1631.6 910.8,1641.3 911.1,1619.1 911.4,1646.8 911.7,1620.1 911.9,1632.8 912.2,1619.1 912.5,1631.3 912.8,1629.9 913.1,1634.4 913.4,1633.6 913.6,1654.6 913.9,1619.6 914.2,1646.9 914.5,1632.7 914.8,1625.4 915.1,1631.5 915.3,1630.4 915.6,1637.9 915.9,1637.0 916.2,1633.9 916.5,1628.8 916.8,1603.4 917.0,1635.9 917.3,1638.9 917.6,1628.6 917.9,1627.2 918.2,1611.3 918.4,1626.0 918.7,1633.4 919.0,1603.8 919.3,1614.6 919.6,1613.3 919.9,1636.6 920.1,1613.4 920.4,1594.7 920.7,1620.4 921.0,1635.7 921.3,1615.3 921.6,1611.2 921.8,1619.4 922.1,1638.7 922.4,1612.2 922.7,1611.7 923.0,1620.4 923.3,1604.0 923.5,1591.3 923.8,1615.5 924.1,1608.2 924.4,1617.4 924.7,1614.0 924.9,1618.8 925.2,1596.9 925.5,1615.2 925.8,1598.2 926.1,1614.6 926.4,1603.7 926.6,1631.4 926.9,1596.8 927.2,1578.0 927.5,1609.8 927.8,1602.0 928.1,1595.8 928.3,1610.9 928.6,1629.8 928.9,1605.8 929.2,1598.6 929.5,1626.7 929.8,1622.7 930.0,1608.0 930.3,1600.6 930.6,1617.1 930.9,1598.6 931.2,1599.4 931.4,1597.0 931.7,1614.5 932.0,1627.1 932.3,1608.3 932.6,1630.4 932.9,1582.1 933.1,1607.1 933.4,1585.4 933.7,1618.9 934.0,1623.9 934.3,1584.3 934.6,1597.3 934.8,1607.9 935.1,1587.9 935.4,1595.7 935.7,1593.9 936.0,1607.6 936.3,1596.9 936.5,1591.7 936.8,1596.0 937.1,1604.7 937.4,1607.1 937.7,1603.5 937.9,1621.5 938.2,1601.3 938.5,1607.2 938.8,1613.6 939.1,1601.6 939.4,1623.1 939.6,1615.9 939.9,1616.7 940.2,1595.9 940.5,1605.8 940.8,1615.3 941.1,1621.9 941.3,1601.1 941.6,1603.0 941.9,1593.2 942.2,1591.4 942.5,1624.8 942.8,1611.3 943.0,1618.9 943.3,1626.1 943.6,1612.6 943.9,1614.8 944.2,1600.8 944.4,1606.8 944.7,1620.2 945.0,1632.9 945.3,1628.6 945.6,1607.7 945.9,1607.2 946.1,1625.8 946.4,1623.6 946.7,1624.8 947.0,1621.8 947.3,1634.5 947.6,1622.9 947.8,1637.4 948.1,1627.0 948.4,1621.3 948.7,1608.4 949.0,1625.8 949.3,1632.9 949.5,1625.0 949.8,1612.2 950.1,1602.6 950.4,1621.1 950.7,1644.6 950.9,1612.6 951.2,1620.3 951.5,1627.9 951.8,1637.1 952.1,1616.2 952.4,1628.1 952.6,1631.5 952.9,1616.4 953.2,1634.1 953.5,1619.5 953.8,1632.9 954.1,1638.5 954.3,1633.5 954.6,1620.3 954.9,1641.2 955.2,1642.2 955.5,1637.0 955.8,1644.6 956.0,1632.1 956.3,1628.9 956.6,1636.4 956.9,1643.9 957.2,1648.9 957.4,1633.2 957.7,1643.3 958.0,1643.5 958.3,1637.4 958.6,1622.2 958.9,1626.1 959.1,1654.2 959.4,1629.4 959.7,1627.2 960.0,1631.4 960.3,1643.5 960.6,1661.1 960.8,1652.3 961.1,1644.2 961.4,1646.6 961.7,1655.1 962.0,1651.8 962.3,1633.8 962.5,1665.3 962.8,1662.9 963.1,1643.1 963.4,1652.4 963.7,1660.1 963.9,1659.2 964.2,1653.6 964.5,1658.5 964.8,1677.1 965.1,1655.8 965.4,1669.7 965.6,1662.8 965.9,1648.8 966.2,1668.0 966.5,1665.7 966.8,1674.7 967.1,1679.8 967.3,1674.8 967.6,1667.7 967.9,1670.6 968.2,1674.3 968.5,1657.9 968.8,1656.4 969.0,1675.3 969.3,1656.3 969.6,1665.5 969.9,1687.5 970.2,1679.0 970.4,1683.0 970.7,1670.3 971.0,1683.1 971.3,1663.1 971.6,1663.9 971.9,1671.0 972.1,1666.1 972.4,1687.3 972.7,1672.7 973.0,1662.8 973.3,1684.7 973.6,1683.5 973.8,1688.9 974.1,1664.8 974.4,1668.8 974.7,1654.8 975.0,1682.6 975.3,1678.4 975.5,1673.9 975.8,1694.3 976.1,1673.0 976.4,1676.1 976.7,1672.7 976.9,1671.6 977.2,1681.9 977.5,1680.6 977.8,1679.0 978.1,1671.4 978.4,1669.2 978.6,1677.0 978.9,1682.8 979.2,1674.6 979.5,1679.4 979.8,1680.4 980.1,1674.5 980.3,1668.9 980.6,1683.2 980.9,1701.5 981.2,1690.3 981.5,1684.4 981.8,1678.6 982.0,1679.5 982.3,1697.6 982.6,1674.9 982.9,1705.7 983.2,1688.1 983.4,1691.1 983.7,1684.6 984.0,1698.6 984.3,1698.6 984.6,1681.6 984.9,1708.5 985.1,1691.8 985.4,1674.5 985.7,1695.5 986.0,1694.0 986.3,1692.8 986.6,1700.1 986.8,1702.7 987.1,1679.2 987.4,1689.7 987.7,1690.6 988.0,1692.7 988.3,1673.9 988.5,1695.4 988.8,1693.6 989.1,1713.3 989.4,1684.6 989.7,1688.6 989.9,1698.6 990.2,1694.1 990.5,1703.6 990.8,1707.3 991.1,1685.7 991.4,1696.3 991.6,1702.2 991.9,1687.8 992.2,1719.2 992.5,1699.2 992.8,1698.1 993.1,1680.7 993.3,1689.7 993.6,1676.2 993.9,1704.2 994.2,1689.1 994.5,1698.4 994.8,1701.7 995.0,1700.1 995.3,1693.9 995.6,1706.2 995.9,1686.9 996.2,1679.2 996.4,1683.5 996.7,1707.1 997.0,1714.1 997.3,1692.5 997.6,1694.0 997.9,1704.2 998.1,1686.1 998.4,1695.0 998.7,1685.4 999.0,1701.2 999.3,1676.8 999.6,1685.1 999.8,1682.8 1000.1,1700.6 1000.4,1706.6 1000.7,1701.4 1001.0,1723.6 1001.3,1702.6 1001.5,1692.4 1001.8,1697.7 1002.1,1709.6 1002.4,1707.4 1002.7,1725.3 1002.9,1704.9 1003.2,1692.9 1003.5,1691.3 1003.8,1711.3 1004.1,1679.0 1004.4,1707.0 1004.6,1711.8 1004.9,1698.3 1005.2,1705.6 1005.5,1716.8 1005.8,1718.8 1006.1,1717.7 1006.3,1713.6 1006.6,1701.5 1006.9,1690.7 1007.2,1681.0 1007.5,1722.1 1007.8,1714.4 1008.0,1689.9 1008.3,1715.0 1008.6,1698.9 1008.9,1698.0 1009.2,1690.7 1009.4,1725.5 1009.7,1689.1 1010.0,1691.6 1010.3,1711.1 1010.6,1712.5 1010.9,1709.3 1011.1,1692.9 1011.4,1701.7 1011.7,1694.7 1012.0,1698.7 1012.3,1723.2 1012.6,1707.0 1012.8,1712.5 1013.1,1694.5 1013.4,1698.4 1013.7,1709.0 1014.0,1717.1 1014.3,1702.6 1014.5,1720.3 1014.8,1729.3 1015.1,1685.4 1015.4,1704.6 1015.7,1711.5 1015.9,1702.2 1016.2,1722.4 1016.5,1705.9 1016.8,1708.3 1017.1,1687.7 1017.4,1715.3 1017.6,1701.2 1017.9,1709.4 1018.2,1701.9 1018.5,1697.3 1018.8,1702.9 1019.1,1691.2 1019.3,1702.1 1019.6,1716.6 1019.9,1714.9 1020.2,1694.5 1020.5,1713.7 1020.8,1700.7 1021.0,1698.0 1021.3,1711.2 1021.6,1712.6 1021.9,1698.2 1022.2,1714.9 1022.4,1704.9 1022.7,1728.0 1023.0,1689.2 1023.3,1702.6 1023.6,1702.1 1023.9,1696.1 1024.1,1690.7 1024.4,1718.4 1024.7,1708.4 1025.0,1690.6 1025.3,1699.5 1025.6,1701.3 1025.8,1708.9 1026.1,1695.0 1026.4,1721.3 1026.7,1705.6 1027.0,1720.6 1027.2,1711.1 1027.5,1702.3 1027.8,1703.2 1028.1,1709.2 1028.4,1706.6 1028.7,1707.5 1028.9,1712.8 1029.2,1717.7 1029.5,1693.6 1029.8,1686.9 1030.1,1694.4 1030.4,1717.1 1030.6,1701.9 1030.9,1697.0 1031.2,1707.3 1031.5,1711.3 1031.8,1691.4 1032.1,1692.7 1032.3,1702.6 1032.6,1701.8 1032.9,1694.9 1033.2,1726.8 1033.5,1715.8 1033.7,1700.8 1034.0,1709.5 1034.3,1689.3 1034.6,1712.0 1034.9,1699.9 1035.2,1694.3 1035.4,1687.1 1035.7,1710.3 1036.0,1702.2 1036.3,1695.0 1036.6,1711.9 1036.9,1698.3 1037.1,1703.7 1037.4,1695.6 1037.7,1705.0 1038.0,1688.1 1038.3,1696.0 1038.6,1700.7 1038.8,1691.3 1039.1,1694.0 1039.4,1707.5 1039.7,1694.5 1040.0,1710.8 1040.2,1703.9 1040.5,1699.5 1040.8,1683.3 1041.1,1715.1 1041.4,1714.6 1041.7,1702.0 1041.9,1700.3 1042.2,1699.4 1042.5,1694.1 1042.8,1695.8 1043.1,1702.6 1043.4,1682.2 1043.6,1697.6 1043.9,1702.3 1044.2,1679.0 1044.5,1690.5 1044.8,1680.8 1045.1,1681.9 1045.3,1702.9 1045.6,1684.3 1045.9,1721.6 1046.2,1694.5 1046.5,1687.5 1046.7,1693.1 1047.0,1695.8 1047.3,1698.9 1047.6,1699.1 1047.9,1698.8 1048.2,1707.0 1048.4,1708.1 1048.7,1696.0 1049.0,1699.1 1049.3,1687.1 1049.6,1688.5 1049.9,1690.8 1050.1,1709.1 1050.4,1687.1 1050.7,1696.6 1051.0,1695.7 1051.3,1702.8 1051.6,1687.8 1051.8,1689.9 1052.1,1705.4 1052.4,1696.6 1052.7,1688.1 1053.0,1706.1 1053.2,1694.8 1053.5,1688.0 1053.8,1703.1 1054.1,1712.0 1054.4,1688.8 1054.7,1682.4 1054.9,1668.1 1055.2,1712.1 1055.5,1686.8 1055.8,1689.1 1056.1,1681.6 1056.4,1690.2 1056.6,1680.8 1056.9,1708.1 1057.2,1699.1 1057.5,1685.9 1057.8,1678.5 1058.1,1697.5 1058.3,1682.3 1058.6,1704.6 1058.9,1693.9 1059.2,1690.4 1059.5,1677.9 1059.7,1693.1 1060.0,1676.3 1060.3,1702.6 1060.6,1669.1 1060.9,1686.1 1061.2,1714.2 1061.4,1684.4 1061.7,1697.3 1062.0,1700.7 1062.3,1693.1 1062.6,1687.8 1062.9,1700.0 1063.1,1700.3 1063.4,1682.9 1063.7,1705.6 1064.0,1702.6 1064.3,1677.8 1064.6,1694.0 1064.8,1694.4 1065.1,1689.9 1065.4,1681.6 1065.7,1675.2 1066.0,1693.2 1066.2,1670.7 1066.5,1681.5 1066.8,1666.6 1067.1,1679.7 1067.4,1688.9 1067.7,1671.6 1067.9,1695.5 1068.2,1697.2 1068.5,1691.4 1068.8,1694.0 1069.1,1703.1 1069.4,1694.9 1069.6,1666.8 1069.9,1684.3 1070.2,1676.2 1070.5,1686.2 1070.8,1665.8 1071.1,1686.3 1071.3,1682.4 1071.6,1691.8 1071.9,1673.5 1072.2,1681.8 1072.5,1658.8 1072.7,1682.7 1073.0,1683.9 1073.3,1667.6 1073.6,1684.2 1073.9,1666.5 1074.2,1689.8 1074.4,1673.0 1074.7,1678.0 1075.0,1704.9 1075.3,1690.6 1075.6,1703.2 1075.9,1696.7 1076.1,1681.8 1076.4,1704.7 1076.7,1687.9 1077.0,1684.5 1077.3,1679.1 1077.6,1669.1 1077.8,1693.6 1078.1,1683.5 1078.4,1693.2 1078.7,1686.0 1079.0,1696.5 1079.2,1680.4 1079.5,1692.4 1079.8,1703.6 1080.1,1708.0 1080.4,1690.7 1080.7,1678.2 1080.9,1712.2 1081.2,1709.4 1081.5,1683.8 1081.8,1711.5 1082.1,1701.5 1082.4,1681.9 1082.6,1697.0 1082.9,1678.4 1083.2,1690.9 1083.5,1690.9 1083.8,1696.0 1084.1,1712.7 1084.3,1677.2 1084.6,1662.6 1084.9,1708.0 1085.2,1693.9 1085.5,1711.1 1085.7,1709.6 1086.0,1721.0 1086.3,1669.3 1086.6,1719.0 1086.9,1696.2 1087.2,1689.7 1087.4,1718.7 1087.7,1713.8 1088.0,1676.5 1088.3,1687.0 1088.6,1716.3 1088.9,1675.5 1089.1,1700.7 1089.4,1702.6 1089.7,1692.4 1090.0,1687.3 1090.3,1706.1 1090.6,1691.3 1090.8,1680.1 1091.1,1703.0 1091.4,1672.0 1091.7,1686.8 1092.0,1699.6 1092.2,1672.5 1092.5,1714.1 1092.8,1697.6 1093.1,1691.4 1093.4,1676.9 1093.7,1694.6 1093.9,1686.6 1094.2,1696.8 1094.5,1682.8 1094.8,1694.9 1095.1,1668.5 1095.4,1667.5 1095.6,1678.2 1095.9,1659.5 1096.2,1684.7 1096.5,1688.9 1096.8,1662.6 1097.1,1684.3 1097.3,1677.0 1097.6,1676.1 1097.9,1704.9 1098.2,1680.2 1098.5,1685.0 1098.7,1676.2 1099.0,1677.3 1099.3,1682.9 1099.6,1684.9 1099.9,1680.8 1100.2,1699.8 1100.4,1680.3 1100.7,1682.5 1101.0,1709.6 1101.3,1687.0 1101.6,1696.1 1101.9,1693.8 1102.1,1677.4 1102.4,1702.7 1102.7,1686.9 1103.0,1685.2 1103.3,1684.1 1103.6,1688.4 1103.8,1694.8 1104.1,1649.9 1104.4,1702.5 1104.7,1650.5 1105.0,1662.5 1105.2,1690.6 1105.5,1678.0 1105.8,1690.9 1106.1,1662.0 1106.4,1680.7 1106.7,1688.6 1106.9,1666.8 1107.2,1668.2 1107.5,1681.3 1107.8,1686.6 1108.1,1642.1 1108.4,1673.0 1108.6,1682.7 1108.9,1700.5 1109.2,1660.2 1109.5,1679.3 1109.8,1660.3 1110.1,1662.1 1110.3,1666.8 1110.6,1702.0 1110.9,1684.6 1111.2,1690.9 1111.5,1673.8 1111.7,1692.4 1112.0,1675.7 1112.3,1686.4 1112.6,1651.6 1112.9,1660.7 1113.2,1684.9 1113.4,1708.0 1113.7,1703.8 1114.0,1657.3 1114.3,1670.0 1114.6,1668.5 1114.9,1707.5 1115.1,1660.3 1115.4,1675.2 1115.7,1690.4 1116.0,1682.0 1116.3,1650.5 1116.6,1702.3 1116.8,1636.2 1117.1,1673.6 1117.4,1662.4 1117.7,1645.8 1118.0,1662.2 1118.2,1661.4 1118.5,1648.7 1118.8,1658.3 1119.1,1663.1 1119.4,1668.9 1119.7,1630.6 1119.9,1656.6 1120.2,1666.1 1120.5,1681.3 1120.8,1682.8 1121.1,1635.4 1121.4,1654.0 1121.6,1667.6 1121.9,1675.5 1122.2,1691.7 1122.5,1658.9 1122.8,1643.9 1123.1,1665.6 1123.3,1669.4 1123.6,1655.1 1123.9,1651.0 1124.2,1676.6 1124.5,1645.5 1124.7,1658.0 1125.0,1672.6 1125.3,1670.7 1125.6,1669.6 1125.9,1653.3 1126.2,1631.0 1126.4,1654.9 1126.7,1680.5 1127.0,1684.9 1127.3,1696.3 1127.6,1679.9 1127.9,1695.0 1128.1,1671.2 1128.4,1679.7 1128.7,1708.1 1129.0,1661.8 1129.3,1664.7 1129.6,1694.2 1129.8,1689.3 1130.1,1647.3 1130.4,1697.6 1130.7,1663.3 1131.0,1664.7 1131.2,1694.1 1131.5,1685.5 1131.8,1686.8 1132.1,1702.3 1132.4,1695.2 1132.7,1639.6 1132.9,1684.3 1133.2,1691.9 1133.5,1680.2 1133.8,1676.2 1134.1,1685.2 1134.4,1685.4 1134.6,1680.8 1134.9,1679.8 1135.2,1663.9 1135.5,1684.3 1135.8,1670.7 1136.1,1696.9 1136.3,1674.3 1136.6,1676.7 1136.9,1661.5 1137.2,1679.4 1137.5,1693.6 1137.7,1664.5 1138.0,1704.2 1138.3,1686.2 1138.6,1681.2 1138.9,1697.8 1139.2,1691.2 1139.4,1652.5 1139.7,1703.1 1140.0,1696.8 1140.3,1685.8 1140.6,1648.1 1140.9,1648.3 1141.1,1655.9 1141.4,1701.5 1141.7,1704.3 1142.0,1689.9 1142.3,1687.6 1142.6,1650.1 1142.8,1688.0 1143.1,1672.7 1143.4,1686.3 1143.7,1671.8 1144.0,1703.5 1144.2,1684.9 1144.5,1696.8 1144.8,1690.2 1145.1,1678.9 1145.4,1665.5 1145.7,1669.9 1145.9,1676.5 1146.2,1694.1 1146.5,1727.6 1146.8,1700.2 1147.1,1691.9 1147.4,1709.6 1147.6,1675.0 1147.9,1699.7 1148.2,1700.3 1148.5,1657.1 1148.8,1700.8 1149.1,1685.8 1149.3,1694.5 1149.6,1691.9 1149.9,1699.2 1150.2,1683.8 1150.5,1712.5 1150.7,1714.9 1151.0,1681.1 1151.3,1702.6 1151.6,1694.9 1151.9,1721.5 1152.2,1686.0 1152.4,1702.3 1152.7,1697.0 1153.0,1675.8 1153.3,1719.4 1153.6,1705.9 1153.9,1680.2 1154.1,1716.1 1154.4,1718.9 1154.7,1675.5 1155.0,1698.4 1155.3,1697.9 1155.6,1699.5 1155.8,1701.7 1156.1,1696.3 1156.4,1673.5 1156.7,1704.8 1157.0,1681.7 1157.2,1694.5 1157.5,1714.0 1157.8,1738.0 1158.1,1730.1 1158.4,1694.6 1158.7,1703.6 1158.9,1731.3 1159.2,1717.7 1159.5,1723.6 1159.8,1694.4 1160.1,1718.5 1160.4,1720.4 1160.6,1733.1 1160.9,1740.1 1161.2,1698.2 1161.5,1734.2 1161.8,1705.2 1162.1,1711.5 1162.3,1735.0 1162.6,1713.9 1162.9,1719.8 1163.2,1739.3 1163.5,1747.8 1163.7,1722.9 1164.0,1693.3 1164.3,1713.9 1164.6,1700.5 1164.9,1703.6 1165.2,1716.0 1165.4,1704.9 1165.7,1709.3 1166.0,1707.2 1166.3,1706.1 1166.6,1675.8 1166.9,1703.8 1167.1,1705.1 1167.4,1734.6 1167.7,1722.0 1168.0,1712.6 1168.3,1697.8 1168.5,1716.4 1168.8,1682.7 1169.1,1719.1 1169.4,1695.4 1169.7,1696.1 1170.0,1727.7 1170.2,1708.0 1170.5,1705.2 1170.8,1687.4 1171.1,1730.7 1171.4,1669.6 1171.7,1716.4 1171.9,1713.1 1172.2,1716.1 1172.5,1697.6 1172.8,1690.4 1173.1,1739.1 1173.4,1716.7 1173.6,1724.8 1173.9,1680.4 1174.2,1726.1 1174.5,1734.8 1174.8,1723.5 1175.0,1679.7 1175.3,1688.8 1175.6,1670.1 1175.9,1713.3 1176.2,1725.9 1176.5,1713.7 1176.7,1700.1 1177.0,1692.0 1177.3,1722.7 1177.6,1690.5 1177.9,1741.4 1178.2,1718.1 1178.4,1733.5 1178.7,1711.8 1179.0,1705.1 1179.3,1718.2 1179.6,1695.4 1179.9,1705.6 1180.1,1707.2 1180.4,1692.8 1180.7,1717.9 1181.0,1689.9 1181.3,1675.8 1181.5,1703.3 1181.8,1706.3 1182.1,1702.9 1182.4,1707.8 1182.7,1710.6 1183.0,1713.1 1183.2,1708.8 1183.5,1707.5 1183.8,1680.7 1184.1,1716.6 1184.4,1725.7 1184.7,1701.1 1184.9,1694.0 1185.2,1723.4 1185.5,1697.3 1185.8,1711.3 1186.1,1716.5 1186.4,1727.1 1186.6,1747.0 1186.9,1704.6 1187.2,1668.7 1187.5,1709.9 1187.8,1694.4 1188.0,1718.6 1188.3,1713.7 1188.6,1722.8 1188.9,1706.4 1189.2,1722.1 1189.5,1697.8 1189.7,1719.0 1190.0,1686.9 1190.3,1689.7 1190.6,1703.1 1190.9,1715.6 1191.2,1687.8 1191.4,1704.0 1191.7,1714.5 1192.0,1715.4 1192.3,1683.7 1192.6,1734.5 1192.9,1696.3 1193.1,1709.4 1193.4,1727.9 1193.7,1689.1 1194.0,1669.1 1194.3,1722.1 1194.5,1676.9 1194.8,1703.6 1195.1,1686.0 1195.4,1733.2 1195.7,1706.7 1196.0,1730.0 1196.2,1709.1 1196.5,1690.7 1196.8,1714.9 1197.1,1682.0 1197.4,1689.5 1197.7,1714.3 1197.9,1711.4 1198.2,1682.2 1198.5,1695.3 1198.8,1694.3 1199.1,1676.0 1199.4,1716.6 1199.6,1675.7 1199.9,1694.7 1200.2,1695.9 1200.5,1697.4 1200.8,1658.2 1201.0,1698.2 1201.3,1684.8 1201.6,1717.1 1201.9,1669.9 1202.2,1711.0 1202.5,1703.6 1202.7,1680.5 1203.0,1697.5 1203.3,1704.7 1203.6,1671.6 1203.9,1663.6 1204.2,1686.9 1204.4,1703.6 1204.7,1698.5 1205.0,1693.7 1205.3,1682.2 1205.6,1683.8 1205.9,1706.4 1206.1,1700.3 1206.4,1719.3 1206.7,1702.2 1207.0,1693.8 1207.3,1684.9 1207.5,1690.7 1207.8,1716.0 1208.1,1682.7 1208.4,1685.3 1208.7,1694.7 1209.0,1698.4 1209.2,1712.7 1209.5,1688.1 1209.8,1726.5 1210.1,1691.7 1210.4,1694.5 1210.7,1695.4 1210.9,1713.8 1211.2,1706.2 1211.5,1694.4 1211.8,1673.8 1212.1,1669.0 1212.4,1695.5 1212.6,1695.6 1212.9,1688.3 1213.2,1694.5 1213.5,1679.1 1213.8,1694.8 1214.0,1712.4 1214.3,1698.2 1214.6,1692.2 1214.9,1693.8 1215.2,1706.9 1215.5,1680.3 1215.7,1683.7 1216.0,1677.9 1216.3,1661.6 1216.6,1712.0 1216.9,1702.2 1217.2,1677.5 1217.4,1720.8 1217.7,1678.5 1218.0,1697.5 1218.3,1678.1 1218.6,1713.1 1218.9,1698.9 1219.1,1702.1 1219.4,1701.4 1219.7,1727.0 1220.0,1653.3 1220.3,1684.2 1220.5,1693.2 1220.8,1700.7 1221.1,1690.3 1221.4,1691.7 1221.7,1706.4 1222.0,1707.4 1222.2,1683.3 1222.5,1713.0 1222.8,1693.5 1223.1,1696.8 1223.4,1727.3 1223.7,1718.3 1223.9,1661.3 1224.2,1705.9 1224.5,1709.5 1224.8,1699.2 1225.1,1683.0 1225.4,1717.9 1225.6,1684.9 1225.9,1692.8 1226.2,1680.3 1226.5,1689.2 1226.8,1667.3 1227.0,1711.8 1227.3,1681.7 1227.6,1692.8 1227.9,1685.6 1228.2,1717.7 1228.5,1727.7 1228.7,1700.5 1229.0,1695.3 1229.3,1696.4 1229.6,1676.0 1229.9,1675.5 1230.2,1682.2 1230.4,1693.3 1230.7,1680.5 1231.0,1686.9 1231.3,1692.1 1231.6,1702.2 1231.9,1693.5 1232.1,1681.0 1232.4,1690.1 1232.7,1668.6 1233.0,1710.5 1233.3,1703.4 1233.5,1698.8 1233.8,1661.7 1234.1,1685.4 1234.4,1693.3 1234.7,1684.4 1235.0,1702.7 1235.2,1665.7 1235.5,1700.7 1235.8,1710.9 1236.1,1683.2 1236.4,1682.3 1236.7,1672.1 1236.9,1700.9 1237.2,1688.6 1237.5,1691.3 1237.8,1680.1 1238.1,1700.5 1238.4,1692.6 1238.6,1689.1 1238.9,1685.7 1239.2,1698.6 1239.5,1685.3 1239.8,1681.0 1240.0,1683.9 1240.3,1683.8 1240.6,1672.8 1240.9,1723.2 1241.2,1719.9 1241.5,1665.0 1241.7,1680.9 1242.0,1676.8 1242.3,1720.3 1242.6,1685.1 1242.9,1701.3 1243.2,1679.4 1243.4,1689.3 1243.7,1708.9 1244.0,1731.4 1244.3,1697.5 1244.6,1719.5 1244.9,1723.1 1245.1,1718.4 1245.4,1718.1 1245.7,1683.5 1246.0,1714.6 1246.3,1699.7 1246.5,1662.5 1246.8,1707.0 1247.1,1698.0 1247.4,1683.1 1247.7,1708.8 1248.0,1683.0 1248.2,1689.8 1248.5,1688.0 1248.8,1721.6 1249.1,1686.9 1249.4,1728.7 1249.7,1707.2 1249.9,1721.3 1250.2,1701.3 1250.5,1700.4 1250.8,1702.4 1251.1,1713.8 1251.4,1706.0 1251.6,1714.3 1251.9,1681.1 1252.2,1718.8 1252.5,1726.1 1252.8,1712.7 1253.0,1711.1 1253.3,1708.4 1253.6,1691.0 1253.9,1682.4 1254.2,1697.9 1254.5,1702.5 1254.7,1696.9 1255.0,1708.4 1255.3,1690.2 1255.6,1699.9 1255.9,1684.2 1256.2,1680.2 1256.4,1726.3 1256.7,1706.0 1257.0,1698.7 1257.3,1684.2 1257.6,1708.7 1257.9,1734.1 1258.1,1688.9 1258.4,1695.2 1258.7,1708.6 1259.0,1684.8 1259.3,1666.5 1259.5,1713.5 1259.8,1698.0 1260.1,1719.9 1260.4,1717.3 1260.7,1703.6 1261.0,1676.8 1261.2,1724.3 1261.5,1711.1 1261.8,1705.9 1262.1,1704.9 1262.4,1703.7 1262.7,1711.9 1262.9,1683.2 1263.2,1706.0 1263.5,1685.7 1263.8,1688.8 1264.1,1702.7 1264.4,1695.0 1264.6,1704.9 1264.9,1702.3 1265.2,1692.3 1265.5,1714.9 1265.8,1711.5 1266.0,1698.1 1266.3,1690.4 1266.6,1728.8 1266.9,1679.0 1267.2,1713.4 1267.5,1691.4 1267.7,1717.6 1268.0,1701.0 1268.3,1735.5 1268.6,1712.2 1268.9,1698.9 1269.2,1692.0 1269.4,1715.4 1269.7,1703.6 1270.0,1675.4 1270.3,1683.1 1270.6,1673.8 1270.9,1732.8 1271.1,1729.1 1271.4,1702.8 1271.7,1724.7 1272.0,1701.7 1272.3,1701.7 1272.5,1702.8 1272.8,1716.4 1273.1,1695.2 1273.4,1712.3 1273.7,1705.1 1274.0,1673.0 1274.2,1681.2 1274.5,1719.3 1274.8,1702.2 1275.1,1697.3 1275.4,1704.3 1275.7,1700.2 1275.9,1705.0 1276.2,1721.3 1276.5,1697.6 1276.8,1711.8 1277.1,1723.9 1277.4,1710.3 1277.6,1669.6 1277.9,1728.8 1278.2,1687.4 1278.5,1698.2 1278.8,1717.4 1279.0,1740.0 1279.3,1719.3 1279.6,1709.6 1279.9,1701.3 1280.2,1697.8 1280.5,1690.5 1280.7,1722.2 1281.0,1706.2 1281.3,1709.8 1281.6,1684.3 1281.9,1711.4 1282.2,1679.4 1282.4,1716.8 1282.7,1740.3 1283.0,1692.0 1283.3,1687.7 1283.6,1730.6 1283.9,1698.5 1284.1,1729.1 1284.4,1685.1 1284.7,1713.6 1285.0,1724.4 1285.3,1714.1 1285.5,1691.2 1285.8,1668.1 1286.1,1705.6 1286.4,1694.0 1286.7,1708.7 1287.0,1736.0 1287.2,1679.9 1287.5,1700.8 1287.8,1718.5 1288.1,1741.1 1288.4,1708.0 1288.7,1726.5 1288.9,1691.0 1289.2,1707.8 1289.5,1706.5 1289.8,1717.8 1290.1,1705.6 1290.4,1703.9 1290.6,1724.1 1290.9,1706.8 1291.2,1703.5 1291.5,1709.6 1291.8,1703.0 1292.0,1722.3 1292.3,1715.8 1292.6,1690.0 1292.9,1705.2 1293.2,1675.3 1293.5,1688.8 1293.7,1704.4 1294.0,1727.0 1294.3,1711.0 1294.6,1722.5 1294.9,1692.5 1295.2,1727.0 1295.4,1714.0 1295.7,1695.1 1296.0,1696.3 1296.3,1700.5 1296.6,1678.8 1296.9,1677.7 1297.1,1690.4 1297.4,1707.5 1297.7,1700.9 1298.0,1731.8 1298.3,1720.3 1298.5,1696.3 1298.8,1722.5 1299.1,1695.6 1299.4,1698.4 1299.7,1712.0 1300.0,1741.4 1300.2,1700.2 1300.5,1735.9 1300.8,1699.2 1301.1,1722.2 1301.4,1724.2 1301.7,1714.7 1301.9,1715.2 1302.2,1698.8 1302.5,1674.7 1302.8,1703.2 1303.1,1703.2 1303.4,1733.2 1303.6,1704.0 1303.9,1707.6 1304.2,1711.3 1304.5,1690.0 1304.8,1705.1 1305.0,1719.7 1305.3,1698.9 1305.6,1681.5 1305.9,1701.8 1306.2,1718.8 1306.5,1698.8 1306.7,1692.1 1307.0,1714.2 1307.3,1673.5 1307.6,1700.2 1307.9,1699.0 1308.2,1684.5 1308.4,1697.3 1308.7,1715.7 1309.0,1713.8 1309.3,1700.9 1309.6,1716.5 1309.8,1707.4 1310.1,1675.3 1310.4,1712.8 1310.7,1694.8 1311.0,1697.1 1311.3,1698.0 1311.5,1719.6 1311.8,1686.5 1312.1,1704.2 1312.4,1693.1 1312.7,1684.5 1313.0,1665.7 1313.2,1704.9 1313.5,1683.7 1313.8,1685.5 1314.1,1690.1 1314.4,1681.1 1314.7,1662.9 1314.9,1717.7 1315.2,1701.7 1315.5,1702.5 1315.8,1693.6 1316.1,1687.9 1316.3,1692.6 1316.6,1694.9 1316.9,1696.1 1317.2,1715.9 1317.5,1669.9 1317.8,1663.2 1318.0,1678.6 1318.3,1696.7 1318.6,1689.0 1318.9,1652.6 1319.2,1695.0 1319.5,1709.3 1319.7,1679.4 1320.0,1696.0 1320.3,1687.1 1320.6,1671.8 1320.9,1703.6 1321.2,1682.1 1321.4,1658.5 1321.7,1697.8 1322.0,1645.3 1322.3,1714.4 1322.6,1640.7 1322.8,1666.2 1323.1,1645.3 1323.4,1686.9 1323.7,1700.1 1324.0,1653.2 1324.3,1683.5 1324.5,1654.1 1324.8,1644.1 1325.1,1677.5 1325.4,1695.0 1325.7,1675.3 1326.0,1675.4 1326.2,1690.5 1326.5,1680.0 1326.8,1689.7 1327.1,1690.1 1327.4,1682.2 1327.7,1682.8 1327.9,1685.5 1328.2,1670.8 1328.5,1667.6 1328.8,1660.2 1329.1,1687.1 1329.3,1662.3 1329.6,1691.7 1329.9,1695.4 1330.2,1671.4 1330.5,1671.1 1330.8,1698.9 1331.0,1675.9 1331.3,1707.7 1331.6,1649.0 1331.9,1642.5 1332.2,1674.1 1332.5,1673.5 1332.7,1662.7 1333.0,1640.2 1333.3,1668.2 1333.6,1659.7 1333.9,1677.7 1334.2,1671.3 1334.4,1651.5 1334.7,1657.9 1335.0,1680.4 1335.3,1660.2 1335.6,1648.7 1335.8,1655.0 1336.1,1695.3 1336.4,1702.8 1336.7,1671.0 1337.0,1674.8 1337.3,1669.3 1337.5,1665.3 1337.8,1619.6 1338.1,1700.6 1338.4,1653.2 1338.7,1664.6 1339.0,1667.5 1339.2,1639.5 1339.5,1627.6 1339.8,1665.8 1340.1,1660.0 1340.4,1665.7 1340.7,1683.9 1340.9,1632.3 1341.2,1638.1 1341.5,1658.1 1341.8,1671.6 1342.1,1674.0 1342.3,1634.1 1342.6,1643.6 1342.9,1638.7 1343.2,1631.1 1343.5,1655.1 1343.8,1622.9 1344.0,1658.0 1344.3,1630.1 1344.6,1681.4 1344.9,1634.7 1345.2,1662.1 1345.5,1664.8 1345.7,1634.6 1346.0,1651.9 1346.3,1648.9 1346.6,1626.8 1346.9,1635.8 1347.2,1680.4 1347.4,1646.7 1347.7,1649.4 1348.0,1603.0 1348.3,1599.0 1348.6,1644.2 1348.8,1627.1 1349.1,1607.0 1349.4,1615.8 1349.7,1617.7 1350.0,1593.7 1350.3,1644.2 1350.5,1588.3 1350.8,1665.7 1351.1,1590.9 1351.4,1610.3 1351.7,1637.9 1352.0,1629.1 1352.2,1642.3 1352.5,1609.0 1352.8,1583.2 1353.1,1639.3 1353.4,1606.0 1353.7,1625.6 1353.9,1645.5 1354.2,1651.5 1354.5,1577.6 1354.8,1625.9 1355.1,1588.3 1355.3,1600.9 1355.6,1594.6 1355.9,1643.5 1356.2,1616.7 1356.5,1595.1 1356.8,1629.4 1357.0,1592.5 1357.3,1636.2 1357.6,1598.8 1357.9,1619.0 1358.2,1632.7 1358.5,1588.4 1358.7,1623.4 1359.0,1617.8 1359.3,1615.7 1359.6,1587.3 1359.9,1612.5 1360.2,1595.4 1360.4,1616.4 1360.7,1569.5 1361.0,1604.0 1361.3,1590.3 1361.6,1581.7 1361.8,1629.2 1362.1,1584.1 1362.4,1594.2 1362.7,1613.9 1363.0,1584.8 1363.3,1624.0 1363.5,1584.1 1363.8,1582.3 1364.1,1591.7 1364.4,1593.4 1364.7,1631.8 1365.0,1618.7 1365.2,1593.6 1365.5,1616.3 1365.8,1581.5 1366.1,1607.1 1366.4,1595.5 1366.7,1586.3 1366.9,1623.0 1367.2,1604.9 1367.5,1601.6 1367.8,1566.2 1368.1,1591.4 1368.3,1600.7 1368.6,1552.5 1368.9,1610.8 1369.2,1590.2 1369.5,1593.7 1369.8,1572.4 1370.0,1554.8 1370.3,1583.5 1370.6,1583.4 1370.9,1585.8 1371.2,1628.2 1371.5,1583.5 1371.7,1626.0 1372.0,1579.3 1372.3,1606.2 1372.6,1575.3 1372.9,1580.2 1373.2,1619.5 1373.4,1598.2 1373.7,1558.2 1374.0,1600.5 1374.3,1604.7 1374.6,1591.4 1374.8,1568.8 1375.1,1577.6 1375.4,1592.0 1375.7,1584.7 1376.0,1581.9 1376.3,1558.1 1376.5,1613.3 1376.8,1594.4 1377.1,1559.5 1377.4,1549.3 1377.7,1593.7 1378.0,1574.3 1378.2,1534.8 1378.5,1578.7 1378.8,1579.7 1379.1,1557.4 1379.4,1557.4 1379.7,1588.4 1379.9,1551.3 1380.2,1547.0 1380.5,1531.5 1380.8,1571.9 1381.1,1596.6 1381.3,1571.0 1381.6,1541.3 1381.9,1573.2 1382.2,1584.2 1382.5,1556.5 1382.8,1576.4 1383.0,1567.4 1383.3,1611.1 1383.6,1556.9 1383.9,1540.7 1384.2,1569.7 1384.5,1597.3 1384.7,1576.7 1385.0,1597.5 1385.3,1583.6 1385.6,1601.1 1385.9,1576.9 1386.2,1567.1 1386.4,1565.6 1386.7,1572.9 1387.0,1588.7 1387.3,1601.0 1387.6,1575.2 1387.8,1608.9 1388.1,1579.3 1388.4,1607.5 1388.7,1578.9 1389.0,1588.4 1389.3,1603.3 1389.5,1590.0 1389.8,1631.8 1390.1,1603.2 1390.4,1610.7 1390.7,1581.1 1391.0,1593.3 1391.2,1621.0 1391.5,1618.3 1391.8,1609.4 1392.1,1608.5 1392.4,1592.7 1392.7,1607.7 1392.9,1595.5 1393.2,1586.8 1393.5,1604.5 1393.8,1635.6 1394.1,1606.4 1394.3,1619.1 1394.6,1598.5 1394.9,1609.5 1395.2,1632.6 1395.5,1619.1 1395.8,1610.5 1396.0,1637.2 1396.3,1619.6 1396.6,1632.0 1396.9,1653.5 1397.2,1655.2 1397.5,1604.2 1397.7,1627.7 1398.0,1607.3 1398.3,1623.1 1398.6,1631.3 1398.9,1617.2 1399.2,1647.5 1399.4,1625.9 1399.7,1601.1 1400.0,1629.8 1400.3,1608.3 1400.6,1621.5 1400.8,1617.5 1401.1,1631.4 1401.4,1603.8 1401.7,1624.4 1402.0,1637.2 1402.3,1622.8 1402.5,1608.0 1402.8,1642.3 1403.1,1634.4 1403.4,1619.0 1403.7,1616.3 1404.0,1633.1 1404.2,1649.0 1404.5,1621.0 1404.8,1633.3 1405.1,1665.2 1405.4,1641.4 1405.7,1646.7 1405.9,1644.3 1406.2,1667.6 1406.5,1631.5 1406.8,1648.0 1407.1,1649.5 1407.3,1658.8 1407.6,1646.2 1407.9,1613.7 1408.2,1634.9 1408.5,1651.0 1408.8,1674.5 1409.0,1637.5 1409.3,1676.4 1409.6,1649.3 1409.9,1664.7 1410.2,1661.8 1410.5,1641.5 1410.7,1661.5 1411.0,1650.3 1411.3,1679.4 1411.6,1680.8 1411.9,1666.5 1412.2,1665.6 1412.4,1666.3 1412.7,1684.0 1413.0,1668.1 1413.3,1645.5 1413.6,1671.3 1413.8,1702.6 1414.1,1651.0 1414.4,1679.2 1414.7,1670.7 1415.0,1690.6 1415.3,1690.9 1415.5,1666.8 1415.8,1685.1 1416.1,1654.5 1416.4,1678.3 1416.7,1649.1 1417.0,1690.9 1417.2,1666.6 1417.5,1683.7 1417.8,1666.4 1418.1,1688.7 1418.4,1677.8 1418.7,1666.1 1418.9,1684.6 1419.2,1679.2 1419.5,1669.2 1419.8,1672.7 1420.1,1687.6 1420.3,1668.0 1420.6,1689.9 1420.9,1690.8 1421.2,1677.6 1421.5,1691.3 1421.8,1668.7 1422.0,1687.2 1422.3,1676.9 1422.6,1698.8 1422.9,1697.1 1423.2,1722.6 1423.5,1679.3 1423.7,1699.0 1424.0,1683.2 1424.3,1699.1 1424.6,1721.4 1424.9,1707.9 1425.2,1691.2 1425.4,1690.9 1425.7,1672.4 1426.0,1666.9 1426.3,1692.6 1426.6,1681.1 1426.8,1702.9 1427.1,1686.1 1427.4,1708.0 1427.7,1683.3 1428.0,1682.0 1428.3,1721.4 1428.5,1683.7 1428.8,1694.4 1429.1,1698.0 1429.4,1702.9 1429.7,1660.5 1430.0,1704.2 1430.2,1680.4 1430.5,1670.3 1430.8,1709.8 1431.1,1678.7 1431.4,1709.2 1431.7,1717.4 1431.9,1695.1 1432.2,1696.8 1432.5,1671.4 1432.8,1687.9 1433.1,1729.7 1433.3,1709.3 1433.6,1711.9 1433.9,1713.0 1434.2,1709.7 1434.5,1711.1 1434.8,1712.3 1435.0,1676.8 1435.3,1676.9 1435.6,1694.2 1435.9,1710.7 1436.2,1679.1 1436.5,1712.1 1436.7,1686.3 1437.0,1730.9 1437.3,1716.0 1437.6,1738.8 1437.9,1722.2 1438.2,1678.9 1438.4,1701.8 1438.7,1712.1 1439.0,1711.9 1439.3,1695.9 1439.6,1679.9 1439.8,1688.2 1440.1,1697.7 1440.4,1701.3 1440.7,1693.8 1441.0,1694.4 1441.3,1700.7 1441.5,1713.3 1441.8,1690.3 1442.1,1703.5 1442.4,1716.8 1442.7,1693.1 1443.0,1699.5 1443.2,1682.1 1443.5,1702.0 1443.8,1702.6 1444.1,1717.1 1444.4,1706.6 1444.7,1686.7 1444.9,1709.1 1445.2,1688.8 1445.5,1694.7 1445.8,1695.6 1446.1,1738.1 1446.3,1727.7 1446.6,1681.5 1446.9,1711.4 1447.2,1722.2 1447.5,1719.1 1447.8,1705.2 1448.0,1706.6 1448.3,1703.8 1448.6,1704.4 1448.9,1700.4 1449.2,1686.6 1449.5,1717.8 1449.7,1696.9 1450.0,1737.7 1450.3,1709.3 1450.6,1708.5 1450.9,1723.1 1451.1,1712.3 1451.4,1708.5 1451.7,1687.4 1452.0,1686.6 1452.3,1684.2 1452.6,1721.7 1452.8,1696.1 1453.1,1705.1 1453.4,1708.3 1453.7,1690.3 1454.0,1703.4 1454.3,1696.3 1454.5,1688.1 1454.8,1697.2 1455.1,1686.1 1455.4,1700.7 1455.7,1699.3 1456.0,1703.9 1456.2,1727.2 1456.5,1700.9 1456.8,1723.3 1457.1,1721.1 1457.4,1694.0 1457.6,1689.6 1457.9,1692.5 1458.2,1713.3 1458.5,1704.7 1458.8,1708.8 1459.1,1711.3 1459.3,1709.4 1459.6,1721.4 1459.9,1672.5 1460.2,1697.7 1460.5,1680.1 1460.8,1721.0 1461.0,1701.4 1461.3,1703.5 1461.6,1682.6 1461.9,1702.5 1462.2,1710.8 1462.5,1695.6 1462.7,1704.7 1463.0,1703.8 1463.3,1680.9 1463.6,1701.8 1463.9,1695.5 1464.1,1686.8 1464.4,1719.7 1464.7,1710.2 1465.0,1697.7 1465.3,1693.0 1465.6,1714.8 1465.8,1684.2 1466.1,1706.9 1466.4,1717.6 1466.7,1675.3 1467.0,1695.0 1467.3,1671.2 1467.5,1732.3 1467.8,1692.3 1468.1,1702.3 1468.4,1718.5 1468.7,1682.2 1469.0,1701.9 1469.2,1680.4 1469.5,1723.8 1469.8,1693.4 1470.1,1702.0 1470.4,1695.3 1470.6,1727.5 1470.9,1699.9 1471.2,1689.4 1471.5,1681.5 1471.8,1700.8 1472.1,1675.5 1472.3,1697.0 1472.6,1689.1 1472.9,1693.2 1473.2,1677.5 1473.5,1682.5 1473.8,1676.9 1474.0,1692.1 1474.3,1715.5 1474.6,1704.7 1474.9,1705.3 1475.2,1718.6 1475.5,1661.4 1475.7,1713.1 1476.0,1674.0 1476.3,1708.0 1476.6,1688.3 1476.9,1699.9 1477.1,1651.7 1477.4,1673.6 1477.7,1687.8 1478.0,1700.8 1478.3,1674.6 1478.6,1650.7 1478.8,1670.3 1479.1,1673.9 1479.4,1698.5 1479.7,1666.3 1480.0,1703.4 1480.3,1686.7 1480.5,1686.0 1480.8,1692.0 1481.1,1699.8 1481.4,1690.4 1481.7,1679.4 1482.0,1679.4 1482.2,1685.3 1482.5,1685.7 1482.8,1673.8 1483.1,1688.8 1483.4,1682.7 1483.6,1685.1 1483.9,1682.3 1484.2,1658.7 1484.5,1673.2 1484.8,1680.2 1485.1,1672.8 1485.3,1682.1 1485.6,1690.0 1485.9,1713.9 1486.2,1703.5 1486.5,1670.1 1486.8,1678.5 1487.0,1675.5 1487.3,1670.1 1487.6,1667.0 1487.9,1673.8 1488.2,1686.5 1488.5,1699.5 1488.7,1715.5 1489.0,1699.3 1489.3,1669.8 1489.6,1675.5 1489.9,1692.1 1490.1,1692.9 1490.4,1696.7 1490.7,1654.1 1491.0,1689.8 1491.3,1675.6 1491.6,1694.4 1491.8,1668.1 1492.1,1687.3 1492.4,1667.1 1492.7,1696.5 1493.0,1675.7 1493.3,1709.7 1493.5,1651.8 1493.8,1655.4 1494.1,1696.4 1494.4,1682.2 1494.7,1677.9 1495.0,1668.5 1495.2,1684.2 1495.5,1686.8 1495.8,1676.0 1496.1,1687.6 1496.4,1708.4 1496.6,1682.9 1496.9,1700.3 1497.2,1671.8 1497.5,1668.6 1497.8,1663.4 1498.1,1656.5 1498.3,1662.8 1498.6,1665.8 1498.9,1682.0 1499.2,1651.5 1499.5,1696.4 1499.8,1649.5 1500.0,1685.3 1500.3,1680.6 1500.6,1679.5 1500.9,1668.2 1501.2,1683.3 1501.5,1638.5 1501.7,1700.5 1502.0,1681.5 1502.3,1681.9 1502.6,1673.3 1502.9,1656.1 1503.1,1665.3 1503.4,1649.7 1503.7,1669.5 1504.0,1680.0 1504.3,1645.4 1504.6,1688.5 1504.8,1670.6 1505.1,1666.6 1505.4,1682.6 1505.7,1667.6 1506.0,1667.9 1506.3,1671.6 1506.5,1657.7 1506.8,1668.3 1507.1,1645.2 1507.4,1671.3 1507.7,1698.5 1508.0,1673.3 1508.2,1676.2 1508.5,1676.7 1508.8,1649.8 1509.1,1659.0 1509.4,1667.9 1509.6,1666.4 1509.9,1651.8 1510.2,1659.2 1510.5,1663.1 1510.8,1669.0 1511.1,1636.5 1511.3,1672.5 1511.6,1670.7 1511.9,1653.8 1512.2,1625.8 1512.5,1659.8 1512.8,1636.6 1513.0,1675.4 1513.3,1645.3 1513.6,1679.5 1513.9,1697.0 1514.2,1678.7 1514.5,1664.9 1514.7,1646.3 1515.0,1659.4 1515.3,1659.9 1515.6,1643.0 1515.9,1619.5 1516.1,1652.8 1516.4,1667.2 1516.7,1660.3 1517.0,1652.4 1517.3,1643.3 1517.6,1658.8 1517.8,1676.5 1518.1,1616.8 1518.4,1682.6 1518.7,1648.8 1519.0,1651.9 1519.3,1652.3 1519.5,1632.7 1519.8,1673.6 1520.1,1621.6 1520.4,1661.8 1520.7,1618.9 1521.0,1669.1 1521.2,1638.4 1521.5,1664.2 1521.8,1665.4 1522.1,1675.6 1522.4,1652.4 1522.6,1661.5 1522.9,1666.6 1523.2,1641.3 1523.5,1647.2 1523.8,1689.0 1524.1,1614.3 1524.3,1676.1 1524.6,1650.6 1524.9,1641.8 1525.2,1622.9 1525.5,1650.4 1525.8,1664.2 1526.0,1647.3 1526.3,1676.6 1526.6,1635.1 1526.9,1641.0 1527.2,1647.2 1527.5,1637.4 1527.7,1648.3 1528.0,1633.8 1528.3,1626.1 1528.6,1636.7 1528.9,1654.4 1529.1,1659.5 1529.4,1629.7 1529.7,1664.9 1530.0,1646.4 1530.3,1642.9 1530.6,1628.7 1530.8,1645.1 1531.1,1636.1 1531.4,1628.4 1531.7,1656.8 1532.0,1655.8 1532.3,1645.1 1532.5,1663.7 1532.8,1660.9 1533.1,1656.9 1533.4,1649.5 1533.7,1633.2 1534.0,1647.3 1534.2,1660.2 1534.5,1649.4 1534.8,1649.6 1535.1,1653.3 1535.4,1665.2 1535.6,1635.2 1535.9,1663.6 1536.2,1677.3 1536.5,1626.4 1536.8,1631.6 1537.1,1654.0 1537.3,1676.9 1537.6,1676.9 1537.9,1666.2 1538.2,1665.0 1538.5,1656.3 1538.8,1658.1 1539.0,1677.2 1539.3,1638.8 1539.6,1650.4 1539.9,1664.7 1540.2,1682.9 1540.5,1641.9 1540.7,1653.4 1541.0,1663.4 1541.3,1669.8 1541.6,1688.8 1541.9,1673.1 1542.1,1649.2 1542.4,1641.5 1542.7,1636.6 1543.0,1633.0 1543.3,1655.6 1543.6,1693.1 1543.8,1662.3 1544.1,1651.1 1544.4,1661.1 1544.7,1652.9 1545.0,1688.7 1545.3,1669.3 1545.5,1649.9 1545.8,1666.8 1546.1,1670.2 1546.4,1648.7 1546.7,1643.5 1547.0,1662.1 1547.2,1620.6 1547.5,1639.8 1547.8,1668.4 1548.1,1675.4 1548.4,1692.2 1548.6,1671.5 1548.9,1665.8 1549.2,1657.1 1549.5,1657.1 1549.8,1681.9 1550.1,1672.5 1550.3,1683.8 1550.6,1657.0 1550.9,1682.3 1551.2,1644.4 1551.5,1638.1 1551.8,1685.8 1552.0,1682.0 1552.3,1685.5 1552.6,1660.2 1552.9,1680.1 1553.2,1671.7 1553.5,1646.0 1553.7,1676.6 1554.0,1640.7 1554.3,1673.4 1554.6,1677.0 1554.9,1651.9 1555.1,1682.3 1555.4,1650.9 1555.7,1649.8 1556.0,1680.9 1556.3,1669.5 1556.6,1643.7 1556.8,1711.2 1557.1,1680.6 1557.4,1679.6 1557.7,1669.8 1558.0,1658.3 1558.3,1669.3 1558.5,1667.6 1558.8,1660.9 1559.1,1658.3 1559.4,1683.2 1559.7,1656.8 1560.0,1697.2 1560.2,1689.1 1560.5,1665.5 1560.8,1672.8 1561.1,1658.4 1561.4,1673.2 1561.6,1675.2 1561.9,1676.4 1562.2,1677.7 1562.5,1681.4 1562.8,1686.2 1563.1,1662.1 1563.3,1675.5 1563.6,1654.0 1563.9,1629.0 1564.2,1654.4 1564.5,1656.9 1564.8,1657.9 1565.0,1692.1 1565.3,1665.5 1565.6,1696.3 1565.9,1663.8 1566.2,1658.0 1566.5,1672.1 1566.7,1707.8 1567.0,1651.0 1567.3,1680.3 1567.6,1691.2 1567.9,1692.5 1568.1,1664.8 1568.4,1684.6 1568.7,1679.6 1569.0,1709.3 1569.3,1678.9 1569.6,1670.5 1569.8,1660.3 1570.1,1680.0 1570.4,1642.9 1570.7,1633.1 1571.0,1658.8 1571.3,1692.8 1571.5,1678.5 1571.8,1669.5 1572.1,1717.7 1572.4,1680.2 1572.7,1695.7 1573.0,1682.6 1573.2,1665.1 1573.5,1685.5 1573.8,1666.2 1574.1,1640.2 1574.4,1666.4 1574.6,1645.1 1574.9,1683.8 1575.2,1677.9 1575.5,1661.2 1575.8,1643.6 1576.1,1657.6 1576.3,1690.2 1576.6,1684.6 1576.9,1691.0 1577.2,1653.2 1577.5,1706.1 1577.8,1698.4 1578.0,1680.5 1578.3,1671.6 1578.6,1706.9 1578.9,1669.0 1579.2,1695.4 1579.5,1656.3 1579.7,1699.7 1580.0,1707.1 1580.3,1670.7 1580.6,1653.9 1580.9,1645.2 1581.1,1676.4 1581.4,1676.3 1581.7,1687.6 1582.0,1660.1 1582.3,1664.9 1582.6,1695.4 1582.8,1676.0 1583.1,1683.9 1583.4,1710.6 1583.7,1646.2 1584.0,1717.2 1584.3,1684.5 1584.5,1674.1 1584.8,1669.1 1585.1,1705.7 1585.4,1663.7 1585.7,1712.3 1586.0,1690.8 1586.2,1665.7 1586.5,1682.4 1586.8,1713.3 1587.1,1666.8 1587.4,1681.3 1587.6,1689.2 1587.9,1645.4 1588.2,1686.7 1588.5,1665.0 1588.8,1644.7 1589.1,1675.9 1589.3,1682.1 1589.6,1689.4 1589.9,1689.9 1590.2,1640.0 1590.5,1663.5 1590.8,1676.8 1591.0,1708.9 1591.3,1711.3 1591.6,1696.4 1591.9,1693.0 1592.2,1693.2 1592.4,1661.5 1592.7,1660.0 1593.0,1663.0 1593.3,1715.8 1593.6,1688.0 1593.9,1719.6 1594.1,1699.3 1594.4,1673.4 1594.7,1661.2 1595.0,1655.9 1595.3,1696.2 1595.6,1707.3 1595.8,1656.7 1596.1,1684.0 1596.4,1636.2 1596.7,1717.6 1597.0,1705.8 1597.3,1661.9 1597.5,1708.2 1597.8,1637.1 1598.1,1691.0 1598.4,1723.8 1598.7,1676.0 1598.9,1691.1 1599.2,1657.8 1599.5,1649.6 1599.8,1675.9 1600.1,1633.1 1600.4,1686.0 1600.6,1690.6 1600.9,1662.2 1601.2,1674.8 1601.5,1689.1 1601.8,1665.6 1602.1,1630.1 1602.3,1681.3 1602.6,1671.3 1602.9,1677.1 1603.2,1684.8 1603.5,1693.0 1603.8,1673.9 1604.0,1680.3 1604.3,1649.1 1604.6,1681.0 1604.9,1680.8 1605.2,1707.4 1605.4,1676.3 1605.7,1655.5 1606.0,1680.3 1606.3,1657.7 1606.6,1692.5 1606.9,1652.4 1607.1,1690.3 1607.4,1652.8 1607.7,1682.2 1608.0,1669.1 1608.3,1689.8 1608.6,1668.4 1608.8,1709.5 1609.1,1679.0 1609.4,1715.9 1609.7,1673.5 1610.0,1660.2 1610.3,1642.4 1610.5,1667.8 1610.8,1703.9 1611.1,1697.7 1611.4,1672.0 1611.7,1665.0 1611.9,1656.2 1612.2,1628.6 1612.5,1670.6 1612.8,1673.9 1613.1,1626.2 1613.4,1671.4 1613.6,1691.9 1613.9,1665.5 1614.2,1653.5 1614.5,1645.2 1614.8,1683.3 1615.1,1641.0 1615.3,1667.9 1615.6,1690.2 1615.9,1683.7 1616.2,1659.1 1616.5,1713.7 1616.8,1690.7 1617.0,1663.3 1617.3,1694.6 1617.6,1661.4 1617.9,1667.2 1618.2,1662.8 1618.4,1671.3 1618.7,1664.5 1619.0,1671.1 1619.3,1657.5 1619.6,1636.9 1619.9,1702.9 1620.1,1690.5 1620.4,1654.7 1620.7,1685.7 1621.0,1631.6 1621.3,1654.1 1621.6,1659.9 1621.8,1713.5 1622.1,1683.8 1622.4,1635.0 1622.7,1691.9 1623.0,1660.8 1623.3,1642.7 1623.5,1660.0 1623.8,1668.8 1624.1,1665.5 1624.4,1675.6 1624.7,1638.4 1624.9,1636.2 1625.2,1634.0 1625.5,1665.7 1625.8,1633.8 1626.1,1617.0 1626.4,1628.8 1626.6,1665.4 1626.9,1692.8 1627.2,1654.3 1627.5,1664.6 1627.8,1615.8 1628.1,1642.9 1628.3,1662.0 1628.6,1618.8 1628.9,1636.1 1629.2,1629.7 1629.5,1640.7 1629.8,1650.8 1630.0,1678.0 1630.3,1676.0 1630.6,1662.3 1630.9,1683.5 1631.2,1678.8 1631.4,1653.2 1631.7,1679.0 1632.0,1642.5 1632.3,1646.4 1632.6,1646.8 1632.9,1687.5 1633.1,1694.3 1633.4,1655.3 1633.7,1643.7 1634.0,1692.9 1634.3,1630.8 1634.6,1679.9 1634.8,1679.5 1635.1,1638.9 1635.4,1673.4 1635.7,1637.7 1636.0,1661.0 1636.3,1646.5 1636.5,1662.5 1636.8,1646.4 1637.1,1636.2 1637.4,1658.5 1637.7,1667.0 1637.9,1661.8 1638.2,1631.8 1638.5,1686.1 1638.8,1645.5 1639.1,1664.1 1639.4,1624.2 1639.6,1656.0 1639.9,1639.2 1640.2,1649.9 1640.5,1671.4 1640.8,1648.6 1641.1,1650.3 1641.3,1671.3 1641.6,1668.8 1641.9,1640.3 1642.2,1645.3 1642.5,1648.8 1642.8,1639.1 1643.0,1644.7 1643.3,1669.0 1643.6,1637.9 1643.9,1661.8 1644.2,1637.6 1644.4,1616.9 1644.7,1655.4 1645.0,1660.8 1645.3,1663.2 1645.6,1660.6 1645.9,1659.2 1646.1,1616.8 1646.4,1650.9 1646.7,1671.2 1647.0,1668.7 1647.3,1644.8 1647.6,1658.6 1647.8,1667.6 1648.1,1651.0 1648.4,1658.8 1648.7,1671.1 1649.0,1662.4 1649.3,1646.9 1649.5,1622.9 1649.8,1640.3 1650.1,1680.9 1650.4,1658.0 1650.7,1682.3 1650.9,1651.1 1651.2,1689.5 1651.5,1634.6 1651.8,1612.7 1652.1,1666.0 1652.4,1649.8 1652.6,1666.5 1652.9,1701.5 1653.2,1659.3 1653.5,1668.5 1653.8,1607.4 1654.1,1657.9 1654.3,1640.9 1654.6,1651.8 1654.9,1678.2 1655.2,1675.7 1655.5,1629.8 1655.8,1655.8 1656.0,1684.4 1656.3,1677.6 1656.6,1700.8 1656.9,1630.6 1657.2,1663.5 1657.4,1627.3 1657.7,1689.5 1658.0,1674.1 1658.3,1687.5 1658.6,1653.8 1658.9,1684.9 1659.1,1616.4 1659.4,1663.4 1659.7,1635.1 1660.0,1644.4 1660.3,1634.7 1660.6,1659.7 1660.8,1651.4 1661.1,1633.3 1661.4,1641.9 1661.7,1685.3 1662.0,1650.4 1662.3,1673.0 1662.5,1628.8 1662.8,1664.5 1663.1,1697.5 1663.4,1642.9 1663.7,1684.4 1663.9,1631.0 1664.2,1642.6 1664.5,1644.6 1664.8,1679.4 1665.1,1643.5 1665.4,1659.9 1665.6,1660.1 1665.9,1671.1 1666.2,1668.8 1666.5,1669.7 1666.8,1640.7 1667.1,1666.6 1667.3,1638.5 1667.6,1677.7 1667.9,1701.9 1668.2,1673.0 1668.5,1642.5 1668.8,1663.4 1669.0,1690.8 1669.3,1648.8 1669.6,1651.8 1669.9,1617.7 1670.2,1664.2 1670.4,1665.3 1670.7,1672.6 1671.0,1663.2 1671.3,1645.1 1671.6,1650.3 1671.9,1679.7 1672.1,1637.4 1672.4,1674.8 1672.7,1681.5 1673.0,1652.5 1673.3,1641.1 1673.6,1682.9 1673.8,1640.9 1674.1,1666.7 1674.4,1660.7 1674.7,1700.9 1675.0,1629.4 1675.3,1665.4 1675.5,1658.4 1675.8,1624.2 1676.1,1679.6 1676.4,1674.2 1676.7,1686.8 1676.9,1662.3 1677.2,1655.2 1677.5,1612.7 1677.8,1655.2 1678.1,1676.1 1678.4,1670.6 1678.6,1678.4 1678.9,1676.3 1679.2,1661.6 1679.5,1679.0 1679.8,1684.9 1680.1,1696.7 1680.3,1684.0 1680.6,1634.6 1680.9,1658.6 1681.2,1652.1 1681.5,1657.3 1681.8,1657.5 1682.0,1652.5 1682.3,1670.7 1682.6,1646.7 1682.9,1680.0 1683.2,1654.1 1683.4,1673.9 1683.7,1696.7 1684.0,1649.7 1684.3,1647.7 1684.6,1670.6 1684.9,1650.7 1685.1,1687.2 1685.4,1650.1 1685.7,1638.7 1686.0,1629.4 1686.3,1672.9 1686.6,1663.7 1686.8,1672.9 1687.1,1652.9 1687.4,1684.6 1687.7,1673.9 1688.0,1672.9 1688.3,1656.9 1688.5,1680.4 1688.8,1682.6 1689.1,1664.9 1689.4,1656.8 1689.7,1637.8 1689.9,1667.4 1690.2,1671.6 1690.5,1626.7 1690.8,1683.0 1691.1,1665.9 1691.4,1673.6 1691.6,1664.9 1691.9,1671.8 1692.2,1648.8 1692.5,1675.9 1692.8,1691.3 1693.1,1667.2 1693.3,1684.2 1693.6,1684.8 1693.9,1666.8 1694.2,1675.8 1694.5,1684.1 1694.8,1690.3 1695.0,1669.1 1695.3,1669.0 1695.6,1677.6 1695.9,1689.2 1696.2,1648.2 1696.4,1666.2 1696.7,1662.7 1697.0,1664.6 1697.3,1668.2 1697.6,1707.4 1697.9,1693.7 1698.1,1666.8 1698.4,1655.3 1698.7,1670.2 1699.0,1690.4 1699.3,1672.8 1699.6,1707.4 1699.8,1667.8 1700.1,1673.6 1700.4,1662.4 1700.7,1668.5 1701.0,1667.1 1701.3,1668.3 1701.5,1660.5 1701.8,1674.1 1702.1,1696.7 1702.4,1677.1 1702.7,1684.5 1702.9,1666.4 1703.2,1677.1 1703.5,1705.8 1703.8,1677.2 1704.1,1676.6 1704.4,1674.6 1704.6,1702.4 1704.9,1675.6 1705.2,1663.7 1705.5,1667.6 1705.8,1660.5 1706.1,1677.4 1706.3,1680.1 1706.6,1683.3 1706.9,1673.7 1707.2,1696.4 1707.5,1645.9 1707.8,1652.8 1708.0,1690.5 1708.3,1670.0 1708.6,1694.3 1708.9,1670.5 1709.2,1680.4 1709.4,1665.6 1709.7,1691.8 1710.0,1655.6 1710.3,1658.6 1710.6,1704.2 1710.9,1704.3 1711.1,1669.1 1711.4,1660.6 1711.7,1680.6 1712.0,1656.8 1712.3,1681.8 1712.6,1661.6 1712.8,1703.1 1713.1,1643.7 1713.4,1689.7 1713.7,1665.7 1714.0,1679.8 1714.3,1665.0 1714.5,1688.5 1714.8,1713.3 1715.1,1682.9 1715.4,1653.9 1715.7,1691.5 1715.9,1655.7 1716.2,1677.0 1716.5,1669.0 1716.8,1689.2 1717.1,1676.1 1717.4,1677.1 1717.6,1658.1 1717.9,1670.1 1718.2,1683.9 1718.5,1676.5 1718.8,1661.8 1719.1,1671.3 1719.3,1702.8 1719.6,1690.8 1719.9,1664.9 1720.2,1669.9 1720.5,1684.4 1720.8,1655.3 1721.0,1684.5 1721.3,1679.3 1721.6,1666.2 1721.9,1673.8 1722.2,1674.3 1722.4,1691.4 1722.7,1706.9 1723.0,1705.5 1723.3,1669.9 1723.6,1664.5 1723.9,1679.8 1724.1,1708.5 1724.4,1673.6 1724.7,1715.2 1725.0,1683.4 1725.3,1686.5 1725.6,1689.1 1725.8,1673.6 1726.1,1711.2 1726.4,1683.8 1726.7,1669.6 1727.0,1670.6 1727.3,1680.3 1727.5,1671.8 1727.8,1690.4 1728.1,1662.6 1728.4,1682.2 1728.7,1686.3 1728.9,1672.2 1729.2,1680.2 1729.5,1656.6 1729.8,1670.2 1730.1,1677.2 1730.4,1678.5 1730.6,1667.4 1730.9,1683.5 1731.2,1702.5 1731.5,1702.8 1731.8,1673.6 1732.1,1670.3 1732.3,1688.7 1732.6,1668.4 1732.9,1681.0 1733.2,1697.2 1733.5,1672.0 1733.7,1685.6 1734.0,1670.7 1734.3,1705.9 1734.6,1673.6 1734.9,1652.3 1735.2,1698.0 1735.4,1677.3 1735.7,1669.1 1736.0,1685.1 1736.3,1671.8 1736.6,1666.0 1736.9,1679.0 1737.1,1668.7 1737.4,1686.1 1737.7,1699.2 1738.0,1692.3 1738.3,1643.3 1738.6,1683.2 1738.8,1667.8 1739.1,1688.9 1739.4,1682.3 1739.7,1677.2 1740.0,1661.9 1740.2,1684.5 1740.5,1675.0 1740.8,1664.4 1741.1,1699.3 1741.4,1691.5 1741.7,1655.9 1741.9,1681.4 1742.2,1689.3 1742.5,1664.2 1742.8,1676.3 1743.1,1684.1 1743.4,1680.0 1743.6,1711.4 1743.9,1691.1 1744.2,1674.1 1744.5,1665.0 1744.8,1688.3 1745.1,1698.5 1745.3,1686.1 1745.6,1696.1 1745.9,1679.7 1746.2,1671.9 1746.5,1694.0 1746.7,1648.7 1747.0,1692.2 1747.3,1687.8 1747.6,1659.5 1747.9,1675.3 1748.2,1706.1 1748.4,1680.3 1748.7,1679.0 1749.0,1695.0 1749.3,1688.0 1749.6,1685.5 1749.9,1706.8 1750.1,1718.6 1750.4,1672.7 1750.7,1692.6 1751.0,1678.8 1751.3,1695.3 1751.6,1690.0 1751.8,1708.6 1752.1,1677.4 1752.4,1673.4 1752.7,1691.3 1753.0,1678.5 1753.2,1700.6 1753.5,1709.7 1753.8,1677.4 1754.1,1717.8 1754.4,1701.2 1754.7,1700.3 1754.9,1695.4 1755.2,1719.6 1755.5,1667.3 1755.8,1682.9 1756.1,1696.3 1756.4,1711.2 1756.6,1692.8 1756.9,1713.7 1757.2,1686.3 1757.5,1726.7 1757.8,1689.7 1758.1,1669.8 1758.3,1656.8 1758.6,1675.3 1758.9,1693.9 1759.2,1697.7 1759.5,1689.5 1759.7,1686.9 1760.0,1667.9 1760.3,1723.7 1760.6,1700.3 1760.9,1704.8 1761.2,1696.4 1761.4,1682.0 1761.7,1724.1 1762.0,1706.2 1762.3,1691.2 1762.6,1695.6 1762.9,1677.2 1763.1,1697.6 1763.4,1703.7 1763.7,1669.3 1764.0,1692.4 1764.3,1689.9 1764.6,1701.6 1764.8,1683.4 1765.1,1698.0 1765.4,1708.6 1765.7,1702.2 1766.0,1707.5 1766.2,1690.3 1766.5,1706.0 1766.8,1726.3 1767.1,1697.1 1767.4,1712.3 1767.7,1698.3 1767.9,1715.3 1768.2,1706.7 1768.5,1670.8 1768.8,1688.3 1769.1,1697.5 1769.4,1726.0 1769.6,1682.4 1769.9,1686.2 1770.2,1698.6 1770.5,1689.8 1770.8,1666.6 1771.1,1724.5 1771.3,1672.5 1771.6,1694.0 1771.9,1712.3 1772.2,1691.4 1772.5,1724.1 1772.7,1695.3 1773.0,1700.3 1773.3,1687.4 1773.6,1701.4 1773.9,1693.5 1774.2,1701.4 1774.4,1683.7 1774.7,1679.0 1775.0,1699.9 1775.3,1691.9 1775.6,1701.4 1775.9,1718.2 1776.1,1712.9 1776.4,1700.8 1776.7,1693.8 1777.0,1697.2 1777.3,1694.2 1777.6,1697.7 1777.8,1678.6 1778.1,1701.8 1778.4,1708.3 1778.7,1704.6 1779.0,1693.9 1779.2,1705.5 1779.5,1684.0 1779.8,1699.8 1780.1,1689.8 1780.4,1702.7 1780.7,1687.4 1780.9,1707.7 1781.2,1677.3 1781.5,1681.1 1781.8,1712.9 1782.1,1715.1 1782.4,1717.1 1782.6,1695.8 1782.9,1695.0 1783.2,1700.8 1783.5,1679.8 1783.8,1678.2 1784.1,1692.3 1784.3,1696.1 1784.6,1707.0 1784.9,1678.5 1785.2,1695.5 1785.5,1688.8 1785.7,1690.2 1786.0,1704.4 1786.3,1715.0 1786.6,1700.3 1786.9,1720.0 1787.2,1717.9 1787.4,1707.5 1787.7,1693.2 1788.0,1709.0 1788.3,1703.0 1788.6,1714.3 1788.9,1705.9 1789.1,1706.6 1789.4,1714.6 1789.7,1696.2 1790.0,1720.9 1790.3,1722.2 1790.6,1704.6 1790.8,1715.1 1791.1,1704.3 1791.4,1696.0 1791.7,1697.8 1792.0,1710.7 1792.2,1701.6 1792.5,1683.9 1792.8,1665.4 1793.1,1709.1 1793.4,1714.3 1793.7,1711.1 1793.9,1714.8 1794.2,1684.3 1794.5,1706.6 1794.8,1700.9 1795.1,1665.0 1795.4,1682.7 1795.6,1699.0 1795.9,1691.0 1796.2,1717.9 1796.5,1678.4 1796.8,1682.0 1797.1,1700.1 1797.3,1679.7 1797.6,1669.9 1797.9,1692.8 1798.2,1714.6 1798.5,1704.2 1798.7,1705.1 1799.0,1686.2 1799.3,1707.3 1799.6,1694.5 1799.9,1690.9 1800.2,1674.7 1800.4,1701.5 1800.7,1680.6 1801.0,1701.0 1801.3,1691.1 1801.6,1697.8 1801.9,1663.9 1802.1,1703.9 1802.4,1682.2 1802.7,1707.3 1803.0,1679.7 1803.3,1692.2 1803.6,1678.8 1803.8,1683.4 1804.1,1689.6 1804.4,1682.1 1804.7,1706.4 1805.0,1694.7 1805.2,1711.7 1805.5,1711.3 1805.8,1709.4 1806.1,1699.5 1806.4,1684.2 1806.7,1695.0 1806.9,1690.0 1807.2,1680.6 1807.5,1666.3 1807.8,1709.2 1808.1,1700.6 1808.4,1719.7 1808.6,1676.6 1808.9,1682.2 1809.2,1695.8 1809.5,1695.0 1809.8,1686.7 1810.1,1708.7 1810.3,1699.7 1810.6,1683.6 1810.9,1723.6 1811.2,1712.0 1811.5,1716.7 1811.7,1687.8 1812.0,1718.8 1812.3,1667.0 1812.6,1695.4 1812.9,1686.4 1813.2,1703.0 1813.4,1702.3 1813.7,1673.2 1814.0,1676.7 1814.3,1713.0 1814.6,1693.1 1814.9,1673.7 1815.1,1707.6 1815.4,1720.9 1815.7,1699.4 1816.0,1702.2 1816.3,1706.3 1816.6,1681.5 1816.8,1697.5 1817.1,1713.9 1817.4,1695.9 1817.7,1707.6 1818.0,1689.2 1818.2,1688.2 1818.5,1690.5 1818.8,1702.6 1819.1,1716.5 1819.4,1690.2 1819.7,1730.8 1819.9,1680.1 1820.2,1689.0 1820.5,1701.3 1820.8,1697.9 1821.1,1706.3 1821.4,1722.2 1821.6,1726.2 1821.9,1685.6 1822.2,1689.4 1822.5,1697.1 1822.8,1699.1 1823.1,1719.8 1823.3,1677.9 1823.6,1688.1 1823.9,1710.8 1824.2,1691.9 1824.5,1703.7 1824.7,1726.2 1825.0,1716.5 1825.3,1704.3 1825.6,1703.1 1825.9,1723.0 1826.2,1700.6 1826.4,1709.8 1826.7,1698.9 1827.0,1736.8 1827.3,1686.0 1827.6,1724.5 1827.9,1716.1 1828.1,1733.3 1828.4,1718.8 1828.7,1702.0 1829.0,1709.2 1829.3,1710.2 1829.6,1694.9 1829.8,1702.8 1830.1,1707.6 1830.4,1706.2 1830.7,1706.4 1831.0,1690.0 1831.2,1730.2 1831.5,1689.9 1831.8,1724.2 1832.1,1723.4 1832.4,1702.1 1832.7,1700.3 1832.9,1713.1 1833.2,1694.2 1833.5,1697.7 1833.8,1716.2 1834.1,1710.3 1834.4,1718.3 1834.6,1733.3 1834.9,1707.1 1835.2,1713.1 1835.5,1703.0 1835.8,1700.9 1836.1,1704.0 1836.3,1727.0 1836.6,1717.2 1836.9,1708.2 1837.2,1711.7 1837.5,1715.8 1837.7,1715.3 1838.0,1734.5 1838.3,1735.4 1838.6,1717.0 1838.9,1707.9 1839.2,1716.9 1839.4,1735.2 1839.7,1734.8 1840.0,1721.1 1840.3,1731.3 1840.6,1726.8 1840.9,1742.4 1841.1,1739.2 1841.4,1707.8 1841.7,1703.6 1842.0,1690.2 1842.3,1719.6 1842.6,1715.6 1842.8,1732.9 1843.1,1704.4 1843.4,1699.6 1843.7,1711.2 1844.0,1720.4 1844.2,1726.6 1844.5,1701.0 1844.8,1718.2 1845.1,1694.0 1845.4,1705.3 1845.7,1701.4 1845.9,1734.9 1846.2,1727.1 1846.5,1739.3 1846.8,1696.4 1847.1,1730.8 1847.4,1716.5 1847.6,1716.2 1847.9,1714.8 1848.2,1714.7 1848.5,1687.9 1848.8,1712.7 1849.1,1702.8 1849.3,1719.9 1849.6,1722.5 1849.9,1712.3 1850.2,1712.2 1850.5,1719.5 1850.7,1701.3 1851.0,1736.7 1851.3,1723.8 1851.6,1712.0 1851.9,1708.3 1852.2,1727.9 1852.4,1717.4 1852.7,1736.4 1853.0,1726.8 1853.3,1722.7 1853.6,1724.5 1853.9,1735.2 1854.1,1724.8 1854.4,1730.3 1854.7,1720.0 1855.0,1710.4 1855.3,1722.6 1855.6,1712.1 1855.8,1697.9 1856.1,1724.4 1856.4,1743.6 1856.7,1732.8 1857.0,1717.8 1857.2,1730.8 1857.5,1705.6 1857.8,1714.8 1858.1,1698.9 1858.4,1711.3 1858.7,1732.3 1858.9,1702.9 1859.2,1709.2 1859.5,1686.4 1859.8,1702.0 1860.1,1713.0 1860.4,1742.1 1860.6,1712.4 1860.9,1750.2 1861.2,1711.4 1861.5,1709.9 1861.8,1731.0 1862.1,1739.2 1862.3,1718.9 1862.6,1702.3 1862.9,1745.7 1863.2,1713.8 1863.5,1719.4 1863.7,1712.0 1864.0,1727.5 1864.3,1703.2 1864.6,1729.1 1864.9,1720.7 1865.2,1719.0 1865.4,1712.2 1865.7,1710.6 1866.0,1710.7 1866.3,1724.9 1866.6,1737.7 1866.9,1712.0 1867.1,1700.8 1867.4,1715.3 1867.7,1726.5 1868.0,1721.6 1868.3,1721.5 1868.6,1715.9 1868.8,1734.3 1869.1,1725.5 1869.4,1729.2 1869.7,1734.1 1870.0,1721.9 1870.2,1744.2 1870.5,1716.2 1870.8,1720.5 1871.1,1717.6 1871.4,1729.8 1871.7,1727.2 1871.9,1710.5 1872.2,1728.7 1872.5,1708.4 1872.8,1708.9 1873.1,1717.9 1873.4,1712.7 1873.6,1714.3 1873.9,1723.1 1874.2,1729.1 1874.5,1715.6 1874.8,1722.0 1875.0,1721.5 1875.3,1696.8 1875.6,1725.0 1875.9,1687.0 1876.2,1706.6 1876.5,1712.3 1876.7,1716.4 1877.0,1713.1 1877.3,1705.2 1877.6,1739.3 1877.9,1703.7 1878.2,1743.2 1878.4,1687.0 1878.7,1728.6 1879.0,1733.3 1879.3,1704.8 1879.6,1705.8 1879.9,1708.6 1880.1,1703.3 1880.4,1725.0 1880.7,1719.6 1881.0,1695.0 1881.3,1725.0 1881.5,1728.9 1881.8,1715.9 1882.1,1725.8 1882.4,1687.0 1882.7,1718.9 1883.0,1733.4 1883.2,1697.3 1883.5,1722.6 1883.8,1699.6 1884.1,1704.8 1884.4,1703.6 1884.7,1712.5 1884.9,1724.9 1885.2,1716.2 1885.5,1732.2 1885.8,1722.4 1886.1,1721.5 1886.4,1721.2 1886.6,1707.7 1886.9,1728.0 1887.2,1721.0 1887.5,1711.0 1887.8,1705.2 1888.0,1724.3 1888.3,1715.8 1888.6,1729.2 1888.9,1723.4 1889.2,1711.0 1889.5,1726.0 1889.7,1717.1 1890.0,1731.9 1890.3,1716.1 1890.6,1721.4 1890.9,1718.4 1891.2,1712.7 1891.4,1714.5 1891.7,1699.4 1892.0,1716.2 1892.3,1716.2 1892.6,1708.5 1892.9,1725.6 1893.1,1694.8 1893.4,1701.4 1893.7,1725.5 1894.0,1696.5 1894.3,1700.8 1894.5,1718.1 1894.8,1718.0 1895.1,1704.5 1895.4,1704.0 1895.7,1690.9 1896.0,1710.0 1896.2,1712.5 1896.5,1706.0 1896.8,1732.4 1897.1,1711.8 1897.4,1698.8 1897.7,1707.5 1897.9,1741.4 1898.2,1723.0 1898.5,1709.4 1898.8,1690.9 1899.1,1712.9 1899.4,1696.5 1899.6,1715.2 1899.9,1736.3 1900.2,1715.1 1900.5,1712.1 1900.8,1735.0 1901.0,1709.0 1901.3,1746.9 1901.6,1717.6 1901.9,1738.7 1902.2,1726.6 1902.5,1711.5 1902.7,1733.5 1903.0,1749.4 1903.3,1737.6 1903.6,1735.7 1903.9,1725.0 1904.2,1724.2 1904.4,1685.8 1904.7,1707.7 1905.0,1717.4 1905.3,1729.8 1905.6,1725.3 1905.9,1703.2 1906.1,1709.6 1906.4,1702.4 1906.7,1710.5 1907.0,1713.4 1907.3,1720.5 1907.5,1701.0 1907.8,1726.0 1908.1,1706.7 1908.4,1704.9 1908.7,1726.8 1909.0,1697.8 1909.2,1700.3 1909.5,1717.6 1909.8,1717.3 1910.1,1707.8 1910.4,1709.9 1910.7,1732.5 1910.9,1728.9 1911.2,1704.3 1911.5,1717.1 1911.8,1726.9 1912.1,1702.4 1912.4,1713.0 1912.6,1705.4 1912.9,1729.0 1913.2,1711.0 1913.5,1706.4 1913.8,1739.2 1914.0,1690.0 1914.3,1706.9 1914.6,1711.6 1914.9,1718.2 1915.2,1723.4 1915.5,1694.8 1915.7,1709.0 1916.0,1722.1 1916.3,1705.0 1916.6,1705.1 1916.9,1739.0 1917.2,1703.7 1917.4,1731.3 1917.7,1713.1 1918.0,1715.3 1918.3,1705.8 1918.6,1722.1 1918.9,1712.0 1919.1,1710.4 1919.4,1728.6 1919.7,1708.6 1920.0,1724.9 1920.3,1730.4 1920.5,1722.2 1920.8,1733.8 1921.1,1748.4 1921.4,1712.1 1921.7,1699.5 1922.0,1731.0 1922.2,1697.3 1922.5,1743.7 1922.8,1722.4 1923.1,1689.2 1923.4,1722.2 1923.7,1720.3 1923.9,1714.1 1924.2,1714.1 1924.5,1710.1 1924.8,1708.8 1925.1,1734.2 1925.4,1741.5 1925.6,1711.4 1925.9,1723.7 1926.2,1722.7 1926.5,1723.4 1926.8,1695.4 1927.0,1707.1 1927.3,1724.8 1927.6,1740.8 1927.9,1712.9 1928.2,1699.2 1928.5,1705.3 1928.7,1725.5 1929.0,1711.3 1929.3,1742.2 1929.6,1707.6 1929.9,1707.9 1930.2,1689.6 1930.4,1729.8 1930.7,1712.1 1931.0,1718.1 1931.3,1729.3 1931.6,1723.6 1931.9,1730.5 1932.1,1711.6 1932.4,1717.8 1932.7,1716.9 1933.0,1703.8 1933.3,1726.1 1933.5,1703.3 1933.8,1725.5 1934.1,1736.6 1934.4,1702.1 1934.7,1706.8 1935.0,1699.6 1935.2,1735.2 1935.5,1710.6 1935.8,1738.8 1936.1,1695.6 1936.4,1719.5 1936.7,1702.3 1936.9,1727.5 1937.2,1719.1 1937.5,1723.9 1937.8,1714.5 1938.1,1721.3 1938.4,1712.3 1938.6,1735.4 1938.9,1715.0 1939.2,1710.3 1939.5,1698.2 1939.8,1709.6 1940.0,1721.7 1940.3,1713.3 1940.6,1712.2 1940.9,1703.8 1941.2,1724.9 1941.5,1723.2 1941.7,1713.6 1942.0,1742.9 1942.3,1712.2 1942.6,1744.3 1942.9,1702.4 1943.2,1683.2 1943.4,1683.2 1943.7,1746.6 1944.0,1719.2 1944.3,1708.3 1944.6,1696.4 1944.9,1706.2 1945.1,1715.0 1945.4,1741.4 1945.7,1733.6 1946.0,1700.5 1946.3,1706.8 1946.5,1739.5 1946.8,1706.3 1947.1,1699.4 1947.4,1722.7 1947.7,1712.2 1948.0,1714.9 1948.2,1697.8 1948.5,1700.2 1948.8,1722.7 1949.1,1706.8 1949.4,1705.0 1949.7,1699.9 1949.9,1729.9 1950.2,1705.0 1950.5,1727.7 1950.8,1702.4 1951.1,1711.6 1951.4,1724.0 1951.6,1716.6 1951.9,1698.4 1952.2,1720.0 1952.5,1702.8 1952.8,1727.1 1953.0,1734.0 1953.3,1730.3 1953.6,1708.8 1953.9,1701.0 1954.2,1723.9 1954.5,1706.3 1954.7,1699.0 1955.0,1707.8 1955.3,1708.2 1955.6,1709.9 1955.9,1724.4 1956.2,1704.1 1956.4,1715.3 1956.7,1721.5 1957.0,1699.3 1957.3,1740.8 1957.6,1707.9 1957.9,1734.3 1958.1,1696.5 1958.4,1691.8 1958.7,1716.5 1959.0,1689.5 1959.3,1691.2 1959.5,1713.4 1959.8,1727.6 1960.1,1711.5 1960.4,1731.9 1960.7,1696.1 1961.0,1696.4 1961.2,1709.4 1961.5,1701.8 1961.8,1698.5 1962.1,1721.4 1962.4,1726.3 1962.7,1695.1 1962.9,1717.0 1963.2,1702.3 1963.5,1690.9 1963.8,1726.2 1964.1,1695.8 1964.4,1702.3 1964.6,1707.7 1964.9,1726.4 1965.2,1704.6 1965.5,1695.2 1965.8,1708.8 1966.0,1720.2 1966.3,1711.5 1966.6,1702.7 1966.9,1694.3 1967.2,1695.3 1967.5,1714.2 1967.7,1694.0 1968.0,1716.9 1968.3,1704.7 1968.6,1715.2 1968.9,1696.1 1969.2,1701.3 1969.4,1712.9 1969.7,1718.1 1970.0,1680.0 1970.3,1717.2 1970.6,1698.9 1970.9,1725.6 1971.1,1723.2 1971.4,1711.9 1971.7,1725.9 1972.0,1692.7 1972.3,1697.9 1972.5,1716.6 1972.8,1718.9 1973.1,1711.6 1973.4,1710.6 1973.7,1710.9 1974.0,1729.4 1974.2,1694.1 1974.5,1694.6 1974.8,1706.6 1975.1,1701.6 1975.4,1713.1 1975.7,1712.2 1975.9,1700.3 1976.2,1682.9 1976.5,1690.4 1976.8,1715.9 1977.1,1716.2 1977.4,1704.9 1977.6,1713.0 1977.9,1725.4 1978.2,1715.7 1978.5,1694.2 1978.8,1705.2 1979.0,1700.6 1979.3,1703.1 1979.6,1711.9 1979.9,1706.2 1980.2,1709.0 1980.5,1721.1 1980.7,1724.2 1981.0,1740.8 1981.3,1706.4 1981.6,1715.2 1981.9,1696.8 1982.2,1702.9 1982.4,1690.8 1982.7,1744.5 1983.0,1700.6 1983.3,1721.7 1983.6,1724.5 1983.9,1744.8 1984.1,1726.1 1984.4,1704.6 1984.7,1716.2 1985.0,1704.3 1985.3,1703.6 1985.5,1699.2 1985.8,1718.7 1986.1,1703.3 1986.4,1718.7 1986.7,1720.6 1987.0,1697.7 1987.2,1702.6 1987.5,1711.7 1987.8,1704.5 1988.1,1721.0 1988.4,1688.6 1988.7,1722.0 1988.9,1728.8 1989.2,1706.1 1989.5,1681.2 1989.8,1719.6 1990.1,1730.3 1990.4,1733.8 1990.6,1746.5 1990.9,1735.0 1991.2,1706.0 1991.5,1689.3 1991.8,1707.7 1992.0,1703.1 1992.3,1695.6 1992.6,1710.6 1992.9,1707.3 1993.2,1737.8 1993.5,1698.0 1993.7,1682.3 1994.0,1693.2 1994.3,1706.5 1994.6,1693.0 1994.9,1729.7 1995.2,1725.8 1995.4,1719.9 1995.7,1692.6 1996.0,1701.1 1996.3,1723.1 1996.6,1741.3 1996.9,1717.1 1997.1,1731.9 1997.4,1722.8 1997.7,1711.0 1998.0,1729.6 1998.3,1731.5 1998.5,1705.6 1998.8,1693.1 1999.1,1706.1 1999.4,1738.7 1999.7,1722.9 2000.0,1721.6 2000.2,1722.1 2000.5,1723.7 2000.8,1715.0 2001.1,1700.3 2001.4,1695.0 2001.7,1707.2 2001.9,1715.6 2002.2,1728.7 2002.5,1695.9 2002.8,1743.9 2003.1,1712.1 2003.4,1710.3 2003.6,1728.3 2003.9,1713.0 2004.2,1715.8 2004.5,1725.8 2004.8,1701.5 2005.0,1689.0 2005.3,1727.9 2005.6,1705.7 2005.9,1719.4 2006.2,1733.2 2006.5,1691.9 2006.7,1712.5 2007.0,1728.1 2007.3,1710.0 2007.6,1714.8 2007.9,1709.0 2008.2,1704.8 2008.4,1737.1 2008.7,1735.3 2009.0,1716.4 2009.3,1715.5 2009.6,1724.5 2009.9,1714.6 2010.1,1725.3 2010.4,1702.3 2010.7,1718.1 2011.0,1724.0 2011.3,1707.6 2011.5,1711.1 2011.8,1710.3 2012.1,1703.2 2012.4,1704.2 2012.7,1708.2 2013.0,1725.5 2013.2,1702.6 2013.5,1721.8 2013.8,1712.7 2014.1,1724.3 2014.4,1736.6 2014.7,1732.6 2014.9,1725.3 2015.2,1732.6 2015.5,1708.6 2015.8,1718.7 2016.1,1726.7 2016.3,1716.3 2016.6,1712.4 2016.9,1735.3 2017.2,1702.6 2017.5,1719.4 2017.8,1700.7 2018.0,1701.7 2018.3,1707.9 2018.6,1729.1 2018.9,1708.5 2019.2,1708.8 2019.5,1729.1 2019.7,1693.6 2020.0,1742.7 2020.3,1719.6 2020.6,1702.4 2020.9,1724.0 2021.2,1712.2 2021.4,1724.8 2021.7,1720.3 2022.0,1704.8 2022.3,1710.2 2022.6,1715.8 2022.8,1712.4 2023.1,1714.9 2023.4,1729.1 2023.7,1724.7 2024.0,1712.5 2024.3,1686.4 2024.5,1709.2 2024.8,1709.2 2025.1,1692.8 2025.4,1717.8 2025.7,1728.8 2026.0,1729.2 2026.2,1727.9 2026.5,1694.5 2026.8,1708.0 2027.1,1724.1 2027.4,1713.3 2027.7,1701.4 2027.9,1731.8 2028.2,1737.6 2028.5,1748.7 2028.8,1711.6 2029.1,1688.9 2029.3,1731.3 2029.6,1712.7 2029.9,1713.7 2030.2,1719.4 2030.5,1711.6 2030.8,1706.4 2031.0,1710.9 2031.3,1723.1 2031.6,1718.9 2031.9,1734.7 2032.2,1706.2 2032.5,1713.4 2032.7,1722.0 2033.0,1720.8 2033.3,1733.2 2033.6,1718.2 2033.9,1726.5 2034.2,1709.9 2034.4,1705.2 2034.7,1727.6 2035.0,1720.5 2035.3,1718.6 2035.6,1717.8 2035.8,1725.7 2036.1,1710.2 2036.4,1747.0 2036.7,1698.7 2037.0,1706.3 2037.3,1709.8 2037.5,1730.4 2037.8,1687.0 2038.1,1716.1 2038.4,1735.3 2038.7,1730.0 2039.0,1718.3 2039.2,1724.5 2039.5,1720.9 2039.8,1718.3 2040.1,1708.8 2040.4,1704.5 2040.7,1701.7 2040.9,1728.7 2041.2,1699.2 2041.5,1707.6 2041.8,1698.2 2042.1,1728.0 2042.3,1719.2 2042.6,1709.9 2042.9,1699.6 2043.2,1721.0 2043.5,1721.6 2043.8,1716.1 2044.0,1721.4 2044.3,1716.2 2044.6,1718.5 2044.9,1703.8 2045.2,1707.4 2045.5,1707.5 2045.7,1717.4 2046.0,1745.2 2046.3,1700.1 2046.6,1726.6 2046.9,1715.3 2047.2,1719.6 2047.4,1720.9 2047.7,1713.6 2048.0,1701.7 2048.3,1720.3 2048.6,1715.2 2048.8,1725.8 2049.1,1687.1 2049.4,1710.0 2049.7,1718.0 2050.0,1718.7 2050.3,1720.8 2050.5,1718.6 2050.8,1726.1 2051.1,1722.6 2051.4,1743.8 2051.7,1695.4 2052.0,1699.6 2052.2,1701.5 2052.5,1707.3 2052.8,1702.7 2053.1,1700.2 2053.4,1702.0 2053.7,1718.1 2053.9,1709.4 2054.2,1703.4 2054.5,1691.4 2054.8,1713.5 2055.1,1690.5 2055.3,1727.9 2055.6,1715.7 2055.9,1739.4 2056.2,1693.9 2056.5,1732.8 2056.8,1691.1 2057.0,1740.6 2057.3,1699.9 2057.6,1709.1 2057.9,1709.7 2058.2,1735.7 2058.5,1694.2 2058.7,1733.5 2059.0,1724.1 2059.3,1708.7 2059.6,1725.5 2059.9,1717.1 2060.2,1722.4 2060.4,1714.5 2060.7,1715.6 2061.0,1699.0 2061.3,1699.2 2061.6,1699.9 2061.8,1697.0 2062.1,1723.7 2062.4,1734.3 2062.7,1707.1 2063.0,1727.5 2063.3,1687.5 2063.5,1707.7 2063.8,1713.4 2064.1,1708.8 2064.4,1722.3 2064.7,1722.2 2065.0,1723.9 2065.2,1706.5 2065.5,1742.7 2065.8,1710.5 2066.1,1717.5 2066.4,1710.2 2066.7,1723.3 2066.9,1710.9 2067.2,1700.5 2067.5,1720.9 2067.8,1724.5 2068.1,1715.5 2068.3,1700.3 2068.6,1720.6 2068.9,1707.8 2069.2,1703.7 2069.5,1704.0 2069.8,1696.4 2070.0,1682.6 2070.3,1715.0 2070.6,1710.0 2070.9,1687.3 2071.2,1722.0 2071.5,1715.9 2071.7,1708.3 2072.0,1719.3 2072.3,1699.3 2072.6,1701.8 2072.9,1700.2 2073.2,1699.9 2073.4,1710.5 2073.7,1700.5 2074.0,1721.0 2074.3,1722.7 2074.6,1726.1 2074.8,1703.6 2075.1,1710.3 2075.4,1719.7 2075.7,1702.0 2076.0,1725.1 2076.3,1720.5 2076.5,1744.5 2076.8,1706.9 2077.1,1728.3 2077.4,1723.5 2077.7,1700.8 2078.0,1694.5 2078.2,1716.5 2078.5,1722.8 2078.8,1711.5 2079.1,1692.9 2079.4,1726.7 2079.7,1722.6 2079.9,1721.8 2080.2,1734.3 2080.5,1745.5 2080.8,1720.7 2081.1,1726.4 2081.3,1722.6 2081.6,1718.3 2081.9,1729.9 2082.2,1719.6 2082.5,1723.7 2082.8,1741.5 2083.0,1742.8 2083.3,1687.4 2083.6,1737.4 2083.9,1717.3 2084.2,1704.8 2084.5,1713.6 2084.7,1682.5 2085.0,1704.5 2085.3,1743.9 2085.6,1724.7 2085.9,1712.9 2086.2,1737.5 2086.4,1698.0 2086.7,1721.5 2087.0,1699.1 2087.3,1724.7 2087.6,1716.2 2087.8,1731.1 2088.1,1703.9 2088.4,1719.1 2088.7,1733.3 2089.0,1730.2 2089.3,1700.3 2089.5,1718.9 2089.8,1717.5 2090.1,1708.3 2090.4,1716.4 2090.7,1703.7 2091.0,1706.2 2091.2,1716.1 2091.5,1719.1 2091.8,1709.7 2092.1,1722.7 2092.4,1712.4 2092.7,1739.9 2092.9,1698.5 2093.2,1733.7 2093.5,1723.6 2093.8,1690.6 2094.1,1725.3 2094.3,1720.5 2094.6,1716.9 2094.9,1709.3 2095.2,1710.9 2095.5,1726.9 2095.8,1735.1 2096.0,1726.0 2096.3,1703.4 2096.6,1715.4 2096.9,1688.7 2097.2,1718.7 2097.5,1725.5 2097.7,1699.2 2098.0,1722.9 2098.3,1710.5 2098.6,1712.5 2098.9,1706.0 2099.2,1730.5 2099.4,1729.2 2099.7,1721.0 2100.0,1732.3 2100.3,1701.8 2100.6,1723.4 2100.8,1699.6 2101.1,1725.6 2101.4,1751.0 2101.7,1720.9 2102.0,1715.6 2102.3,1732.2 2102.5,1712.0 2102.8,1715.7 2103.1,1717.4 2103.4,1710.5 2103.7,1720.0 2104.0,1724.1 2104.2,1701.7 2104.5,1726.7 2104.8,1704.7 2105.1,1748.0 2105.4,1697.7 2105.7,1738.5 2105.9,1713.6 2106.2,1731.3 2106.5,1709.0 2106.8,1730.2 2107.1,1737.0 2107.3,1712.6 2107.6,1696.5 2107.9,1726.8 2108.2,1701.4 2108.5,1707.6 2108.8,1715.4 2109.0,1710.5 2109.3,1690.3 2109.6,1701.8 2109.9,1712.9 2110.2,1727.3 2110.5,1710.0 2110.7,1713.0 2111.0,1736.6 2111.3,1746.0 2111.6,1719.4 2111.9,1696.9 2112.2,1728.2 2112.4,1720.3 2112.7,1721.4 2113.0,1730.3 2113.3,1712.6 2113.6,1743.7 2113.8,1705.0 2114.1,1698.5 2114.4,1719.5 2114.7,1699.2 2115.0,1707.1 2115.3,1691.5 2115.5,1730.8 2115.8,1724.1 2116.1,1715.7 2116.4,1708.2 2116.7,1692.8 2117.0,1693.3 2117.2,1718.9 2117.5,1734.5 2117.8,1729.4 2118.1,1686.0 2118.4,1697.8 2118.7,1747.5 2118.9,1717.5 2119.2,1721.1 2119.5,1718.6 2119.8,1736.3 2120.1,1712.0 2120.3,1716.8 2120.6,1723.0 2120.9,1721.2 2121.2,1730.3 2121.5,1721.1 2121.8,1723.3 2122.0,1703.2 2122.3,1710.3 2122.6,1710.6 2122.9,1722.4 2123.2,1722.4 2123.5,1712.0 2123.7,1708.2 2124.0,1688.1 2124.3,1692.9 2124.6,1709.5 2124.9,1725.0 2125.2,1714.0 2125.4,1697.4 2125.7,1702.4 2126.0,1700.8 2126.3,1713.0 2126.6,1712.5 2126.8,1728.0 2127.1,1723.9 2127.4,1713.7 2127.7,1721.0 2128.0,1700.6 2128.3,1688.2 2128.5,1721.2 2128.8,1728.4 2129.1,1720.1 2129.4,1703.9 2129.7,1701.1 2130.0,1732.6 2130.2,1714.4 2130.5,1728.5 2130.8,1690.2 2131.1,1709.0 2131.4,1704.5 2131.7,1709.2 2131.9,1722.2 2132.2,1744.4 2132.5,1697.9 2132.8,1713.9 2133.1,1721.7 2133.3,1710.4 2133.6,1712.0 2133.9,1693.7 2134.2,1707.5 2134.5,1743.6 2134.8,1698.6 2135.0,1707.1 2135.3,1718.6 2135.6,1715.2 2135.9,1723.1 2136.2,1715.9 2136.5,1716.4 2136.7,1703.7 2137.0,1695.7 2137.3,1707.5 2137.6,1733.9 2137.9,1711.7 2138.2,1702.7 2138.4,1719.6 2138.7,1696.8 2139.0,1705.8 2139.3,1743.6 2139.6,1712.7 2139.8,1708.1 2140.1,1718.4 2140.4,1742.1 2140.7,1723.1 2141.0,1714.0 2141.3,1714.2 2141.5,1726.4 2141.8,1728.8 2142.1,1702.2 2142.4,1706.2 2142.7,1719.2 2143.0,1687.0 2143.2,1700.3 2143.5,1734.6 2143.8,1723.7 2144.1,1724.9 2144.4,1726.6 2144.7,1744.9 2144.9,1730.7 2145.2,1712.5 2145.5,1732.7 2145.8,1743.3 2146.1,1711.4 2146.3,1743.8 2146.6,1737.6 2146.9,1711.4 2147.2,1709.0 2147.5,1710.0 2147.8,1710.9 2148.0,1712.3 2148.3,1721.4 2148.6,1705.7 2148.9,1723.2 2149.2,1712.3 2149.5,1701.4 2149.7,1726.4 2150.0,1730.8 2150.3,1733.9 2150.6,1711.0 2150.9,1727.0 2151.2,1718.1 2151.4,1721.7 2151.7,1735.8 2152.0,1709.2 2152.3,1721.0 2152.6,1717.5 2152.8,1738.4 2153.1,1728.4 2153.4,1720.8 2153.7,1715.0 2154.0,1729.4 2154.3,1716.5 2154.5,1732.2 2154.8,1709.0 2155.1,1715.4 2155.4,1713.9 2155.7,1714.9 2156.0,1719.3 2156.2,1731.4 2156.5,1740.6 2156.8,1714.9 2157.1,1716.6 2157.4,1717.0 2157.6,1714.4 2157.9,1736.6 2158.2,1724.6 2158.5,1700.2 2158.8,1715.9 2159.1,1700.5 2159.3,1739.7 2159.6,1713.9 2159.9,1703.4 2160.2,1715.4 2160.5,1715.8 2160.8,1725.9 2161.0,1710.8 2161.3,1702.7 2161.6,1743.7 2161.9,1714.1 2162.2,1714.1 2162.5,1708.9 2162.7,1726.2 2163.0,1732.3 2163.3,1731.2 2163.6,1718.3 2163.9,1738.3 2164.1,1696.5 2164.4,1716.2 2164.7,1705.2 2165.0,1726.4 2165.3,1718.8 2165.6,1727.7 2165.8,1716.0 2166.1,1694.5 2166.4,1728.6 2166.7,1702.2 2167.0,1739.6 2167.3,1726.0 2167.5,1705.9 2167.8,1740.6 2168.1,1729.3 2168.4,1712.3 2168.7,1737.0 2169.0,1703.3 2169.2,1695.3 2169.5,1694.9 2169.8,1728.4 2170.1,1727.1 2170.4,1713.2 2170.6,1729.9 2170.9,1713.7 2171.2,1711.9 2171.5,1728.0 2171.8,1719.9 2172.1,1719.1 2172.3,1748.3 2172.6,1739.2 2172.9,1727.8 2173.2,1741.8 2173.5,1746.7 2173.8,1721.9 2174.0,1735.7 2174.3,1721.4 2174.6,1722.3 2174.9,1725.0 2175.2,1719.6 2175.5,1707.2 2175.7,1721.4 2176.0,1718.8 2176.3,1703.5 2176.6,1726.5 2176.9,1711.7 2177.1,1722.4 2177.4,1714.3 2177.7,1712.1 2178.0,1713.8 2178.3,1731.6 2178.6,1733.5 2178.8,1735.7 2179.1,1727.5 2179.4,1716.3 2179.7,1708.7 2180.0,1729.8 2180.3,1733.6 2180.5,1722.8 2180.8,1723.2 2181.1,1712.0 2181.4,1710.1 2181.7,1738.7 2182.0,1722.9 2182.2,1726.1 2182.5,1743.4 2182.8,1709.4 2183.1,1722.8 2183.4,1739.1 2183.6,1733.0 2183.9,1729.7 2184.2,1725.8 2184.5,1735.4 2184.8,1732.9 2185.1,1717.5 2185.3,1735.3 2185.6,1726.7 2185.9,1715.5 2186.2,1721.6 2186.5,1717.0 2186.8,1714.3 2187.0,1727.0 2187.3,1704.7 2187.6,1740.2 2187.9,1725.2 2188.2,1721.6 2188.5,1740.8 2188.7,1715.7 2189.0,1715.7 2189.3,1740.4 2189.6,1716.8 2189.9,1729.7 2190.1,1729.6 2190.4,1732.5 2190.7,1741.1 2191.0,1723.8 2191.3,1718.4 2191.6,1705.1 2191.8,1721.3 2192.1,1714.1 2192.4,1731.4 2192.7,1729.8 2193.0,1721.7 2193.3,1735.2 2193.5,1746.1 2193.8,1716.2 2194.1,1728.7 2194.4,1722.6 2194.7,1725.0 2195.0,1714.7 2195.2,1708.4 2195.5,1738.1 2195.8,1721.1 2196.1,1704.0 2196.4,1717.6 2196.6,1701.6 2196.9,1712.8 2197.2,1721.2 2197.5,1738.3 2197.8,1714.8 2198.1,1727.4 2198.3,1702.1 2198.6,1728.9 2198.9,1716.5 2199.2,1725.4 2199.5,1713.7 2199.8,1717.7 2200.0,1741.3 2200.3,1728.7 2200.6,1730.2 2200.9,1713.7 2201.2,1707.8 2201.5,1730.1 2201.7,1707.5 2202.0,1720.0 2202.3,1734.7 2202.6,1728.3 2202.9,1727.8 2203.1,1724.9 2203.4,1705.3 2203.7,1728.8 2204.0,1737.4 2204.3,1714.2 2204.6,1714.8 2204.8,1733.9 2205.1,1716.5 2205.4,1727.6 2205.7,1730.8 2206.0,1720.1 2206.3,1719.7 2206.5,1708.6 2206.8,1714.7 2207.1,1718.6 2207.4,1706.9 2207.7,1721.7 2208.0,1740.2 2208.2,1736.2 2208.5,1730.3 2208.8,1713.8 2209.1,1705.9 2209.4,1728.4 2209.6,1735.4 2209.9,1739.3 2210.2,1713.2 2210.5,1731.0 2210.8,1739.2 2211.1,1724.1 2211.3,1717.8 2211.6,1715.5 2211.9,1718.9 2212.2,1734.5 2212.5,1705.3 2212.8,1728.1 2213.0,1715.7 2213.3,1745.9 2213.6,1735.3 2213.9,1728.0 2214.2,1737.9 2214.5,1723.3 2214.7,1721.5 2215.0,1719.5 2215.3,1729.6 2215.6,1724.0 2215.9,1711.9 2216.1,1729.5 2216.4,1720.8 2216.7,1708.9 2217.0,1725.8 2217.3,1708.0 2217.6,1717.6 2217.8,1712.3 2218.1,1717.9 2218.4,1736.1 2218.7,1728.1 2219.0,1730.2 2219.3,1715.1" fill="none" stroke="#000" stroke-width="1.3" stroke-linejoin="miter" stroke-miterlimit="2"/>
<rect x="102.3" y="27.8" width="2117.7" height="1742.0" fill="none" stroke="#000" stroke-width="5"/>
<line x1="102.3" y1="1769" x2="102.3" y2="1794" stroke="#000" stroke-width="5"/>
<line x1="384.9" y1="1769" x2="384.9" y2="1794" stroke="#000" stroke-width="5"/>
<line x1="667.5" y1="1769" x2="667.5" y2="1794" stroke="#000" stroke-width="5"/>
<line x1="950.1" y1="1769" x2="950.1" y2="1794" stroke="#000" stroke-width="5"/>
<line x1="1232.7" y1="1769" x2="1232.7" y2="1794" stroke="#000" stroke-width="5"/>
<line x1="1515.3" y1="1769" x2="1515.3" y2="1794" stroke="#000" stroke-width="5"/>
<line x1="1797.9" y1="1769" x2="1797.9" y2="1794" stroke="#000" stroke-width="5"/>
<line x1="2080.5" y1="1769" x2="2080.5" y2="1794" stroke="#000" stroke-width="5"/>
<g font-family="'Liberation Serif','Times New Roman',serif" font-size="85" text-anchor="middle" fill="#000">
<text x="102.3" y="1895.5">5</text>
<text x="384.9" y="1895.5">15</text>
<text x="667.5" y="1895.5">25</text>
<text x="950.1" y="1895.5">35</text>
<text x="1232.7" y="1895.5">45</text>
<text x="1515.3" y="1895.5">55</text>
<text x="1797.9" y="1895.5">65</text>
<text x="2080.5" y="1895.5">75</text>
</g>
<text x="1062.8" y="2010" font-family="'Liberation Serif','Times New Roman',serif" font-size="85">2θ (°)</text>
<text transform="translate(75,1148.4) rotate(-90)" font-family="'Liberation Serif','Times New Roman',serif" font-size="85">Intensity (a.u.)</text>
<text x="1797.6" y="134.8" font-family="'Liberation Serif','Times New Roman',serif" font-size="85">Tetragonal</text>
<text x="1796.7" y="235.4" font-family="'Liberation Serif','Times New Roman',serif" font-size="85">Monoclinic</text>
<text x="255.8" y="255.0" font-family="'Liberation Serif','Times New Roman',serif" font-size="106">(a)</text>
<text x="255.8" y="739.0" font-family="'Liberation Serif','Times New Roman',serif" font-size="106">(b)</text>
<text x="255.8" y="1145.0" font-family="'Liberation Serif','Times New Roman',serif" font-size="106">(c)</text>
<text x="258.2" y="1570.0" font-family="'Liberation Serif','Times New Roman',serif" font-size="106">(d)</text>
<path d="M1724.5 95.8L1767.5 95.8L1746.0 136.3ZM1737.6 104.1L1754.4 104.1L1746.0 118.8Z" fill="#001d78" fill-rule="evenodd"/>
<path d="M1724.5 191.5L1767.5 191.5L1746.0 232.0ZM1737.6 199.8L1754.4 199.8L1746.0 214.5Z" fill="#ff0000" fill-rule="evenodd"/>
<path d="M793.5 80.2L836.5 80.2L815.0 120.7ZM806.6 88.5L823.4 88.5L815.0 103.2Z" fill="#001d78" fill-rule="evenodd"/>
<path d="M927.2 212.1L970.2 212.1L948.7 252.6ZM940.3 220.4L957.1 220.4L948.7 235.1Z" fill="#001d78" fill-rule="evenodd"/>
<path d="M1354.7 241.0L1397.7 241.0L1376.2 281.5ZM1367.8 249.3L1384.6 249.3L1376.2 264.0Z" fill="#001d78" fill-rule="evenodd"/>
<path d="M1638.8 281.0L1681.8 281.0L1660.3 321.5ZM1651.9 289.3L1668.7 289.3L1660.3 304.0Z" fill="#001d78" fill-rule="evenodd"/>
<path d="M793.2 547.3L836.2 547.3L814.7 587.8ZM806.3 555.6L823.1 555.6L814.7 570.3Z" fill="#001d78" fill-rule="evenodd"/>
<path d="M929.7 641.0L972.7 641.0L951.2 681.5ZM942.8 649.3L959.6 649.3L951.2 664.0Z" fill="#001d78" fill-rule="evenodd"/>
<path d="M1354.7 641.0L1397.7 641.0L1376.2 681.5ZM1367.8 649.3L1384.6 649.3L1376.2 664.0Z" fill="#001d78" fill-rule="evenodd"/>
<path d="M1638.8 669.3L1681.8 669.3L1660.3 709.8ZM1651.9 677.6L1668.7 677.6L1660.3 692.3Z" fill="#001d78" fill-rule="evenodd"/>
<path d="M618.5 1092.7L661.5 1092.7L640.0 1133.2ZM631.6 1101.0L648.4 1101.0L640.0 1115.7Z" fill="#ff0000" fill-rule="evenodd"/>
<path d="M735.1 983.6L778.1 983.6L756.6 1024.1ZM748.2 991.9L765.0 991.9L756.6 1006.6Z" fill="#ff0000" fill-rule="evenodd"/>
<path d="M793.1 968.7L836.1 968.7L814.6 1009.2ZM806.2 977.0L823.0 977.0L814.6 991.7Z" fill="#001d78" fill-rule="evenodd"/>
<path d="M823.4 1029.4L866.4 1029.4L844.9 1069.9ZM836.5 1037.7L853.3 1037.7L844.9 1052.4Z" fill="#ff0000" fill-rule="evenodd"/>
<path d="M910.7 1032.0L953.7 1032.0L932.2 1072.5ZM923.8 1040.3L940.6 1040.3L932.2 1055.0Z" fill="#ff0000" fill-rule="evenodd"/>
<path d="M910.7 1092.7L953.7 1092.7L932.2 1133.2ZM923.8 1101.0L940.6 1101.0L932.2 1115.7Z" fill="#001d78" fill-rule="evenodd"/>
<path d="M1084.4 1191.5L1127.4 1191.5L1105.9 1232.0ZM1097.5 1199.8L1114.3 1199.8L1105.9 1214.5Z" fill="#ff0000" fill-rule="evenodd"/>
<path d="M1208.4 1197.2L1251.4 1197.2L1229.9 1237.7ZM1221.5 1205.5L1238.3 1205.5L1229.9 1220.2Z" fill="#ff0000" fill-rule="evenodd"/>
<path d="M1355.2 1021.8L1398.2 1021.8L1376.7 1062.3ZM1368.3 1030.1L1385.1 1030.1L1376.7 1044.8Z" fill="#ff0000" fill-rule="evenodd"/>
<path d="M1499.3 1158.7L1542.3 1158.7L1520.8 1199.2ZM1512.4 1167.0L1529.2 1167.0L1520.8 1181.7Z" fill="#ff0000" fill-rule="evenodd"/>
<path d="M1636.3 1092.7L1679.3 1092.7L1657.8 1133.2ZM1649.4 1101.0L1666.2 1101.0L1657.8 1115.7Z" fill="#001d78" fill-rule="evenodd"/>
<path d="M1785.6 1194.3L1828.6 1194.3L1807.1 1234.8ZM1798.7 1202.6L1815.5 1202.6L1807.1 1217.3Z" fill="#ff0000" fill-rule="evenodd"/>
<path d="M620.5 1524.1L663.5 1524.1L642.0 1564.6ZM633.6 1532.4L650.4 1532.4L642.0 1547.1Z" fill="#ff0000" fill-rule="evenodd"/>
<path d="M735.1 1361.9L778.1 1361.9L756.6 1402.4ZM748.2 1370.2L765.0 1370.2L756.6 1384.9Z" fill="#ff0000" fill-rule="evenodd"/>
<path d="M823.4 1374.3L866.4 1374.3L844.9 1414.8ZM836.5 1382.6L853.3 1382.6L844.9 1397.3Z" fill="#ff0000" fill-rule="evenodd"/>
<path d="M911.9 1463.6L954.9 1463.6L933.4 1504.1ZM925.0 1471.9L941.8 1471.9L933.4 1486.6Z" fill="#ff0000" fill-rule="evenodd"/>
<path d="M911.9 1524.8L954.9 1524.8L933.4 1565.3ZM925.0 1533.1L941.8 1533.1L933.4 1547.8Z" fill="#001d78" fill-rule="evenodd"/>
<path d="M1084.4 1590.0L1127.4 1590.0L1105.9 1630.5ZM1097.5 1598.3L1114.3 1598.3L1105.9 1613.0Z" fill="#ff0000" fill-rule="evenodd"/>
<path d="M1208.4 1595.0L1251.4 1595.0L1229.9 1635.5ZM1221.5 1603.3L1238.3 1603.3L1229.9 1618.0Z" fill="#ff0000" fill-rule="evenodd"/>
<path d="M1360.2 1478.4L1403.2 1478.4L1381.7 1518.9ZM1373.3 1486.7L1390.1 1486.7L1381.7 1501.4Z" fill="#001d78" fill-rule="evenodd"/>
<path d="M1499.1 1567.0L1542.1 1567.0L1520.6 1607.5ZM1512.2 1575.3L1529.0 1575.3L1520.6 1590.0Z" fill="#ff0000" fill-rule="evenodd"/>
</svg></body></html>
